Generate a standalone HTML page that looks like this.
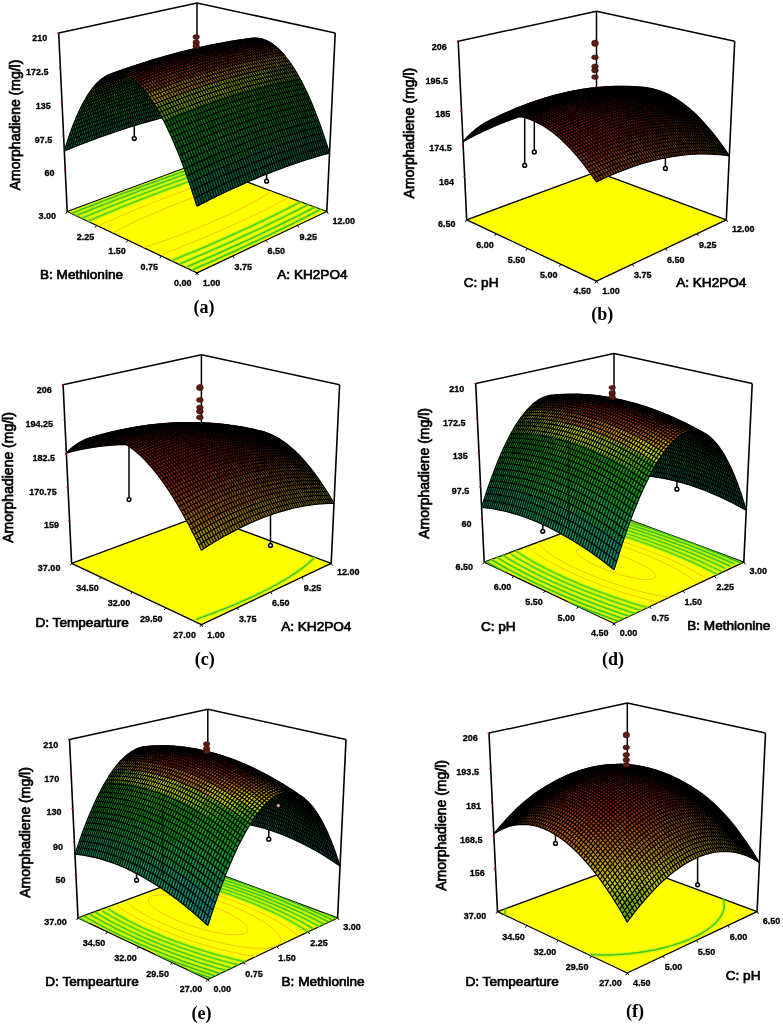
<!DOCTYPE html>
<html><head><meta charset="utf-8"><title>Response surface plots</title>
<style>
html,body{margin:0;padding:0;background:#fff}
svg{display:block;filter:blur(.4px)}
text{font-family:"Liberation Sans",sans-serif;fill:#000}
.tk{font-size:9px;font-weight:bold;stroke:#000;stroke-width:.3px}
.ti{font-size:13.6px;stroke:#000;stroke-width:.7px}
.tz{font-size:14px;stroke:#000;stroke-width:.7px}
.cap{font-family:"Liberation Serif",serif;font-weight:bold;font-size:18px}
</style></head><body>
<svg width="783" height="1025" viewBox="0 0 783 1025">
<rect width="783" height="1025" fill="#fff"/>
<g id="pa"><path d="M197.0 163.5L197.0 2.9M58.7 33.0L197.0 2.9M197.0 2.9L335.2 33.0" fill="none" stroke="#000" stroke-width="1.5"/>
<path d="M67.2 211.5L197.0 272.9L326.8 211.5L197.0 163.5z" fill="#ffff00" stroke="#000" stroke-width="1.3" stroke-linejoin="round"/>
<g fill="none" stroke-linecap="round" clip-path="url(#fla)">
<clipPath id="fla"><path d="M67.2 211.5L197.0 272.9L326.8 211.5L197.0 163.5z"/></clipPath>
<path d="M320.6 209.3l-4 2.1l-4.1 2.1l-3.6 1.8l-3.3 1.8l-4.3 2.1l-4.3 2.2l-4.4 2.2l-4.4 2.2l-4.5 2.2l-4.6 2.2l-4.6 2.2l-4.7 2.3l-4.8 2.2l-4.8 2.3l-4.9 2.3l-4.9 2.3l-5 2.4l-5.1 2.3l-5.2 2.4l-5.2 2.3l-5.3 2.4l-5.4 2.4l-5.4 2.4l-5.5 2.5l-5.6 2.4l-5.6 2.5l-3.9 1.6" stroke="#a0f000" stroke-width="4.2" opacity=".5"/>
<path d="M320.6 209.3l-4 2.1l-4.1 2.1l-3.6 1.8l-3.3 1.8l-4.3 2.1l-4.3 2.2l-4.4 2.2l-4.4 2.2l-4.5 2.2l-4.6 2.2l-4.6 2.2l-4.7 2.3l-4.8 2.2l-4.8 2.3l-4.9 2.3l-4.9 2.3l-5 2.4l-5.1 2.3l-5.2 2.4l-5.2 2.3l-5.3 2.4l-5.4 2.4l-5.4 2.4l-5.5 2.5l-5.6 2.4l-5.6 2.5l-3.9 1.6" stroke="#3cc324" stroke-width="1.60"/>
<path d="M71.4 213.5l5.3-2.1l5.2-2.1l5.2-2l5.2-2.1l5.1-2l5.1-1.9l5.1-2l5-1.9l5-1.9l5-1.9l5-1.9l4.9-1.8l4.9-1.8l4.8-1.8l4.9-1.8l4.8-1.8l4.8-1.7l4.7-1.7l4.8-1.7l4.7-1.7l4.7-1.6l4.6-1.7l4.7-1.6l4.6-1.6l4.3-1.4l3.3-1.2l4.6-1.5" stroke="#a0f000" stroke-width="4.2" opacity=".5"/>
<path d="M71.4 213.5l5.3-2.1l5.2-2.1l5.2-2l5.2-2.1l5.1-2l5.1-1.9l5.1-2l5-1.9l5-1.9l5-1.9l5-1.9l4.9-1.8l4.9-1.8l4.8-1.8l4.9-1.8l4.8-1.8l4.8-1.7l4.7-1.7l4.8-1.7l4.7-1.7l4.7-1.6l4.6-1.7l4.7-1.6l4.6-1.6l4.3-1.4l3.3-1.2l4.6-1.5" stroke="#3cc324" stroke-width="1.60"/>
<path d="M314.8 207.1l-4 2.1l-4.1 2.1l-4.1 2.1l-4.2 2.2l-3.1 1.5l-4.1 2l-4.4 2.2l-4.4 2.2l-4.5 2.2l-4.5 2.2l-4.7 2.2l-4.6 2.2l-4.8 2.3l-4.8 2.2l-4.9 2.3l-5 2.3l-5 2.3l-5.1 2.3l-5.1 2.3l-5.3 2.4l-5.3 2.3l-5.3 2.4l-5.5 2.4l-5.5 2.4l-3.7 1.6l-5.7 2.4l-5.7 2.5" stroke="#a0f000" stroke-width="4.2" opacity=".5"/>
<path d="M314.8 207.1l-4 2.1l-4.1 2.1l-4.1 2.1l-4.2 2.2l-3.1 1.5l-4.1 2l-4.4 2.2l-4.4 2.2l-4.5 2.2l-4.5 2.2l-4.7 2.2l-4.6 2.2l-4.8 2.3l-4.8 2.2l-4.9 2.3l-5 2.3l-5 2.3l-5.1 2.3l-5.1 2.3l-5.3 2.4l-5.3 2.3l-5.3 2.4l-5.5 2.4l-5.5 2.4l-3.7 1.6l-5.7 2.4l-5.7 2.5" stroke="#44c722" stroke-width="1.60"/>
<path d="M76.1 215.7l5.2-2.1l3.5-1.4l5.2-2.1l5.2-2.1l5.1-2l5.1-2l5.1-2l5.1-2l5-1.9l5-1.9l4.9-1.9l4.9-1.9l4.9-1.8l4.9-1.8l4.9-1.8l4.8-1.8l4.8-1.8l4.8-1.7l4.7-1.7l4.8-1.7l4.7-1.7l4.6-1.6l4.7-1.6l3.1-1.1l4.6-1.6l4.6-1.6l4.6-1.5" stroke="#a0f000" stroke-width="4.2" opacity=".5"/>
<path d="M76.1 215.7l5.2-2.1l3.5-1.4l5.2-2.1l5.2-2.1l5.1-2l5.1-2l5.1-2l5.1-2l5-1.9l5-1.9l4.9-1.9l4.9-1.9l4.9-1.8l4.9-1.8l4.9-1.8l4.8-1.8l4.8-1.8l4.8-1.7l4.7-1.7l4.8-1.7l4.7-1.7l4.6-1.6l4.7-1.6l3.1-1.1l4.6-1.6l4.6-1.6l4.6-1.5" stroke="#44c722" stroke-width="1.60"/>
<path d="M308 204.6l-4 2.1l-4 2.1l-2.8 1.4l-4.1 2.1l-4.2 2.1l-4.3 2.2l-4.4 2.1l-4.4 2.2l-4.5 2.1l-4.5 2.2l-4.7 2.2l-4.6 2.2l-4.8 2.3l-4.8 2.2l-4.9 2.2l-5 2.3l-5 2.3l-5.1 2.3l-5.2 2.3l-5.2 2.3l-5.3 2.3l-5.4 2.3l-5.5 2.4l-5.5 2.3l-5.6 2.4l-5.7 2.4l-3.9 1.6" stroke="#a0f000" stroke-width="4.2" opacity=".5"/>
<path d="M308 204.6l-4 2.1l-4 2.1l-2.8 1.4l-4.1 2.1l-4.2 2.1l-4.3 2.2l-4.4 2.1l-4.4 2.2l-4.5 2.1l-4.5 2.2l-4.7 2.2l-4.6 2.2l-4.8 2.3l-4.8 2.2l-4.9 2.2l-5 2.3l-5 2.3l-5.1 2.3l-5.2 2.3l-5.2 2.3l-5.3 2.3l-5.4 2.3l-5.5 2.4l-5.5 2.3l-5.6 2.4l-5.7 2.4l-3.9 1.6" stroke="#4dcc21" stroke-width="1.60"/>
<path d="M81.6 218.3l5.2-2.1l5.2-2.2l5.2-2.1l5.1-2.1l5.1-2l5.1-2.1l5.1-2l5-2l5-1.9l5-1.9l4.9-1.9l5-1.9l4.9-1.9l4.8-1.8l4.9-1.8l4.8-1.8l4.8-1.8l4.8-1.7l4.8-1.7l4.7-1.7l4.7-1.7l4.7-1.6l4.7-1.7l4.6-1.6l4.2-1.4l3.6-1.2l4.6-1.6" stroke="#a0f000" stroke-width="4.2" opacity=".5"/>
<path d="M81.6 218.3l5.2-2.1l5.2-2.2l5.2-2.1l5.1-2.1l5.1-2l5.1-2.1l5.1-2l5-2l5-1.9l5-1.9l4.9-1.9l5-1.9l4.9-1.9l4.8-1.8l4.9-1.8l4.8-1.8l4.8-1.8l4.8-1.7l4.8-1.7l4.7-1.7l4.7-1.7l4.7-1.6l4.7-1.7l4.6-1.6l4.2-1.4l3.6-1.2l4.6-1.6" stroke="#4dcc21" stroke-width="1.60"/>
<path d="M300.6 201.9l-3.9 2l-4 2.1l-4.1 2.1l-2.8 1.4l-4.2 2.1l-4.3 2.2l-4.3 2.1l-4.4 2.1l-4.5 2.2l-4.5 2.1l-4.6 2.2l-4.7 2.2l-4.7 2.2l-4.9 2.2l-4.8 2.2l-5 2.3l-5 2.2l-5.2 2.3l-5.1 2.2l-5.3 2.3l-5.3 2.3l-5.4 2.3l-5.5 2.3l-5.6 2.3l-5.7 2.3l-3.8 1.6l-5.8 2.3" stroke="#a0f000" stroke-width="4.2" opacity=".5"/>
<path d="M300.6 201.9l-3.9 2l-4 2.1l-4.1 2.1l-2.8 1.4l-4.2 2.1l-4.3 2.2l-4.3 2.1l-4.4 2.1l-4.5 2.2l-4.5 2.1l-4.6 2.2l-4.7 2.2l-4.7 2.2l-4.9 2.2l-4.8 2.2l-5 2.3l-5 2.2l-5.2 2.3l-5.1 2.2l-5.3 2.3l-5.3 2.3l-5.4 2.3l-5.5 2.3l-5.6 2.3l-5.7 2.3l-3.8 1.6l-5.8 2.3" stroke="#56d01f" stroke-width="1.60"/>
<path d="M87.7 221.2l3.5-1.4l5.2-2.2l5.1-2.2l5.2-2.1l5.1-2.1l5.1-2.1l5-2.1l5-2l5-2l5-1.9l5-2l4.9-1.9l4.9-1.9l4.9-1.8l4.9-1.9l4.8-1.8l4.8-1.7l4.8-1.8l4.8-1.7l4.8-1.8l4.7-1.6l4.8-1.7l4.7-1.7l4.7-1.6l3.1-1.1l4.7-1.6l4.7-1.5" stroke="#a0f000" stroke-width="4.2" opacity=".5"/>
<path d="M87.7 221.2l3.5-1.4l5.2-2.2l5.1-2.2l5.2-2.1l5.1-2.1l5.1-2.1l5-2.1l5-2l5-2l5-1.9l5-2l4.9-1.9l4.9-1.9l4.9-1.8l4.9-1.9l4.8-1.8l4.8-1.7l4.8-1.8l4.8-1.7l4.8-1.8l4.7-1.6l4.8-1.7l4.7-1.7l4.7-1.6l3.1-1.1l4.7-1.6l4.7-1.5" stroke="#56d01f" stroke-width="1.60"/>
<path d="M288.8 197.5l-3.8 2.1l-3.9 2l-2.7 1.5l-4.1 2.1l-4.1 2.1l-4.2 2.1l-4.3 2.1l-2.9 1.4l-4.4 2.1l-4.5 2.2l-4.5 2.1l-4.6 2.1l-4.8 2.2l-4.7 2.2l-4.9 2.1l-5 2.2l-5 2.2l-5.1 2.2l-5.2 2.2l-5.2 2.2l-5.4 2.2l-5.4 2.2l-3.7 1.5l-5.6 2.3l-5.6 2.2l-5.8 2.2l-5.8 2.3" stroke="#f2c000" stroke-width="0.90"/>
<path d="M97.8 226l5.1-2.3l5.1-2.3l5.1-2.2l5.1-2.2l3.3-1.4l5.1-2.2l5-2.1l5-2.1l5-2l4.9-2l5-2l4.9-1.9l4.9-2l4.9-1.8l4.9-1.9l4.9-1.8l4.8-1.8l4.9-1.8l4.8-1.8l4.8-1.7l3.4-1.2l4.6-1.6l4.8-1.7l4.8-1.6l4.8-1.6l4.3-1.5l3.7-1.2" stroke="#f2c000" stroke-width="0.90"/>
<path d="M271.6 191.1l-3.3 2.3l-2.3 1.4l-3.6 2.2l-2.6 1.5l-3.7 2.1l-3.9 2.2l-3.8 2l-3 1.5l-4.3 2.2l-4.3 2.1l-4.4 2.1l-4.5 2.2l-4.6 2.1l-3.2 1.4l-4.8 2.1l-4.9 2.1l-5 2.2l-5 2.1l-3.5 1.4l-5.3 2.1l-5.3 2.1l-5.5 2.1l-5.6 2.1l-5.6 2.1l-3.9 1.4l-5.9 2l-6 2.1l-4.1 1.3l-6.3 2" stroke="#f2c000" stroke-width="0.90"/>
<path d="M112.6 233l3.8-2.1l4.1-2.1l4.9-2.4l4.3-2.2l3.8-1.8l4.8-2.2l4.9-2.3l4.9-2.2l4.9-2.1l3.3-1.4l4.9-2.1l4.9-2l4.9-2l4.9-2l4.9-1.9l5-1.9l4.9-1.8l3.3-1.2l4.9-1.8l5-1.8l5-1.7l5-1.7l3.3-1.1l5.1-1.6l5.1-1.5l3.4-1l5.2-1.5l3.4-1l5.4-1.4" stroke="#f2c000" stroke-width="0.90"/>
</g>
<path d="M197.0 272.9l-1.5 2.2M197.0 272.9l1.5 2.2M161.3 256.0l-1.5 2.2M232.7 256.0l1.5 2.2M127.9 240.2l-1.5 2.2M266.1 240.2l1.5 2.2M96.6 225.4l-1.5 2.2M297.4 225.4l1.5 2.2M67.2 211.5l-1.5 2.2M326.8 211.5l1.5 2.2" stroke="#000" stroke-width="1" fill="none"/>
<path d="M67.2 211.5L58.7 33.0M326.8 211.5L335.2 33.0" fill="none" stroke="#000" stroke-width="1.6"/>
<path d="M59.0 33.0h-1.6M60.7 68.1h-1.6M62.3 102.4h-1.6M63.9 135.9h-1.6M65.5 168.6h-1.6" stroke="#c00000" stroke-width="1.4" fill="none"/>
<path d="M134.3 124.0V137.1" stroke="#000" stroke-width="1.5"/>
<circle cx="134.3" cy="138.6" r="1.9" fill="#fff" stroke="#000" stroke-width="1.5"/>
<path d="M266.6 172.0V179.7" stroke="#000" stroke-width="1.5"/>
<circle cx="266.6" cy="181.2" r="1.9" fill="#fff" stroke="#000" stroke-width="1.5"/>
<g stroke-width=".5" stroke-linejoin="round">
<path d="M169.6 101.3l7-1.6l-6.5 16.1l-6.9 1.7z" fill="#007040" stroke="#007040"/>
<path d="M162.5 103.1l7.1-1.8l-6.4 16.2l-7.1 1.9z" fill="#00713f" stroke="#00713f"/>
<path d="M176.2 86.9l7-1.6l-6.6 14.4l-7 1.6z" fill="#007721" stroke="#007721"/>
<path d="M155.3 104.9l7.2-1.8l-6.4 16.3l-7.1 1.9z" fill="#00713f" stroke="#00713f"/>
<path d="M169.1 88.6l7.1-1.7l-6.6 14.4l-7.1 1.8z" fill="#007820" stroke="#007820"/>
<path d="M239.6 40.5l6.7-0.9l-7.4 3.9l-6.7 1z" fill="#a45200" stroke="#a45200"/>
<path d="M148.1 106.9l7.2-2l-6.3 16.4l-7.2 2.1z" fill="#00713f" stroke="#00713f"/>
<path d="M161.8 90.4l7.3-1.8l-6.6 14.5l-7.2 1.8z" fill="#007820" stroke="#007820"/>
<path d="M232.7 41.6l6.9-1.1l-7.4 4l-6.9 1z" fill="#a04a00" stroke="#a04a00"/>
<path d="M247.1 38.9l6.7-0.9l-7.5 1.6l-6.7 0.9z" fill="#8f2500" stroke="#8f2500"/>
<path d="M140.7 109l7.4-2.1l-6.3 16.5l-7.3 2.2z" fill="#00713e" stroke="#00713e"/>
<path d="M154.5 92.3l7.3-1.9l-6.5 14.5l-7.2 2z" fill="#007820" stroke="#007820"/>
<path d="M168.5 77.7l7.3-1.7l-6.7 12.6l-7.3 1.8z" fill="#037b0f" stroke="#037b0f"/>
<path d="M225.8 42.7l6.9-1.1l-7.4 3.9l-6.9 1.1z" fill="#9d4300" stroke="#9d4300"/>
<path d="M240.2 39.9l6.9-1l-7.5 1.6l-6.9 1.1z" fill="#8b1c00" stroke="#8b1c00"/>
<path d="M254.6 39.6l6.8-0.9l-7.6-0.7l-6.7 0.9z" fill="#871400" stroke="#871400"/>
<path d="M133.2 111.3l7.5-2.3l-6.2 16.6l-7.4 2.3z" fill="#00723e" stroke="#00723e"/>
<path d="M147.1 94.3l7.4-2l-6.4 14.6l-7.4 2.1z" fill="#00781f" stroke="#00781f"/>
<path d="M247.8 40.6l6.8-1l-7.5-0.7l-6.9 1z" fill="#861300" stroke="#861300"/>
<path d="M262.3 42.6l6.7-0.9l-7.6-3l-6.8 0.9z" fill="#841400" stroke="#841400"/>
<path d="M161.2 79.6l7.3-1.9l-6.7 12.7l-7.3 1.9z" fill="#037b0f" stroke="#037b0f"/>
<path d="M218.7 43.9l7.1-1.2l-7.4 3.9l-7 1.3z" fill="#9a3c00" stroke="#9a3c00"/>
<path d="M233.3 41l6.9-1.1l-7.5 1.7l-6.9 1.1z" fill="#881500" stroke="#881500"/>
<path d="M125.7 113.6l7.5-2.3l-6.1 16.6l-7.5 2.4z" fill="#00723f" stroke="#00723f"/>
<path d="M139.6 96.5l7.5-2.2l-6.4 14.7l-7.5 2.3z" fill="#00791f" stroke="#00791f"/>
<path d="M153.7 81.6l7.5-2l-6.7 12.7l-7.4 2z" fill="#037b0e" stroke="#037b0e"/>
<path d="M168 68.9l7.4-1.8l-6.9 10.6l-7.3 1.9z" fill="#0c8000" stroke="#0c8000"/>
<path d="M211.6 45.3l7.1-1.4l-7.3 4l-7.2 1.3z" fill="#983700" stroke="#983700"/>
<path d="M226.2 42.3l7.1-1.3l-7.5 1.7l-7.1 1.2z" fill="#881500" stroke="#881500"/>
<path d="M240.8 41.7l7-1.1l-7.6-0.7l-6.9 1.1z" fill="#861300" stroke="#861300"/>
<path d="M255.4 43.7l6.9-1.1l-7.7-3l-6.8 1z" fill="#841300" stroke="#841300"/>
<path d="M269.9 48.1l6.8-1l-7.7-5.4l-6.7 0.9z" fill="#882400" stroke="#882400"/>
<path d="M118 116.1l7.7-2.5l-6.1 16.7l-7.6 2.6z" fill="#00723f" stroke="#00723f"/>
<path d="M132 98.8l7.6-2.3l-6.4 14.8l-7.5 2.3z" fill="#007920" stroke="#007920"/>
<path d="M146.2 83.7l7.5-2.1l-6.6 12.7l-7.5 2.2z" fill="#037b0e" stroke="#037b0e"/>
<path d="M160.5 70.9l7.5-2l-6.8 10.7l-7.5 2z" fill="#0e8100" stroke="#0e8100"/>
<path d="M204.3 46.7l7.3-1.4l-7.4 3.9l-7.2 1.5z" fill="#963200" stroke="#963200"/>
<path d="M219.1 43.6l7.1-1.3l-7.5 1.6l-7.1 1.4z" fill="#881400" stroke="#881400"/>
<path d="M233.8 43l7-1.3l-7.5-0.7l-7.1 1.3z" fill="#861200" stroke="#861200"/>
<path d="M248.5 44.8l6.9-1.1l-7.6-3.1l-7 1.1z" fill="#841200" stroke="#841200"/>
<path d="M263.1 49.2l6.8-1.1l-7.6-5.5l-6.9 1.1z" fill="#851c00" stroke="#851c00"/>
<path d="M277.6 56l6.7-1l-7.6-7.9l-6.8 1z" fill="#984d00" stroke="#984d00"/>
<path d="M110.3 118.7l7.7-2.6l-6 16.8l-7.7 2.7z" fill="#00723f" stroke="#00723f"/>
<path d="M124.3 101.2l7.7-2.4l-6.3 14.8l-7.7 2.5z" fill="#007920" stroke="#007920"/>
<path d="M138.5 85.9l7.7-2.2l-6.6 12.8l-7.6 2.3z" fill="#037c0e" stroke="#037c0e"/>
<path d="M152.9 72.9l7.6-2l-6.8 10.7l-7.5 2.1z" fill="#0e8200" stroke="#0e8200"/>
<path d="M197 48.3l7.3-1.6l-7.3 4l-7.4 1.6z" fill="#952f00" stroke="#952f00"/>
<path d="M211.8 45.1l7.3-1.5l-7.5 1.7l-7.3 1.4z" fill="#881300" stroke="#881300"/>
<path d="M226.6 44.3l7.2-1.3l-7.6-0.7l-7.1 1.3z" fill="#861100" stroke="#861100"/>
<path d="M241.5 46.1l7-1.3l-7.7-3.1l-7 1.3z" fill="#841200" stroke="#841200"/>
<path d="M256.2 50.4l6.9-1.2l-7.7-5.5l-6.9 1.1z" fill="#821500" stroke="#821500"/>
<path d="M270.8 57.2l6.8-1.2l-7.7-7.9l-6.8 1.1z" fill="#944600" stroke="#944600"/>
<path d="M285.3 66.4l6.7-1.1l-7.7-10.3l-6.7 1z" fill="#a49000" stroke="#a49000"/>
<path d="M102.4 121.5l7.9-2.8l-6 16.9l-7.8 2.8z" fill="#007240" stroke="#007240"/>
<path d="M116.5 103.7l7.8-2.5l-6.3 14.9l-7.7 2.6z" fill="#007920" stroke="#007920"/>
<path d="M159.9 64.3l7.6-2l-7 8.6l-7.6 2z" fill="#9bb200" stroke="#9bb200"/>
<path d="M219.4 45.8l7.2-1.5l-7.5-0.7l-7.3 1.5z" fill="#861100" stroke="#861100"/>
<path d="M234.3 47.5l7.2-1.4l-7.7-3.1l-7.2 1.3z" fill="#841100" stroke="#841100"/>
<path d="M278.5 67.6l6.8-1.2l-7.7-10.4l-6.8 1.2z" fill="#a38800" stroke="#a38800"/>
<path d="M293 79.2l6.6-1.2l-7.6-12.7l-6.7 1.1z" fill="#4e8700" stroke="#4e8700"/>
<path d="M130.7 88.3l7.8-2.4l-6.5 12.9l-7.7 2.4z" fill="#037c0f" stroke="#037c0f"/>
<path d="M145.2 75.1l7.7-2.2l-6.7 10.8l-7.7 2.2z" fill="#0e8200" stroke="#0e8200"/>
<path d="M189.5 50l7.5-1.7l-7.4 4l-7.4 1.8z" fill="#942c00" stroke="#942c00"/>
<path d="M204.5 46.7l7.3-1.6l-7.5 1.6l-7.3 1.6z" fill="#881300" stroke="#881300"/>
<path d="M249.2 51.7l7-1.3l-7.7-5.6l-7 1.3z" fill="#811400" stroke="#811400"/>
<path d="M263.9 58.4l6.9-1.2l-7.7-8l-6.9 1.2z" fill="#913f00" stroke="#913f00"/>
<path d="M94.5 124.4l7.9-2.9l-5.9 16.9l-7.9 3z" fill="#007241" stroke="#007241"/>
<path d="M108.5 106.4l8-2.7l-6.2 15l-7.9 2.8z" fill="#007a20" stroke="#007a20"/>
<path d="M122.9 90.7l7.8-2.4l-6.4 12.9l-7.8 2.5z" fill="#037c0f" stroke="#037c0f"/>
<path d="M137.4 77.4l7.8-2.3l-6.7 10.8l-7.8 2.4z" fill="#0d8200" stroke="#0d8200"/>
<path d="M152.1 66.4l7.8-2.1l-7 8.6l-7.7 2.2z" fill="#9bb200" stroke="#9bb200"/>
<path d="M182 51.9l7.5-1.9l-7.3 4.1l-7.5 1.8z" fill="#932a00" stroke="#932a00"/>
<path d="M197 48.4l7.5-1.7l-7.5 1.6l-7.5 1.7z" fill="#881300" stroke="#881300"/>
<path d="M212 47.4l7.4-1.6l-7.6-0.7l-7.3 1.6z" fill="#861000" stroke="#861000"/>
<path d="M227.1 49l7.2-1.5l-7.7-3.2l-7.2 1.5z" fill="#841000" stroke="#841000"/>
<path d="M242 53.2l7.2-1.5l-7.7-5.6l-7.2 1.4z" fill="#811300" stroke="#811300"/>
<path d="M256.9 59.8l7-1.4l-7.7-8l-7 1.3z" fill="#8f3900" stroke="#8f3900"/>
<path d="M271.7 69l6.8-1.4l-7.7-10.4l-6.9 1.2z" fill="#a18000" stroke="#a18000"/>
<path d="M286.2 80.5l6.8-1.3l-7.7-12.8l-6.8 1.2z" fill="#598b00" stroke="#598b00"/>
<path d="M300.6 94.5l6.6-1.4l-7.6-15.1l-6.6 1.2z" fill="#046b03" stroke="#046b03"/>
<path d="M86.4 127.4l8.1-3l-5.9 17l-8 3z" fill="#007242" stroke="#007242"/>
<path d="M100.5 109.2l8-2.8l-6.1 15.1l-7.9 2.9z" fill="#007a21" stroke="#007a21"/>
<path d="M114.9 93.4l8-2.7l-6.4 13l-8 2.7z" fill="#037c0f" stroke="#037c0f"/>
<path d="M129.5 79.8l7.9-2.4l-6.7 10.9l-7.8 2.4z" fill="#0b8100" stroke="#0b8100"/>
<path d="M144.3 68.7l7.8-2.3l-6.9 8.7l-7.8 2.3z" fill="#9ab200" stroke="#9ab200"/>
<path d="M174.3 53.9l7.7-2l-7.3 4l-7.7 2z" fill="#932a00" stroke="#932a00"/>
<path d="M189.4 50.2l7.6-1.8l-7.5 1.6l-7.5 1.9z" fill="#881300" stroke="#881300"/>
<path d="M204.6 49.2l7.4-1.8l-7.5-0.7l-7.5 1.7z" fill="#861000" stroke="#861000"/>
<path d="M219.7 50.7l7.4-1.7l-7.7-3.2l-7.4 1.6z" fill="#841000" stroke="#841000"/>
<path d="M234.8 54.7l7.2-1.5l-7.7-5.7l-7.2 1.5z" fill="#811300" stroke="#811300"/>
<path d="M249.8 61.3l7.1-1.5l-7.7-8.1l-7.2 1.5z" fill="#8d3400" stroke="#8d3400"/>
<path d="M264.7 70.4l7-1.4l-7.8-10.6l-7 1.4z" fill="#a07a00" stroke="#a07a00"/>
<path d="M279.4 82l6.8-1.5l-7.7-12.9l-6.8 1.4z" fill="#628e00" stroke="#628e00"/>
<path d="M293.9 95.9l6.7-1.4l-7.6-15.3l-6.8 1.3z" fill="#046b03" stroke="#046b03"/>
<path d="M308.2 112.2l6.5-1.5l-7.5-17.6l-6.6 1.4z" fill="#026710" stroke="#026710"/>
<path d="M78.2 130.5l8.2-3.1l-5.8 17l-8.1 3.3z" fill="#007243" stroke="#007243"/>
<path d="M92.4 112.2l8.1-3l-6 15.2l-8.1 3z" fill="#007a22" stroke="#007a22"/>
<path d="M136.3 71.1l8-2.4l-6.9 8.7l-7.9 2.4z" fill="#97b200" stroke="#97b200"/>
<path d="M197 51.1l7.6-1.9l-7.6-0.8l-7.6 1.8z" fill="#861000" stroke="#861000"/>
<path d="M257.6 72l7.1-1.6l-7.8-10.6l-7.1 1.5z" fill="#a07400" stroke="#a07400"/>
<path d="M301.5 113.8l6.7-1.6l-7.6-17.7l-6.7 1.4z" fill="#02670f" stroke="#02670f"/>
<path d="M315.7 132.3l6.5-1.6l-7.5-20l-6.5 1.5z" fill="#006320" stroke="#006320"/>
<path d="M106.8 96.1l8.1-2.7l-6.4 13l-8 2.8z" fill="#037d10" stroke="#037d10"/>
<path d="M121.5 82.4l8-2.6l-6.6 10.9l-8 2.7z" fill="#088100" stroke="#088100"/>
<path d="M151.4 62.3l7.8-2.3l-7.1 6.4l-7.8 2.3z" fill="#b17200" stroke="#b17200"/>
<path d="M166.5 56l7.8-2.1l-7.3 4l-7.8 2.1z" fill="#942a00" stroke="#942a00"/>
<path d="M181.7 52.2l7.7-2l-7.4 1.7l-7.7 2z" fill="#891300" stroke="#891300"/>
<path d="M212.2 52.5l7.5-1.8l-7.7-3.3l-7.4 1.8z" fill="#841000" stroke="#841000"/>
<path d="M227.5 56.4l7.3-1.7l-7.7-5.7l-7.4 1.7z" fill="#811200" stroke="#811200"/>
<path d="M242.6 63l7.2-1.7l-7.8-8.1l-7.2 1.5z" fill="#8b3000" stroke="#8b3000"/>
<path d="M272.5 83.6l6.9-1.6l-7.7-13l-7 1.4z" fill="#6b9100" stroke="#6b9100"/>
<path d="M287.1 97.5l6.8-1.6l-7.7-15.4l-6.8 1.5z" fill="#046b02" stroke="#046b02"/>
<path d="M69.9 133.8l8.3-3.3l-5.7 17.2l-8.2 3.3z" fill="#007244" stroke="#007244"/>
<path d="M84.1 115.3l8.3-3.1l-6 15.2l-8.2 3.1z" fill="#007a23" stroke="#007a23"/>
<path d="M98.6 99l8.2-2.9l-6.3 13.1l-8.1 3z" fill="#037d10" stroke="#037d10"/>
<path d="M128.3 73.7l8-2.6l-6.8 8.7l-8 2.6z" fill="#93b100" stroke="#93b100"/>
<path d="M143.4 64.7l8-2.4l-7.1 6.4l-8 2.4z" fill="#b27500" stroke="#b27500"/>
<path d="M189.3 53.1l7.7-2l-7.6-0.9l-7.7 2z" fill="#871000" stroke="#871000"/>
<path d="M204.7 54.4l7.5-1.9l-7.6-3.3l-7.6 1.9z" fill="#841000" stroke="#841000"/>
<path d="M250.4 73.8l7.2-1.8l-7.8-10.7l-7.2 1.7z" fill="#9f7000" stroke="#9f7000"/>
<path d="M265.4 85.3l7.1-1.7l-7.8-13.2l-7.1 1.6z" fill="#729400" stroke="#729400"/>
<path d="M294.8 115.5l6.7-1.7l-7.6-17.9l-6.8 1.6z" fill="#02670f" stroke="#02670f"/>
<path d="M309.1 134l6.6-1.7l-7.5-20.1l-6.7 1.6z" fill="#00631f" stroke="#00631f"/>
<path d="M323.1 154.8l6.4-1.8l-7.3-22.3l-6.5 1.6z" fill="#005c3a" stroke="#005c3a"/>
<path d="M113.4 85.1l8.1-2.7l-6.6 11l-8.1 2.7z" fill="#058000" stroke="#058000"/>
<path d="M158.6 58.2l7.9-2.2l-7.3 4l-7.8 2.3z" fill="#952c00" stroke="#952c00"/>
<path d="M173.9 54.3l7.8-2.1l-7.4 1.7l-7.8 2.1z" fill="#891300" stroke="#891300"/>
<path d="M220 58.3l7.5-1.9l-7.8-5.7l-7.5 1.8z" fill="#821200" stroke="#821200"/>
<path d="M235.3 64.7l7.3-1.7l-7.8-8.3l-7.3 1.7z" fill="#8a2d00" stroke="#8a2d00"/>
<path d="M280.2 99.2l6.9-1.7l-7.7-15.5l-6.9 1.6z" fill="#046c01" stroke="#046c01"/>
<path d="M75.8 118.5l8.3-3.2l-5.9 15.2l-8.3 3.3z" fill="#007a24" stroke="#007a24"/>
<path d="M90.3 102.1l8.3-3.1l-6.2 13.2l-8.3 3.1z" fill="#027d11" stroke="#027d11"/>
<path d="M105.1 88l8.3-2.9l-6.6 11l-8.2 2.9z" fill="#058001" stroke="#058001"/>
<path d="M120.1 76.3l8.2-2.6l-6.8 8.7l-8.1 2.7z" fill="#8daf00" stroke="#8daf00"/>
<path d="M135.3 67.2l8.1-2.5l-7.1 6.4l-8 2.6z" fill="#b47900" stroke="#b47900"/>
<path d="M150.6 60.6l8-2.4l-7.2 4.1l-8 2.4z" fill="#962e00" stroke="#962e00"/>
<path d="M181.5 55.2l7.8-2.1l-7.6-0.9l-7.8 2.1z" fill="#871000" stroke="#871000"/>
<path d="M197 56.4l7.7-2l-7.7-3.3l-7.7 2z" fill="#851000" stroke="#851000"/>
<path d="M212.4 60.2l7.6-1.9l-7.8-5.8l-7.5 1.9z" fill="#821200" stroke="#821200"/>
<path d="M243.1 75.6l7.3-1.8l-7.8-10.8l-7.3 1.7z" fill="#9f6c00" stroke="#9f6c00"/>
<path d="M258.3 87.1l7.1-1.8l-7.8-13.3l-7.2 1.8z" fill="#789600" stroke="#789600"/>
<path d="M273.2 101l7-1.8l-7.7-15.6l-7.1 1.7z" fill="#046c01" stroke="#046c01"/>
<path d="M287.9 117.3l6.9-1.8l-7.7-18l-6.9 1.7z" fill="#02680e" stroke="#02680e"/>
<path d="M302.4 135.9l6.7-1.9l-7.6-20.2l-6.7 1.7z" fill="#00631e" stroke="#00631e"/>
<path d="M316.5 156.7l6.6-1.9l-7.4-22.5l-6.6 1.7z" fill="#005c39" stroke="#005c39"/>
<path d="M166 56.6l7.9-2.3l-7.4 1.7l-7.9 2.2z" fill="#8a1300" stroke="#8a1300"/>
<path d="M227.8 66.6l7.5-1.9l-7.8-8.3l-7.5 1.9z" fill="#892a00" stroke="#892a00"/>
<path d="M81.9 105.3l8.4-3.2l-6.2 13.2l-8.3 3.2z" fill="#027e12" stroke="#027e12"/>
<path d="M96.8 91l8.3-3l-6.5 11l-8.3 3.1z" fill="#058101" stroke="#058101"/>
<path d="M111.8 79.2l8.3-2.9l-6.7 8.8l-8.3 2.9z" fill="#86ad00" stroke="#86ad00"/>
<path d="M127.1 69.9l8.2-2.7l-7 6.5l-8.2 2.6z" fill="#b57f00" stroke="#b57f00"/>
<path d="M142.5 63.1l8.1-2.5l-7.2 4.1l-8.1 2.5z" fill="#983100" stroke="#983100"/>
<path d="M158 59l8-2.4l-7.4 1.6l-8 2.4z" fill="#8a1300" stroke="#8a1300"/>
<path d="M173.6 57.5l7.9-2.3l-7.6-0.9l-7.9 2.3z" fill="#881000" stroke="#881000"/>
<path d="M189.2 58.6l7.8-2.2l-7.7-3.3l-7.8 2.1z" fill="#851000" stroke="#851000"/>
<path d="M204.8 62.3l7.6-2.1l-7.7-5.8l-7.7 2z" fill="#821200" stroke="#821200"/>
<path d="M220.3 68.7l7.5-2.1l-7.8-8.3l-7.6 1.9z" fill="#892900" stroke="#892900"/>
<path d="M235.7 77.6l7.4-2l-7.8-10.9l-7.5 1.9z" fill="#9e6900" stroke="#9e6900"/>
<path d="M251 89l7.3-1.9l-7.9-13.3l-7.3 1.8z" fill="#7d9800" stroke="#7d9800"/>
<path d="M266.1 103l7.1-2l-7.8-15.7l-7.1 1.8z" fill="#046c00" stroke="#046c00"/>
<path d="M281 119.3l6.9-2l-7.7-18.1l-7 1.8z" fill="#02680e" stroke="#02680e"/>
<path d="M295.6 137.9l6.8-2l-7.6-20.4l-6.9 1.8z" fill="#00641d" stroke="#00641d"/>
<path d="M309.9 158.7l6.6-2l-7.4-22.7l-6.7 1.9z" fill="#005c38" stroke="#005c38"/>
<path d="M103.4 82.1l8.4-2.9l-6.7 8.8l-8.3 3z" fill="#7dab00" stroke="#7dab00"/>
<path d="M165.6 59.9l8-2.4l-7.6-0.9l-8 2.4z" fill="#881000" stroke="#881000"/>
<path d="M228.2 79.7l7.5-2.1l-7.9-11l-7.5 2.1z" fill="#9f6800" stroke="#9f6800"/>
<path d="M288.7 140l6.9-2.1l-7.7-20.6l-6.9 2z" fill="#00641c" stroke="#00641c"/>
<path d="M88.3 94.1l8.5-3.1l-6.5 11.1l-8.4 3.2z" fill="#058102" stroke="#058102"/>
<path d="M118.8 72.7l8.3-2.8l-7 6.4l-8.3 2.9z" fill="#b78500" stroke="#b78500"/>
<path d="M134.3 65.8l8.2-2.7l-7.2 4.1l-8.2 2.7z" fill="#9b3600" stroke="#9b3600"/>
<path d="M149.9 61.5l8.1-2.5l-7.4 1.6l-8.1 2.5z" fill="#8b1400" stroke="#8b1400"/>
<path d="M181.3 60.9l7.9-2.3l-7.7-3.4l-7.9 2.3z" fill="#861000" stroke="#861000"/>
<path d="M197 64.6l7.8-2.3l-7.8-5.9l-7.8 2.2z" fill="#831200" stroke="#831200"/>
<path d="M212.6 70.8l7.7-2.1l-7.9-8.5l-7.6 2.1z" fill="#892800" stroke="#892800"/>
<path d="M243.6 91.1l7.4-2.1l-7.9-13.4l-7.4 2z" fill="#809a00" stroke="#809a00"/>
<path d="M258.9 105l7.2-2l-7.8-15.9l-7.3 1.9z" fill="#056d00" stroke="#056d00"/>
<path d="M273.9 121.3l7.1-2l-7.8-18.3l-7.1 2z" fill="#02680d" stroke="#02680d"/>
<path d="M303.2 160.8l6.7-2.1l-7.5-22.8l-6.8 2z" fill="#005d37" stroke="#005d37"/>
<path d="M94.9 85.3l8.5-3.2l-6.6 8.9l-8.5 3.1z" fill="#74a800" stroke="#74a800"/>
<path d="M110.3 75.6l8.5-2.9l-7 6.5l-8.4 2.9z" fill="#b98d00" stroke="#b98d00"/>
<path d="M157.4 62.4l8.2-2.5l-7.6-0.9l-8.1 2.5z" fill="#891100" stroke="#891100"/>
<path d="M173.2 63.3l8.1-2.4l-7.7-3.4l-8 2.4z" fill="#861000" stroke="#861000"/>
<path d="M220.6 82l7.6-2.3l-7.9-11l-7.7 2.1z" fill="#9f6700" stroke="#9f6700"/>
<path d="M236.1 93.4l7.5-2.3l-7.9-13.5l-7.5 2.1z" fill="#839b00" stroke="#839b00"/>
<path d="M281.6 142.2l7.1-2.2l-7.7-20.7l-7.1 2z" fill="#00651c" stroke="#00651c"/>
<path d="M296.3 163.1l6.9-2.3l-7.6-22.9l-6.9 2.1z" fill="#005d36" stroke="#005d36"/>
<path d="M125.9 68.6l8.4-2.8l-7.2 4.1l-8.3 2.8z" fill="#9e3b00" stroke="#9e3b00"/>
<path d="M141.6 64.2l8.3-2.7l-7.4 1.6l-8.2 2.7z" fill="#8c1400" stroke="#8c1400"/>
<path d="M189.1 66.9l7.9-2.3l-7.8-6l-7.9 2.3z" fill="#831200" stroke="#831200"/>
<path d="M204.9 73.1l7.7-2.3l-7.8-8.5l-7.8 2.3z" fill="#892900" stroke="#892900"/>
<path d="M251.5 107.3l7.4-2.3l-7.9-16l-7.4 2.1z" fill="#076e00" stroke="#076e00"/>
<path d="M266.7 123.6l7.2-2.3l-7.8-18.3l-7.2 2z" fill="#02680d" stroke="#02680d"/>
<path d="M101.8 78.7l8.5-3.1l-6.9 6.5l-8.5 3.2z" fill="#bb9600" stroke="#bb9600"/>
<path d="M117.4 71.5l8.5-2.9l-7.1 4.1l-8.5 2.9z" fill="#a24200" stroke="#a24200"/>
<path d="M149.1 65.1l8.3-2.7l-7.5-0.9l-8.3 2.7z" fill="#8a1100" stroke="#8a1100"/>
<path d="M165.1 65.9l8.1-2.6l-7.6-3.4l-8.2 2.5z" fill="#871100" stroke="#871100"/>
<path d="M181.1 69.4l8-2.5l-7.8-6l-8.1 2.4z" fill="#841200" stroke="#841200"/>
<path d="M212.8 84.4l7.8-2.4l-8-11.2l-7.7 2.3z" fill="#9f6800" stroke="#9f6800"/>
<path d="M228.5 95.7l7.6-2.3l-7.9-13.7l-7.6 2.3z" fill="#849b00" stroke="#849b00"/>
<path d="M244.1 109.6l7.4-2.3l-7.9-16.2l-7.5 2.3z" fill="#086f00" stroke="#086f00"/>
<path d="M274.5 144.6l7.1-2.4l-7.7-20.9l-7.2 2.3z" fill="#00651b" stroke="#00651b"/>
<path d="M289.3 165.5l7-2.4l-7.6-23.1l-7.1 2.2z" fill="#005d36" stroke="#005d36"/>
<path d="M133.2 67l8.4-2.8l-7.3 1.6l-8.4 2.8z" fill="#8d1500" stroke="#8d1500"/>
<path d="M197 75.6l7.9-2.5l-7.9-8.5l-7.9 2.3z" fill="#8a2a00" stroke="#8a2a00"/>
<path d="M259.4 125.9l7.3-2.3l-7.8-18.6l-7.4 2.3z" fill="#02690d" stroke="#02690d"/>
<path d="M140.8 68l8.3-2.9l-7.5-0.9l-8.4 2.8z" fill="#8b1200" stroke="#8b1200"/>
<path d="M252 128.4l7.4-2.5l-7.9-18.6l-7.4 2.3z" fill="#02690d" stroke="#02690d"/>
<path d="M108.8 74.7l8.6-3.2l-7.1 4.1l-8.5 3.1z" fill="#a64900" stroke="#a64900"/>
<path d="M124.7 70l8.5-3l-7.3 1.6l-8.5 2.9z" fill="#8e1600" stroke="#8e1600"/>
<path d="M156.8 68.7l8.3-2.8l-7.7-3.5l-8.3 2.7z" fill="#881100" stroke="#881100"/>
<path d="M172.9 72.1l8.2-2.7l-7.9-6.1l-8.1 2.6z" fill="#841300" stroke="#841300"/>
<path d="M189 78.2l8-2.6l-7.9-8.7l-8 2.5z" fill="#8c2c00" stroke="#8c2c00"/>
<path d="M205 86.9l7.8-2.5l-7.9-11.3l-7.9 2.5z" fill="#a06a00" stroke="#a06a00"/>
<path d="M220.8 98.2l7.7-2.5l-7.9-13.7l-7.8 2.4z" fill="#849c00" stroke="#849c00"/>
<path d="M236.5 112.1l7.6-2.5l-8-16.2l-7.6 2.3z" fill="#096f00" stroke="#096f00"/>
<path d="M267.3 147.1l7.2-2.5l-7.8-21l-7.3 2.3z" fill="#00651b" stroke="#00651b"/>
<path d="M282.3 168.1l7-2.6l-7.7-23.3l-7.1 2.4z" fill="#005e35" stroke="#005e35"/>
<path d="M132.3 71l8.5-3l-7.6-1l-8.5 3z" fill="#8c1300" stroke="#8c1300"/>
<path d="M148.4 71.6l8.4-2.9l-7.7-3.6l-8.3 2.9z" fill="#891200" stroke="#891200"/>
<path d="M197 89.6l8-2.7l-8-11.3l-8 2.6z" fill="#a16c00" stroke="#a16c00"/>
<path d="M244.5 131.1l7.5-2.7l-7.9-18.8l-7.6 2.5z" fill="#02690d" stroke="#02690d"/>
<path d="M259.9 149.8l7.4-2.7l-7.9-21.2l-7.4 2.5z" fill="#00651b" stroke="#00651b"/>
<path d="M116.1 73.1l8.6-3.1l-7.3 1.5l-8.6 3.2z" fill="#901a00" stroke="#901a00"/>
<path d="M164.7 74.9l8.2-2.8l-7.8-6.2l-8.3 2.8z" fill="#851300" stroke="#851300"/>
<path d="M180.9 80.9l8.1-2.7l-7.9-8.8l-8.2 2.7z" fill="#8e2f00" stroke="#8e2f00"/>
<path d="M213 100.9l7.8-2.7l-8-13.8l-7.8 2.5z" fill="#839c00" stroke="#839c00"/>
<path d="M228.9 114.7l7.6-2.6l-8-16.4l-7.7 2.5z" fill="#096f00" stroke="#096f00"/>
<path d="M275.1 170.8l7.2-2.7l-7.8-23.5l-7.2 2.5z" fill="#005e35" stroke="#005e35"/>
<path d="M123.6 74.1l8.7-3.1l-7.6-1l-8.6 3.1z" fill="#8d1400" stroke="#8d1400"/>
<path d="M139.9 74.6l8.5-3l-7.6-3.6l-8.5 3z" fill="#8a1300" stroke="#8a1300"/>
<path d="M156.3 77.9l8.4-3l-7.9-6.2l-8.4 2.9z" fill="#861400" stroke="#861400"/>
<path d="M188.9 92.4l8.1-2.8l-8-11.4l-8.1 2.7z" fill="#a27000" stroke="#a27000"/>
<path d="M205.1 103.7l7.9-2.8l-8-14l-8 2.7z" fill="#819b00" stroke="#819b00"/>
<path d="M236.9 133.9l7.6-2.8l-8-19l-7.6 2.6z" fill="#02690d" stroke="#02690d"/>
<path d="M252.5 152.6l7.4-2.8l-7.9-21.4l-7.5 2.7z" fill="#00661b" stroke="#00661b"/>
<path d="M267.8 173.6l7.3-2.8l-7.8-23.7l-7.4 2.7z" fill="#005e35" stroke="#005e35"/>
<path d="M172.6 83.8l8.3-2.9l-8-8.8l-8.2 2.8z" fill="#903300" stroke="#903300"/>
<path d="M221.1 117.5l7.8-2.8l-8.1-16.5l-7.8 2.7z" fill="#086f00" stroke="#086f00"/>
<path d="M131.3 77.9l8.6-3.3l-7.6-3.6l-8.7 3.1z" fill="#8b1400" stroke="#8b1400"/>
<path d="M180.7 95.4l8.2-3l-8-11.5l-8.3 2.9z" fill="#a47500" stroke="#a47500"/>
<path d="M197 106.7l8.1-3l-8.1-14.1l-8.1 2.8z" fill="#7d9a00" stroke="#7d9a00"/>
<path d="M213.2 120.5l7.9-3l-8.1-16.6l-7.9 2.8z" fill="#066f00" stroke="#066f00"/>
<path d="M260.4 176.6l7.4-3l-7.9-23.8l-7.4 2.8z" fill="#005e35" stroke="#005e35"/>
<path d="M147.8 81l8.5-3.1l-7.9-6.3l-8.5 3z" fill="#871500" stroke="#871500"/>
<path d="M164.2 86.9l8.4-3.1l-7.9-8.9l-8.4 3z" fill="#933800" stroke="#933800"/>
<path d="M229.2 136.8l7.7-2.9l-8-19.2l-7.8 2.8z" fill="#026a0d" stroke="#026a0d"/>
<path d="M244.9 155.5l7.6-2.9l-8-21.5l-7.6 2.8z" fill="#00661b" stroke="#00661b"/>
<path d="M172.3 98.6l8.4-3.2l-8.1-11.6l-8.4 3.1z" fill="#a67b00" stroke="#a67b00"/>
<path d="M221.3 139.9l7.9-3.1l-8.1-19.3l-7.9 3z" fill="#026a0d" stroke="#026a0d"/>
<path d="M139.1 84.3l8.7-3.3l-7.9-6.4l-8.6 3.3z" fill="#8a1900" stroke="#8a1900"/>
<path d="M188.8 109.8l8.2-3.1l-8.1-14.3l-8.2 3z" fill="#789900" stroke="#789900"/>
<path d="M205.1 123.6l8.1-3.1l-8.1-16.8l-8.1 3z" fill="#046f00" stroke="#046f00"/>
<path d="M252.9 179.7l7.5-3.1l-7.9-24l-7.6 2.9z" fill="#005f35" stroke="#005f35"/>
<path d="M155.8 90.1l8.4-3.2l-7.9-9l-8.5 3.1z" fill="#963f00" stroke="#963f00"/>
<path d="M237.2 158.6l7.7-3.1l-8-21.6l-7.7 2.9z" fill="#00661b" stroke="#00661b"/>
<path d="M163.9 101.9l8.4-3.3l-8.1-11.7l-8.4 3.2z" fill="#a78200" stroke="#a78200"/>
<path d="M180.5 113l8.3-3.2l-8.1-14.4l-8.4 3.2z" fill="#729800" stroke="#729800"/>
<path d="M213.3 143.1l8-3.2l-8.1-19.4l-8.1 3.1z" fill="#026a0d" stroke="#026a0d"/>
<path d="M229.4 161.9l7.8-3.3l-8-21.8l-7.9 3.1z" fill="#00661c" stroke="#00661c"/>
<path d="M147.1 93.4l8.7-3.3l-8-9.1l-8.7 3.3z" fill="#9a4600" stroke="#9a4600"/>
<path d="M197 126.8l8.1-3.2l-8.1-16.9l-8.2 3.1z" fill="#046f01" stroke="#046f01"/>
<path d="M245.3 183l7.6-3.3l-8-24.2l-7.7 3.1z" fill="#005f35" stroke="#005f35"/>
<path d="M155.3 105.4l8.6-3.5l-8.1-11.8l-8.7 3.3z" fill="#aa8a00" stroke="#aa8a00"/>
<path d="M237.5 186.4l7.8-3.4l-8.1-24.4l-7.8 3.3z" fill="#005f36" stroke="#005f36"/>
<path d="M172 116.5l8.5-3.5l-8.2-14.4l-8.4 3.3z" fill="#6b9500" stroke="#6b9500"/>
<path d="M188.7 130.2l8.3-3.4l-8.2-17l-8.3 3.2z" fill="#046f01" stroke="#046f01"/>
<path d="M205.2 146.5l8.1-3.4l-8.2-19.5l-8.1 3.2z" fill="#026b0e" stroke="#026b0e"/>
<path d="M221.5 165.3l7.9-3.4l-8.1-22l-8 3.2z" fill="#00661c" stroke="#00661c"/>
<path d="M163.5 120.1l8.5-3.6l-8.1-14.6l-8.6 3.5z" fill="#629300" stroke="#629300"/>
<path d="M197 150.1l8.2-3.6l-8.2-19.7l-8.3 3.4z" fill="#026b0e" stroke="#026b0e"/>
<path d="M229.7 190l7.8-3.6l-8.1-24.5l-7.9 3.4z" fill="#005f36" stroke="#005f36"/>
<path d="M180.3 133.8l8.4-3.6l-8.2-17.2l-8.5 3.5z" fill="#047002" stroke="#047002"/>
<path d="M213.5 168.9l8-3.6l-8.2-22.2l-8.1 3.4z" fill="#00671c" stroke="#00671c"/>
<path d="M171.8 137.5l8.5-3.7l-8.3-17.3l-8.5 3.6z" fill="#047002" stroke="#047002"/>
<path d="M188.6 153.8l8.4-3.7l-8.3-19.9l-8.4 3.6z" fill="#026b0f" stroke="#026b0f"/>
<path d="M205.3 172.6l8.2-3.7l-8.3-22.4l-8.2 3.6z" fill="#00671d" stroke="#00671d"/>
<path d="M221.7 193.8l8-3.8l-8.2-24.7l-8 3.6z" fill="#005f37" stroke="#005f37"/>
<path d="M180.2 157.7l8.4-3.9l-8.3-20l-8.5 3.7z" fill="#026b10" stroke="#026b10"/>
<path d="M213.6 197.7l8.1-3.9l-8.2-24.9l-8.2 3.7z" fill="#005f38" stroke="#005f38"/>
<path d="M197 176.5l8.3-3.9l-8.3-22.5l-8.4 3.7z" fill="#00671e" stroke="#00671e"/>
<path d="M188.6 180.6l8.4-4.1l-8.4-22.7l-8.4 3.9z" fill="#00671f" stroke="#00671f"/>
<path d="M205.3 201.8l8.3-4.1l-8.3-25.1l-8.3 3.9z" fill="#005f39" stroke="#005f39"/>
<path d="M197 206.1l8.3-4.3l-8.3-25.3l-8.4 4.1z" fill="#00603a" stroke="#00603a"/>
</g>
<path d="M197 206.1l6.3-3.2l6.2-3.2l6.1-3l6.1-2.9l6-2.8l5.9-2.8l5.9-2.6l5.8-2.6l5.7-2.5l5.7-2.4l5.6-2.3l5.5-2.2l5.5-2.1l5.4-2.1l5.3-2l5.3-1.9l5.3-1.8l5.1-1.7l5.1-1.7l5.1-1.6l5-1.5l4.9-1.5l4.9-1.4l4.8-1.3M194.5 198.1l6.3-3.1l6.2-3.1l6.1-3l6.1-2.9l6-2.7l6-2.7l5.9-2.7l5.8-2.5l5.7-2.4l5.7-2.4l5.6-2.2l5.6-2.2l5.4-2.1l5.5-2l5.3-2l5.3-1.8l5.3-1.8l5.2-1.7l5.1-1.6l5.1-1.6l5-1.5l4.9-1.4l4.9-1.4l4.8-1.2M191.9 190.5l6.3-3.2l6.3-3l6.1-2.9l6.1-2.9l6.1-2.7l5.9-2.7l5.9-2.5l5.9-2.5l5.7-2.4l5.7-2.3l5.6-2.2l5.6-2.2l5.5-2l5.4-2l5.4-1.9l5.3-1.9l5.3-1.7l5.2-1.7l5.1-1.6l5.1-1.5l5-1.4l5-1.4l4.9-1.3l4.8-1.3M189.4 183l6.3-3.1l6.3-3l6.2-2.9l6.1-2.8l6-2.7l6-2.6l5.9-2.5l5.8-2.4l5.8-2.4l5.7-2.3l5.7-2.2l5.5-2.1l5.6-2l5.4-1.9l5.4-1.9l5.3-1.8l5.3-1.7l5.2-1.6l5.1-1.6l5.1-1.4l5.1-1.5l4.9-1.3l5-1.3l4.8-1.2M186.9 175.8l6.3-3.1l6.3-2.9l6.2-2.9l6.1-2.7l6.1-2.7l5.9-2.6l6-2.4l5.8-2.4l5.8-2.4l5.7-2.2l5.7-2.1l5.6-2.1l5.5-2l5.5-1.9l5.4-1.8l5.3-1.8l5.3-1.6l5.2-1.6l5.2-1.5l5.1-1.5l5-1.4l5-1.3l4.9-1.2l4.9-1.2M184.4 168.8l6.3-3l6.3-2.9l6.2-2.8l6.1-2.7l6.1-2.7l6-2.5l5.9-2.5l5.9-2.3l5.8-2.3l5.7-2.2l5.7-2.1l5.6-2l5.5-2l5.5-1.8l5.4-1.8l5.4-1.7l5.3-1.7l5.2-1.5l5.2-1.5l5.1-1.4l5-1.4l5-1.2l5-1.2l4.9-1.2M181.8 162.1l6.4-3l6.3-2.9l6.2-2.7l6.2-2.7l6-2.6l6.1-2.5l5.9-2.4l5.9-2.4l5.8-2.2l5.7-2.1l5.7-2.1l5.6-2l5.6-1.9l5.5-1.9l5.4-1.7l5.3-1.7l5.4-1.6l5.2-1.5l5.2-1.5l5.1-1.3l5.1-1.4l5-1.2l4.9-1.2l4.9-1.1M179.3 155.6l6.4-3l6.3-2.8l6.2-2.7l6.2-2.7l6.1-2.5l6-2.5l6-2.4l5.8-2.3l5.9-2.2l5.7-2.1l5.7-2l5.6-2l5.6-1.9l5.5-1.7l5.4-1.8l5.4-1.6l5.3-1.6l5.3-1.5l5.2-1.4l5.1-1.3l5.1-1.3l5-1.2l5-1.2l4.9-1M176.8 149.3l6.4-2.9l6.3-2.8l6.2-2.7l6.2-2.6l6.1-2.5l6.1-2.4l5.9-2.4l5.9-2.2l5.9-2.2l5.7-2.1l5.7-2l5.7-1.9l5.5-1.9l5.5-1.7l5.5-1.7l5.4-1.6l5.3-1.6l5.3-1.4l5.2-1.4l5.1-1.3l5.1-1.3l5-1.1l5-1.1l4.9-1.1M174.3 143.3l6.4-2.9l6.3-2.7l6.3-2.7l6.2-2.6l6.1-2.4l6-2.4l6-2.3l5.9-2.3l5.8-2.1l5.8-2.1l5.7-1.9l5.7-1.9l5.6-1.8l5.5-1.8l5.4-1.6l5.4-1.6l5.4-1.5l5.2-1.4l5.3-1.4l5.1-1.3l5.1-1.2l5.1-1.1l4.9-1.1l5-1M171.8 137.5l6.4-2.8l6.3-2.7l6.3-2.7l6.2-2.5l6.1-2.4l6.1-2.4l6-2.3l5.9-2.2l5.8-2.1l5.8-2l5.7-1.9l5.7-1.9l5.6-1.8l5.5-1.7l5.5-1.6l5.4-1.5l5.3-1.5l5.3-1.4l5.2-1.4l5.2-1.2l5.1-1.2l5.1-1.1l5-1.1l4.9-1M169.3 132l6.4-2.8l6.3-2.7l6.3-2.6l6.2-2.5l6.2-2.4l6-2.3l6-2.3l5.9-2.1l5.9-2.1l5.8-2l5.7-1.9l5.7-1.8l5.6-1.8l5.5-1.7l5.5-1.6l5.4-1.5l5.4-1.4l5.3-1.4l5.2-1.3l5.2-1.2l5.1-1.2l5.1-1.1l5-1l4.9-1M166.8 126.7l6.4-2.7l6.4-2.7l6.3-2.6l6.2-2.4l6.1-2.4l6.1-2.3l6-2.2l5.9-2.2l5.9-2l5.8-2l5.7-1.8l5.7-1.8l5.6-1.8l5.6-1.6l5.5-1.6l5.4-1.5l5.4-1.4l5.3-1.3l5.2-1.3l5.2-1.2l5.1-1.1l5.1-1.1l5-1l4.9-0.9M164.3 121.7l6.4-2.7l6.4-2.7l6.3-2.5l6.2-2.4l6.2-2.4l6-2.3l6.1-2.2l5.9-2.1l5.9-2l5.8-1.9l5.7-1.9l5.7-1.7l5.7-1.7l5.5-1.6l5.5-1.6l5.4-1.4l5.4-1.4l5.3-1.4l5.3-1.2l5.2-1.2l5.1-1.1l5.1-1l5-1l5-0.9M161.8 116.9l6.5-2.7l6.3-2.6l6.3-2.5l6.3-2.4l6.1-2.3l6.1-2.3l6-2.1l6-2.1l5.9-2l5.8-1.9l5.8-1.8l5.6-1.8l5.7-1.6l5.5-1.6l5.5-1.5l5.5-1.5l5.4-1.4l5.3-1.2l5.2-1.3l5.3-1.1l5.1-1.1l5.1-1l5-1l5-0.9M159.4 112.4l6.4-2.7l6.4-2.6l6.3-2.4l6.2-2.4l6.2-2.3l6.1-2.2l6-2.2l6-2l5.9-2l5.8-1.9l5.8-1.8l5.7-1.7l5.6-1.6l5.6-1.6l5.5-1.5l5.4-1.4l5.4-1.3l5.4-1.3l5.2-1.2l5.2-1.1l5.2-1.1l5.1-1l5-0.9l5-0.9M156.9 108.1l6.4-2.7l6.4-2.5l6.3-2.4l6.3-2.4l6.2-2.3l6.1-2.2l6-2.1l6-2l5.9-1.9l5.8-1.9l5.8-1.8l5.7-1.7l5.6-1.6l5.6-1.5l5.5-1.5l5.5-1.4l5.4-1.3l5.3-1.3l5.3-1.1l5.2-1.1l5.2-1.1l5.1-0.9l5-1l5-0.8M154.4 104l6.5-2.6l6.4-2.5l6.3-2.4l6.3-2.3l6.1-2.3l6.1-2.2l6.1-2l6-2l5.9-1.9l5.8-1.9l5.8-1.7l5.7-1.7l5.7-1.6l5.5-1.5l5.6-1.5l5.4-1.3l5.4-1.3l5.4-1.3l5.3-1.1l5.2-1.1l5.2-1l5.1-1l5-0.9l5-0.8M152 100.3l6.5-2.6l6.4-2.5l6.3-2.4l6.2-2.3l6.2-2.3l6.1-2.1l6.1-2.1l6-1.9l5.9-1.9l5.8-1.8l5.8-1.8l5.7-1.6l5.7-1.6l5.6-1.5l5.5-1.4l5.5-1.4l5.4-1.2l5.3-1.2l5.3-1.2l5.3-1.1l5.1-1l5.1-0.9l5.1-0.9l5-0.8M149.6 96.7l6.4-2.5l6.4-2.5l6.4-2.4l6.2-2.3l6.2-2.2l6.1-2.1l6.1-2l6-2l5.9-1.9l5.8-1.7l5.8-1.8l5.8-1.6l5.6-1.5l5.6-1.5l5.6-1.4l5.4-1.4l5.5-1.2l5.3-1.2l5.3-1.1l5.2-1.1l5.2-1l5.1-0.9l5.1-0.8l5-0.8M147.1 93.4l6.5-2.5l6.4-2.5l6.4-2.3l6.2-2.3l6.2-2.2l6.1-2.1l6.1-2l6-1.9l5.9-1.9l5.9-1.7l5.8-1.7l5.7-1.6l5.7-1.6l5.6-1.4l5.5-1.4l5.5-1.3l5.4-1.3l5.4-1.1l5.3-1.1l5.2-1.1l5.2-0.9l5.1-0.9l5.1-0.9l5-0.7M144.7 90.4l6.5-2.5l6.4-2.4l6.4-2.4l6.2-2.2l6.2-2.2l6.1-2.1l6.1-2l6-1.9l5.9-1.8l5.9-1.8l5.8-1.6l5.7-1.6l5.7-1.6l5.6-1.4l5.6-1.4l5.5-1.3l5.4-1.2l5.3-1.1l5.3-1.1l5.3-1l5.2-1l5.1-0.9l5.1-0.8l5-0.7M142.3 87.6l6.5-2.5l6.4-2.4l6.4-2.3l6.2-2.2l6.2-2.2l6.2-2.1l6-1.9l6-1.9l6-1.8l5.8-1.8l5.8-1.6l5.8-1.6l5.7-1.5l5.6-1.4l5.5-1.4l5.5-1.3l5.4-1.2l5.4-1.1l5.3-1.1l5.3-1l5.2-0.9l5.1-0.9l5.1-0.8l5-0.7M139.9 85.1l6.5-2.5l6.4-2.4l6.4-2.3l6.3-2.2l6.2-2.1l6.1-2.1l6.1-1.9l6-1.9l5.9-1.8l5.9-1.7l5.8-1.7l5.7-1.5l5.7-1.5l5.6-1.4l5.6-1.4l5.5-1.2l5.4-1.2l5.4-1.2l5.3-1l5.3-1l5.2-0.9l5.1-0.9l5.1-0.8l5-0.7M137.6 82.8l6.5-2.5l6.4-2.4l6.3-2.2l6.3-2.2l6.2-2.2l6.1-2l6.1-1.9l6-1.9l6-1.8l5.8-1.7l5.8-1.6l5.8-1.6l5.7-1.4l5.6-1.4l5.5-1.3l5.5-1.3l5.5-1.2l5.4-1.1l5.3-1l5.2-1l5.2-0.9l5.2-0.9l5.1-0.7l5-0.8M135.2 80.7l6.5-2.4l6.4-2.4l6.4-2.2l6.2-2.2l6.2-2.1l6.2-2l6.1-2l6-1.8l5.9-1.8l5.9-1.7l5.8-1.6l5.7-1.5l5.7-1.5l5.7-1.4l5.5-1.3l5.5-1.2l5.5-1.2l5.3-1.1l5.4-1l5.2-1l5.2-0.9l5.2-0.8l5.1-0.8l5-0.7M132.9 78.9l6.4-2.4l6.5-2.4l6.3-2.2l6.3-2.2l6.2-2.1l6.1-2l6.1-1.9l6-1.8l6-1.8l5.9-1.6l5.8-1.6l5.7-1.6l5.7-1.4l5.6-1.4l5.6-1.3l5.5-1.2l5.4-1.2l5.4-1.1l5.4-1l5.2-0.9l5.2-0.9l5.2-0.9l5.1-0.7l5-0.7M130.5 77.4l6.5-2.5l6.4-2.3l6.4-2.2l6.3-2.2l6.2-2.1l6.1-1.9l6.1-1.9l6-1.9l5.9-1.7l5.9-1.7l5.8-1.6l5.8-1.5l5.7-1.4l5.6-1.4l5.6-1.3l5.5-1.2l5.4-1.1l5.4-1.1l5.4-1l5.2-1l5.2-0.9l5.2-0.8l5.1-0.7l5-0.7M128.2 76l6.5-2.4l6.4-2.3l6.4-2.2l6.2-2.1l6.3-2.1l6.1-2l6.1-1.9l6-1.8l5.9-1.7l5.9-1.7l5.8-1.6l5.8-1.5l5.7-1.4l5.6-1.4l5.6-1.2l5.5-1.2l5.4-1.2l5.4-1.1l5.4-1l5.2-0.9l5.2-0.9l5.2-0.8l5.1-0.7l5.1-0.7M125.9 75l6.5-2.4l6.4-2.3l6.4-2.2l6.2-2.2l6.2-2l6.2-2l6.1-1.9l6-1.8l5.9-1.7l5.9-1.7l5.8-1.5l5.8-1.5l5.7-1.4l5.6-1.4l5.6-1.3l5.5-1.2l5.4-1.1l5.4-1.1l5.4-1l5.2-0.9l5.3-0.9l5.1-0.8l5.1-0.7l5.1-0.7M123.6 74.1l6.5-2.3l6.4-2.3l6.4-2.2l6.2-2.2l6.3-2l6.1-2l6.1-1.8l6-1.8l5.9-1.8l5.9-1.6l5.8-1.6l5.8-1.4l5.7-1.5l5.6-1.3l5.6-1.3l5.5-1.2l5.4-1.1l5.4-1.1l5.4-1l5.2-0.9l5.3-0.8l5.1-0.8l5.1-0.8l5.1-0.6M121.4 73.6l6.4-2.4l6.5-2.3l6.3-2.2l6.3-2.1l6.2-2.1l6.1-1.9l6.1-1.9l6-1.8l5.9-1.7l5.9-1.6l5.8-1.6l5.8-1.5l5.7-1.4l5.6-1.3l5.6-1.3l5.5-1.2l5.5-1.1l5.4-1l5.3-1l5.3-0.9l5.2-0.9l5.2-0.8l5.1-0.7l5-0.7M119.1 73.2l6.5-2.4l6.4-2.2l6.3-2.2l6.3-2.1l6.2-2.1l6.2-1.9l6-1.9l6-1.8l6-1.7l5.9-1.6l5.8-1.6l5.7-1.4l5.7-1.4l5.7-1.4l5.5-1.2l5.5-1.2l5.5-1.1l5.4-1.1l5.3-1l5.3-0.9l5.2-0.8l5.2-0.8l5.1-0.7l5-0.7M116.9 73.1l6.4-2.4l6.5-2.2l6.3-2.2l6.3-2.1l6.2-2.1l6.1-1.9l6.1-1.9l6-1.7l5.9-1.7l5.9-1.7l5.8-1.5l5.8-1.5l5.7-1.4l5.6-1.3l5.6-1.3l5.5-1.2l5.4-1.1l5.4-1l5.3-1l5.3-0.9l5.2-0.9l5.2-0.8l5.1-0.7l5.1-0.6M114.7 73.2l6.4-2.4l6.4-2.2l6.4-2.2l6.2-2.1l6.2-2l6.2-2l6-1.8l6-1.8l6-1.7l5.8-1.6l5.9-1.5l5.7-1.5l5.7-1.4l5.6-1.3l5.6-1.3l5.5-1.2l5.5-1.1l5.4-1l5.3-1l5.3-0.9l5.2-0.9l5.2-0.8l5.1-0.7l3.9-0.5M112.5 73.6l6.4-2.4l6.4-2.3l6.3-2.1l6.3-2.1l6.2-2l6.1-2l6.1-1.8l6-1.8l5.9-1.7l5.9-1.6l5.8-1.6l5.8-1.4l5.7-1.4l5.6-1.4l4.6-1M110.3 74.1l6.4-2.3l6.4-2.3l6.4-2.1l6.2-2.1l4.8-1.6M108.1 74.9l2.5-0.9M106 76l6.4-2.4l0.5-0.1M103.9 77.2l6.4-2.3l4.9-1.8M101.8 78.7l6.4-2.3l6.4-2.3l2.9-1M99.7 80.4l6.4-2.3l6.4-2.3l6.2-2.2l1.1-0.3M97.6 82.4l6.4-2.4l6.4-2.3l6.3-2.1l5.4-1.9M95.6 84.5l6.4-2.4l6.3-2.2l6.3-2.2l6.2-2.1l3.6-1.2M93.6 86.8l6.4-2.3l6.3-2.3l6.2-2.2l6.2-2.1l6.2-2l1.8-0.6M91.6 89.4l6.3-2.4l6.4-2.2l6.2-2.2l6.2-2.2l6.1-2l6.1-1.9l0-0.1M89.6 92.2l6.4-2.4l6.3-2.3l6.2-2.2l6.2-2.1l6.1-2.1l6.1-1.9l4.3-1.4M87.6 95.1l6.4-2.3l6.3-2.3l6.2-2.2l6.2-2.2l6.1-2l6-2l6-1.9l2.7-0.8M85.7 98.3l6.4-2.4l6.2-2.3l6.3-2.2l6.1-2.1l6.1-2.1l6-2l6-1.9l5.9-1.8l1-0.3M83.8 101.7l6.3-2.4l6.3-2.3l6.2-2.2l6.2-2.2l6-2.1l6.1-2l5.9-1.9l5.9-1.8l5.3-1.6M81.9 105.3l6.3-2.4l6.3-2.4l6.2-2.2l6.1-2.2l6.1-2.1l6-2l6-1.9l5.8-1.8l5.9-1.8l3.6-1.1M80 109l6.4-2.4l6.2-2.3l6.2-2.3l6.1-2.2l6.1-2l6-2.1l5.9-1.9l5.9-1.9l5.8-1.8l5.8-1.7l2.1-0.6M78.2 113l6.3-2.5l6.2-2.3l6.2-2.3l6.1-2.1l6.1-2.2l5.9-2l6-1.9l5.8-1.9l5.8-1.8l5.8-1.8l5.7-1.6l0.6-0.2M76.4 117.1l6.3-2.4l6.2-2.4l6.1-2.3l6.1-2.2l6.1-2.1l5.9-2l6-2l5.8-1.9l5.8-1.8l5.8-1.7l5.6-1.7l4.9-1.4M74.6 121.4l6.3-2.4l6.2-2.4l6.1-2.3l6.1-2.2l6-2.1l6-2.1l5.9-2l5.8-1.9l5.8-1.8l5.7-1.8l5.7-1.7l5.6-1.6l3.4-0.9M72.8 125.9l6.3-2.4l6.2-2.4l6.1-2.3l6.1-2.2l6-2.2l5.9-2.1l5.9-2l5.8-1.9l5.8-1.8l5.7-1.8l5.7-1.7l5.6-1.6l5.5-1.6l2-0.5M71.1 130.6l6.2-2.5l6.2-2.4l6.1-2.3l6-2.2l6-2.2l6-2.1l5.8-2l5.9-1.9l5.7-1.9l5.7-1.8l5.7-1.7l5.6-1.6l5.5-1.6l5.5-1.5l0.6-0.2M69.4 135.5l6.2-2.5l6.1-2.4l6.1-2.4l6.1-2.2l5.9-2.2l6-2.1l5.8-2l5.8-2l5.8-1.9l5.7-1.8l5.6-1.7l5.6-1.7l5.5-1.6l5.5-1.5l4.7-1.3M67.7 140.5l6.2-2.5l6.1-2.4l6.1-2.4l6-2.3l6-2.2l5.9-2.1l5.8-2l5.8-2l5.7-1.9l5.7-1.8l5.6-1.8l5.6-1.7l5.5-1.6l5.5-1.5l5.4-1.5l3.3-0.9M66 145.7l6.2-2.5l6.1-2.5l6-2.3l6-2.3l6-2.2l5.9-2.2l5.8-2l5.8-2l5.7-1.9l5.7-1.9l5.6-1.8l5.5-1.7l5.5-1.6l5.5-1.6l5.4-1.5l5.3-1.4l2.1-0.6M64.3 151l6.2-2.5l6.1-2.5l6-2.3l6-2.3l6-2.3l5.8-2.1l5.8-2.1l5.8-2l5.7-1.9l5.7-1.9l5.6-1.8l5.5-1.7l5.5-1.7l5.4-1.6l5.4-1.5l5.3-1.4l5.3-1.4l0.9-0.2M197 206.1l-6.3-19.4l-6.3-17.9l-6.3-16.4l-6.3-14.9l-6.3-13.3l-6.1-11.8l-6.2-10.3l-6.1-8.7l-6-7.1l-5.9-5.6l-5.8-4l-5.8-2.6l-5.6-1l-5.5 0.5l-5.5 1.8l-5.2 3.3l-5.2 4.7l-5 6l-4.9 7.3l-4.8 8.6l-4.6 9.7l-4.5 10.9l-4.3 12.1l-4.2 13M199.5 204.8l-6.3-19.4l-6.3-17.8l-6.3-16.4l-6.2-14.8l-6.3-13.3l-6.2-11.8l-6.1-10.2l-6.1-8.7l-6-7.1l-5.9-5.6l-5.8-4l-5.8-2.5l-5.6-1l-5.5 0.4l-5.5 1.9l-5.3 3.3l-5.1 4.7l-5.1 6l-4.9 7.2l-4.8 8.6l-4.6 9.7l-4.5 10.9l-4.3 12l-4.2 13.1M202 203.5l-6.3-19.3l-6.3-17.8l-6.2-16.3l-6.3-14.9l-6.2-13.2l-6.2-11.8l-6.1-10.2l-6.1-8.6l-6-7.1l-5.9-5.5l-5.8-4.1l-5.8-2.5l-5.6-1l-5.6 0.5l-2.9 0.8M112 73.7l-5.1 3.1l-5.2 4.7l-5 6l-4.9 7.3l-4.8 8.5l-4.7 9.8l-4.5 10.9l-4.3 12l-4.2 13M204.5 202.2l-6.3-19.2l-6.2-17.8l-6.3-16.3l-6.2-14.8l-6.2-13.2l-6.2-11.7l-6.1-10.2l-6.1-8.6l-6-7.1l-5.9-5.5l-5.9-4l-5.7-2.5l-5.6-1l-5.6 0.4l-2.9 0.9M113.3 73.4l-3.8 2.5l-5.2 4.7l-5.1 6l-4.9 7.3l-4.8 8.5l-4.7 9.7l-4.5 10.9l-4.4 12l-4.2 13M207 201l-6.3-19.2l-6.2-17.8l-6.3-16.2l-6.2-14.8l-6.2-13.2l-6.2-11.7l-6.1-10.1l-6-8.6l-6-7l-5.9-5.5l-5.9-4l-5.7-2.5l-5.7-1l-5.5 0.4l-2.8 0.8M114.7 73.2l-2.7 1.8l-5.2 4.7l-5.1 6l-4.9 7.2l-4.8 8.6l-4.7 9.7l-4.5 10.8l-4.4 12l-4.2 13M209.5 199.7l-6.3-19.1l-6.2-17.7l-6.3-16.2l-6.2-14.7l-6.2-13.2l-6.1-11.7l-6.1-10.1l-6.1-8.6l-6-7l-5.9-5.5l-5.8-4l-5.8-2.4l-5.6-1l-5.6 0.4l-2.7 0.8M116 73.1l-1.4 1l-5.3 4.7l-5 6l-5 7.2l-4.8 8.5l-4.7 9.7l-4.5 10.9l-4.4 11.9l-4.3 13M211.9 198.5l-6.2-19.1l-6.2-17.6l-6.2-16.2l-6.3-14.7l-6.1-13.1l-6.2-11.7l-6.1-10.1l-6-8.5l-6-7l-5.9-5.5l-5.9-4l-5.7-2.4l-5.7-1l-5.5 0.5l-2.7 0.7M117.3 73.1l-0.2 0.1l-5.2 4.7l-5.1 6l-5 7.2l-4.8 8.5l-4.7 9.7l-4.6 10.9l-4.4 11.9l-4.3 13M214.4 197.3l-6.2-19l-6.2-17.7l-6.3-16.1l-6.2-14.6l-6.1-13.2l-6.2-11.6l-6.1-10l-6-8.5l-6-7l-5.9-5.5l-5.8-4l-5.8-2.4l-5.7-1l-5.5 0.5l-2.6 0.7M118.6 73.2l-4.2 3.8l-5.1 6l-5 7.2l-4.8 8.5l-4.8 9.7l-4.5 10.8l-4.5 12l-4.3 12.9M216.8 196.1l-6.2-19l-6.2-17.6l-6.2-16.1l-6.2-14.6l-6.1-13.1l-6.2-11.5l-6.1-10.1l-6-8.5l-6-6.9l-5.9-5.5l-5.8-3.9l-5.8-2.5l-5.6-0.9l-5.6 0.4l-2.5 0.7M119.9 73.3l-3 2.9l-5.1 5.9l-5 7.3l-4.9 8.5l-4.7 9.6l-4.6 10.8l-4.4 11.9l-4.4 13M219.3 195l-6.2-19l-6.2-17.6l-6.2-16l-6.2-14.6l-6.1-13.1l-6.2-11.5l-6-10l-6.1-8.5l-6-6.9l-5.9-5.5l-5.8-3.9l-5.8-2.4l-5.6-1l-5.6 0.5l-2.4 0.7M121.2 73.5l-1.8 1.8l-5.2 6l-5 7.2l-4.8 8.5l-4.8 9.6l-4.6 10.8l-4.4 11.9l-4.4 13M221.7 193.8l-6.2-18.9l-6.2-17.5l-6.1-16.1l-6.2-14.5l-6.2-13l-6.1-11.5l-6.1-10l-6-8.5l-6-6.9l-5.9-5.4l-5.8-3.9l-5.8-2.5l-5.6-0.9l-5.6 0.5l-2.3 0.6M122.5 73.8l-0.7 0.7l-5.1 5.9l-5 7.3l-4.9 8.4l-4.7 9.7l-4.6 10.8l-4.5 11.8l-4.4 13M224.1 192.7l-6.2-18.9l-6.1-17.5l-6.2-16l-6.2-14.5l-6.1-13l-6.1-11.5l-6.1-9.9l-6-8.5l-6-6.9l-5.9-5.4l-5.8-3.9l-5.8-2.4l-5.6-0.9l-5.6 0.4l-2.3 0.7M123.8 74.2l-4.6 5.4l-5.1 7.2l-4.8 8.5l-4.8 9.6l-4.6 10.8l-4.5 11.8l-4.4 13M226.5 191.5l-6.2-18.8l-6.1-17.4l-6.2-16l-6.1-14.5l-6.1-12.9l-6.1-11.5l-6.1-9.9l-6-8.4l-6-6.9l-5.9-5.4l-5.8-3.9l-5.8-2.4l-5.7-0.9l-5.5 0.4l-2.2 0.6M125.1 74.7l-3.5 4.1l-5 7.2l-4.9 8.5l-4.8 9.6l-4.6 10.7l-4.5 11.9l-4.4 12.9M228.9 190.4l-6.2-18.8l-6.1-17.4l-6.1-15.9l-6.2-14.4l-6.1-13l-6.1-11.4l-6-9.9l-6.1-8.4l-5.9-6.9l-5.9-5.3l-5.9-3.9l-5.7-2.4l-5.7-0.9l-5.6 0.5l-2.1 0.5M126.4 75.2l-2.4 2.8l-5 7.2l-4.9 8.4l-4.8 9.6l-4.6 10.8l-4.6 11.8l-4.4 12.9M231.2 189.3l-6.1-18.8l-6.1-17.3l-6.1-15.9l-6.1-14.4l-6.2-12.9l-6-11.4l-6.1-9.9l-6-8.3l-6-6.9l-5.9-5.3l-5.8-3.9l-5.8-2.4l-5.6-0.9l-5.6 0.5l-2 0.5M127.6 75.8l-1.1 1.4l-5.1 7.2l-4.9 8.4l-4.8 9.6l-4.7 10.8l-4.5 11.8l-4.4 12.8M233.6 188.2l-6.1-18.7l-6.1-17.3l-6.1-15.8l-6.1-14.4l-6.1-12.9l-6.1-11.3l-6.1-9.9l-6-8.4l-5.9-6.8l-5.9-5.3l-5.8-3.9l-5.8-2.4l-5.7-0.9l-5.6 0.5l-1.9 0.5M128.9 76.4l0 0.1l-5.1 7.1l-4.9 8.4l-4.8 9.6l-4.7 10.7l-4.5 11.8l-4.5 12.9M236 187.1l-6.1-18.6l-6.1-17.3l-6.1-15.8l-6.1-14.3l-6.1-12.9l-6.1-11.3l-6-9.8l-6-8.4l-6-6.8l-5.9-5.3l-5.8-3.9l-5.8-2.3l-5.6-0.9l-5.6 0.5l-1.9 0.5M130.2 77.2l-4 5.7l-4.9 8.4l-4.8 9.5l-4.7 10.7l-4.6 11.8l-4.4 12.8M238.3 186.1l-6.1-18.7l-6.1-17.2l-6-15.7l-6.1-14.3l-6.1-12.8l-6.1-11.4l-6-9.8l-6-8.3l-6-6.8l-5.9-5.3l-5.8-3.8l-5.7-2.4l-5.7-0.9l-5.6 0.5l-1.8 0.5M131.4 78l-2.8 4.1l-4.9 8.4l-4.9 9.5l-4.7 10.7l-4.6 11.8l-4.4 12.8M240.6 185l-6-18.6l-6.1-17.1l-6.1-15.8l-6.1-14.2l-6-12.8l-6.1-11.3l-6-9.8l-6-8.3l-5.9-6.8l-5.9-5.2l-5.9-3.9l-5.7-2.3l-5.7-0.9l-5.6 0.5l-1.7 0.4M132.7 78.8l-1.7 2.6l-5 8.3l-4.8 9.6l-4.7 10.6l-4.6 11.8l-4.5 12.8M243 184l-6.1-18.5l-6-17.2l-6.1-15.7l-6.1-14.2l-6.1-12.8l-6-11.2l-6-9.8l-6-8.2l-5.9-6.8l-5.9-5.3l-5.9-3.8l-5.7-2.3l-5.7-0.9l-5.6 0.5l-1.6 0.4M134 79.7l-0.6 0.9l-5 8.4l-4.9 9.5l-4.7 10.7l-4.6 11.7l-4.5 12.8M245.3 183l-6.1-18.5l-6-17.1l-6.1-15.7l-6-14.2l-6.1-12.7l-6-11.2l-6-9.8l-6-8.2l-5.9-6.8l-5.9-5.2l-5.9-3.8l-5.7-2.3l-5.7-0.9l-5.6 0.5l-1.5 0.4M135.2 80.7l-4.5 7.6l-4.8 9.5l-4.8 10.6l-4.6 11.7l-4.5 12.8M247.6 182l-6-18.5l-6.1-17l-6-15.7l-6.1-14.1l-6-12.7l-6.1-11.2l-6-9.7l-5.9-8.3l-6-6.7l-5.8-5.2l-5.9-3.8l-5.7-2.3l-5.7-0.9l-5.6 0.5l-1.5 0.4M136.4 81.8l-3.3 5.7l-4.9 9.5l-4.8 10.7l-4.6 11.7l-4.5 12.7M249.9 181l-6-18.4l-6.1-17l-6-15.6l-6-14.2l-6.1-12.6l-6-11.2l-6-9.7l-6-8.2l-5.9-6.7l-5.9-5.2l-5.8-3.8l-5.8-2.3l-5.6-0.9l-5.6 0.5l-1.4 0.4M137.7 82.9l-2.3 3.9l-4.9 9.5l-4.8 10.6l-4.6 11.7l-4.5 12.7M252.1 180l-5.9-18.4l-6.1-16.9l-6-15.6l-6-14.1l-6-12.6l-6.1-11.2l-5.9-9.6l-6-8.2l-5.9-6.7l-5.9-5.2l-5.8-3.8l-5.8-2.3l-5.7-0.9l-5.6 0.6l-1.3 0.3M138.9 84l-1.2 2.1l-4.9 9.5l-4.8 10.6l-4.6 11.7l-4.6 12.7M254.4 179.1l-6-18.4l-6-16.9l-6-15.5l-6-14.1l-6-12.6l-6-11.1l-6-9.7l-6-8.1l-5.9-6.7l-5.9-5.2l-5.8-3.8l-5.7-2.3l-5.7-0.8l-5.6 0.5l-1.2 0.3M140.1 85.3l-0.1 0.1l-4.9 9.5l-4.8 10.6l-4.6 11.6l-4.6 12.7M256.7 178.1l-6-18.3l-6-16.9l-6-15.5l-6-14l-6-12.6l-6-11.1l-6-9.6l-5.9-8.1l-5.9-6.7l-5.9-5.2l-5.8-3.7l-5.8-2.3l-5.7-0.9l-5.6 0.6l-1.1 0.2M141.4 86.6l-4 7.6l-4.8 10.6l-4.7 11.6l-4.5 12.7M258.9 177.2l-5.9-18.3l-6-16.8l-6-15.5l-6-14l-6-12.5l-6-11.1l-6-9.6l-5.9-8.1l-5.9-6.7l-5.9-5.1l-5.8-3.8l-5.8-2.2l-5.6-0.9l-5.7 0.6l-1 0.2M142.6 87.9l-2.9 5.6l-4.8 10.6l-4.7 11.6l-4.6 12.7M261.2 176.3l-6-18.2l-5.9-16.9l-6-15.4l-6-14l-6-12.5l-6-11l-5.9-9.6l-6-8.1l-5.9-6.6l-5.9-5.2l-5.8-3.7l-5.7-2.3l-5.7-0.8l-5.6 0.5l-1 0.3M143.8 89.3l-1.8 3.6l-4.9 10.5l-4.7 11.6l-4.6 12.7M263.4 175.4l-5.9-18.2l-6-16.8l-6-15.4l-5.9-13.9l-6-12.5l-6-11l-5.9-9.6l-6-8l-5.9-6.7l-5.8-5.1l-5.9-3.7l-5.7-2.3l-5.7-0.8l-5.6 0.5l-0.9 0.2M145 90.7l-0.8 1.5l-4.8 10.6l-4.7 11.5l-4.6 12.7M265.6 174.5l-5.9-18.2l-5.9-16.7l-6-15.4l-6-13.9l-5.9-12.4l-6-11l-6-9.5l-5.9-8.1l-5.9-6.6l-5.8-5.1l-5.9-3.7l-5.7-2.3l-5.7-0.8l-5.6 0.5l-0.8 0.2M146.2 92.2l-4.6 9.9l-4.7 11.6l-4.6 12.6M267.8 173.6l-5.9-18.1l-5.9-16.7l-6-15.3l-5.9-13.9l-6-12.4l-5.9-11l-6-9.5l-5.9-8l-5.9-6.6l-5.9-5.1l-5.8-3.7l-5.7-2.2l-5.7-0.9l-5.6 0.6l-0.7 0.1M147.4 93.8l-3.5 7.7l-4.8 11.5l-4.6 12.6M270 172.7l-5.9-18l-5.9-16.7l-5.9-15.3l-6-13.8l-5.9-12.4l-6-11l-5.9-9.4l-5.9-8.1l-5.9-6.5l-5.9-5.1l-5.8-3.7l-5.7-2.2l-5.7-0.9l-5.6 0.6l-0.6 0.1M148.6 95.4l-2.5 5.4l-4.8 11.6l-4.6 12.5M272.2 171.9l-5.9-18l-5.9-16.7l-5.9-15.2l-5.9-13.8l-6-12.4l-5.9-10.9l-6-9.5l-5.9-8l-5.8-6.5l-5.9-5.1l-5.8-3.7l-5.8-2.2l-5.6-0.8l-5.7 0.5l-0.4 0.2M149.8 97l-1.5 3.2l-4.7 11.5l-4.7 12.6M274.4 171l-5.9-17.9l-5.9-16.6l-5.9-15.2l-5.9-13.8l-5.9-12.4l-6-10.8l-5.9-9.5l-5.9-8l-5.9-6.5l-5.8-5.1l-5.8-3.6l-5.8-2.2l-5.7-0.9l-5.6 0.6l-0.4 0.1M150.9 98.7l-0.4 0.9l-4.7 11.5l-4.7 12.5M276.5 170.2l-5.8-17.9l-5.9-16.6l-5.9-15.2l-5.9-13.7l-5.9-12.3l-5.9-10.9l-6-9.4l-5.9-7.9l-5.8-6.6l-5.9-5l-5.8-3.7l-5.7-2.2l-5.7-0.8l-5.7 0.6l-0.2 0M152.1 100.4l-4.2 10.1l-4.6 12.5M278.7 169.4l-5.8-17.9l-5.9-16.5l-5.9-15.2l-5.9-13.7l-5.9-12.3l-5.9-10.8l-5.9-9.4l-5.9-7.9l-5.9-6.5l-5.8-5.1l-5.8-3.6l-5.8-2.2l-5.7-0.8l-5.6 0.5l-0.2 0.1M153.3 102.2l-3.2 7.7l-4.7 12.4M280.8 168.6l-5.8-17.9l-5.8-16.5l-5.9-15.1l-5.9-13.6l-5.9-12.3l-5.9-10.8l-5.9-9.4l-5.9-7.9l-5.9-6.5l-5.8-5l-5.8-3.6l-5.8-2.2l-5.6-0.8l-5.7 0.5l-0.1 0.1M154.4 104l-2.1 5.3l-4.7 12.4M283 167.8l-5.8-17.8l-5.9-16.5l-5.8-15l-5.9-13.7l-5.9-12.2l-5.9-10.8l-5.9-9.3l-5.9-7.9l-5.9-6.5l-5.8-5l-5.8-3.6l-5.7-2.2l-5.7-0.8l-5.7 0.5l0 0M155.6 105.9l-1.1 2.8l-4.8 12.4M285.1 167l-5.8-17.7l-5.8-16.5l-5.9-15l-5.8-13.6l-5.9-12.2l-5.9-10.8l-5.9-9.3l-5.9-7.9l-5.8-6.4l-5.9-5l-5.8-3.6l-5.7-2.2l-5.7-0.8l-5.5 0.5M156.7 107.8l-0.1 0.3l-4.7 12.4M287.2 166.3l-5.7-17.8l-5.9-16.4l-5.8-14.9l-5.9-13.6l-5.9-12.2l-5.8-10.7l-5.9-9.3l-5.9-7.9l-5.8-6.4l-5.9-5l-5.8-3.6l-5.7-2.2l-5.7-0.8l-5.4 0.5M157.9 109.8l-3.9 10.1M289.3 165.5l-5.7-17.7l-5.8-16.3l-5.9-15l-5.8-13.5l-5.9-12.2l-5.9-10.7l-5.8-9.3l-5.9-7.8l-5.9-6.4l-5.8-5l-5.8-3.6l-5.7-2.2l-5.7-0.8l-5.4 0.5M159 111.8l-2.9 7.6M291.4 164.8l-5.7-17.7l-5.8-16.3l-5.8-14.9l-5.9-13.5l-5.8-12.2l-5.9-10.6l-5.9-9.3l-5.8-7.8l-5.9-6.4l-5.8-5l-5.8-3.6l-5.7-2.1l-5.7-0.8l-5.3 0.5M160.1 113.8l-1.8 5M293.5 164.1l-5.7-17.7l-5.8-16.2l-5.8-14.9l-5.8-13.5l-5.9-12.1l-5.8-10.7l-5.9-9.2l-5.9-7.8l-5.8-6.4l-5.8-5l-5.8-3.5l-5.7-2.2l-5.7-0.8l-5.2 0.5M161.3 115.9l-0.9 2.4M295.6 163.3l-5.7-17.5l-5.8-16.3l-5.8-14.8l-5.8-13.5l-5.9-12.1l-5.8-10.6l-5.9-9.2l-5.8-7.8l-5.8-6.4l-5.9-4.9l-5.7-3.6l-5.8-2.1l-5.7-0.8l-5 0.5M297.7 162.6l-5.7-17.5l-5.8-16.2l-5.8-14.8l-5.8-13.5l-5.8-12l-5.9-10.6l-5.8-9.2l-5.9-7.8l-5.8-6.3l-5.8-5l-5.8-3.5l-5.7-2.1l-5.7-0.8l-5 0.4M299.7 162l-5.7-17.6l-5.7-16.1l-5.8-14.8l-5.8-13.4l-5.8-12l-5.8-10.6l-5.9-9.2l-5.8-7.7l-5.9-6.4l-5.8-4.9l-5.7-3.5l-5.8-2.2l-5.7-0.7l-4.8 0.4M301.8 161.3l-5.7-17.5l-5.7-16.1l-5.8-14.8l-5.8-13.4l-5.8-11.9l-5.8-10.6l-5.9-9.2l-5.8-7.7l-5.8-6.3l-5.8-4.9l-5.8-3.5l-5.7-2.2l-5.7-0.7l-4.8 0.4M303.8 160.6l-5.6-17.4l-5.8-16.1l-5.7-14.7l-5.8-13.4l-5.8-11.9l-5.8-10.6l-5.9-9.1l-5.8-7.7l-5.8-6.3l-5.8-4.9l-5.8-3.5l-5.7-2.2l-5.7-0.7l-4.7 0.4M305.9 160l-5.7-17.4l-5.7-16.1l-5.7-14.7l-5.8-13.3l-5.8-11.9l-5.8-10.5l-5.9-9.2l-5.8-7.6l-5.8-6.3l-5.8-4.9l-5.7-3.5l-5.8-2.1l-5.7-0.8l-4.5 0.4M307.9 159.3l-5.7-17.3l-5.7-16.1l-5.7-14.6l-5.8-13.3l-5.7-11.9l-5.8-10.5l-5.9-9.1l-5.8-7.7l-5.8-6.2l-5.8-4.9l-5.7-3.5l-5.8-2.1l-5.6-0.8l-4.5 0.4M309.9 158.7l-5.6-17.3l-5.7-16l-5.7-14.7l-5.8-13.2l-5.8-11.9l-5.8-10.4l-5.8-9.1l-5.8-7.7l-5.8-6.2l-5.8-4.9l-5.7-3.5l-5.8-2.1l-5.6-0.7l-4.4 0.3M311.9 158.1l-5.6-17.3l-5.7-16l-5.7-14.6l-5.7-13.2l-5.8-11.8l-5.8-10.5l-5.8-9l-5.8-7.7l-5.8-6.2l-5.8-4.9l-5.7-3.4l-5.8-2.1l-5.6-0.8l-4.3 0.3M313.9 157.5l-5.6-17.3l-5.7-15.9l-5.7-14.6l-5.7-13.2l-5.8-11.8l-5.7-10.4l-5.8-9l-5.8-7.6l-5.8-6.3l-5.8-4.8l-5.7-3.5l-5.8-2.1l-5.7-0.7l-4.1 0.3M315.9 156.9l-5.6-17.3l-5.7-15.8l-5.6-14.6l-5.8-13.1l-5.7-11.8l-5.8-10.4l-5.8-9l-5.8-7.6l-5.8-6.2l-5.7-4.9l-5.8-3.4l-5.7-2.1l-5.7-0.7l-4 0.2M317.9 156.3l-5.6-17.2l-5.6-15.8l-5.7-14.5l-5.7-13.2l-5.8-11.7l-5.8-10.4l-5.7-9l-5.8-7.6l-5.8-6.2l-5.8-4.8l-5.7-3.4l-5.7-2.1l-5.7-0.8l-4 0.3M319.8 155.7l-5.5-17.1l-5.7-15.8l-5.6-14.5l-5.7-13.1l-5.8-11.7l-5.7-10.4l-5.8-9l-5.8-7.5l-5.7-6.2l-5.8-4.8l-5.8-3.5l-5.7-2l-5.7-0.8l-3.8 0.3M321.8 155.1l-5.6-17.1l-5.6-15.7l-5.6-14.5l-5.7-13l-5.8-11.8l-5.7-10.3l-5.8-8.9l-5.7-7.6l-5.8-6.1l-5.8-4.8l-5.7-3.5l-5.7-2l-5.7-0.8l-3.8 0.3M323.7 154.6l-5.5-17.1l-5.6-15.7l-5.6-14.4l-5.7-13.1l-5.8-11.6l-5.7-10.3l-5.7-9l-5.8-7.5l-5.8-6.2l-5.7-4.7l-5.8-3.5l-5.7-2l-5.7-0.7l-3.6 0.2M325.7 154l-5.5-17l-5.6-15.7l-5.7-14.3l-5.6-13.1l-5.8-11.6l-5.7-10.3l-5.7-8.9l-5.8-7.5l-5.8-6.2l-5.7-4.7l-5.7-3.4l-5.7-2.1l-5.7-0.7l-3.6 0.2M327.6 153.5l-5.5-17l-5.6-15.6l-5.6-14.4l-5.7-13l-5.7-11.6l-5.7-10.2l-5.7-8.9l-5.8-7.5l-5.7-6.2l-5.8-4.7l-5.7-3.4l-5.7-2.1l-5.7-0.7l-3.4 0.2M329.5 153l-5.5-16.9l-5.5-15.7l-5.6-14.3l-5.7-13l-5.7-11.6l-5.7-10.2l-5.7-8.8l-5.8-7.5l-5.7-6.1l-5.8-4.8l-5.7-3.4l-5.7-2l-5.7-0.7l-3.3 0.1" fill="none" stroke="#000" stroke-width="1.20" stroke-linejoin="round"/>
<ellipse cx="196.2" cy="37.0" rx="3.3" ry="2.4" fill="#5c1c16" stroke="#2a0806" stroke-width=".5"/>
<ellipse cx="196.2" cy="42.5" rx="3.3" ry="2.8" fill="#5c1c16" stroke="#2a0806" stroke-width=".5"/>
<ellipse cx="196.2" cy="46.0" rx="3.3" ry="2.6" fill="#5c1c16" stroke="#2a0806" stroke-width=".5"/>
<text x="47.4" y="41.2" text-anchor="end" class="tk">210</text><text x="48.6" y="75.3" text-anchor="end" class="tk">172.5</text><text x="50.7" y="108.8" text-anchor="end" class="tk">135</text><text x="52.3" y="143.1" text-anchor="end" class="tk">97.5</text><text x="54.6" y="176.2" text-anchor="end" class="tk">60</text><text x="56.0" y="218.9" text-anchor="end" class="tk">3.00</text><text x="94.4" y="239.6" text-anchor="end" class="tk">2.25</text><text x="125.9" y="254.4" text-anchor="end" class="tk">1.50</text><text x="158.1" y="270.1" text-anchor="end" class="tk">0.75</text><text x="191.5" y="285.7" text-anchor="end" class="tk">0.00</text><text x="202.8" y="285.8" class="tk">1.00</text><text x="234.5" y="270.1" class="tk">3.75</text><text x="267.5" y="254.4" class="tk">6.50</text><text x="299.4" y="239.6" class="tk">9.25</text><text x="332.5" y="223.6" class="tk">12.00</text><text x="81.5" y="279.4" text-anchor="middle" class="ti">B: Methionine</text><text x="312.4" y="279.4" text-anchor="middle" class="ti">A: KH2PO4</text><text transform="translate(19.7 125.0) rotate(-90)" text-anchor="middle" class="tz">Amorphadiene (mg/l)</text><text x="204.0" y="313.4" text-anchor="middle" class="cap">(a)</text></g>
<g id="pb"><path d="M596.5 171.8L596.5 11.2M458.2 41.3L596.5 11.2M596.5 11.2L734.7 41.3" fill="none" stroke="#000" stroke-width="1.5"/>
<path d="M466.7 219.8L596.5 281.2L726.3 219.8L596.5 171.8z" fill="#ffff00" stroke="#000" stroke-width="1.3" stroke-linejoin="round"/>
<g fill="none" stroke-linecap="round" clip-path="url(#flb)">
<clipPath id="flb"><path d="M466.7 219.8L596.5 281.2L726.3 219.8L596.5 171.8z"/></clipPath>
</g>
<path d="M596.5 281.2l-1.5 2.2M596.5 281.2l1.5 2.2M560.8 264.3l-1.5 2.2M632.2 264.3l1.5 2.2M527.4 248.5l-1.5 2.2M665.6 248.5l1.5 2.2M496.1 233.7l-1.5 2.2M696.9 233.7l1.5 2.2M466.7 219.8l-1.5 2.2M726.3 219.8l1.5 2.2" stroke="#000" stroke-width="1" fill="none"/>
<path d="M466.7 219.8L458.2 41.3M726.3 219.8L734.7 41.3" fill="none" stroke="#000" stroke-width="1.6"/>
<path d="M458.5 41.3h-1.6M460.2 76.4h-1.6M461.8 110.7h-1.6M463.4 144.2h-1.6M465.0 176.9h-1.6" stroke="#c00000" stroke-width="1.4" fill="none"/>
<path d="M524.7 108.3V163.9" stroke="#000" stroke-width="1.5"/>
<circle cx="524.7" cy="165.4" r="1.9" fill="#fff" stroke="#000" stroke-width="1.5"/>
<path d="M534.3 112.3V150.5" stroke="#000" stroke-width="1.5"/>
<circle cx="534.3" cy="152.0" r="1.9" fill="#fff" stroke="#000" stroke-width="1.5"/>
<path d="M665.4 154.3V167.0" stroke="#000" stroke-width="1.5"/>
<circle cx="665.4" cy="168.5" r="1.9" fill="#fff" stroke="#000" stroke-width="1.5"/>
<g stroke-width=".5" stroke-linejoin="round">
<path d="M631.3 86.8l6.6 0.6l-7.1 0.7l-6.7-0.5z" fill="#821b00" stroke="#821b00"/>
<path d="M624.5 86.5l6.8 0.3l-7.2 0.8l-6.8-0.3z" fill="#801400" stroke="#801400"/>
<path d="M638.5 86.9l6.7 0.7l-7.3-0.2l-6.6-0.6z" fill="#7e1400" stroke="#7e1400"/>
<path d="M617.7 86.4l6.8 0.1l-7.2 0.8l-6.8 0z" fill="#811400" stroke="#811400"/>
<path d="M631.8 86.5l6.7 0.4l-7.2-0.1l-6.8-0.3z" fill="#7f1300" stroke="#7f1300"/>
<path d="M645.9 88.1l6.6 0.6l-7.3-1.1l-6.7-0.7z" fill="#7d1300" stroke="#7d1300"/>
<path d="M596.5 87.9l7-0.4l-7 1.9l-7.1 0.5z" fill="#831400" stroke="#831400"/>
<path d="M610.7 86.5l7-0.1l-7.2 0.9l-7 0.2z" fill="#811300" stroke="#811300"/>
<path d="M624.9 86.4l6.9 0.1l-7.3 0l-6.8-0.1z" fill="#801300" stroke="#801300"/>
<path d="M639.1 87.6l6.8 0.5l-7.4-1.2l-6.7-0.4z" fill="#7e1300" stroke="#7e1300"/>
<path d="M653.3 90.1l6.6 0.8l-7.4-2.2l-6.6-0.6z" fill="#7c1300" stroke="#7c1300"/>
<path d="M532.5 108.8l7.5-2l-6.5 5.8l-7.4 2.1z" fill="#9e4700" stroke="#9e4700"/>
<path d="M589.3 88.6l7.2-0.7l-7.1 2l-7.1 0.8z" fill="#841400" stroke="#841400"/>
<path d="M603.6 86.9l7.1-0.4l-7.2 1l-7 0.4z" fill="#821300" stroke="#821300"/>
<path d="M646.6 89.6l6.7 0.5l-7.4-2l-6.8-0.5z" fill="#7d1200" stroke="#7d1200"/>
<path d="M660.8 93.2l6.6 0.8l-7.5-3.1l-6.6-0.8z" fill="#7b1300" stroke="#7b1300"/>
<path d="M618 86.5l6.9-0.1l-7.2 0l-7 0.1z" fill="#801200" stroke="#801200"/>
<path d="M632.3 87.4l6.8 0.2l-7.3-1.1l-6.9-0.1z" fill="#7f1200" stroke="#7f1200"/>
<path d="M524.9 111.1l7.6-2.3l-6.4 5.9l-7.6 2.4z" fill="#9f4700" stroke="#9f4700"/>
<path d="M539.1 103.8l7.5-2l-6.6 5l-7.5 2z" fill="#953200" stroke="#953200"/>
<path d="M582.1 89.6l7.2-1l-7 2.1l-7.3 1z" fill="#841300" stroke="#841300"/>
<path d="M596.5 87.5l7.1-0.6l-7.1 1l-7.2 0.7z" fill="#831200" stroke="#831200"/>
<path d="M610.9 86.8l7.1-0.3l-7.3 0l-7.1 0.4z" fill="#811200" stroke="#811200"/>
<path d="M625.4 87.4l6.9 0l-7.4-1l-6.9 0.1z" fill="#7f1200" stroke="#7f1200"/>
<path d="M639.8 89.4l6.8 0.2l-7.5-2l-6.8-0.2z" fill="#7d1200" stroke="#7d1200"/>
<path d="M654.1 92.7l6.7 0.5l-7.5-3.1l-6.7-0.5z" fill="#7b1200" stroke="#7b1200"/>
<path d="M668.4 97.3l6.6 0.8l-7.6-4.1l-6.6-0.8z" fill="#7a1400" stroke="#7a1400"/>
<path d="M517.2 113.7l7.7-2.6l-6.4 6l-7.6 2.7z" fill="#a04800" stroke="#a04800"/>
<path d="M531.5 106l7.6-2.2l-6.6 5l-7.6 2.3z" fill="#953200" stroke="#953200"/>
<path d="M574.7 90.8l7.4-1.2l-7.1 2.1l-7.3 1.3z" fill="#851300" stroke="#851300"/>
<path d="M589.2 88.4l7.3-0.9l-7.2 1.1l-7.2 1z" fill="#841200" stroke="#841200"/>
<path d="M603.8 87.4l7.1-0.6l-7.3 0.1l-7.1 0.6z" fill="#821100" stroke="#821100"/>
<path d="M618.3 87.7l7.1-0.3l-7.4-0.9l-7.1 0.3z" fill="#801100" stroke="#801100"/>
<path d="M632.8 89.3l7 0.1l-7.5-2l-6.9 0z" fill="#7e1100" stroke="#7e1100"/>
<path d="M647.3 92.3l6.8 0.4l-7.5-3.1l-6.8-0.2z" fill="#7c1200" stroke="#7c1200"/>
<path d="M661.7 96.7l6.7 0.6l-7.6-4.1l-6.7-0.5z" fill="#7a1200" stroke="#7a1200"/>
<path d="M676.1 102.4l6.5 0.8l-7.6-5.1l-6.6-0.8z" fill="#7b1a00" stroke="#7b1a00"/>
<path d="M509.5 116.5l7.7-2.8l-6.3 6.1l-7.8 2.9z" fill="#a24a00" stroke="#a24a00"/>
<path d="M523.8 108.5l7.7-2.5l-6.6 5.1l-7.7 2.6z" fill="#973300" stroke="#973300"/>
<path d="M552.7 96.3l7.5-1.8l-6.9 3.2l-7.5 1.9z" fill="#881500" stroke="#881500"/>
<path d="M567.2 92.3l7.5-1.5l-7 2.2l-7.5 1.5z" fill="#861300" stroke="#861300"/>
<path d="M581.8 89.5l7.4-1.1l-7.1 1.2l-7.4 1.2z" fill="#851200" stroke="#851200"/>
<path d="M596.5 88.2l7.3-0.8l-7.3 0.1l-7.3 0.9z" fill="#831100" stroke="#831100"/>
<path d="M611.1 88.2l7.2-0.5l-7.4-0.9l-7.1 0.6z" fill="#811100" stroke="#811100"/>
<path d="M625.8 89.5l7-0.2l-7.4-1.9l-7.1 0.3z" fill="#7f1100" stroke="#7f1100"/>
<path d="M640.4 92.3l6.9 0l-7.5-2.9l-7-0.1z" fill="#7d1100" stroke="#7d1100"/>
<path d="M654.9 96.3l6.8 0.4l-7.6-4l-6.8-0.4z" fill="#7b1200" stroke="#7b1200"/>
<path d="M669.4 101.8l6.7 0.6l-7.7-5.1l-6.7-0.6z" fill="#781300" stroke="#781300"/>
<path d="M683.8 108.5l6.5 0.9l-7.7-6.2l-6.5-0.8z" fill="#7d2200" stroke="#7d2200"/>
<path d="M501.6 119.7l7.9-3.2l-6.4 6.2l-7.8 3.2z" fill="#a44d00" stroke="#a44d00"/>
<path d="M515.9 111.3l7.9-2.8l-6.6 5.2l-7.7 2.8z" fill="#983400" stroke="#983400"/>
<path d="M559.7 94l7.5-1.7l-7 2.2l-7.5 1.8z" fill="#871300" stroke="#871300"/>
<path d="M574.4 91l7.4-1.5l-7.1 1.3l-7.5 1.5z" fill="#851200" stroke="#851200"/>
<path d="M618.6 90l7.2-0.5l-7.5-1.8l-7.2 0.5z" fill="#801000" stroke="#801000"/>
<path d="M633.3 92.5l7.1-0.2l-7.6-3l-7 0.2z" fill="#7e1100" stroke="#7e1100"/>
<path d="M677.1 107.9l6.7 0.6l-7.7-6.1l-6.7-0.6z" fill="#7a1b00" stroke="#7a1b00"/>
<path d="M691.5 115.7l6.5 0.8l-7.7-7.1l-6.5-0.9z" fill="#802c00" stroke="#802c00"/>
<path d="M530.4 104.2l7.8-2.4l-6.7 4.2l-7.7 2.5z" fill="#8e1f00" stroke="#8e1f00"/>
<path d="M545 98.4l7.7-2.1l-6.9 3.3l-7.6 2.2z" fill="#891500" stroke="#891500"/>
<path d="M589.1 89.3l7.4-1.1l-7.3 0.2l-7.4 1.1z" fill="#841100" stroke="#841100"/>
<path d="M603.9 89l7.2-0.8l-7.3-0.8l-7.3 0.8z" fill="#821000" stroke="#821000"/>
<path d="M648 96.2l6.9 0.1l-7.6-4l-6.9 0z" fill="#7b1100" stroke="#7b1100"/>
<path d="M662.6 101.4l6.8 0.4l-7.7-5.1l-6.8-0.4z" fill="#791200" stroke="#791200"/>
<path d="M493.6 123.1l8-3.4l-6.3 6.2l-8 3.5z" fill="#a65000" stroke="#a65000"/>
<path d="M508 114.3l7.9-3l-6.4 5.2l-7.9 3.2z" fill="#9a3600" stroke="#9a3600"/>
<path d="M522.6 106.9l7.8-2.7l-6.6 4.3l-7.9 2.8z" fill="#8f2000" stroke="#8f2000"/>
<path d="M537.2 100.8l7.8-2.4l-6.8 3.4l-7.8 2.4z" fill="#891500" stroke="#891500"/>
<path d="M552 96l7.7-2l-7 2.3l-7.7 2.1z" fill="#881300" stroke="#881300"/>
<path d="M566.8 92.6l7.6-1.6l-7.2 1.3l-7.5 1.7z" fill="#861200" stroke="#861200"/>
<path d="M581.6 90.6l7.5-1.3l-7.3 0.2l-7.4 1.5z" fill="#851100" stroke="#851100"/>
<path d="M596.5 90l7.4-1l-7.4-0.8l-7.4 1.1z" fill="#831000" stroke="#831000"/>
<path d="M611.4 90.8l7.2-0.8l-7.5-1.8l-7.2 0.8z" fill="#811000" stroke="#811000"/>
<path d="M626.2 92.9l7.1-0.4l-7.5-3l-7.2 0.5z" fill="#7f1000" stroke="#7f1000"/>
<path d="M641 96.4l7-0.2l-7.6-3.9l-7.1 0.2z" fill="#7c1100" stroke="#7c1100"/>
<path d="M655.7 101.3l6.9 0.1l-7.7-5.1l-6.9-0.1z" fill="#7a1200" stroke="#7a1200"/>
<path d="M670.4 107.5l6.7 0.4l-7.7-6.1l-6.8-0.4z" fill="#781400" stroke="#781400"/>
<path d="M684.9 115l6.6 0.7l-7.7-7.2l-6.7-0.6z" fill="#7d2500" stroke="#7d2500"/>
<path d="M699.3 123.9l6.5 0.9l-7.8-8.3l-6.5-0.8z" fill="#833700" stroke="#833700"/>
<path d="M485.5 126.8l8.1-3.7l-6.3 6.3l-8 3.7z" fill="#a85400" stroke="#a85400"/>
<path d="M500 117.7l8-3.4l-6.4 5.4l-8 3.4z" fill="#9c3900" stroke="#9c3900"/>
<path d="M514.6 109.9l8-3l-6.7 4.4l-7.9 3z" fill="#912200" stroke="#912200"/>
<path d="M529.4 103.4l7.8-2.6l-6.8 3.4l-7.8 2.7z" fill="#8a1500" stroke="#8a1500"/>
<path d="M544.2 98.3l7.8-2.3l-7 2.4l-7.8 2.4z" fill="#891300" stroke="#891300"/>
<path d="M559.1 94.6l7.7-2l-7.1 1.4l-7.7 2z" fill="#871200" stroke="#871200"/>
<path d="M574 92.3l7.6-1.7l-7.2 0.4l-7.6 1.6z" fill="#861100" stroke="#861100"/>
<path d="M589 91.3l7.5-1.3l-7.4-0.7l-7.5 1.3z" fill="#841000" stroke="#841000"/>
<path d="M604 91.7l7.4-0.9l-7.5-1.8l-7.4 1z" fill="#821000" stroke="#821000"/>
<path d="M618.9 93.6l7.3-0.7l-7.6-2.9l-7.2 0.8z" fill="#801000" stroke="#801000"/>
<path d="M633.9 96.8l7.1-0.4l-7.7-3.9l-7.1 0.4z" fill="#7d1000" stroke="#7d1000"/>
<path d="M648.7 101.4l7-0.1l-7.7-5.1l-7 0.2z" fill="#7b1100" stroke="#7b1100"/>
<path d="M663.5 107.3l6.9 0.2l-7.8-6.1l-6.9-0.1z" fill="#791200" stroke="#791200"/>
<path d="M678.2 114.6l6.7 0.4l-7.8-7.1l-6.7-0.4z" fill="#7b1e00" stroke="#7b1e00"/>
<path d="M692.8 123.3l6.5 0.6l-7.8-8.2l-6.6-0.7z" fill="#813100" stroke="#813100"/>
<path d="M707.2 133.2l6.4 0.9l-7.8-9.3l-6.5-0.9z" fill="#884500" stroke="#884500"/>
<path d="M477.4 130.8l8.1-4l-6.2 6.3l-8.1 4.1z" fill="#ab5800" stroke="#ab5800"/>
<path d="M491.9 121.3l8.1-3.6l-6.4 5.4l-8.1 3.7z" fill="#9e3d00" stroke="#9e3d00"/>
<path d="M536.3 100.9l7.9-2.6l-7 2.5l-7.8 2.6z" fill="#8a1300" stroke="#8a1300"/>
<path d="M596.5 93l7.5-1.3l-7.5-1.7l-7.5 1.3z" fill="#831000" stroke="#831000"/>
<path d="M656.5 107.4l7-0.1l-7.8-6l-7 0.1z" fill="#791200" stroke="#791200"/>
<path d="M700.6 132.6l6.6 0.6l-7.9-9.3l-6.5-0.6z" fill="#863e00" stroke="#863e00"/>
<path d="M715.1 143.6l6.3 0.8l-7.8-10.3l-6.4-0.9z" fill="#8d5500" stroke="#8d5500"/>
<path d="M506.6 113.2l8-3.3l-6.6 4.4l-8 3.4z" fill="#932500" stroke="#932500"/>
<path d="M521.4 106.4l8-3l-6.8 3.5l-8 3z" fill="#8b1500" stroke="#8b1500"/>
<path d="M551.3 96.8l7.8-2.2l-7.1 1.4l-7.8 2.3z" fill="#881200" stroke="#881200"/>
<path d="M566.3 94.2l7.7-1.9l-7.2 0.3l-7.7 2z" fill="#871100" stroke="#871100"/>
<path d="M581.4 92.9l7.6-1.6l-7.4-0.7l-7.6 1.7z" fill="#851000" stroke="#851000"/>
<path d="M611.6 94.5l7.3-0.9l-7.5-2.8l-7.4 0.9z" fill="#801000" stroke="#801000"/>
<path d="M626.6 97.4l7.3-0.6l-7.7-3.9l-7.3 0.7z" fill="#7e1000" stroke="#7e1000"/>
<path d="M641.6 101.8l7.1-0.4l-7.7-5l-7.1 0.4z" fill="#7c1100" stroke="#7c1100"/>
<path d="M671.4 114.5l6.8 0.1l-7.8-7.1l-6.9-0.2z" fill="#7a1800" stroke="#7a1800"/>
<path d="M686.1 122.9l6.7 0.4l-7.9-8.3l-6.7-0.4z" fill="#7f2a00" stroke="#7f2a00"/>
<path d="M469.1 135.1l8.3-4.3l-6.2 6.4l-8.2 4.4z" fill="#af5d00" stroke="#af5d00"/>
<path d="M483.7 125.3l8.2-4l-6.4 5.5l-8.1 4z" fill="#a14100" stroke="#a14100"/>
<path d="M498.5 116.7l8.1-3.5l-6.6 4.5l-8.1 3.6z" fill="#952800" stroke="#952800"/>
<path d="M528.3 103.8l8-2.9l-6.9 2.5l-8 3z" fill="#8b1400" stroke="#8b1400"/>
<path d="M543.4 99.4l7.9-2.6l-7.1 1.5l-7.9 2.6z" fill="#891200" stroke="#891200"/>
<path d="M588.9 94.5l7.6-1.5l-7.5-1.7l-7.6 1.6z" fill="#840f00" stroke="#840f00"/>
<path d="M604.1 95.8l7.5-1.3l-7.6-2.8l-7.5 1.3z" fill="#810f00" stroke="#810f00"/>
<path d="M649.4 107.8l7.1-0.4l-7.8-6l-7.1 0.4z" fill="#7a1100" stroke="#7a1100"/>
<path d="M664.4 114.6l7-0.1l-7.9-7.2l-7 0.1z" fill="#781300" stroke="#781300"/>
<path d="M694 132.2l6.6 0.4l-7.8-9.3l-6.7-0.4z" fill="#843800" stroke="#843800"/>
<path d="M708.6 142.9l6.5 0.7l-7.9-10.4l-6.6-0.6z" fill="#8b4e00" stroke="#8b4e00"/>
<path d="M723 155l6.3 0.8l-7.9-11.4l-6.3-0.8z" fill="#8f6900" stroke="#8f6900"/>
<path d="M513.3 109.6l8.1-3.2l-6.8 3.5l-8 3.3z" fill="#8c1600" stroke="#8c1600"/>
<path d="M558.5 96.4l7.8-2.2l-7.2 0.4l-7.8 2.2z" fill="#881100" stroke="#881100"/>
<path d="M573.7 94.7l7.7-1.8l-7.4-0.6l-7.7 1.9z" fill="#861000" stroke="#861000"/>
<path d="M619.3 98.4l7.3-1l-7.7-3.8l-7.3 0.9z" fill="#7f1000" stroke="#7f1000"/>
<path d="M634.4 102.4l7.2-0.6l-7.7-5l-7.3 0.6z" fill="#7d1000" stroke="#7d1000"/>
<path d="M679.3 122.7l6.8 0.2l-7.9-8.3l-6.8-0.1z" fill="#7d2500" stroke="#7d2500"/>
<path d="M475.4 129.5l8.3-4.2l-6.3 5.5l-8.3 4.3z" fill="#a44600" stroke="#a44600"/>
<path d="M490.2 120.6l8.3-3.9l-6.6 4.6l-8.2 4z" fill="#982c00" stroke="#982c00"/>
<path d="M505.2 113.1l8.1-3.5l-6.7 3.6l-8.1 3.5z" fill="#8d1600" stroke="#8d1600"/>
<path d="M520.2 107l8.1-3.2l-6.9 2.6l-8.1 3.2z" fill="#8c1400" stroke="#8c1400"/>
<path d="M535.4 102.2l8-2.8l-7.1 1.5l-8 2.9z" fill="#8a1200" stroke="#8a1200"/>
<path d="M550.6 98.8l7.9-2.4l-7.2 0.4l-7.9 2.6z" fill="#891100" stroke="#891100"/>
<path d="M581.2 96.4l7.7-1.9l-7.5-1.6l-7.7 1.8z" fill="#850f00" stroke="#850f00"/>
<path d="M596.5 97.3l7.6-1.5l-7.6-2.8l-7.6 1.5z" fill="#820f00" stroke="#820f00"/>
<path d="M611.8 99.6l7.5-1.2l-7.7-3.9l-7.5 1.3z" fill="#801000" stroke="#801000"/>
<path d="M642.2 108.4l7.2-0.6l-7.8-6l-7.2 0.6z" fill="#7b1100" stroke="#7b1100"/>
<path d="M657.3 114.9l7.1-0.3l-7.9-7.2l-7.1 0.4z" fill="#791200" stroke="#791200"/>
<path d="M672.3 122.8l7-0.1l-7.9-8.2l-7 0.1z" fill="#7c1f00" stroke="#7c1f00"/>
<path d="M687.2 132l6.8 0.2l-7.9-9.3l-6.8-0.2z" fill="#823300" stroke="#823300"/>
<path d="M701.9 142.6l6.7 0.3l-8-10.3l-6.6-0.4z" fill="#894800" stroke="#894800"/>
<path d="M716.5 154.4l6.5 0.6l-7.9-11.4l-6.5-0.7z" fill="#8e6200" stroke="#8e6200"/>
<path d="M565.9 96.9l7.8-2.2l-7.4-0.5l-7.8 2.2z" fill="#871000" stroke="#871000"/>
<path d="M627 103.3l7.4-0.9l-7.8-5l-7.3 1z" fill="#7e1000" stroke="#7e1000"/>
<path d="M481.9 124.8l8.3-4.2l-6.5 4.7l-8.3 4.2z" fill="#9b3100" stroke="#9b3100"/>
<path d="M496.9 116.9l8.3-3.8l-6.7 3.6l-8.3 3.9z" fill="#901a00" stroke="#901a00"/>
<path d="M512 110.4l8.2-3.4l-6.9 2.6l-8.1 3.5z" fill="#8d1400" stroke="#8d1400"/>
<path d="M527.2 105.3l8.2-3.1l-7.1 1.6l-8.1 3.2z" fill="#8c1300" stroke="#8c1300"/>
<path d="M542.6 101.6l8-2.8l-7.2 0.6l-8 2.8z" fill="#8a1100" stroke="#8a1100"/>
<path d="M557.9 99.3l8-2.4l-7.4-0.5l-7.9 2.4z" fill="#881000" stroke="#881000"/>
<path d="M573.3 98.5l7.9-2.1l-7.5-1.7l-7.8 2.2z" fill="#860f00" stroke="#860f00"/>
<path d="M588.8 99l7.7-1.7l-7.6-2.8l-7.7 1.9z" fill="#840f00" stroke="#840f00"/>
<path d="M604.2 101l7.6-1.4l-7.7-3.8l-7.6 1.5z" fill="#810f00" stroke="#810f00"/>
<path d="M619.6 104.5l7.4-1.2l-7.7-4.9l-7.5 1.2z" fill="#7f1000" stroke="#7f1000"/>
<path d="M634.9 109.3l7.3-0.9l-7.8-6l-7.4 0.9z" fill="#7c1100" stroke="#7c1100"/>
<path d="M650.1 115.5l7.2-0.6l-7.9-7.1l-7.2 0.6z" fill="#7a1200" stroke="#7a1200"/>
<path d="M665.3 123.2l7-0.4l-7.9-8.2l-7.1 0.3z" fill="#7a1a00" stroke="#7a1a00"/>
<path d="M680.3 132.1l6.9-0.1l-7.9-9.3l-7 0.1z" fill="#812d00" stroke="#812d00"/>
<path d="M695.2 142.4l6.7 0.2l-7.9-10.4l-6.8-0.2z" fill="#884200" stroke="#884200"/>
<path d="M709.9 154.1l6.6 0.3l-7.9-11.5l-6.7-0.3z" fill="#8e5a00" stroke="#8e5a00"/>
<path d="M503.7 114.2l8.3-3.8l-6.8 2.7l-8.3 3.8z" fill="#8e1500" stroke="#8e1500"/>
<path d="M565.4 100.9l7.9-2.4l-7.4-1.6l-8 2.4z" fill="#871000" stroke="#871000"/>
<path d="M627.5 110.5l7.4-1.2l-7.9-6l-7.4 1.2z" fill="#7d1100" stroke="#7d1100"/>
<path d="M688.4 142.6l6.8-0.2l-8-10.4l-6.9 0.1z" fill="#863d00" stroke="#863d00"/>
<path d="M488.5 121.1l8.4-4.2l-6.7 3.7l-8.3 4.2z" fill="#931e00" stroke="#931e00"/>
<path d="M519 108.7l8.2-3.4l-7 1.7l-8.2 3.4z" fill="#8d1300" stroke="#8d1300"/>
<path d="M534.4 104.7l8.2-3.1l-7.2 0.6l-8.2 3.1z" fill="#8b1100" stroke="#8b1100"/>
<path d="M549.9 102l8-2.7l-7.3-0.5l-8 2.8z" fill="#891000" stroke="#891000"/>
<path d="M580.9 101.1l7.9-2.1l-7.6-2.6l-7.9 2.1z" fill="#850f00" stroke="#850f00"/>
<path d="M596.5 102.8l7.7-1.8l-7.7-3.7l-7.7 1.7z" fill="#820f00" stroke="#820f00"/>
<path d="M612 105.9l7.6-1.4l-7.8-4.9l-7.6 1.4z" fill="#801000" stroke="#801000"/>
<path d="M642.8 116.4l7.3-0.9l-7.9-7.1l-7.3 0.9z" fill="#7a1200" stroke="#7a1200"/>
<path d="M658.1 123.8l7.2-0.6l-8-8.3l-7.2 0.6z" fill="#791600" stroke="#791600"/>
<path d="M673.3 132.5l7-0.4l-8-9.3l-7 0.4z" fill="#7f2800" stroke="#7f2800"/>
<path d="M703.2 154l6.7 0.1l-8-11.5l-6.7-0.2z" fill="#8e5400" stroke="#8e5400"/>
<path d="M495.3 118.3l8.4-4.1l-6.8 2.7l-8.4 4.2z" fill="#8f1600" stroke="#8f1600"/>
<path d="M510.7 112.5l8.3-3.8l-7 1.7l-8.3 3.8z" fill="#8e1400" stroke="#8e1400"/>
<path d="M557.4 103.6l8-2.7l-7.5-1.6l-8 2.7z" fill="#881000" stroke="#881000"/>
<path d="M573 103.5l7.9-2.4l-7.6-2.6l-7.9 2.4z" fill="#860f00" stroke="#860f00"/>
<path d="M619.9 111.9l7.6-1.4l-7.9-6l-7.6 1.4z" fill="#7e1000" stroke="#7e1000"/>
<path d="M635.4 117.6l7.4-1.2l-7.9-7.1l-7.4 1.2z" fill="#7b1200" stroke="#7b1200"/>
<path d="M681.4 142.9l7-0.3l-8.1-10.5l-7 0.4z" fill="#853800" stroke="#853800"/>
<path d="M696.4 154.1l6.8-0.1l-8-11.6l-6.8 0.2z" fill="#8d4e00" stroke="#8d4e00"/>
<path d="M526.2 108.1l8.2-3.4l-7.2 0.6l-8.2 3.4z" fill="#8c1200" stroke="#8c1200"/>
<path d="M541.7 105.1l8.2-3.1l-7.3-0.4l-8.2 3.1z" fill="#8a1100" stroke="#8a1100"/>
<path d="M588.7 104.8l7.8-2l-7.7-3.8l-7.9 2.1z" fill="#830f00" stroke="#830f00"/>
<path d="M604.3 107.7l7.7-1.8l-7.8-4.9l-7.7 1.8z" fill="#811000" stroke="#811000"/>
<path d="M650.9 124.7l7.2-0.9l-8-8.3l-7.3 0.9z" fill="#791300" stroke="#791300"/>
<path d="M666.2 133.1l7.1-0.6l-8-9.3l-7.2 0.6z" fill="#7e2400" stroke="#7e2400"/>
<path d="M502.2 116.5l8.5-4l-7 1.7l-8.4 4.1z" fill="#8f1400" stroke="#8f1400"/>
<path d="M517.8 111.7l8.4-3.6l-7.2 0.6l-8.3 3.8z" fill="#8d1200" stroke="#8d1200"/>
<path d="M549.2 106.5l8.2-2.9l-7.5-1.6l-8.2 3.1z" fill="#891000" stroke="#891000"/>
<path d="M565 106.1l8-2.6l-7.6-2.6l-8 2.7z" fill="#871000" stroke="#871000"/>
<path d="M580.7 107.2l8-2.4l-7.8-3.7l-7.9 2.4z" fill="#840f00" stroke="#840f00"/>
<path d="M612.2 113.6l7.7-1.7l-7.9-6l-7.7 1.8z" fill="#7f1000" stroke="#7f1000"/>
<path d="M627.9 119l7.5-1.4l-7.9-7.1l-7.6 1.4z" fill="#7c1100" stroke="#7c1100"/>
<path d="M643.5 125.8l7.4-1.1l-8.1-8.3l-7.4 1.2z" fill="#7a1300" stroke="#7a1300"/>
<path d="M674.3 143.6l7.1-0.7l-8.1-10.4l-7.1 0.6z" fill="#843400" stroke="#843400"/>
<path d="M689.5 154.5l6.9-0.4l-8-11.5l-7 0.3z" fill="#8b4a00" stroke="#8b4a00"/>
<path d="M533.5 108.4l8.2-3.3l-7.3-0.4l-8.2 3.4z" fill="#8b1100" stroke="#8b1100"/>
<path d="M596.5 109.7l7.8-2l-7.8-4.9l-7.8 2z" fill="#821000" stroke="#821000"/>
<path d="M658.9 134l7.3-0.9l-8.1-9.3l-7.2 0.9z" fill="#7d2000" stroke="#7d2000"/>
<path d="M540.9 109.9l8.3-3.4l-7.5-1.4l-8.2 3.3z" fill="#8a1000" stroke="#8a1000"/>
<path d="M651.6 135.2l7.3-1.2l-8-9.3l-7.4 1.1z" fill="#7d1d00" stroke="#7d1d00"/>
<path d="M509.3 115.7l8.5-4l-7.1 0.8l-8.5 4z" fill="#8e1300" stroke="#8e1300"/>
<path d="M525.1 112.1l8.4-3.7l-7.3-0.3l-8.4 3.6z" fill="#8d1100" stroke="#8d1100"/>
<path d="M556.8 109.1l8.2-3l-7.6-2.5l-8.2 2.9z" fill="#881000" stroke="#881000"/>
<path d="M572.7 109.8l8-2.6l-7.7-3.7l-8 2.6z" fill="#861000" stroke="#861000"/>
<path d="M588.6 112l7.9-2.3l-7.8-4.9l-8 2.4z" fill="#831000" stroke="#831000"/>
<path d="M604.4 115.6l7.8-2l-7.9-5.9l-7.8 2z" fill="#801000" stroke="#801000"/>
<path d="M620.2 120.7l7.7-1.7l-8-7.1l-7.7 1.7z" fill="#7d1100" stroke="#7d1100"/>
<path d="M635.9 127.3l7.6-1.5l-8.1-8.2l-7.5 1.4z" fill="#7b1200" stroke="#7b1200"/>
<path d="M667.1 144.5l7.2-0.9l-8.1-10.5l-7.3 0.9z" fill="#833000" stroke="#833000"/>
<path d="M682.4 155.2l7.1-0.7l-8.1-11.6l-7.1 0.7z" fill="#8a4600" stroke="#8a4600"/>
<path d="M532.5 113.5l8.4-3.6l-7.4-1.5l-8.4 3.7z" fill="#8c1100" stroke="#8c1100"/>
<path d="M548.5 112.4l8.3-3.3l-7.6-2.6l-8.3 3.4z" fill="#891000" stroke="#891000"/>
<path d="M596.5 118l7.9-2.4l-7.9-5.9l-7.9 2.3z" fill="#811000" stroke="#811000"/>
<path d="M644.1 136.6l7.5-1.4l-8.1-9.4l-7.6 1.5z" fill="#7d1a00" stroke="#7d1a00"/>
<path d="M659.7 145.7l7.4-1.2l-8.2-10.5l-7.3 1.2z" fill="#822d00" stroke="#822d00"/>
<path d="M516.6 116l8.5-3.9l-7.3-0.4l-8.5 4z" fill="#8e1200" stroke="#8e1200"/>
<path d="M564.5 112.8l8.2-3l-7.7-3.7l-8.2 3z" fill="#871000" stroke="#871000"/>
<path d="M580.5 114.6l8.1-2.6l-7.9-4.8l-8 2.6z" fill="#841000" stroke="#841000"/>
<path d="M612.4 122.7l7.8-2l-8-7.1l-7.8 2z" fill="#7f1100" stroke="#7f1100"/>
<path d="M628.3 129l7.6-1.7l-8-8.3l-7.7 1.7z" fill="#7c1200" stroke="#7c1200"/>
<path d="M675.2 156.1l7.2-0.9l-8.1-11.6l-7.2 0.9z" fill="#8a4200" stroke="#8a4200"/>
<path d="M524 117.4l8.5-3.9l-7.4-1.4l-8.5 3.9z" fill="#8d1100" stroke="#8d1100"/>
<path d="M540.1 116l8.4-3.6l-7.6-2.5l-8.4 3.6z" fill="#8b1100" stroke="#8b1100"/>
<path d="M556.2 116l8.3-3.2l-7.7-3.7l-8.3 3.3z" fill="#881000" stroke="#881000"/>
<path d="M588.4 120.6l8.1-2.6l-7.9-6l-8.1 2.6z" fill="#821100" stroke="#821100"/>
<path d="M604.5 125.1l7.9-2.4l-8-7.1l-7.9 2.4z" fill="#801100" stroke="#801100"/>
<path d="M636.4 138.4l7.7-1.8l-8.2-9.3l-7.6 1.7z" fill="#7d1800" stroke="#7d1800"/>
<path d="M652.3 147.2l7.4-1.5l-8.1-10.5l-7.5 1.4z" fill="#822a00" stroke="#822a00"/>
<path d="M667.9 157.4l7.3-1.3l-8.1-11.6l-7.4 1.2z" fill="#893f00" stroke="#893f00"/>
<path d="M572.3 117.6l8.2-3l-7.8-4.8l-8.2 3z" fill="#851000" stroke="#851000"/>
<path d="M620.5 131l7.8-2l-8.1-8.3l-7.8 2z" fill="#7d1200" stroke="#7d1200"/>
<path d="M531.6 119.9l8.5-3.9l-7.6-2.5l-8.5 3.9z" fill="#8c1100" stroke="#8c1100"/>
<path d="M580.3 123.5l8.1-2.9l-7.9-6l-8.2 3z" fill="#841100" stroke="#841100"/>
<path d="M596.5 127.7l8-2.6l-8-7.1l-8.1 2.6z" fill="#811100" stroke="#811100"/>
<path d="M612.6 133.3l7.9-2.3l-8.1-8.3l-7.9 2.4z" fill="#7e1200" stroke="#7e1200"/>
<path d="M660.5 158.9l7.4-1.5l-8.2-11.7l-7.4 1.5z" fill="#893c00" stroke="#893c00"/>
<path d="M547.8 119.6l8.4-3.6l-7.7-3.6l-8.4 3.6z" fill="#891100" stroke="#891100"/>
<path d="M564 120.8l8.3-3.2l-7.8-4.8l-8.3 3.2z" fill="#871000" stroke="#871000"/>
<path d="M628.7 140.4l7.7-2l-8.1-9.4l-7.8 2z" fill="#7d1600" stroke="#7d1600"/>
<path d="M644.7 148.9l7.6-1.7l-8.2-10.6l-7.7 1.8z" fill="#822800" stroke="#822800"/>
<path d="M572 126.7l8.3-3.2l-8-5.9l-8.3 3.2z" fill="#851100" stroke="#851100"/>
<path d="M620.8 142.7l7.9-2.3l-8.2-9.4l-7.9 2.3z" fill="#7d1500" stroke="#7d1500"/>
<path d="M539.3 123.5l8.5-3.9l-7.7-3.6l-8.5 3.9z" fill="#8b1100" stroke="#8b1100"/>
<path d="M588.3 130.6l8.2-2.9l-8.1-7.1l-8.1 2.9z" fill="#821200" stroke="#821200"/>
<path d="M604.6 135.9l8-2.6l-8.1-8.2l-8 2.6z" fill="#7f1300" stroke="#7f1300"/>
<path d="M653 160.7l7.5-1.8l-8.2-11.7l-7.6 1.7z" fill="#893a00" stroke="#893a00"/>
<path d="M555.6 124.4l8.4-3.6l-7.8-4.8l-8.4 3.6z" fill="#881100" stroke="#881100"/>
<path d="M637 151l7.7-2.1l-8.3-10.5l-7.7 2z" fill="#822700" stroke="#822700"/>
<path d="M563.6 130.3l8.4-3.6l-8-5.9l-8.4 3.6z" fill="#861100" stroke="#861100"/>
<path d="M580.1 133.9l8.2-3.3l-8-7.1l-8.3 3.2z" fill="#831200" stroke="#831200"/>
<path d="M612.8 145.4l8-2.7l-8.2-9.4l-8 2.6z" fill="#7e1500" stroke="#7e1500"/>
<path d="M629.1 153.4l7.9-2.4l-8.3-10.6l-7.9 2.3z" fill="#832600" stroke="#832600"/>
<path d="M547.1 128.3l8.5-3.9l-7.8-4.8l-8.5 3.9z" fill="#891100" stroke="#891100"/>
<path d="M596.5 138.9l8.1-3l-8.1-8.2l-8.2 2.9z" fill="#801300" stroke="#801300"/>
<path d="M645.3 162.7l7.7-2l-8.3-11.8l-7.7 2.1z" fill="#893900" stroke="#893900"/>
<path d="M555.1 134.2l8.5-3.9l-8-5.9l-8.5 3.9z" fill="#881200" stroke="#881200"/>
<path d="M637.5 165.1l7.8-2.4l-8.3-11.7l-7.9 2.4z" fill="#893800" stroke="#893800"/>
<path d="M571.7 137.4l8.4-3.5l-8.1-7.2l-8.4 3.6z" fill="#851200" stroke="#851200"/>
<path d="M588.2 142.1l8.3-3.2l-8.2-8.3l-8.2 3.3z" fill="#821300" stroke="#821300"/>
<path d="M604.7 148.3l8.1-2.9l-8.2-9.5l-8.1 3z" fill="#7f1500" stroke="#7f1500"/>
<path d="M621.2 156l7.9-2.6l-8.3-10.7l-8 2.7z" fill="#842500" stroke="#842500"/>
<path d="M563.1 141.3l8.6-3.9l-8.1-7.1l-8.5 3.9z" fill="#861300" stroke="#861300"/>
<path d="M596.5 151.6l8.2-3.3l-8.2-9.4l-8.3 3.2z" fill="#811600" stroke="#811600"/>
<path d="M629.5 167.8l8-2.7l-8.4-11.7l-7.9 2.6z" fill="#8a3700" stroke="#8a3700"/>
<path d="M579.8 145.7l8.4-3.6l-8.1-8.2l-8.4 3.5z" fill="#831300" stroke="#831300"/>
<path d="M613.1 159l8.1-3l-8.4-10.6l-8.1 2.9z" fill="#852500" stroke="#852500"/>
<path d="M571.3 149.6l8.5-3.9l-8.1-8.3l-8.6 3.9z" fill="#841400" stroke="#841400"/>
<path d="M588.1 155.2l8.4-3.6l-8.3-9.5l-8.4 3.6z" fill="#831800" stroke="#831800"/>
<path d="M604.8 162.3l8.3-3.3l-8.4-10.7l-8.2 3.3z" fill="#862600" stroke="#862600"/>
<path d="M621.5 170.9l8-3.1l-8.3-11.8l-8.1 3z" fill="#8b3700" stroke="#8b3700"/>
<path d="M579.6 159.2l8.5-4l-8.3-9.5l-8.5 3.9z" fill="#851a00" stroke="#851a00"/>
<path d="M613.3 174.2l8.2-3.3l-8.4-11.9l-8.3 3.3z" fill="#8d3800" stroke="#8d3800"/>
<path d="M596.5 165.9l8.3-3.6l-8.3-10.7l-8.4 3.6z" fill="#882800" stroke="#882800"/>
<path d="M588 169.9l8.5-4l-8.4-10.7l-8.5 4z" fill="#8a2a00" stroke="#8a2a00"/>
<path d="M604.9 177.9l8.4-3.7l-8.5-11.9l-8.3 3.6z" fill="#8e3a00" stroke="#8e3a00"/>
<path d="M596.5 181.9l8.4-4l-8.4-12l-8.5 4z" fill="#903c00" stroke="#903c00"/>
</g>
<path d="M596.5 181.9l6.3-3.1l6.3-2.8l6.2-2.7l6.2-2.4l6-2.3l6-2.2l5.9-1.9l5.9-1.8l5.7-1.6l5.7-1.4l5.7-1.2l5.5-1.1l5.5-1l5.4-0.8l5.4-0.6l5.3-0.5l5.2-0.3l5.1-0.2l5.1 0l5 0.1l5 0.2l4.8 0.4l4.9 0.5l4.7 0.6M593.9 178.2l6.4-3.1l6.3-2.8l6.2-2.7l6.1-2.4l6.1-2.3l6-2.1l5.9-1.9l5.9-1.8l5.8-1.6l5.7-1.4l5.6-1.3l5.6-1.1l5.5-0.9l5.4-0.8l5.4-0.6l5.2-0.5l5.3-0.3l5.1-0.2l5.1 0l5 0.1l5 0.2l4.9 0.4l4.8 0.5l4.7 0.7M591.4 174.5l6.4-3l6.2-2.8l6.3-2.6l6.1-2.5l6.1-2.3l6-2.1l5.9-1.9l5.9-1.7l5.8-1.6l5.7-1.4l5.6-1.3l5.6-1.1l5.5-0.9l5.4-0.8l5.4-0.6l5.3-0.5l5.2-0.3l5.2-0.1l5.1-0.1l5 0.1l5 0.3l4.9 0.4l4.8 0.5l4.8 0.6M588.8 171l6.4-3l6.3-2.8l6.2-2.6l6.2-2.5l6.1-2.2l6-2.1l5.9-1.9l5.9-1.8l5.8-1.6l5.7-1.4l5.7-1.2l5.5-1.1l5.6-0.9l5.4-0.8l5.4-0.6l5.3-0.4l5.2-0.4l5.2-0.1l5.1 0l5 0.1l5 0.2l4.9 0.4l4.9 0.5l4.7 0.7M586.3 167.7l6.4-3l6.3-2.9l6.2-2.6l6.2-2.4l6.1-2.3l6-2.1l5.9-1.9l5.9-1.7l5.8-1.6l5.7-1.4l5.7-1.2l5.6-1.1l5.5-0.9l5.5-0.8l5.3-0.6l5.4-0.4l5.2-0.3l5.2-0.2l5.1 0l5 0.1l5 0.3l4.9 0.4l4.9 0.5l4.8 0.6M583.8 164.4l6.4-3l6.3-2.8l6.2-2.6l6.2-2.5l6.1-2.2l6-2.1l5.9-1.9l5.9-1.7l5.8-1.6l5.8-1.4l5.6-1.2l5.6-1.1l5.6-0.9l5.4-0.8l5.4-0.6l5.3-0.4l5.3-0.3l5.2-0.2l5.1 0l5.1 0.1l4.9 0.3l5 0.4l4.8 0.5l4.8 0.7M581.3 161.2l6.4-3l6.3-2.8l6.2-2.6l6.2-2.4l6.1-2.3l6-2l6-1.9l5.9-1.8l5.8-1.5l5.7-1.4l5.7-1.2l5.6-1.1l5.5-0.9l5.5-0.8l5.4-0.6l5.3-0.4l5.3-0.3l5.2-0.2l5.1 0l5.1 0.2l5 0.2l4.9 0.4l4.9 0.6l4.8 0.6M578.8 158.2l6.4-3l6.3-2.8l6.2-2.6l6.2-2.5l6.1-2.2l6-2.1l6-1.9l5.9-1.7l5.8-1.5l5.8-1.4l5.6-1.2l5.6-1.1l5.6-0.9l5.5-0.7l5.4-0.6l5.3-0.5l5.3-0.3l5.2-0.1l5.1 0l5.1 0.1l5 0.3l4.9 0.4l4.9 0.5l4.8 0.7M576.3 155.2l6.4-3l6.3-2.8l6.2-2.6l6.2-2.4l6.1-2.2l6.1-2.1l5.9-1.9l5.9-1.7l5.9-1.5l5.7-1.4l5.7-1.2l5.6-1.1l5.6-0.9l5.4-0.7l5.5-0.6l5.3-0.5l5.3-0.3l5.2-0.1l5.1 0l5.1 0.1l5 0.3l5 0.4l4.9 0.5l4.8 0.7M573.8 152.4l6.4-3l6.3-2.8l6.3-2.6l6.1-2.4l6.2-2.2l6-2.1l6-1.9l5.9-1.7l5.8-1.5l5.8-1.4l5.7-1.2l5.6-1.1l5.5-0.9l5.5-0.7l5.4-0.6l5.4-0.5l5.3-0.2l5.2-0.2l5.2 0l5 0.1l5.1 0.3l4.9 0.4l4.9 0.6l4.8 0.7M571.3 149.6l6.4-2.9l6.3-2.8l6.3-2.6l6.2-2.4l6.1-2.3l6-2l6-1.9l5.9-1.7l5.9-1.5l5.7-1.4l5.7-1.2l5.7-1.1l5.5-0.9l5.5-0.7l5.4-0.6l5.4-0.4l5.3-0.3l5.2-0.2l5.2 0l5.1 0.2l5 0.2l5 0.5l4.9 0.5l4.8 0.7M568.9 147l6.4-2.9l6.3-2.8l6.2-2.6l6.2-2.4l6.1-2.3l6.1-2l6-1.9l5.9-1.7l5.8-1.5l5.8-1.4l5.7-1.2l5.6-1.1l5.6-0.9l5.5-0.7l5.4-0.6l5.4-0.4l5.3-0.3l5.2-0.2l5.2 0l5.1 0.2l5 0.3l5 0.4l4.9 0.5l4.9 0.7M566.4 144.5l6.4-3l6.3-2.7l6.3-2.6l6.2-2.4l6.1-2.3l6.1-2l5.9-1.9l6-1.7l5.8-1.5l5.8-1.4l5.7-1.2l5.6-1.1l5.6-0.9l5.5-0.7l5.4-0.6l5.4-0.4l5.3-0.3l5.3-0.1l5.1 0l5.1 0.1l5.1 0.3l5 0.4l4.9 0.5l4.8 0.7M563.9 142.1l6.4-3l6.4-2.7l6.2-2.6l6.2-2.4l6.2-2.2l6-2.1l6-1.9l5.9-1.7l5.9-1.5l5.8-1.4l5.7-1.2l5.6-1l5.6-0.9l5.5-0.8l5.5-0.6l5.3-0.4l5.3-0.3l5.3-0.1l5.2 0l5.1 0.1l5 0.3l5 0.4l4.9 0.5l4.9 0.7M561.5 139.8l6.4-3l6.3-2.7l6.3-2.6l6.2-2.4l6.1-2.2l6.1-2.1l6-1.9l5.9-1.7l5.9-1.5l5.8-1.4l5.7-1.2l5.6-1l5.6-0.9l5.5-0.8l5.5-0.5l5.4-0.5l5.3-0.3l5.2-0.1l5.2 0l5.1 0.1l5.1 0.3l5 0.4l4.9 0.6l4.9 0.6M559.1 137.6l6.4-2.9l6.3-2.8l6.3-2.6l6.2-2.4l6.1-2.2l6.1-2.1l6-1.8l5.9-1.7l5.9-1.6l5.8-1.4l5.7-1.2l5.6-1l5.6-0.9l5.5-0.7l5.5-0.6l5.4-0.5l5.3-0.3l5.3-0.1l5.2 0l5.1 0.1l5 0.3l5 0.4l5 0.6l4.9 0.6M556.7 135.5l6.4-2.9l6.3-2.8l6.3-2.6l6.2-2.4l6.1-2.2l6.1-2l6-1.9l5.9-1.7l5.9-1.6l5.8-1.3l5.7-1.2l5.6-1.1l5.6-0.9l5.6-0.7l5.4-0.6l5.4-0.5l5.3-0.3l5.3-0.1l5.2 0l5.1 0.1l5.1 0.3l5 0.4l5 0.5l4.8 0.7M554.3 133.6l6.4-3l6.3-2.8l6.3-2.5l6.2-2.4l6.1-2.3l6.1-2l6-1.9l5.9-1.7l5.9-1.5l5.8-1.4l5.7-1.2l5.7-1.1l5.6-0.9l5.5-0.7l5.5-0.6l5.4-0.5l5.3-0.2l5.3-0.2l5.2 0l5.1 0.1l5.1 0.3l5 0.4l4.9 0.5l4.9 0.7M551.9 131.7l6.4-3l6.3-2.7l6.3-2.6l6.2-2.4l6.1-2.2l6.1-2.1l6-1.9l5.9-1.7l5.9-1.5l5.8-1.4l5.7-1.2l5.7-1.1l5.6-0.9l5.5-0.7l5.5-0.6l5.4-0.4l5.3-0.3l5.3-0.2l5.2 0l5.2 0.1l5 0.3l5.1 0.4l4.9 0.5l4.9 0.7M549.5 129.9l6.4-2.9l6.3-2.8l6.3-2.6l6.2-2.4l6.1-2.2l6.1-2.1l6-1.8l6-1.7l5.8-1.6l5.8-1.4l5.8-1.2l5.6-1l5.6-0.9l5.6-0.8l5.4-0.6l5.5-0.4l5.3-0.3l5.3-0.2l5.2 0l5.1 0.1l5.1 0.3l5 0.4l5 0.5l4.9 0.6M547.1 128.3l6.4-3l6.3-2.7l6.3-2.6l6.2-2.4l6.2-2.3l6-2l6-1.9l6-1.7l5.9-1.6l5.8-1.3l5.7-1.3l5.7-1l5.6-0.9l5.5-0.8l5.5-0.6l5.4-0.4l5.4-0.3l5.2-0.2l5.3 0l5.1 0.1l5.1 0.2l5 0.4l5 0.6l4.9 0.6M544.7 126.7l6.4-2.9l6.4-2.8l6.3-2.6l6.2-2.4l6.1-2.2l6.1-2.1l6-1.9l5.9-1.7l5.9-1.5l5.8-1.4l5.8-1.2l5.6-1.1l5.6-0.9l5.6-0.8l5.5-0.6l5.4-0.4l5.3-0.4l5.3-0.1l5.2 0l5.2 0.1l5.1 0.2l5 0.4l5 0.5l4.9 0.7M542.4 125.3l6.4-3l6.3-2.7l6.3-2.6l6.2-2.4l6.2-2.3l6-2l6-1.9l6-1.8l5.9-1.5l5.8-1.4l5.7-1.2l5.7-1.1l5.6-0.9l5.5-0.8l5.5-0.6l5.5-0.5l5.3-0.3l5.3-0.1l5.2-0.1l5.2 0.1l5.1 0.3l5 0.4l5 0.5l4.9 0.6M540 123.9l6.5-2.9l6.3-2.8l6.3-2.6l6.2-2.4l6.1-2.2l6.1-2.1l6-1.9l5.9-1.7l5.9-1.6l5.8-1.4l5.8-1.2l5.7-1.1l5.6-0.9l5.5-0.8l5.5-0.6l5.4-0.5l5.4-0.3l5.3-0.2l5.2 0l5.2 0.1l5.1 0.2l5 0.4l5 0.5l4.9 0.6M537.7 122.7l6.4-3l6.4-2.7l6.2-2.6l6.2-2.5l6.2-2.2l6.1-2.1l6-1.9l5.9-1.7l5.9-1.6l5.8-1.4l5.8-1.2l5.6-1.1l5.7-0.9l5.5-0.8l5.5-0.6l5.4-0.5l5.4-0.3l5.3-0.2l5.2 0l5.2 0.1l5.1 0.2l5 0.4l5 0.5l5 0.6M535.4 121.6l6.4-3l6.3-2.8l6.3-2.6l6.2-2.4l6.2-2.2l6-2.1l6-1.9l6-1.8l5.9-1.5l5.8-1.4l5.7-1.3l5.7-1.1l5.6-0.9l5.6-0.8l5.5-0.6l5.4-0.5l5.4-0.3l5.3-0.2l5.2-0.1l5.2 0.1l5.1 0.2l5.1 0.4l5 0.5l4.9 0.6M533.1 120.5l6.4-2.9l6.3-2.8l6.3-2.6l6.2-2.5l6.2-2.2l6-2.1l6-1.9l6-1.7l5.9-1.6l5.8-1.4l5.7-1.3l5.7-1.1l5.6-0.9l5.6-0.8l5.5-0.6l5.4-0.5l5.4-0.4l5.3-0.2l5.2 0l5.2 0.1l5.1 0.2l5.1 0.3l5 0.5l4.9 0.6M530.8 119.6l6.4-3l6.3-2.8l6.3-2.6l6.2-2.4l6.2-2.3l6-2l6-2l6-1.7l5.9-1.6l5.8-1.4l5.7-1.3l5.7-1.1l5.6-0.9l5.6-0.8l5.5-0.7l5.4-0.4l5.4-0.4l5.3-0.2l5.3-0.1l5.1 0.1l5.2 0.2l5 0.3l5 0.5l5 0.6M528.5 118.8l6.4-3l6.4-2.8l6.2-2.6l6.2-2.4l6.2-2.3l6-2.1l6.1-1.9l5.9-1.8l5.9-1.6l5.8-1.4l5.7-1.3l5.7-1.1l5.7-0.9l5.5-0.8l5.5-0.7l5.5-0.5l5.3-0.3l5.3-0.3l5.3 0l5.2 0l5.1 0.2l5.1 0.4l5 0.4l4.9 0.6M526.3 118l6.4-2.9l6.3-2.8l6.3-2.7l6.2-2.4l6.1-2.3l6.1-2.1l6-1.9l5.9-1.8l5.9-1.6l5.8-1.4l5.8-1.3l5.7-1.1l5.6-0.9l5.5-0.9l5.5-0.6l5.5-0.5l5.4-0.4l5.3-0.2l5.2-0.1l5.2 0l5.1 0.2l5.1 0.4l5 0.4l5 0.6M524 117.4l6.4-3l6.3-2.8l6.3-2.6l6.2-2.5l6.1-2.2l6.1-2.1l6-2l5.9-1.7l5.9-1.6l5.8-1.5l5.8-1.3l5.7-1.1l5.6-1l5.6-0.8l5.5-0.7l5.4-0.5l5.4-0.4l5.3-0.2l5.3-0.1l5.2 0.1l5.1 0.1l5.1 0.3l5 0.5l4.9 0.6M521.8 116.9l6.4-3l6.3-2.8l6.2-2.6l6.2-2.5l6.2-2.3l6-2.1l6-1.9l6-1.8l5.9-1.6l5.8-1.5l5.7-1.3l5.7-1.1l5.7-1l5.5-0.8l5.5-0.7l5.5-0.5l5.3-0.4l5.4-0.3l5.2-0.1l5.2 0.1l5.1 0.1l5.1 0.3l5 0.5l5 0.5M519.6 116.5l6.3-3l6.4-2.9l6.2-2.6l6.2-2.5l6.1-2.3l6.1-2.1l6-1.9l5.9-1.8l5.9-1.6l5.8-1.5l5.8-1.3l5.7-1.1l5.6-1l5.6-0.9l5.5-0.7l5.4-0.5l5.4-0.4l5.3-0.3l5.3-0.1l5.2 0.1l5.1 0.1l5.1 0.3l5 0.4l5 0.6M517.3 116.1l6.4-3l6.3-2.8l6.3-2.6l6.2-2.5l6.1-2.3l6.1-2.1l6-2l5.9-1.8l5.9-1.6l5.8-1.5l5.8-1.3l5.6-1.2l5.7-1l5.5-0.8l5.5-0.7l5.5-0.6l5.4-0.4l5.3-0.3l5.2-0.1l5.2 0l5.2 0.2l5.1 0.3l5 0.4l4.9 0.5M515.1 115.9l6.4-3l6.3-2.9l6.3-2.6l6.2-2.5l6.1-2.3l6-2.1l6-2l6-1.8l5.9-1.6l5.8-1.5l5.7-1.3l5.7-1.2l5.6-1l5.6-0.9l5.5-0.7l5.5-0.6l5.3-0.4l5.4-0.3l5.2-0.1l5.2 0l5.2 0.1l5 0.3l5.1 0.4l4.9 0.5M513 115.8l6.3-3.1l6.3-2.8l6.3-2.7l6.2-2.5l6.1-2.3l6-2.1l6-2l6-1.8l5.8-1.7l5.9-1.5l5.7-1.3l5.7-1.2l5.6-1l5.6-0.9l5.5-0.7l5.4-0.6l5.4-0.4l5.3-0.3l5.3-0.1l5.2 0l5.1 0.1l5.1 0.2l5.1 0.4l4.9 0.5M510.8 115.7l6.3-3l6.4-2.9l6.2-2.6l6.2-2.5l6.1-2.4l6-2.1l6-2l6-1.8l5.8-1.7l5.9-1.5l5.7-1.3l5.7-1.2l5.6-1l5.6-0.9l5.5-0.8l5.4-0.6l5.4-0.4l5.3-0.3l5.3-0.2l5.2 0l5.1 0.1l5.1 0.3l5.1 0.3l4.9 0.5M508.6 115.8l6.4-3.1l6.3-2.8l6.2-2.7l6.2-2.5l6.1-2.3l6.1-2.2l6-2l5.9-1.8l5.9-1.7l5.8-1.5l5.7-1.4l5.7-1.2l5.6-1l5.6-0.9l5.5-0.8l5.4-0.6l5.4-0.4l5.3-0.3l5.3-0.2l5.2-0.1l5.1 0.1l5.1 0.3l2.6 0.1M506.5 115.9l6.3-3l6.3-2.9l6.3-2.7l6.1-2.5l6.1-2.3l6.1-2.2l6-2l5.9-1.9l5.9-1.7l5.8-1.5l5.7-1.3l5.7-1.3l5.6-1l5.6-0.9l5.5-0.8l5.4-0.6l5.4-0.5l5.3-0.3l5.3-0.2l5.2 0l3.5 0M504.3 116.2l6.4-3.1l6.3-2.9l6.2-2.7l6.2-2.5l6.1-2.3l6-2.2l6-2.1l5.9-1.8l5.9-1.7l5.8-1.5l5.7-1.4l5.7-1.2l5.6-1.1l5.6-0.9l5.5-0.8l5.5-0.6l5.3-0.5l5.4-0.4l4.2-0.1M502.2 116.5l6.4-3.1l6.3-2.8l6.2-2.8l6.1-2.5l6.1-2.4l6.1-2.2l6-2l5.9-1.9l5.8-1.7l5.8-1.5l5.8-1.4l5.7-1.2l5.6-1.1l5.5-1l5.5-0.7l5.5-0.7l4.5-0.4M500.1 116.9l6.4-3l6.2-2.9l6.3-2.8l6.1-2.5l6.1-2.4l6-2.2l6-2l5.9-1.9l5.9-1.7l5.8-1.6l5.7-1.4l5.7-1.2l5.6-1.1l5.6-1l4.4-0.6M498 117.4l6.4-3l6.2-2.9l6.3-2.8l6.1-2.5l6.1-2.4l6-2.2l6-2.1l5.9-1.9l5.9-1.7l5.8-1.6l5.7-1.4l5.7-1.3l3.8-0.7M496 118.1l6.3-3.1l6.3-2.9l6.2-2.8l6.1-2.6l6.1-2.4l6-2.2l6-2.1l5.9-1.9l5.8-1.7l5.8-1.6l2.8-0.7M493.9 118.8l6.3-3.1l6.3-3l6.2-2.7l6.1-2.6l6.1-2.4l6-2.3l6-2l5.9-2l0.9-0.2M491.9 119.6l6.3-3.2l6.2-2.9l6.2-2.8l6.1-2.6l6.1-2.4l4.4-1.6M489.8 120.4l6.3-3.1l6.3-2.9l6.2-2.8l0.9-0.4M487.8 121.4l2.7-1.4M485.8 122.4l3.9-1.9M483.8 123.6l6.3-3.2l2.1-1M481.9 124.8l6.2-3.2l6.2-3l0.4-0.1M479.9 126.1l6.3-3.2l6.2-3l4.8-2.2M478 127.5l6.2-3.2l6.2-3l6.1-2.9l3.3-1.4M476 129l6.3-3.2l6.2-3.1l6.1-2.8l6.1-2.7l1.6-0.7M474.1 130.5l6.3-3.2l6.1-3l6.2-2.9l6-2.7l6-2.6l0.1 0M472.2 132.2l6.3-3.2l6.1-3.1l6.1-2.9l6.1-2.7l6-2.6l4.6-1.9M470.4 133.9l6.2-3.2l6.1-3.1l6.1-2.9l6.1-2.8l6-2.5l5.9-2.5l3.1-1.2M468.5 135.7l6.2-3.3l6.1-3l6.1-3l6.1-2.7l6-2.6l5.9-2.4l5.9-2.3l1.7-0.7M466.6 137.6l6.2-3.3l6.2-3.1l6.1-2.9l6-2.8l6-2.6l5.9-2.5l5.8-2.2l5.9-2.2l0.3-0.1M464.8 139.5l6.2-3.3l6.1-3.1l6.1-2.9l6-2.8l6-2.6l5.9-2.5l5.8-2.3l5.9-2.1l4.8-1.7M463 141.6l6.2-3.3l6.1-3.2l6-2.9l6-2.8l6-2.7l5.9-2.5l5.9-2.3l5.8-2.1l5.7-2.1l3.6-1.1M596.5 181.9l-6.4-9.1l-6.3-8.4l-6.3-7.7l-6.2-7.1l-6.1-6.3l-6.1-5.7l-6-5l-6-4.3l-5.9-3.7l-5.8-3l-5.7-2.4l-5.7-1.8l-5.6-1.1l-5.4-0.5l-5.4 0l-5.4 0.7l-5.2 1.2l-5.1 1.9l-5.1 2.3l-4.9 2.9l-4.9 3.4l-4.8 4l-4.6 4.4l-4.6 5M599 180.6l-6.3-9l-6.3-8.4l-6.3-7.8l-6.2-7l-6.2-6.3l-6.1-5.7l-6-5l-5.9-4.3l-5.9-3.7l-5.8-3l-5.8-2.4l-5.6-1.8l-5.6-1.1l-5.5-0.6l-5.4 0.1l-5.3 0.7l-5.3 1.2l-5.1 1.8l-4.1 1.8M488.9 120.9l-4.5 2.6l-4.9 3.4l-4.8 4l-4.6 4.4l-4.6 4.9M601.6 179.4l-6.4-9l-6.3-8.4l-6.3-7.7l-6.2-7.1l-6.1-6.3l-6.1-5.7l-6-5l-6-4.3l-5.9-3.7l-5.8-3l-5.7-2.4l-5.7-1.8l-5.5-1.1l-5.5-0.6l-5.5 0.1l-5.3 0.6l-5.2 1.3l-5.2 1.7l-3.8 1.7M490.3 120.2l-3.4 2.1l-4.9 3.4l-4.8 3.9l-4.7 4.4l-4.6 4.9M604.1 178.3l-6.3-9.1l-6.4-8.4l-6.2-7.7l-6.2-7l-6.2-6.3l-6-5.7l-6.1-5l-5.9-4.3l-5.9-3.7l-5.8-3.1l-5.8-2.4l-5.6-1.7l-5.6-1.2l-5.5-0.5l-5.4 0l-5.4 0.6l-5.2 1.3l-5.2 1.7l-3.5 1.6M491.7 119.6l-2.3 1.4l-4.9 3.4l-4.8 3.9l-4.7 4.4l-4.6 4.9M606.6 177.1l-6.3-9.1l-6.3-8.3l-6.3-7.7l-6.2-7l-6.1-6.4l-6.1-5.6l-6-5l-6-4.4l-5.9-3.6l-5.8-3.1l-5.7-2.4l-5.7-1.8l-5.6-1.1l-5.5-0.6l-5.4 0.1l-5.3 0.6l-5.3 1.2l-5.2 1.8l-3.2 1.4M493.1 119.1l-1.2 0.7l-4.9 3.4l-4.8 3.9l-4.7 4.4l-4.7 4.9M609.1 176l-6.3-9.1l-6.3-8.3l-6.3-7.7l-6.2-7l-6.1-6.3l-6.1-5.7l-6-5l-6-4.3l-5.8-3.7l-5.9-3.1l-5.7-2.4l-5.7-1.8l-5.6-1.1l-5.5-0.6l-5.4 0l-5.3 0.7l-5.3 1.1l-5.2 1.8l-2.9 1.3M494.5 118.6l-0.2 0l-4.9 3.4l-4.8 3.9l-4.7 4.4l-4.6 4.8M611.6 174.9l-6.3-9l-6.3-8.4l-6.3-7.7l-6.1-7l-6.2-6.3l-6.1-5.7l-6-5l-5.9-4.3l-5.9-3.7l-5.8-3l-5.8-2.5l-5.7-1.7l-5.5-1.2l-5.6-0.6l-5.4 0l-5.3 0.6l-5.3 1.2l-5.2 1.8l-2.6 1.1M495.9 118.1l-4 2.7l-4.8 3.9l-4.8 4.4l-4.6 4.8M614.1 173.8l-6.3-9l-6.3-8.3l-6.3-7.7l-6.1-7l-6.2-6.3l-6.1-5.7l-6-5l-5.9-4.3l-5.9-3.7l-5.8-3.1l-5.8-2.4l-5.7-1.8l-5.5-1.2l-5.6-0.5l-5.4 0l-5.4 0.6l-5.2 1.1l-5.2 1.8l-2.3 0.9M497.3 117.7l-3 2l-4.8 3.9l-4.7 4.3l-4.7 4.8M616.6 172.8l-6.4-9l-6.2-8.3l-6.3-7.7l-6.2-7l-6.1-6.3l-6.1-5.7l-6-5l-5.9-4.3l-5.9-3.7l-5.8-3.1l-5.8-2.4l-5.7-1.8l-5.6-1.2l-5.5-0.6l-5.4 0l-5.4 0.6l-5.3 1.2l-5.2 1.7l-2 0.8M498.6 117.3l-1.8 1.3l-4.8 3.8l-4.8 4.4l-4.7 4.8M619 171.8l-6.3-9l-6.3-8.3l-6.2-7.7l-6.2-7l-6.1-6.3l-6.1-5.7l-6-4.9l-5.9-4.4l-5.9-3.7l-5.9-3.1l-5.7-2.4l-5.7-1.8l-5.6-1.2l-5.5-0.6l-5.5 0l-5.3 0.6l-5.3 1.2l-5.2 1.7l-1.7 0.6M500 117l-0.8 0.5l-4.8 3.8l-4.8 4.4l-4.7 4.8M621.5 170.9l-6.3-9l-6.3-8.4l-6.2-7.6l-6.2-7l-6.1-6.3l-6.1-5.7l-6-5l-6-4.3l-5.9-3.7l-5.8-3.1l-5.7-2.4l-5.7-1.9l-5.6-1.2l-5.5-0.6l-5.5 0l-5.4 0.6l-5.2 1.1l-5.3 1.7l-1.3 0.6M501.4 116.7l-4.6 3.6l-4.8 4.3l-4.7 4.8M623.9 169.9l-6.3-9l-6.3-8.3l-6.2-7.7l-6.2-6.9l-6.1-6.3l-6-5.7l-6.1-5l-5.9-4.3l-5.9-3.8l-5.8-3l-5.8-2.5l-5.6-1.8l-5.7-1.2l-5.5-0.6l-5.4 0l-5.4 0.5l-5.3 1.2l-5.2 1.7l-1.1 0.4M502.7 116.4l-3.5 2.8l-4.8 4.3l-4.7 4.8M626.3 169l-6.3-9l-6.2-8.3l-6.2-7.6l-6.2-7l-6.1-6.3l-6.1-5.7l-6-5l-6-4.3l-5.8-3.7l-5.9-3.1l-5.7-2.5l-5.7-1.8l-5.6-1.2l-5.5-0.6l-5.5-0.1l-5.4 0.6l-5.3 1.1l-5.2 1.7l-0.7 0.3M504.1 116.2l-2.5 2l-4.8 4.3l-4.7 4.7M628.7 168.1l-6.3-9l-6.2-8.3l-6.2-7.6l-6.2-7l-6.1-6.3l-6.1-5.6l-6-5l-5.9-4.4l-5.9-3.7l-5.8-3.1l-5.8-2.4l-5.7-1.9l-5.6-1.2l-5.5-0.6l-5.5-0.1l-5.3 0.6l-5.3 1.1l-5.3 1.7l-0.4 0.1M505.5 116l-1.5 1.2l-4.8 4.3l-4.7 4.7M631.1 167.3l-6.3-9l-6.2-8.3l-6.2-7.6l-6.2-7l-6.1-6.3l-6-5.7l-6-5l-6-4.3l-5.9-3.7l-5.8-3.1l-5.7-2.5l-5.7-1.8l-5.6-1.2l-5.6-0.7l-5.4 0l-5.4 0.5l-5.3 1.1l-5.3 1.6l-0.1 0.1M506.8 115.9l-0.4 0.4l-4.8 4.2l-4.7 4.7M633.5 166.4l-6.3-8.9l-6.2-8.3l-6.2-7.6l-6.2-7l-6.1-6.3l-6-5.7l-6-5l-6-4.3l-5.8-3.7l-5.9-3.1l-5.7-2.5l-5.7-1.8l-5.6-1.3l-5.6-0.6l-5.4-0.1l-5.4 0.5l-5.3 1.1l-5 1.6M508.2 115.8l-4.3 3.7l-4.7 4.7M635.9 165.7l-6.3-9l-6.2-8.3l-6.2-7.6l-6.2-7l-6.1-6.3l-6-5.6l-6-5l-5.9-4.4l-5.9-3.7l-5.8-3.1l-5.8-2.5l-5.7-1.8l-5.6-1.3l-5.6-0.6l-5.4-0.1l-5.4 0.5l-5.3 1.1l-4.7 1.4M509.5 115.7l-3.2 2.9l-4.7 4.7M638.3 164.9l-6.3-9l-6.2-8.2l-6.2-7.7l-6.2-6.9l-6.1-6.3l-6-5.7l-6-5l-5.9-4.3l-5.9-3.8l-5.8-3.1l-5.8-2.4l-5.7-1.9l-5.6-1.3l-5.6-0.6l-5.4-0.1l-5.4 0.5l-5.3 1.1l-4.4 1.3M510.8 115.7l-2.2 2l-4.7 4.7M640.6 164.1l-6.3-8.9l-6.2-8.3l-6.2-7.6l-6.1-6.9l-6.1-6.3l-6-5.7l-6-5l-6-4.4l-5.8-3.7l-5.9-3.1l-5.7-2.5l-5.7-1.8l-5.6-1.3l-5.6-0.7l-5.4-0.1l-5.4 0.5l-5.4 1.1l-4 1.1M512.2 115.7l-1.2 1.1l-4.8 4.7M642.9 163.4l-6.2-8.9l-6.2-8.3l-6.2-7.6l-6.1-6.9l-6.1-6.3l-6.1-5.7l-5.9-5l-6-4.4l-5.9-3.7l-5.8-3.1l-5.7-2.5l-5.7-1.8l-5.6-1.3l-5.6-0.7l-5.5-0.1l-5.4 0.5l-5.3 1l-3.7 1M513.5 115.8l-0.2 0.2l-4.8 4.6M645.3 162.7l-6.3-8.9l-6.2-8.2l-6.1-7.6l-6.2-7l-6.1-6.3l-6-5.6l-6-5l-5.9-4.4l-5.9-3.8l-5.8-3.1l-5.8-2.5l-5.7-1.8l-5.6-1.3l-5.5-0.7l-5.5-0.1l-5.4 0.4l-5.3 1.1l-3.3 0.9M514.8 115.9l-3.9 3.9M647.6 162.1l-6.2-8.9l-6.2-8.3l-6.2-7.6l-6.1-6.9l-6.1-6.3l-6-5.7l-6-5l-6-4.4l-5.8-3.7l-5.8-3.1l-5.8-2.5l-5.7-1.9l-5.6-1.3l-5.6-0.7l-5.5-0.1l-5.4 0.4l-5.3 1.1l-3 0.8M516.1 116l-2.9 2.9M649.9 161.5l-6.2-9l-6.2-8.2l-6.2-7.6l-6.1-6.9l-6.1-6.3l-6-5.7l-6-5l-5.9-4.4l-5.9-3.7l-5.8-3.1l-5.8-2.5l-5.6-1.9l-5.7-1.3l-5.5-0.7l-5.5-0.2l-5.4 0.5l-5.4 1l-2.6 0.7M517.5 116.1l-2 2M652.2 160.8l-6.2-8.9l-6.2-8.2l-6.2-7.6l-6.1-6.9l-6-6.3l-6.1-5.7l-6-5l-5.9-4.4l-5.8-3.7l-5.9-3.1l-5.7-2.5l-5.7-1.9l-5.6-1.4l-5.6-0.7l-5.5-0.1l-5.4 0.4l-5.3 1l-2.3 0.6M518.8 116.3l-1 1.1M654.5 160.3l-6.2-8.9l-6.2-8.3l-6.2-7.5l-6.1-7l-6-6.3l-6.1-5.6l-5.9-5l-6-4.4l-5.8-3.8l-5.8-3.1l-5.8-2.5l-5.7-1.9l-5.6-1.3l-5.6-0.8l-5.5-0.1l-5.4 0.4l-5.3 1l-1.9 0.4M520.1 116.6l-0.1 0M656.7 159.7l-6.2-8.9l-6.1-8.2l-6.2-7.6l-6.1-6.9l-6-6.3l-6-5.7l-6-5l-5.9-4.3l-5.9-3.8l-5.8-3.1l-5.8-2.6l-5.7-1.9l-5.6-1.3l-5.5-0.8l-5.5-0.1l-5.5 0.4l-5.3 0.9l-1.5 0.4M659 159.2l-6.2-8.9l-6.2-8.2l-6.1-7.6l-6.1-6.9l-6-6.3l-6.1-5.7l-5.9-5l-5.9-4.4l-5.9-3.7l-5.8-3.2l-5.8-2.5l-5.6-1.9l-5.7-1.4l-5.5-0.7l-5.5-0.2l-5.5 0.4l-5.3 1l-1.1 0.2M661.3 158.7l-6.2-8.9l-6.2-8.2l-6.1-7.6l-6.1-6.9l-6.1-6.3l-6-5.6l-5.9-5.1l-5.9-4.3l-5.9-3.8l-5.8-3.1l-5.8-2.6l-5.6-1.9l-5.7-1.4l-5.5-0.7l-5.5-0.2l-5.5 0.4l-5.3 0.9l-0.8 0.2M663.5 158.2l-6.2-8.8l-6.1-8.3l-6.2-7.5l-6-7l-6.1-6.2l-6-5.7l-5.9-5l-6-4.4l-5.8-3.8l-5.8-3.1l-5.8-2.6l-5.7-1.9l-5.6-1.4l-5.6-0.7l-5.4-0.2l-5.5 0.3l-5.3 1l-0.4 0M665.7 157.8l-6.2-8.9l-6.1-8.2l-6.1-7.6l-6.1-6.9l-6-6.3l-6-5.6l-6-5l-5.9-4.4l-5.8-3.8l-5.8-3.2l-5.8-2.5l-5.7-2l-5.6-1.3l-5.6-0.8l-5.5-0.2l-5.4 0.3l-5.4 0.9M667.9 157.4l-6.1-8.9l-6.2-8.2l-6.1-7.6l-6-6.9l-6.1-6.3l-6-5.6l-5.9-5l-5.9-4.4l-5.9-3.8l-5.8-3.2l-5.7-2.5l-5.7-2l-5.6-1.4l-5.6-0.8l-5.5-0.2l-5.4 0.4l-5 0.8M670.1 157l-6.1-8.9l-6.1-8.2l-6.1-7.5l-6.1-7l-6-6.2l-6-5.7l-6-5l-5.9-4.4l-5.8-3.8l-5.8-3.2l-5.8-2.5l-5.7-2l-5.6-1.4l-5.5-0.8l-5.5-0.2l-5.5 0.3l-4.6 0.7M672.3 156.6l-6.1-8.8l-6.1-8.2l-6.1-7.6l-6.1-6.9l-6-6.3l-6-5.6l-5.9-5.1l-5.9-4.4l-5.9-3.8l-5.8-3.1l-5.7-2.6l-5.7-2l-5.6-1.4l-5.6-0.8l-5.5-0.2l-5.4 0.3l-4.2 0.6M674.5 156.2l-6.1-8.8l-6.1-8.2l-6.1-7.5l-6.1-6.9l-6-6.3l-6-5.7l-5.9-5l-5.9-4.4l-5.9-3.8l-5.7-3.2l-5.8-2.6l-5.7-1.9l-5.6-1.4l-5.6-0.9l-5.5-0.2l-5.4 0.3l-3.8 0.5M676.7 155.9l-6.1-8.8l-6.2-8.2l-6-7.5l-6.1-6.9l-6-6.3l-6-5.7l-5.9-5l-5.9-4.4l-5.8-3.8l-5.8-3.2l-5.8-2.6l-5.6-2l-5.7-1.4l-5.5-0.8l-5.5-0.3l-5.5 0.3l-3.4 0.5M678.8 155.6l-6.1-8.8l-6.1-8.2l-6-7.5l-6.1-6.9l-6-6.3l-6-5.6l-5.9-5.1l-5.9-4.4l-5.8-3.8l-5.8-3.2l-5.7-2.6l-5.7-2l-5.6-1.4l-5.6-0.9l-5.5-0.2l-5.5 0.2l-2.9 0.4M681 155.4l-6.1-8.9l-6.1-8.1l-6.1-7.6l-6-6.9l-6-6.2l-6-5.7l-5.9-5l-5.9-4.4l-5.8-3.9l-5.8-3.2l-5.7-2.6l-5.7-2l-5.6-1.4l-5.6-0.9l-5.5-0.3l-5.4 0.3l-2.6 0.3M683.1 155.1l-6.1-8.8l-6.1-8.2l-6-7.5l-6-6.9l-6-6.3l-6-5.6l-5.9-5.1l-5.9-4.4l-5.8-3.8l-5.8-3.2l-5.7-2.6l-5.7-2l-5.6-1.5l-5.6-0.8l-5.5-0.3l-5.5 0.2l-2.1 0.3M685.3 154.9l-6.1-8.8l-6.1-8.2l-6.1-7.5l-6-6.9l-6-6.3l-5.9-5.6l-5.9-5.1l-5.9-4.4l-5.8-3.8l-5.8-3.2l-5.8-2.6l-5.6-2.1l-5.7-1.4l-5.5-0.9l-5.5-0.3l-5.5 0.2l-1.7 0.2M687.4 154.7l-6.1-8.8l-6.1-8.2l-6-7.5l-6-6.9l-6-6.3l-6-5.6l-5.9-5.1l-5.8-4.4l-5.9-3.8l-5.7-3.2l-5.8-2.6l-5.7-2.1l-5.6-1.4l-5.5-0.9l-5.5-0.4l-5.5 0.3l-1.3 0.1M689.5 154.5l-6.1-8.8l-6.1-8.1l-6-7.5l-6-6.9l-6-6.3l-5.9-5.7l-5.9-5l-5.9-4.4l-5.8-3.9l-5.8-3.2l-5.7-2.6l-5.7-2.1l-5.6-1.4l-5.6-1l-5.5-0.3l-5.4 0.2l-0.9 0.1M691.6 154.4l-6.1-8.8l-6.1-8.2l-6-7.5l-6-6.9l-5.9-6.2l-6-5.7l-5.9-5l-5.8-4.5l-5.9-3.8l-5.7-3.2l-5.8-2.7l-5.6-2l-5.6-1.5l-5.6-0.9l-5.5-0.4l-5.5 0.2l-0.4 0M693.7 154.2l-6.1-8.7l-6.1-8.2l-6-7.5l-6-6.9l-5.9-6.3l-6-5.6l-5.9-5.1l-5.8-4.4l-5.8-3.8l-5.8-3.3l-5.7-2.6l-5.7-2.1l-5.6-1.5l-5.6-0.9l-5.5-0.4l-5.4 0.2l0 0M695.7 154.1l-6-8.7l-6.1-8.2l-6-7.5l-6-6.9l-5.9-6.2l-5.9-5.7l-5.9-5l-5.9-4.5l-5.8-3.8l-5.8-3.3l-5.7-2.6l-5.6-2.1l-5.7-1.5l-5.5-1l-5.5-0.3l-5.1 0.1M697.8 154.1l-6.1-8.8l-6-8.1l-6-7.5l-6-6.9l-5.9-6.3l-5.9-5.7l-5.9-5l-5.9-4.5l-5.8-3.8l-5.7-3.3l-5.7-2.6l-5.7-2.1l-5.6-1.5l-5.6-1l-5.5-0.4l-4.6 0.1M699.8 154l-6-8.7l-6-8.2l-6-7.5l-6-6.9l-5.9-6.2l-5.9-5.7l-5.9-5.1l-5.9-4.4l-5.8-3.9l-5.7-3.2l-5.7-2.7l-5.7-2.1l-5.6-1.5l-5.6-1l-5.5-0.4l-4.1 0.1M701.9 154l-6.1-8.8l-6-8.1l-5.9-7.5l-6-6.9l-5.9-6.3l-6-5.6l-5.8-5.1l-5.9-4.4l-5.8-3.9l-5.7-3.3l-5.7-2.6l-5.7-2.1l-5.6-1.6l-5.5-1l-5.6-0.4l-3.7 0.1M703.9 154l-6-8.8l-6-8.1l-6-7.5l-6-6.9l-5.9-6.3l-5.9-5.6l-5.8-5.1l-5.9-4.4l-5.8-3.9l-5.7-3.3l-5.7-2.7l-5.7-2.1l-5.6-1.5l-5.5-1l-5.5-0.4l-3.3 0M705.9 154l-6-8.8l-6-8.1l-6-7.5l-5.9-6.9l-5.9-6.2l-5.9-5.7l-5.9-5.1l-5.8-4.4l-5.8-3.9l-5.7-3.3l-5.7-2.7l-5.7-2.1l-5.6-1.5l-5.6-1l-5.5-0.5l-2.8 0M707.9 154l-6-8.7l-6-8.1l-5.9-7.5l-6-6.9l-5.9-6.3l-5.9-5.6l-5.8-5.1l-5.8-4.5l-5.8-3.8l-5.8-3.3l-5.7-2.7l-5.6-2.2l-5.6-1.5l-5.6-1l-5.5-0.5l-2.3 0M709.9 154.1l-6-8.8l-5.9-8.1l-6-7.4l-5.9-6.9l-5.9-6.3l-5.9-5.7l-5.9-5l-5.8-4.5l-5.8-3.9l-5.7-3.3l-5.7-2.7l-5.6-2.1l-5.6-1.6l-5.6-1l-5.5-0.5l-1.9 0M711.9 154.1l-6-8.7l-5.9-8.1l-6-7.5l-5.9-6.8l-5.9-6.3l-5.9-5.7l-5.8-5l-5.8-4.5l-5.8-3.9l-5.7-3.3l-5.7-2.7l-5.7-2.2l-5.6-1.6l-5.5-1l-5.5-0.5l-1.5 0M713.9 154.2l-6-8.7l-5.9-8.1l-6-7.4l-5.9-6.9l-5.9-6.3l-5.9-5.7l-5.8-5l-5.8-4.5l-5.8-3.9l-5.7-3.3l-5.7-2.7l-5.6-2.2l-5.6-1.6l-5.6-1.1l-5.5-0.4l-0.9-0.1M715.8 154.4l-5.9-8.7l-6-8.1l-5.9-7.5l-5.9-6.9l-5.9-6.3l-5.9-5.6l-5.8-5.1l-5.8-4.5l-5.7-3.9l-5.8-3.3l-5.7-2.7l-5.6-2.2l-5.6-1.6l-5.5-1.1l-5.5-0.5l-0.5 0M717.8 154.5l-5.9-8.7l-6-8.1l-5.9-7.4l-5.9-6.9l-5.9-6.3l-5.8-5.7l-5.9-5l-5.8-4.5l-5.7-3.9l-5.7-3.4l-5.7-2.7l-5.7-2.2l-5.6-1.6l-5.5-1.1l-5.5-0.5l0 0M719.7 154.7l-5.9-8.7l-5.9-8.1l-5.9-7.5l-5.9-6.8l-5.9-6.3l-5.9-5.7l-5.8-5.1l-5.8-4.5l-5.7-3.9l-5.7-3.3l-5.7-2.8l-5.6-2.2l-5.6-1.6l-5.6-1.1l-5-0.5M721.7 154.8l-6-8.6l-5.9-8.1l-5.9-7.5l-5.9-6.8l-5.8-6.3l-5.9-5.7l-5.8-5.1l-5.8-4.5l-5.7-3.9l-5.7-3.3l-5.7-2.8l-5.6-2.2l-5.6-1.6l-5.6-1.1l-4.5-0.5M723.6 155.1l-5.9-8.7l-5.9-8.1l-5.9-7.4l-5.9-6.9l-5.9-6.3l-5.8-5.7l-5.8-5.1l-5.8-4.5l-5.7-3.9l-5.7-3.3l-5.7-2.8l-5.6-2.2l-5.6-1.7l-5.5-1.1l-4.1-0.4M725.5 155.3l-5.9-8.7l-5.9-8l-5.9-7.5l-5.9-6.9l-5.8-6.2l-5.8-5.7l-5.8-5.1l-5.8-4.5l-5.7-4l-5.7-3.3l-5.7-2.8l-5.6-2.2l-5.6-1.7l-5.5-1.1l-3.6-0.4M727.4 155.5l-5.9-8.6l-5.9-8.1l-5.9-7.4l-5.8-6.9l-5.9-6.3l-5.8-5.7l-5.8-5.1l-5.7-4.5l-5.8-3.9l-5.7-3.4l-5.6-2.8l-5.7-2.2l-5.5-1.7l-5.6-1.1l-3-0.4M729.3 155.8l-5.9-8.6l-5.9-8.1l-5.8-7.5l-5.9-6.8l-5.8-6.3l-5.8-5.7l-5.8-5.1l-5.8-4.5l-5.7-3.9l-5.7-3.4l-5.7-2.8l-5.6-2.2l-5.6-1.7l-5.5-1.2l-2.5-0.3" fill="none" stroke="#000" stroke-width="1.20" stroke-linejoin="round"/>
<ellipse cx="595.0" cy="43.3" rx="3.4" ry="3.2" fill="#5c1c16" stroke="#2a0806" stroke-width=".5"/>
<ellipse cx="595.0" cy="57.3" rx="3.4" ry="2.4" fill="#5c1c16" stroke="#2a0806" stroke-width=".5"/>
<ellipse cx="595.0" cy="66.5" rx="3.4" ry="2.6" fill="#5c1c16" stroke="#2a0806" stroke-width=".5"/>
<ellipse cx="595.0" cy="70.3" rx="3.4" ry="2.6" fill="#5c1c16" stroke="#2a0806" stroke-width=".5"/>
<ellipse cx="595.0" cy="77.1" rx="3.4" ry="2.4" fill="#5c1c16" stroke="#2a0806" stroke-width=".5"/>
<text x="446.9" y="49.5" text-anchor="end" class="tk">206</text><text x="448.1" y="83.6" text-anchor="end" class="tk">195.5</text><text x="450.2" y="117.1" text-anchor="end" class="tk">185</text><text x="451.8" y="151.4" text-anchor="end" class="tk">174.5</text><text x="454.1" y="184.5" text-anchor="end" class="tk">164</text><text x="455.5" y="227.2" text-anchor="end" class="tk">6.50</text><text x="493.9" y="247.9" text-anchor="end" class="tk">6.00</text><text x="525.4" y="262.7" text-anchor="end" class="tk">5.50</text><text x="557.6" y="278.4" text-anchor="end" class="tk">5.00</text><text x="591.0" y="294.0" text-anchor="end" class="tk">4.50</text><text x="602.3" y="294.1" class="tk">1.00</text><text x="634.0" y="278.4" class="tk">3.75</text><text x="667.0" y="262.7" class="tk">6.50</text><text x="698.9" y="247.9" class="tk">9.25</text><text x="732.0" y="231.9" class="tk">12.00</text><text x="481.1" y="287.4" text-anchor="middle" class="ti">C: pH</text><text x="711.3" y="287.4" text-anchor="middle" class="ti">A: KH2PO4</text><text transform="translate(414.3 133.1) rotate(-90)" text-anchor="middle" class="tz">Amorphadiene (mg/l)</text><text x="602.2" y="320.0" text-anchor="middle" class="cap">(b)</text></g>
<g id="pc"><path d="M201.4 515.3L201.4 354.7M63.1 384.8L201.4 354.7M201.4 354.7L339.6 384.8" fill="none" stroke="#000" stroke-width="1.5"/>
<path d="M71.6 563.3L201.4 624.7L331.2 563.3L201.4 515.3z" fill="#ffff00" stroke="#000" stroke-width="1.3" stroke-linejoin="round"/>
<g fill="none" stroke-linecap="round" clip-path="url(#flc)">
<clipPath id="flc"><path d="M71.6 563.3L201.4 624.7L331.2 563.3L201.4 515.3z"/></clipPath>
<path d="M314.6 557.2l-1.7 1.8l-1.8 1.7l-2.8 2.6l-2 1.7l-2.7 2.1l-2.7 2.1l-2.8 2l-3.1 2.1l-3.7 2.4l-2.5 1.7l-4 2.4l-4.1 2.4l-2.8 1.6l-4.4 2.4l-4.5 2.4l-4.6 2.3l-4.7 2.4l-4.9 2.3l-5 2.4l-5.2 2.3l-5.2 2.3l-5.4 2.3l-5.6 2.3l-4 1.6l-5.5 2.1l-5.9 2.3l-6 2.2l-4 1.5l-6.3 2.2" stroke="#b4f000" stroke-width="4.1" opacity=".5"/>
<path d="M314.6 557.2l-1.7 1.8l-1.8 1.7l-2.8 2.6l-2 1.7l-2.7 2.1l-2.7 2.1l-2.8 2l-3.1 2.1l-3.7 2.4l-2.5 1.7l-4 2.4l-4.1 2.4l-2.8 1.6l-4.4 2.4l-4.5 2.4l-4.6 2.3l-4.7 2.4l-4.9 2.3l-5 2.4l-5.2 2.3l-5.2 2.3l-5.4 2.3l-5.6 2.3l-4 1.6l-5.5 2.1l-5.9 2.3l-6 2.2l-4 1.5l-6.3 2.2" stroke="#3cc828" stroke-width="1.50"/>
</g>
<path d="M201.4 624.7l-1.5 2.2M201.4 624.7l1.5 2.2M165.7 607.8l-1.5 2.2M237.1 607.8l1.5 2.2M132.3 592.0l-1.5 2.2M270.5 592.0l1.5 2.2M101.0 577.2l-1.5 2.2M301.8 577.2l1.5 2.2M71.6 563.3l-1.5 2.2M331.2 563.3l1.5 2.2" stroke="#000" stroke-width="1" fill="none"/>
<path d="M71.6 563.3L63.1 384.8M331.2 563.3L339.6 384.8" fill="none" stroke="#000" stroke-width="1.6"/>
<path d="M63.4 384.8h-1.6M65.1 419.9h-1.6M66.7 454.2h-1.6M68.3 487.7h-1.6M69.9 520.4h-1.6" stroke="#c00000" stroke-width="1.4" fill="none"/>
<path d="M129.0 435.8V498.1" stroke="#000" stroke-width="1.5"/>
<circle cx="129.0" cy="499.6" r="1.9" fill="#fff" stroke="#000" stroke-width="1.5"/>
<path d="M270.5 501.8V544.0" stroke="#000" stroke-width="1.5"/>
<circle cx="270.5" cy="545.5" r="1.9" fill="#fff" stroke="#000" stroke-width="1.5"/>
<g stroke-width=".5" stroke-linejoin="round">
<path d="M243.5 428.1l6.6 1.7l-7.3 0.5l-6.6-1.8z" fill="#802300" stroke="#802300"/>
<path d="M236.7 426.6l6.8 1.5l-7.3 0.4l-6.8-1.5z" fill="#7c1800" stroke="#7c1800"/>
<path d="M250.8 428.8l6.6 1.6l-7.3-0.6l-6.6-1.7z" fill="#7d1d00" stroke="#7d1d00"/>
<path d="M229.9 425.4l6.8 1.2l-7.3 0.4l-6.8-1.4z" fill="#7a1300" stroke="#7a1300"/>
<path d="M244.1 427.4l6.7 1.4l-7.3-0.7l-6.8-1.5z" fill="#7a1300" stroke="#7a1300"/>
<path d="M258.3 430.6l6.6 1.5l-7.5-1.7l-6.6-1.6z" fill="#7c1b00" stroke="#7c1b00"/>
<path d="M137.1 438.1l7.6 0.1l-6.5 6.4l-7.6-0.1z" fill="#8d3600" stroke="#8d3600"/>
<path d="M208.6 423.6l7 0.9l-7.1 1.3l-7.1-0.9z" fill="#7c1200" stroke="#7c1200"/>
<path d="M251.6 429.4l6.7 1.2l-7.5-1.8l-6.7-1.4z" fill="#791300" stroke="#791300"/>
<path d="M265.8 433.7l6.6 1.4l-7.5-3l-6.6-1.5z" fill="#7c1b00" stroke="#7c1b00"/>
<path d="M222.9 424.3l7 1.1l-7.3 0.2l-7-1.1z" fill="#7b1200" stroke="#7b1200"/>
<path d="M237.3 426.3l6.8 1.1l-7.4-0.8l-6.8-1.2z" fill="#7a1200" stroke="#7a1200"/>
<path d="M129.4 438.3l7.7-0.2l-6.5 6.4l-7.6 0.1z" fill="#8b3000" stroke="#8b3000"/>
<path d="M143.7 432.8l7.6 0l-6.6 5.4l-7.6-0.1z" fill="#831f00" stroke="#831f00"/>
<path d="M201.4 423l7.2 0.6l-7.2 1.3l-7.2-0.8z" fill="#7c1100" stroke="#7c1100"/>
<path d="M215.9 423.6l7 0.7l-7.3 0.2l-7-0.9z" fill="#7b1100" stroke="#7b1100"/>
<path d="M230.3 425.4l7 0.9l-7.4-0.9l-7-1.1z" fill="#7b1100" stroke="#7b1100"/>
<path d="M244.7 428.4l6.9 1l-7.5-2l-6.8-1.1z" fill="#7a1200" stroke="#7a1200"/>
<path d="M259.1 432.6l6.7 1.1l-7.5-3.1l-6.7-1.2z" fill="#791300" stroke="#791300"/>
<path d="M273.4 438l6.5 1.2l-7.5-4.1l-6.6-1.4z" fill="#7d2000" stroke="#7d2000"/>
<path d="M121.6 438.7l7.8-0.4l-6.4 6.3l-7.8 0.3z" fill="#8a2b00" stroke="#8a2b00"/>
<path d="M136 433.1l7.7-0.3l-6.6 5.3l-7.7 0.2z" fill="#821900" stroke="#821900"/>
<path d="M179.5 423.4l7.4 0.2l-7 2.2l-7.4-0.3z" fill="#7d1100" stroke="#7d1100"/>
<path d="M194.1 422.6l7.3 0.4l-7.2 1.1l-7.3-0.5z" fill="#7d1000" stroke="#7d1000"/>
<path d="M208.7 423.1l7.2 0.5l-7.3 0l-7.2-0.6z" fill="#7c1000" stroke="#7c1000"/>
<path d="M223.2 424.7l7.1 0.7l-7.4-1.1l-7-0.7z" fill="#7b1000" stroke="#7b1000"/>
<path d="M237.8 427.6l6.9 0.8l-7.4-2.1l-7-0.9z" fill="#7a1100" stroke="#7a1100"/>
<path d="M252.3 431.8l6.8 0.8l-7.5-3.2l-6.9-1z" fill="#791200" stroke="#791200"/>
<path d="M266.7 437.1l6.7 0.9l-7.6-4.3l-6.7-1.1z" fill="#791700" stroke="#791700"/>
<path d="M281 443.6l6.6 1l-7.7-5.4l-6.5-1.2z" fill="#7f2700" stroke="#7f2700"/>
<path d="M113.7 439.5l7.9-0.8l-6.4 6.2l-7.9 0.7z" fill="#892600" stroke="#892600"/>
<path d="M128.2 433.6l7.8-0.5l-6.6 5.2l-7.8 0.4z" fill="#801400" stroke="#801400"/>
<path d="M172 423.4l7.5 0l-7 2.1l-7.5-0.1z" fill="#7e1000" stroke="#7e1000"/>
<path d="M186.7 422.5l7.4 0.1l-7.2 1l-7.4-0.2z" fill="#7d1000" stroke="#7d1000"/>
<path d="M201.4 422.8l7.3 0.3l-7.3-0.1l-7.3-0.4z" fill="#7d0f00" stroke="#7d0f00"/>
<path d="M216.1 424.4l7.1 0.3l-7.3-1.1l-7.2-0.5z" fill="#7c1000" stroke="#7c1000"/>
<path d="M230.7 427.1l7.1 0.5l-7.5-2.2l-7.1-0.7z" fill="#7b1000" stroke="#7b1000"/>
<path d="M245.3 431.1l7 0.7l-7.6-3.4l-6.9-0.8z" fill="#791100" stroke="#791100"/>
<path d="M259.9 436.3l6.8 0.8l-7.6-4.5l-6.8-0.8z" fill="#781200" stroke="#781200"/>
<path d="M274.4 442.8l6.6 0.8l-7.6-5.6l-6.7-0.9z" fill="#7c1e00" stroke="#7c1e00"/>
<path d="M288.7 450.4l6.5 0.9l-7.6-6.7l-6.6-1z" fill="#833100" stroke="#833100"/>
<path d="M105.7 440.4l8-0.9l-6.4 6.1l-7.9 0.9z" fill="#882200" stroke="#882200"/>
<path d="M120.3 434.4l7.9-0.8l-6.6 5.1l-7.9 0.8z" fill="#811400" stroke="#811400"/>
<path d="M164.4 423.7l7.6-0.3l-7 2l-7.7 0.2z" fill="#7f1000" stroke="#7f1000"/>
<path d="M179.2 422.6l7.5-0.1l-7.2 0.9l-7.5 0z" fill="#7e0f00" stroke="#7e0f00"/>
<path d="M223.6 426.9l7.1 0.2l-7.5-2.4l-7.1-0.3z" fill="#7b0f00" stroke="#7b0f00"/>
<path d="M238.3 430.8l7 0.3l-7.5-3.5l-7.1-0.5z" fill="#7a1000" stroke="#7a1000"/>
<path d="M282.1 449.7l6.6 0.7l-7.7-6.8l-6.6-0.8z" fill="#802900" stroke="#802900"/>
<path d="M296.5 458.4l6.5 0.7l-7.8-7.8l-6.5-0.9z" fill="#873d00" stroke="#873d00"/>
<path d="M134.9 429.6l7.8-0.6l-6.7 4.1l-7.8 0.5z" fill="#801200" stroke="#801200"/>
<path d="M194 422.8l7.4 0l-7.3-0.2l-7.4-0.1z" fill="#7d0f00" stroke="#7d0f00"/>
<path d="M208.8 424.2l7.3 0.2l-7.4-1.3l-7.3-0.3z" fill="#7c0f00" stroke="#7c0f00"/>
<path d="M253 435.9l6.9 0.4l-7.6-4.5l-7-0.7z" fill="#791200" stroke="#791200"/>
<path d="M267.6 442.2l6.8 0.6l-7.7-5.7l-6.8-0.8z" fill="#791600" stroke="#791600"/>
<path d="M97.6 441.7l8.1-1.3l-6.3 6.1l-8.1 1.2z" fill="#881f00" stroke="#881f00"/>
<path d="M112.2 435.5l8.1-1.1l-6.6 5.1l-8 0.9z" fill="#821300" stroke="#821300"/>
<path d="M127 430.5l7.9-0.9l-6.7 4l-7.9 0.8z" fill="#811200" stroke="#811200"/>
<path d="M141.8 426.8l7.8-0.7l-6.9 2.9l-7.8 0.6z" fill="#801000" stroke="#801000"/>
<path d="M156.6 424.3l7.8-0.6l-7.1 1.9l-7.7 0.5z" fill="#800f00" stroke="#800f00"/>
<path d="M171.5 423.1l7.7-0.5l-7.2 0.8l-7.6 0.3z" fill="#7f0e00" stroke="#7f0e00"/>
<path d="M186.5 423.1l7.5-0.3l-7.3-0.3l-7.5 0.1z" fill="#7e0e00" stroke="#7e0e00"/>
<path d="M201.4 424.4l7.4-0.2l-7.4-1.4l-7.4 0z" fill="#7d0e00" stroke="#7d0e00"/>
<path d="M216.3 426.9l7.3 0l-7.5-2.5l-7.3-0.2z" fill="#7c0f00" stroke="#7c0f00"/>
<path d="M231.2 430.7l7.1 0.1l-7.6-3.7l-7.1-0.2z" fill="#7a1000" stroke="#7a1000"/>
<path d="M246 435.7l7 0.2l-7.7-4.8l-7-0.3z" fill="#791100" stroke="#791100"/>
<path d="M260.7 441.9l6.9 0.3l-7.7-5.9l-6.9-0.4z" fill="#781200" stroke="#781200"/>
<path d="M275.3 449.3l6.8 0.4l-7.7-6.9l-6.8-0.6z" fill="#7d2100" stroke="#7d2100"/>
<path d="M289.8 458l6.7 0.4l-7.8-8l-6.6-0.7z" fill="#843600" stroke="#843600"/>
<path d="M304.2 467.8l6.5 0.5l-7.7-9.2l-6.5-0.7z" fill="#8d4d00" stroke="#8d4d00"/>
<path d="M89.4 443.2l8.2-1.5l-6.3 6l-8.2 1.4z" fill="#871d00" stroke="#871d00"/>
<path d="M104.1 436.9l8.1-1.4l-6.5 4.9l-8.1 1.3z" fill="#831300" stroke="#831300"/>
<path d="M118.9 431.7l8.1-1.2l-6.7 3.9l-8.1 1.1z" fill="#821100" stroke="#821100"/>
<path d="M133.8 427.8l8-1l-6.9 2.8l-7.9 0.9z" fill="#811000" stroke="#811000"/>
<path d="M148.8 425.1l7.8-0.8l-7 1.8l-7.8 0.7z" fill="#810f00" stroke="#810f00"/>
<path d="M163.8 423.7l7.7-0.6l-7.1 0.6l-7.8 0.6z" fill="#800e00" stroke="#800e00"/>
<path d="M178.8 423.6l7.7-0.5l-7.3-0.5l-7.7 0.5z" fill="#7f0e00" stroke="#7f0e00"/>
<path d="M193.9 424.8l7.5-0.4l-7.4-1.6l-7.5 0.3z" fill="#7e0e00" stroke="#7e0e00"/>
<path d="M208.9 427.2l7.4-0.3l-7.5-2.7l-7.4 0.2z" fill="#7c0e00" stroke="#7c0e00"/>
<path d="M223.9 430.8l7.3-0.1l-7.6-3.8l-7.3 0z" fill="#7b0f00" stroke="#7b0f00"/>
<path d="M238.8 435.7l7.2 0l-7.7-4.9l-7.1-0.1z" fill="#7a1000" stroke="#7a1000"/>
<path d="M253.7 441.9l7 0l-7.7-6l-7-0.2z" fill="#781200" stroke="#781200"/>
<path d="M268.5 449.2l6.8 0.1l-7.7-7.1l-6.9-0.3z" fill="#7a1b00" stroke="#7a1b00"/>
<path d="M283.1 457.8l6.7 0.2l-7.7-8.3l-6.8-0.4z" fill="#822f00" stroke="#822f00"/>
<path d="M297.6 467.5l6.6 0.3l-7.7-9.4l-6.7-0.4z" fill="#8b4600" stroke="#8b4600"/>
<path d="M312 478.4l6.5 0.3l-7.8-10.4l-6.5-0.5z" fill="#916100" stroke="#916100"/>
<path d="M81 445.1l8.4-1.9l-6.3 5.9l-8.3 1.7z" fill="#881b00" stroke="#881b00"/>
<path d="M95.8 438.5l8.3-1.6l-6.5 4.8l-8.2 1.5z" fill="#841300" stroke="#841300"/>
<path d="M140.8 426.3l8-1.2l-7 1.7l-8 1z" fill="#820e00" stroke="#820e00"/>
<path d="M201.4 427.7l7.5-0.5l-7.5-2.8l-7.5 0.4z" fill="#7d0e00" stroke="#7d0e00"/>
<path d="M261.5 449.3l7-0.1l-7.8-7.3l-7 0z" fill="#781400" stroke="#781400"/>
<path d="M305.5 478.3l6.5 0.1l-7.8-10.6l-6.6-0.3z" fill="#905a00" stroke="#905a00"/>
<path d="M319.8 490.3l6.4 0.1l-7.7-11.7l-6.5-0.3z" fill="#947a00" stroke="#947a00"/>
<path d="M110.8 433.2l8.1-1.5l-6.7 3.8l-8.1 1.4z" fill="#831100" stroke="#831100"/>
<path d="M125.8 429.1l8-1.3l-6.8 2.7l-8.1 1.2z" fill="#821000" stroke="#821000"/>
<path d="M155.9 424.7l7.9-1l-7.2 0.6l-7.8 0.8z" fill="#810e00" stroke="#810e00"/>
<path d="M171.1 424.4l7.7-0.8l-7.3-0.5l-7.7 0.6z" fill="#800d00" stroke="#800d00"/>
<path d="M186.2 425.4l7.7-0.6l-7.4-1.7l-7.7 0.5z" fill="#7e0d00" stroke="#7e0d00"/>
<path d="M216.5 431.2l7.4-0.4l-7.6-3.9l-7.4 0.3z" fill="#7c0f00" stroke="#7c0f00"/>
<path d="M231.6 436l7.2-0.3l-7.6-5l-7.3 0.1z" fill="#7a1000" stroke="#7a1000"/>
<path d="M246.6 442.1l7.1-0.2l-7.7-6.2l-7.2 0z" fill="#791100" stroke="#791100"/>
<path d="M276.3 457.8l6.8 0l-7.8-8.5l-6.8-0.1z" fill="#802900" stroke="#802900"/>
<path d="M290.9 467.5l6.7 0l-7.8-9.5l-6.7-0.2z" fill="#884000" stroke="#884000"/>
<path d="M72.6 447.2l8.4-2.1l-6.2 5.7l-8.4 2.1z" fill="#881a00" stroke="#881a00"/>
<path d="M87.5 440.4l8.3-1.9l-6.4 4.7l-8.4 1.9z" fill="#851300" stroke="#851300"/>
<path d="M102.5 434.9l8.3-1.7l-6.7 3.7l-8.3 1.6z" fill="#841100" stroke="#841100"/>
<path d="M132.7 427.7l8.1-1.4l-7 1.5l-8 1.3z" fill="#820e00" stroke="#820e00"/>
<path d="M148 426l7.9-1.3l-7.1 0.4l-8 1.2z" fill="#820d00" stroke="#820d00"/>
<path d="M193.8 428.5l7.6-0.8l-7.5-2.9l-7.7 0.6z" fill="#7e0d00" stroke="#7e0d00"/>
<path d="M209 431.9l7.5-0.7l-7.6-4l-7.5 0.5z" fill="#7c0e00" stroke="#7c0e00"/>
<path d="M254.4 449.7l7.1-0.4l-7.8-7.4l-7.1 0.2z" fill="#781200" stroke="#781200"/>
<path d="M269.3 458.1l7-0.3l-7.8-8.6l-7 0.1z" fill="#7e2300" stroke="#7e2300"/>
<path d="M298.8 478.5l6.7-0.2l-7.9-10.8l-6.7 0z" fill="#905300" stroke="#905300"/>
<path d="M313.3 490.4l6.5-0.1l-7.8-11.9l-6.5-0.1z" fill="#947300" stroke="#947300"/>
<path d="M327.6 503.5l6.4-0.1l-7.8-13l-6.4-0.1z" fill="#989500" stroke="#989500"/>
<path d="M117.6 430.7l8.2-1.6l-6.9 2.6l-8.1 1.5z" fill="#830f00" stroke="#830f00"/>
<path d="M163.2 425.5l7.9-1.1l-7.3-0.7l-7.9 1z" fill="#800d00" stroke="#800d00"/>
<path d="M178.5 426.4l7.7-1l-7.4-1.8l-7.7 0.8z" fill="#7f0d00" stroke="#7f0d00"/>
<path d="M224.2 436.6l7.4-0.6l-7.7-5.2l-7.4 0.4z" fill="#7b0f00" stroke="#7b0f00"/>
<path d="M239.3 442.6l7.3-0.5l-7.8-6.4l-7.2 0.3z" fill="#791100" stroke="#791100"/>
<path d="M284.1 467.7l6.8-0.2l-7.8-9.7l-6.8 0z" fill="#863a00" stroke="#863a00"/>
<path d="M79 442.7l8.5-2.3l-6.5 4.7l-8.4 2.1z" fill="#861300" stroke="#861300"/>
<path d="M94.1 437l8.4-2.1l-6.7 3.6l-8.3 1.9z" fill="#851100" stroke="#851100"/>
<path d="M109.3 432.5l8.3-1.8l-6.8 2.5l-8.3 1.7z" fill="#840f00" stroke="#840f00"/>
<path d="M124.5 429.4l8.2-1.7l-6.9 1.4l-8.2 1.6z" fill="#830e00" stroke="#830e00"/>
<path d="M139.9 427.5l8.1-1.5l-7.2 0.3l-8.1 1.4z" fill="#820d00" stroke="#820d00"/>
<path d="M155.2 426.9l8-1.4l-7.3-0.8l-7.9 1.3z" fill="#810d00" stroke="#810d00"/>
<path d="M186 429.6l7.8-1.1l-7.6-3.1l-7.7 1z" fill="#7f0d00" stroke="#7f0d00"/>
<path d="M201.4 432.9l7.6-1l-7.6-4.2l-7.6 0.8z" fill="#7d0e00" stroke="#7d0e00"/>
<path d="M216.7 437.5l7.5-0.9l-7.7-5.4l-7.5 0.7z" fill="#7b0f00" stroke="#7b0f00"/>
<path d="M247.2 450.4l7.2-0.7l-7.8-7.6l-7.3 0.5z" fill="#781200" stroke="#781200"/>
<path d="M262.2 458.7l7.1-0.6l-7.8-8.8l-7.1 0.4z" fill="#7c1e00" stroke="#7c1e00"/>
<path d="M277.2 468.3l6.9-0.6l-7.8-9.9l-7 0.3z" fill="#843500" stroke="#843500"/>
<path d="M292 479l6.8-0.5l-7.9-11l-6.8 0.2z" fill="#8e4d00" stroke="#8e4d00"/>
<path d="M306.7 490.8l6.6-0.4l-7.8-12.1l-6.7 0.2z" fill="#936c00" stroke="#936c00"/>
<path d="M321.1 503.8l6.5-0.3l-7.8-13.2l-6.5 0.1z" fill="#988e00" stroke="#988e00"/>
<path d="M170.6 427.6l7.9-1.2l-7.4-2l-7.9 1.1z" fill="#800d00" stroke="#800d00"/>
<path d="M232 443.3l7.3-0.7l-7.7-6.6l-7.4 0.6z" fill="#7a1000" stroke="#7a1000"/>
<path d="M85.6 439.3l8.5-2.3l-6.6 3.4l-8.5 2.3z" fill="#861100" stroke="#861100"/>
<path d="M100.9 434.7l8.4-2.2l-6.8 2.4l-8.4 2.1z" fill="#850f00" stroke="#850f00"/>
<path d="M116.2 431.4l8.3-2l-6.9 1.3l-8.3 1.8z" fill="#850e00" stroke="#850e00"/>
<path d="M131.7 429.3l8.2-1.8l-7.2 0.2l-8.2 1.7z" fill="#830d00" stroke="#830d00"/>
<path d="M147.1 428.6l8.1-1.7l-7.2-0.9l-8.1 1.5z" fill="#820d00" stroke="#820d00"/>
<path d="M162.7 429.2l7.9-1.6l-7.4-2.1l-8 1.4z" fill="#810c00" stroke="#810c00"/>
<path d="M178.2 431l7.8-1.4l-7.5-3.2l-7.9 1.2z" fill="#7f0d00" stroke="#7f0d00"/>
<path d="M193.7 434.2l7.7-1.3l-7.6-4.4l-7.8 1.1z" fill="#7e0d00" stroke="#7e0d00"/>
<path d="M209.1 438.7l7.6-1.2l-7.7-5.6l-7.6 1z" fill="#7c0e00" stroke="#7c0e00"/>
<path d="M224.5 444.4l7.5-1.1l-7.8-6.7l-7.5 0.9z" fill="#7a1000" stroke="#7a1000"/>
<path d="M239.8 451.4l7.4-1l-7.9-7.8l-7.3 0.7z" fill="#791200" stroke="#791200"/>
<path d="M255 459.6l7.2-0.9l-7.8-9l-7.2 0.7z" fill="#7a1a00" stroke="#7a1a00"/>
<path d="M270.1 469.1l7.1-0.8l-7.9-10.2l-7.1 0.6z" fill="#833000" stroke="#833000"/>
<path d="M285.1 479.7l6.9-0.7l-7.9-11.3l-6.9 0.6z" fill="#8c4900" stroke="#8c4900"/>
<path d="M299.9 491.5l6.8-0.7l-7.9-12.3l-6.8 0.5z" fill="#936700" stroke="#936700"/>
<path d="M314.5 504.5l6.6-0.7l-7.8-13.4l-6.6 0.4z" fill="#978900" stroke="#978900"/>
<path d="M107.8 433.7l8.4-2.3l-6.9 1.1l-8.4 2.2z" fill="#860e00" stroke="#860e00"/>
<path d="M170.2 432.7l8-1.7l-7.6-3.4l-7.9 1.6z" fill="#800d00" stroke="#800d00"/>
<path d="M232.4 452.6l7.4-1.2l-7.8-8.1l-7.5 1.1z" fill="#791100" stroke="#791100"/>
<path d="M293 492.5l6.9-1l-7.9-12.5l-6.9 0.7z" fill="#926100" stroke="#926100"/>
<path d="M92.4 437.2l8.5-2.5l-6.8 2.3l-8.5 2.3z" fill="#871000" stroke="#871000"/>
<path d="M123.3 431.5l8.4-2.2l-7.2 0.1l-8.3 2z" fill="#850d00" stroke="#850d00"/>
<path d="M138.9 430.6l8.2-2l-7.2-1.1l-8.2 1.8z" fill="#830c00" stroke="#830c00"/>
<path d="M154.6 431l8.1-1.8l-7.5-2.3l-8.1 1.7z" fill="#820c00" stroke="#820c00"/>
<path d="M185.8 435.8l7.9-1.6l-7.7-4.6l-7.8 1.4z" fill="#7e0d00" stroke="#7e0d00"/>
<path d="M201.4 440.1l7.7-1.4l-7.7-5.8l-7.7 1.3z" fill="#7d0e00" stroke="#7d0e00"/>
<path d="M216.9 445.7l7.6-1.3l-7.8-6.9l-7.6 1.2z" fill="#7b1000" stroke="#7b1000"/>
<path d="M247.7 460.8l7.3-1.2l-7.8-9.2l-7.4 1z" fill="#791600" stroke="#791600"/>
<path d="M263 470.1l7.1-1l-7.9-10.4l-7.2 0.9z" fill="#812c00" stroke="#812c00"/>
<path d="M278.1 480.7l7-1l-7.9-11.4l-7.1 0.8z" fill="#8b4500" stroke="#8b4500"/>
<path d="M307.8 505.4l6.7-0.9l-7.8-13.7l-6.8 0.7z" fill="#978300" stroke="#978300"/>
<path d="M99.3 436.3l8.5-2.6l-6.9 1l-8.5 2.5z" fill="#870e00" stroke="#870e00"/>
<path d="M114.9 433.9l8.4-2.4l-7.1-0.1l-8.4 2.3z" fill="#860d00" stroke="#860d00"/>
<path d="M162.1 434.8l8.1-2.1l-7.5-3.5l-8.1 1.8z" fill="#810c00" stroke="#810c00"/>
<path d="M177.8 437.7l8-1.9l-7.6-4.8l-8 1.7z" fill="#7f0d00" stroke="#7f0d00"/>
<path d="M224.8 454.2l7.6-1.6l-7.9-8.2l-7.6 1.3z" fill="#7a1100" stroke="#7a1100"/>
<path d="M240.3 462.2l7.4-1.4l-7.9-9.4l-7.4 1.2z" fill="#781300" stroke="#781300"/>
<path d="M286.1 493.7l6.9-1.2l-7.9-12.8l-7 1z" fill="#925d00" stroke="#925d00"/>
<path d="M301 506.5l6.8-1.1l-7.9-13.9l-6.9 1z" fill="#977f00" stroke="#977f00"/>
<path d="M130.6 432.9l8.3-2.3l-7.2-1.3l-8.4 2.2z" fill="#840d00" stroke="#840d00"/>
<path d="M146.3 433.2l8.3-2.2l-7.5-2.4l-8.2 2z" fill="#830c00" stroke="#830c00"/>
<path d="M193.5 441.9l7.9-1.8l-7.7-5.9l-7.9 1.6z" fill="#7d0e00" stroke="#7d0e00"/>
<path d="M209.2 447.4l7.7-1.7l-7.8-7l-7.7 1.4z" fill="#7b0f00" stroke="#7b0f00"/>
<path d="M255.7 471.5l7.3-1.4l-8-10.5l-7.3 1.2z" fill="#812900" stroke="#812900"/>
<path d="M271 482l7.1-1.3l-8-11.6l-7.1 1z" fill="#8a4100" stroke="#8a4100"/>
<path d="M106.4 436.7l8.5-2.8l-7.1-0.2l-8.5 2.6z" fill="#870d00" stroke="#870d00"/>
<path d="M122.2 435.5l8.4-2.6l-7.3-1.4l-8.4 2.4z" fill="#850d00" stroke="#850d00"/>
<path d="M153.9 437.1l8.2-2.3l-7.5-3.8l-8.3 2.2z" fill="#820d00" stroke="#820d00"/>
<path d="M169.7 439.8l8.1-2.1l-7.6-5l-8.1 2.1z" fill="#800d00" stroke="#800d00"/>
<path d="M185.6 443.9l7.9-2l-7.7-6.1l-8 1.9z" fill="#7e0e00" stroke="#7e0e00"/>
<path d="M217.1 456l7.7-1.8l-7.9-8.5l-7.7 1.7z" fill="#7a1100" stroke="#7a1100"/>
<path d="M232.8 464l7.5-1.8l-7.9-9.6l-7.6 1.6z" fill="#791300" stroke="#791300"/>
<path d="M248.3 473.2l7.4-1.7l-8-10.7l-7.4 1.4z" fill="#802700" stroke="#802700"/>
<path d="M279 495.2l7.1-1.5l-8-13l-7.1 1.3z" fill="#925a00" stroke="#925a00"/>
<path d="M294 508l7-1.5l-8-14l-6.9 1.2z" fill="#967b00" stroke="#967b00"/>
<path d="M138 435.6l8.3-2.4l-7.4-2.6l-8.3 2.3z" fill="#840c00" stroke="#840c00"/>
<path d="M201.4 449.3l7.8-1.9l-7.8-7.3l-7.9 1.8z" fill="#7c0f00" stroke="#7c0f00"/>
<path d="M263.7 483.6l7.3-1.6l-8-11.9l-7.3 1.4z" fill="#893f00" stroke="#893f00"/>
<path d="M145.6 439.7l8.3-2.6l-7.6-3.9l-8.3 2.4z" fill="#830d00" stroke="#830d00"/>
<path d="M256.3 485.5l7.4-1.9l-8-12.1l-7.4 1.7z" fill="#893d00" stroke="#893d00"/>
<path d="M113.6 438.4l8.6-2.9l-7.3-1.6l-8.5 2.8z" fill="#860d00" stroke="#860d00"/>
<path d="M129.6 438.4l8.4-2.8l-7.4-2.7l-8.4 2.6z" fill="#850d00" stroke="#850d00"/>
<path d="M161.5 442.3l8.2-2.5l-7.6-5l-8.2 2.3z" fill="#810d00" stroke="#810d00"/>
<path d="M177.5 446.3l8.1-2.4l-7.8-6.2l-8.1 2.1z" fill="#7f0e00" stroke="#7f0e00"/>
<path d="M193.4 451.6l8-2.3l-7.9-7.4l-7.9 2z" fill="#7d0f00" stroke="#7d0f00"/>
<path d="M209.3 458.1l7.8-2.1l-7.9-8.6l-7.8 1.9z" fill="#7b1100" stroke="#7b1100"/>
<path d="M225.1 466l7.7-2l-8-9.8l-7.7 1.8z" fill="#791300" stroke="#791300"/>
<path d="M240.8 475.1l7.5-1.9l-8-11l-7.5 1.8z" fill="#802500" stroke="#802500"/>
<path d="M271.7 497l7.3-1.8l-8-13.2l-7.3 1.6z" fill="#925700" stroke="#925700"/>
<path d="M287 509.8l7-1.8l-7.9-14.3l-7.1 1.5z" fill="#967800" stroke="#967800"/>
<path d="M137.1 442.7l8.5-3l-7.6-4.1l-8.4 2.8z" fill="#840d00" stroke="#840d00"/>
<path d="M153.2 445.2l8.3-2.9l-7.6-5.2l-8.3 2.6z" fill="#820d00" stroke="#820d00"/>
<path d="M201.4 460.6l7.9-2.5l-7.9-8.8l-8 2.3z" fill="#7c1100" stroke="#7c1100"/>
<path d="M248.8 487.7l7.5-2.2l-8-12.3l-7.5 1.9z" fill="#883b00" stroke="#883b00"/>
<path d="M264.4 499.2l7.3-2.2l-8-13.4l-7.4 1.9z" fill="#925500" stroke="#925500"/>
<path d="M121 441.5l8.6-3.1l-7.4-2.9l-8.6 2.9z" fill="#860d00" stroke="#860d00"/>
<path d="M169.3 449l8.2-2.7l-7.8-6.5l-8.2 2.5z" fill="#800e00" stroke="#800e00"/>
<path d="M185.4 454.1l8-2.5l-7.8-7.7l-8.1 2.4z" fill="#7e0f00" stroke="#7e0f00"/>
<path d="M217.3 468.4l7.8-2.4l-8-10l-7.8 2.1z" fill="#7a1300" stroke="#7a1300"/>
<path d="M233.1 477.4l7.7-2.3l-8-11.1l-7.7 2z" fill="#802300" stroke="#802300"/>
<path d="M279.8 511.8l7.2-2l-8-14.6l-7.3 1.8z" fill="#977600" stroke="#977600"/>
<path d="M128.5 446l8.6-3.3l-7.5-4.3l-8.6 3.1z" fill="#850d00" stroke="#850d00"/>
<path d="M144.8 448.3l8.4-3.1l-7.6-5.5l-8.5 3z" fill="#830e00" stroke="#830e00"/>
<path d="M161 452l8.3-3l-7.8-6.7l-8.3 2.9z" fill="#800e00" stroke="#800e00"/>
<path d="M193.3 463.4l8.1-2.8l-8-9l-8 2.5z" fill="#7c1100" stroke="#7c1100"/>
<path d="M209.4 471l7.9-2.6l-8-10.3l-7.9 2.5z" fill="#7b1300" stroke="#7b1300"/>
<path d="M241.2 490.2l7.6-2.5l-8-12.6l-7.7 2.3z" fill="#893a00" stroke="#893a00"/>
<path d="M256.9 501.6l7.5-2.4l-8.1-13.7l-7.5 2.2z" fill="#935400" stroke="#935400"/>
<path d="M272.5 514.2l7.3-2.4l-8.1-14.8l-7.3 2.2z" fill="#977500" stroke="#977500"/>
<path d="M177.2 457l8.2-2.9l-7.9-7.8l-8.2 2.7z" fill="#7e0f00" stroke="#7e0f00"/>
<path d="M225.4 480l7.7-2.6l-8-11.4l-7.8 2.4z" fill="#802300" stroke="#802300"/>
<path d="M136.2 451.8l8.6-3.5l-7.7-5.6l-8.6 3.3z" fill="#840e00" stroke="#840e00"/>
<path d="M185.2 466.5l8.1-3.1l-7.9-9.3l-8.2 2.9z" fill="#7d1100" stroke="#7d1100"/>
<path d="M201.4 474l8-3l-8-10.4l-8.1 2.8z" fill="#7b1300" stroke="#7b1300"/>
<path d="M217.5 482.9l7.9-2.9l-8.1-11.6l-7.9 2.6z" fill="#812300" stroke="#812300"/>
<path d="M265.1 516.9l7.4-2.7l-8.1-15l-7.5 2.4z" fill="#977400" stroke="#977400"/>
<path d="M152.6 455.4l8.4-3.4l-7.8-6.8l-8.4 3.1z" fill="#810f00" stroke="#810f00"/>
<path d="M168.9 460.3l8.3-3.3l-7.9-8l-8.3 3z" fill="#7f1000" stroke="#7f1000"/>
<path d="M233.5 493l7.7-2.8l-8.1-12.8l-7.7 2.6z" fill="#893a00" stroke="#893a00"/>
<path d="M249.4 504.3l7.5-2.7l-8.1-13.9l-7.6 2.5z" fill="#935300" stroke="#935300"/>
<path d="M176.9 469.9l8.3-3.4l-8-9.5l-8.3 3.3z" fill="#7e1100" stroke="#7e1100"/>
<path d="M225.7 496.1l7.8-3.1l-8.1-13l-7.9 2.9z" fill="#8a3b00" stroke="#8a3b00"/>
<path d="M144 459.1l8.6-3.7l-7.8-7.1l-8.6 3.5z" fill="#820f00" stroke="#820f00"/>
<path d="M193.2 477.4l8.2-3.4l-8.1-10.6l-8.1 3.1z" fill="#7c1300" stroke="#7c1300"/>
<path d="M209.5 486.1l8-3.2l-8.1-11.9l-8 3z" fill="#822400" stroke="#822400"/>
<path d="M257.5 519.9l7.6-3l-8.2-15.3l-7.5 2.7z" fill="#987400" stroke="#987400"/>
<path d="M160.5 463.8l8.4-3.5l-7.9-8.3l-8.4 3.4z" fill="#801000" stroke="#801000"/>
<path d="M241.7 507.4l7.7-3.1l-8.2-14.1l-7.7 2.8z" fill="#945400" stroke="#945400"/>
<path d="M168.5 473.7l8.4-3.8l-8-9.6l-8.4 3.5z" fill="#7f1200" stroke="#7f1200"/>
<path d="M185 481.1l8.2-3.7l-8-10.9l-8.3 3.4z" fill="#7d1300" stroke="#7d1300"/>
<path d="M217.7 499.6l8-3.5l-8.2-13.2l-8 3.2z" fill="#8b3c00" stroke="#8b3c00"/>
<path d="M233.9 510.8l7.8-3.4l-8.2-14.4l-7.8 3.1z" fill="#955500" stroke="#955500"/>
<path d="M151.9 467.7l8.6-3.9l-7.9-8.4l-8.6 3.7z" fill="#811000" stroke="#811000"/>
<path d="M201.4 489.7l8.1-3.6l-8.1-12.1l-8.2 3.4z" fill="#832600" stroke="#832600"/>
<path d="M249.9 523.2l7.6-3.3l-8.1-15.6l-7.7 3.1z" fill="#997500" stroke="#997500"/>
<path d="M160 477.9l8.5-4.2l-8-9.9l-8.6 3.9z" fill="#801200" stroke="#801200"/>
<path d="M242.1 526.8l7.8-3.6l-8.2-15.8l-7.8 3.4z" fill="#9a7600" stroke="#9a7600"/>
<path d="M176.6 485.1l8.4-4l-8.1-11.2l-8.4 3.8z" fill="#7e1400" stroke="#7e1400"/>
<path d="M193.1 493.6l8.3-3.9l-8.2-12.3l-8.2 3.7z" fill="#852800" stroke="#852800"/>
<path d="M209.6 503.4l8.1-3.8l-8.2-13.5l-8.1 3.6z" fill="#8d3e00" stroke="#8d3e00"/>
<path d="M225.9 514.5l8-3.7l-8.2-14.7l-8 3.5z" fill="#965600" stroke="#965600"/>
<path d="M168.1 489.4l8.5-4.3l-8.1-11.4l-8.5 4.2z" fill="#801800" stroke="#801800"/>
<path d="M201.4 507.6l8.2-4.2l-8.2-13.7l-8.3 3.9z" fill="#8f4100" stroke="#8f4100"/>
<path d="M234.2 530.8l7.9-4l-8.2-16l-8 3.7z" fill="#9b7900" stroke="#9b7900"/>
<path d="M184.8 497.8l8.3-4.2l-8.1-12.5l-8.4 4z" fill="#872b00" stroke="#872b00"/>
<path d="M217.9 518.6l8-4.1l-8.2-14.9l-8.1 3.8z" fill="#975900" stroke="#975900"/>
<path d="M176.3 502.4l8.5-4.6l-8.2-12.7l-8.5 4.3z" fill="#892f00" stroke="#892f00"/>
<path d="M193.1 512.1l8.3-4.5l-8.3-14l-8.3 4.2z" fill="#914400" stroke="#914400"/>
<path d="M209.7 523l8.2-4.4l-8.3-15.2l-8.2 4.2z" fill="#995d00" stroke="#995d00"/>
<path d="M226.2 535.1l8-4.3l-8.3-16.3l-8 4.1z" fill="#9c7c00" stroke="#9c7c00"/>
<path d="M184.6 516.9l8.5-4.8l-8.3-14.3l-8.5 4.6z" fill="#934800" stroke="#934800"/>
<path d="M218 539.8l8.2-4.7l-8.3-16.5l-8.2 4.4z" fill="#9e8000" stroke="#9e8000"/>
<path d="M201.4 527.7l8.3-4.7l-8.3-15.4l-8.3 4.5z" fill="#9a6100" stroke="#9a6100"/>
<path d="M193 532.9l8.4-5.2l-8.3-15.6l-8.5 4.8z" fill="#9c6700" stroke="#9c6700"/>
<path d="M209.8 544.8l8.2-5l-8.3-16.8l-8.3 4.7z" fill="#9f8500" stroke="#9f8500"/>
<path d="M201.4 550.2l8.4-5.4l-8.4-17.1l-8.4 5.2z" fill="#a18b00" stroke="#a18b00"/>
</g>
<path d="M201.4 550.2l6.3-4.1l6.2-3.8l6.2-3.7l6.1-3.5l6-3.2l6-3.1l5.9-2.9l5.8-2.7l5.7-2.5l5.7-2.4l5.6-2.1l5.6-2l5.5-1.8l5.4-1.6l5.4-1.5l5.2-1.3l5.3-1.1l5.1-1l5.1-0.8l5-0.6l5-0.5l4.9-0.4l4.8-0.2l4.8 0M198.9 544.9l6.3-4.1l6.2-3.8l6.2-3.6l6.1-3.4l6-3.2l6-3l5.9-2.9l5.8-2.6l5.8-2.5l5.7-2.2l5.6-2.1l5.6-2l5.5-1.7l5.4-1.6l5.4-1.4l5.2-1.2l5.3-1.1l5.1-0.9l5.1-0.8l5.1-0.6l5-0.4l4.9-0.3l4.8-0.2l4.8 0M196.3 539.6l6.3-3.9l6.3-3.8l6.2-3.5l6.1-3.4l6-3.1l6-3l5.9-2.8l5.9-2.6l5.7-2.4l5.7-2.2l5.7-2l5.5-1.9l5.5-1.7l5.5-1.5l5.3-1.4l5.4-1.1l5.2-1.1l5.2-0.8l5.1-0.7l5-0.6l5-0.4l4.9-0.2l4.9-0.1l4.7 0M193.8 534.5l6.3-3.9l6.3-3.7l6.2-3.4l6.1-3.3l6-3.1l6-2.9l5.9-2.8l5.9-2.5l5.8-2.3l5.7-2.2l5.6-2l5.6-1.8l5.5-1.6l5.5-1.5l5.3-1.3l5.4-1.1l5.2-1l5.2-0.8l5.1-0.7l5.1-0.5l4.9-0.3l5-0.2l4.8-0.1l4.8 0.1M191.3 529.6l6.3-3.9l6.3-3.6l6.2-3.4l6.1-3.3l6.1-3l6-2.9l5.9-2.6l5.8-2.5l5.8-2.3l5.7-2.1l5.7-1.9l5.6-1.8l5.5-1.6l5.5-1.4l5.3-1.2l5.4-1.1l5.2-0.9l5.2-0.8l5.1-0.6l5.1-0.4l5-0.3l4.9-0.2l4.9 0l4.8 0.2M188.8 524.7l6.3-3.8l6.3-3.5l6.2-3.4l6.1-3.2l6.1-3l6-2.8l5.9-2.6l5.9-2.4l5.8-2.2l5.7-2.1l5.7-1.9l5.6-1.7l5.5-1.5l5.4-1.3l5.4-1.2l5.4-1.1l5.2-0.8l5.2-0.7l5.2-0.6l5-0.4l5-0.2l5-0.1l4.8 0l4.8 0.2M186.3 520l6.3-3.7l6.3-3.5l6.2-3.4l6.1-3.1l6.1-2.9l6-2.7l6-2.6l5.8-2.3l5.8-2.2l5.8-2l5.6-1.8l5.6-1.7l5.6-1.5l5.4-1.3l5.4-1.1l5.4-1l5.2-0.8l5.3-0.7l5.1-0.5l5.1-0.3l5-0.2l4.9-0.1l4.9 0.1l4.8 0.3M183.8 515.4l6.3-3.6l6.3-3.5l6.2-3.3l6.2-3l6.1-2.9l6-2.7l5.9-2.5l5.9-2.3l5.8-2.1l5.7-2l5.7-1.7l5.6-1.6l5.6-1.4l5.4-1.3l5.4-1.1l5.4-0.9l5.3-0.8l5.2-0.6l5.1-0.4l5.1-0.3l5-0.2l5 0l4.9 0.1l4.8 0.3M181.3 511l6.3-3.6l6.3-3.4l6.2-3.2l6.2-3l6.1-2.9l6-2.6l6-2.4l5.8-2.3l5.9-2.1l5.7-1.9l5.7-1.7l5.6-1.5l5.6-1.4l5.4-1.2l5.5-1l5.3-0.9l5.3-0.7l5.2-0.6l5.2-0.4l5-0.3l5.1-0.1l4.9 0.1l4.9 0.2l4.9 0.3M178.8 506.6l6.4-3.5l6.2-3.3l6.3-3.2l6.1-2.9l6.1-2.8l6.1-2.6l5.9-2.4l5.9-2.2l5.8-2l5.8-1.8l5.7-1.7l5.6-1.5l5.6-1.3l5.4-1.2l5.5-1l5.3-0.8l5.3-0.7l5.2-0.5l5.2-0.3l5.1-0.2l5-0.1l5 0.1l4.9 0.2l4.8 0.4M176.3 502.4l6.4-3.4l6.3-3.3l6.2-3.1l6.2-2.9l6.1-2.7l6-2.5l6-2.4l5.9-2.1l5.8-2l5.8-1.8l5.7-1.6l5.6-1.4l5.6-1.3l5.4-1.1l5.5-1l5.3-0.7l5.3-0.7l5.3-0.4l5.1-0.3l5.1-0.2l5.1 0l4.9 0.1l5 0.3l4.8 0.4M173.8 498.4l6.4-3.4l6.3-3.3l6.3-3l6.1-2.9l6.1-2.6l6.1-2.5l6-2.3l5.9-2.1l5.8-1.9l5.8-1.7l5.7-1.6l5.6-1.4l5.6-1.2l5.5-1.1l5.4-0.8l5.4-0.8l5.3-0.6l5.2-0.4l5.2-0.2l5.1-0.2l5 0.1l5 0.1l4.9 0.4l4.9 0.4M171.4 494.5l6.3-3.4l6.4-3.2l6.2-3l6.2-2.8l6.1-2.6l6-2.4l6-2.2l5.9-2.1l5.9-1.8l5.7-1.7l5.8-1.5l5.6-1.4l5.6-1.2l5.5-1l5.4-0.8l5.4-0.7l5.3-0.5l5.2-0.4l5.2-0.2l5.1-0.1l5.1 0.1l5 0.2l4.9 0.4l4.9 0.5M168.9 490.7l6.4-3.4l6.3-3.1l6.3-2.9l6.2-2.8l6.1-2.5l6-2.4l6-2.1l5.9-2l5.9-1.9l5.7-1.6l5.8-1.5l5.6-1.3l5.6-1.1l5.5-1l5.4-0.8l5.4-0.6l5.3-0.5l5.3-0.3l5.2-0.2l5.1 0l5 0.1l5 0.3l5 0.4l4.8 0.5M166.5 487l6.3-3.3l6.4-3l6.2-2.9l6.2-2.7l6.1-2.5l6.1-2.3l6-2.1l5.9-2l5.9-1.8l5.7-1.5l5.8-1.5l5.6-1.2l5.6-1.1l5.5-0.9l5.5-0.8l5.4-0.6l5.3-0.4l5.2-0.3l5.2-0.1l5.1 0l5.1 0.1l5 0.3l4.9 0.5l4.9 0.6M164 483.5l6.4-3.3l6.3-3l6.3-2.8l6.2-2.6l6.1-2.5l6.1-2.2l6-2.1l5.9-1.9l5.9-1.7l5.8-1.6l5.7-1.4l5.6-1.2l5.6-1l5.5-0.9l5.5-0.7l5.4-0.5l5.3-0.4l5.3-0.3l5.2-0.1l5.1 0.1l5.1 0.2l5 0.3l4.9 0.5l4.9 0.6M161.6 480.1l6.4-3.2l6.3-3l6.3-2.8l6.2-2.5l6.1-2.4l6.1-2.2l6-2.1l5.9-1.8l5.9-1.7l5.8-1.5l5.7-1.3l5.7-1.2l5.5-1l5.6-0.8l5.4-0.7l5.4-0.5l5.4-0.3l5.2-0.2l5.2-0.1l5.2 0.1l5 0.3l5.1 0.4l4.9 0.5l4.9 0.6M159.1 476.8l6.5-3.1l6.3-3l6.3-2.7l6.2-2.5l6.1-2.4l6.1-2.1l6-2l5.9-1.8l5.9-1.6l5.8-1.5l5.7-1.3l5.7-1.1l5.6-0.9l5.5-0.8l5.5-0.6l5.4-0.5l5.3-0.3l5.3-0.2l5.2 0l5.1 0.2l5.1 0.3l5 0.4l5 0.5l4.9 0.7M156.7 473.6l6.4-3l6.4-2.9l6.3-2.7l6.2-2.5l6.1-2.2l6.1-2.2l6-1.9l5.9-1.7l5.9-1.6l5.8-1.4l5.7-1.3l5.7-1l5.6-0.9l5.6-0.8l5.4-0.6l5.4-0.4l5.4-0.3l5.3-0.1l5.2 0.1l5.1 0.1l5.1 0.4l5 0.4l5 0.6l4.9 0.8M154.3 470.6l6.4-3l6.4-2.8l6.3-2.6l6.2-2.5l6.1-2.2l6.1-2.1l6-1.9l6-1.7l5.8-1.5l5.8-1.4l5.8-1.2l5.7-1l5.6-0.8l5.5-0.7l5.5-0.6l5.4-0.4l5.3-0.2l5.3-0.1l5.2 0.1l5.2 0.2l5.1 0.4l5 0.5l5 0.6l4.9 0.8M151.9 467.7l6.4-2.9l6.4-2.8l6.3-2.6l6.2-2.4l6.1-2.2l6.1-2l6-1.8l6-1.7l5.9-1.5l5.8-1.3l5.7-1.1l5.7-1l5.6-0.8l5.6-0.7l5.4-0.5l5.5-0.3l5.3-0.2l5.3-0.1l5.2 0.2l5.2 0.2l5.1 0.4l5 0.5l5 0.7l4.9 0.8M149.5 465l6.5-2.9l6.3-2.8l6.3-2.5l6.2-2.3l6.2-2.2l6.1-1.9l6-1.8l5.9-1.7l5.9-1.4l5.8-1.3l5.8-1.1l5.7-0.9l5.6-0.8l5.5-0.6l5.5-0.5l5.4-0.3l5.4-0.1l5.3 0l5.2 0.1l5.2 0.3l5.1 0.5l5 0.5l5 0.7l4.9 0.9M147.2 462.4l6.4-2.9l6.3-2.7l6.3-2.5l6.3-2.3l6.1-2.1l6.1-1.9l6-1.7l6-1.6l5.9-1.4l5.8-1.2l5.7-1.1l5.7-0.9l5.6-0.7l5.6-0.6l5.5-0.4l5.4-0.3l5.4-0.1l5.3 0l5.2 0.2l5.2 0.3l5.1 0.5l5 0.6l5 0.8l4.9 0.8M144.8 459.9l6.4-2.9l6.4-2.6l6.3-2.4l6.2-2.3l6.2-2l6-1.9l6.1-1.7l5.9-1.5l5.9-1.4l5.8-1.2l5.8-1l5.7-0.9l5.6-0.7l5.6-0.5l5.5-0.4l5.4-0.2l5.4-0.1l5.3 0.1l5.2 0.2l5.2 0.4l5.1 0.5l5 0.6l5 0.8l4.9 0.9M142.4 457.5l6.5-2.8l6.3-2.6l6.3-2.3l6.3-2.2l6.1-2.1l6.1-1.8l6-1.7l6-1.5l5.9-1.3l5.8-1.1l5.8-1l5.7-0.8l5.6-0.7l5.6-0.5l5.4-0.3l5.5-0.2l5.3 0l5.3 0.1l5.3 0.2l5.2 0.4l5.1 0.6l5 0.6l5 0.9l4.9 0.9M140.1 455.2l6.4-2.7l6.4-2.5l6.3-2.3l6.2-2.2l6.2-2l6.1-1.8l6-1.6l6-1.4l5.9-1.3l5.8-1.1l5.7-1l5.7-0.7l5.7-0.7l5.5-0.4l5.5-0.3l5.5-0.2l5.3 0l5.4 0.2l5.2 0.3l5.2 0.4l5.1 0.6l5 0.7l5 0.8l5 1M137.8 453.1l6.4-2.6l6.4-2.5l6.3-2.3l6.2-2.1l6.2-2l6-1.7l6.1-1.6l5.9-1.4l5.9-1.2l5.9-1.1l5.7-0.9l5.7-0.8l5.7-0.5l5.5-0.5l5.5-0.2l5.5-0.1l5.4 0l5.3 0.2l5.2 0.3l5.2 0.5l5.1 0.6l5.1 0.7l5 0.9l4.9 1M135.4 451.2l6.5-2.7l6.3-2.4l6.3-2.3l6.3-2l6.1-1.9l6.1-1.8l6.1-1.5l5.9-1.4l5.9-1.1l5.9-1.1l5.7-0.8l5.7-0.7l5.7-0.6l5.5-0.4l5.5-0.2l5.5-0.1l5.4 0.1l5.3 0.2l5.2 0.4l5.2 0.5l5.1 0.6l5.1 0.8l5 0.9l4.9 1M133.1 449.3l6.5-2.6l6.3-2.4l6.3-2.2l6.3-2l6.1-1.9l6.1-1.7l6.1-1.4l5.9-1.4l5.9-1.1l5.9-1l5.7-0.8l5.7-0.7l5.7-0.5l5.6-0.4l5.5-0.2l5.4 0l5.4 0.1l5.3 0.2l5.3 0.4l5.1 0.6l5.2 0.6l5 0.8l5 1l5 1M130.8 447.6l6.5-2.6l6.3-2.3l6.3-2.2l6.3-2l6.1-1.8l6.1-1.6l6.1-1.5l5.9-1.3l5.9-1.1l5.9-0.9l5.8-0.8l5.7-0.7l5.6-0.4l5.6-0.4l5.5-0.1l5.4 0l5.4 0.1l5.3 0.3l5.3 0.4l5.2 0.6l5.1 0.7l5.1 0.8l5 1l4.9 1.1M128.5 446l6.5-2.5l6.3-2.4l6.3-2.1l6.3-1.9l6.1-1.8l6.2-1.6l6-1.4l6-1.3l5.9-1l5.8-1l5.8-0.7l5.7-0.6l5.6-0.4l5.6-0.3l5.5-0.1l5.5 0l5.4 0.1l5.3 0.4l5.2 0.4l5.2 0.6l5.2 0.7l5 0.9l5 1l5 1.1M126.3 444.5l6.4-2.5l6.4-2.2l6.3-2.1l6.2-1.9l6.2-1.8l6.1-1.5l6-1.4l6-1.2l5.9-1.1l5.8-0.8l5.8-0.8l5.7-0.5l5.7-0.4l5.5-0.3l5.6-0.1l5.4 0.1l5.4 0.2l5.3 0.3l5.3 0.5l5.2 0.6l5.1 0.8l5.1 0.9l5 1l4.9 1.2M124 443.1l6.4-2.4l6.4-2.2l6.3-2.1l6.2-1.8l6.2-1.7l6.1-1.5l6.1-1.4l5.9-1.2l5.9-1l5.9-0.8l5.8-0.7l5.7-0.5l5.6-0.4l5.6-0.2l5.5-0.1l5.5 0.1l5.3 0.2l5.4 0.4l5.2 0.5l5.2 0.7l5.2 0.8l5 0.9l5.1 1l1.1 0.3M121.7 441.9l6.5-2.4l6.4-2.2l6.3-2l6.2-1.8l6.2-1.7l6.1-1.4l6-1.3l6-1.2l5.9-1l5.8-0.8l5.8-0.6l5.7-0.5l5.7-0.3l5.5-0.2l5.6-0.1l5.4 0.2l5.4 0.2l5.3 0.4l5.3 0.6l5.2 0.6l5.1 0.8l4.6 0.9M119.5 440.8l6.4-2.3l6.4-2.2l6.3-2l6.3-1.8l6.1-1.6l6.1-1.4l6.1-1.3l5.9-1.1l5.9-0.9l5.9-0.8l5.8-0.6l5.7-0.5l5.6-0.3l5.6-0.1l5.5 0l5.5 0.1l5.4 0.3l5.3 0.4l5.3 0.6l5.2 0.7l3 0.5M117.3 439.8l6.4-2.3l6.4-2.1l6.3-1.9l6.2-1.8l6.2-1.6l6.1-1.4l6-1.2l6-1.1l5.9-0.9l5.9-0.7l5.7-0.6l5.8-0.4l5.6-0.3l5.6-0.1l5.5 0l5.5 0.2l5.4 0.3l5.3 0.4l5.3 0.6l1.2 0.2M115.1 439l6.4-2.3l6.4-2.1l6.3-1.9l6.2-1.7l6.2-1.5l6.1-1.4l6-1.2l6-1.1l5.9-0.8l5.8-0.7l5.8-0.6l5.7-0.4l5.7-0.2l5.6-0.1l5.5 0l5.4 0.2l5.4 0.4l4.7 0.4M112.9 438.2l6.4-2.2l6.4-2l6.3-1.9l6.2-1.7l6.2-1.5l6.1-1.3l6-1.2l6-1l5.9-0.9l5.8-0.6l5.8-0.6l5.7-0.3l5.7-0.2l5.6-0.1l5.5 0.1l5.4 0.2l2.8 0.2M110.7 437.6l6.4-2.2l6.4-2l6.3-1.8l6.2-1.7l6.2-1.4l6.1-1.3l6-1.2l6-1l5.9-0.8l5.8-0.6l5.8-0.5l5.7-0.3l5.7-0.2l5.6-0.1l5.5 0.1l0.6 0.1M108.5 437.1l6.4-2.1l6.4-2l6.3-1.8l6.2-1.6l6.2-1.5l6.1-1.2l6-1.1l6-1l5.9-0.8l5.9-0.6l5.7-0.4l5.7-0.4l5.7-0.1l3.9 0M106.4 436.7l6.4-2.1l6.3-1.9l6.3-1.8l6.3-1.6l6.1-1.4l6.1-1.2l6.1-1.1l5.9-0.9l5.9-0.7l5.9-0.6l5.8-0.5l5.7-0.3l1.5 0M104.2 436.5l6.4-2.1l6.4-1.9l6.3-1.7l6.2-1.6l6.2-1.4l6.1-1.2l6-1l6-0.9l5.9-0.7l5.8-0.6l4.8-0.3M102.1 436.3l6.4-2l6.4-1.9l6.3-1.7l6.2-1.5l6.1-1.3l6.1-1.2l6.1-1l5.9-0.9l5.9-0.7l2.1-0.2M100 436.3l6.4-2l6.3-1.8l6.3-1.7l6.3-1.5l6.1-1.3l6.1-1.2l6-0.9l5.3-0.8M97.9 436.4l6.4-2l6.3-1.8l6.3-1.6l6.2-1.5l6.2-1.3l6.1-1.1l2.2-0.4M95.8 436.6l6.4-2l6.3-1.7l6.3-1.6l6.2-1.4l5.2-1.1M93.7 436.9l6.4-1.9l6.4-1.7l6.2-1.6l1.9-0.4M91.7 437.3l6.4-1.8l4.6-1.3M89.6 437.9l0.9-0.3M87.6 438.6l4.6-1.4M85.6 439.3l6.4-1.8l3.3-0.8M83.6 440.2l6.4-1.8l6.3-1.6l2-0.4M81.6 441.2l6.4-1.7l6.3-1.6l6.3-1.4l0.8-0.2M79.7 442.3l6.3-1.7l6.3-1.6l6.3-1.4l5.9-1.1M77.7 443.5l6.4-1.7l6.3-1.5l6.2-1.4l6.2-1.2l4.8-0.8M75.8 444.8l6.3-1.7l6.3-1.5l6.3-1.3l6.1-1.2l6.1-1l3.8-0.5M73.9 446.2l6.3-1.6l6.3-1.5l6.2-1.3l6.2-1.2l6.1-0.9l6-0.9l2.8-0.3M72 447.7l6.3-1.6l6.3-1.4l6.2-1.3l6.2-1.2l6.1-0.9l6-0.8l6-0.7l1.8-0.2M70.1 449.3l6.3-1.6l6.3-1.4l6.2-1.2l6.2-1.1l6-1l6.1-0.8l5.9-0.6l5.9-0.5l1-0.1M68.2 451.1l6.3-1.6l6.3-1.4l6.2-1.3l6.2-1l6-1l6.1-0.7l5.9-0.7l5.9-0.4l5.9-0.3l0.1-0.1M66.4 452.9l6.3-1.6l6.2-1.4l6.2-1.2l6.2-1l6.1-1l6-0.7l5.9-0.6l5.9-0.5l5.8-0.3l5.3-0.1M201.4 550.2l-6.3-13.1l-6.3-12.4l-6.3-11.5l-6.2-10.8l-6.2-9.9l-6.1-9l-6.1-8.3l-6-7.5l-5.9-6.6l-5.9-5.9l-5.8-5l-5.8-4.2l-5.6-3.5l-5.6-2.7l-5.5-1.9l-5.4-1.2l-5.4-0.4l-5.2 0.3l-5.2 1l-5 1.7l-5 2.4l-4.8 3.1l-4.8 3.7l-4.6 4.4M203.9 548.6l-6.3-13.1l-6.3-12.3l-6.2-11.5l-6.2-10.7l-6.2-9.8l-6.1-9.1l-6.1-8.2l-6-7.4l-5.9-6.6l-5.9-5.8l-5.8-5l-5.8-4.2l-5.6-3.4l-5.6-2.6l-5.5-1.9l-5.5-1.1l-5.3-0.4l-5.2 0.3l-5.2 1l-5 1.8l-5 2.4l-4.9 3.1l-4.7 3.8l-4.7 4.3M206.4 546.9l-6.3-13l-6.2-12.2l-6.3-11.4l-6.2-10.7l-6.2-9.8l-6.1-8.9l-6-8.2l-6-7.4l-6-6.5l-5.9-5.7l-5.8-5l-5.7-4.2l-5.7-3.3l-5.6-2.6l-5.5-1.9l-5.4-1.1l-5.3-0.3l-5.3 0.3l-5.1 1.1l-5.1 1.8l-5 2.4l-4.8 3.1l-4.8 3.8l-4.7 4.4M208.9 545.4l-6.3-13l-6.2-12.2l-6.3-11.4l-6.2-10.5l-6.1-9.8l-6.1-8.9l-6.1-8.1l-6-7.3l-5.9-6.5l-5.9-5.7l-5.8-4.9l-5.7-4.1l-5.7-3.4l-5.6-2.5l-5.5-1.8l-5.4-1.1l-5.4-0.3l-5.2 0.4l-4.8 1M94.1 436.9l-0.9 0.3l-4.9 2.5l-4.9 3.1l-4.8 3.8l-4.7 4.4M211.4 543.8l-6.3-12.9l-6.2-12.1l-6.2-11.3l-6.2-10.5l-6.2-9.7l-6.1-8.9l-6-8.1l-6-7.2l-6-6.5l-5.8-5.6l-5.9-4.9l-5.7-4l-5.7-3.3l-5.6-2.6l-5.5-1.7l-5.4-1.1l-5.3-0.3l-5.3 0.5l-4.3 0.9M95.6 436.6l-4.8 2.4l-4.9 3.2l-4.8 3.8l-4.7 4.5M213.9 542.3l-6.3-12.9l-6.2-12l-6.2-11.3l-6.2-10.4l-6.2-9.7l-6.1-8.8l-6-8l-6-7.2l-5.9-6.4l-5.9-5.6l-5.8-4.8l-5.8-4.1l-5.6-3.2l-5.6-2.5l-5.5-1.7l-5.5-1l-5.3-0.3l-5.3 0.5l-3.7 0.8M97.1 436.5l-3.8 1.9l-4.9 3.2l-4.8 3.9l-4.7 4.4M216.4 540.8l-6.3-12.8l-6.2-12l-6.2-11.2l-6.2-10.4l-6.2-9.6l-6-8.7l-6.1-8l-6-7.1l-5.9-6.4l-5.9-5.6l-5.8-4.7l-5.7-4l-5.7-3.2l-5.6-2.5l-5.5-1.7l-5.4-0.9l-5.4-0.3l-5.2 0.5l-3.3 0.7M98.6 436.3l-2.8 1.6l-4.9 3.2l-4.8 3.8l-4.7 4.5M218.9 539.3l-6.3-12.7l-6.2-12l-6.3-11.1l-6.1-10.3l-6.2-9.5l-6-8.8l-6.1-7.9l-6-7.1l-5.9-6.3l-5.9-5.5l-5.8-4.7l-5.7-4l-5.7-3.1l-5.6-2.5l-5.5-1.6l-5.4-0.9l-5.4-0.2l-5.2 0.5l-2.8 0.6M100.1 436.3l-1.8 1l-4.9 3.3l-4.8 3.8l-4.7 4.6M221.3 537.9l-6.2-12.7l-6.3-11.9l-6.2-11l-6.1-10.3l-6.2-9.5l-6.1-8.6l-6-7.9l-6-7.1l-5.9-6.2l-5.9-5.5l-5.8-4.7l-5.7-3.9l-5.7-3.1l-5.6-2.4l-5.5-1.6l-5.4-0.9l-5.4-0.2l-5.2 0.6l-2.2 0.4M101.6 436.3l-0.8 0.5l-4.9 3.3l-4.8 3.9l-4.7 4.5M223.7 536.5l-6.2-12.6l-6.2-11.8l-6.2-11.1l-6.2-10.2l-6.1-9.4l-6.1-8.6l-6-7.8l-6-7l-5.9-6.2l-5.9-5.5l-5.8-4.6l-5.7-3.9l-5.7-3.1l-5.6-2.3l-5.5-1.6l-5.4-0.8l-5.4-0.2l-5.2 0.6l-1.7 0.3M103.1 436.4l-4.7 3.2l-4.8 3.9l-4.8 4.6M226.2 535.1l-6.3-12.5l-6.2-11.8l-6.2-11l-6.1-10.1l-6.1-9.4l-6.1-8.5l-6-7.8l-6-7l-5.9-6.1l-5.9-5.4l-5.8-4.6l-5.7-3.8l-5.7-3.1l-5.6-2.3l-5.5-1.5l-5.4-0.9l-5.4-0.1l-5.3 0.7l-1.1 0.2M104.6 436.5l-3.8 2.6l-4.8 4l-4.7 4.6M228.6 533.8l-6.2-12.5l-6.2-11.7l-6.2-10.9l-6.2-10.1l-6.1-9.3l-6-8.5l-6.1-7.7l-5.9-7l-6-6.1l-5.8-5.3l-5.8-4.6l-5.7-3.8l-5.7-3l-5.6-2.2l-5.5-1.6l-5.5-0.7l-5.3-0.1l-5.3 0.6l-0.6 0.2M106.1 436.7l-2.8 2l-4.9 4l-4.7 4.6M231 532.5l-6.2-12.4l-6.2-11.7l-6.2-10.8l-6.1-10.1l-6.1-9.3l-6.1-8.4l-6-7.7l-6-6.8l-5.9-6.1l-5.9-5.3l-5.7-4.5l-5.8-3.8l-5.6-2.9l-5.6-2.3l-5.6-1.4l-5.4-0.8l-5.4 0l-5.2 0.6l-0.1 0.1M107.6 436.9l-1.9 1.4l-4.8 4l-4.8 4.6M233.4 531.2l-6.2-12.4l-6.2-11.5l-6.2-10.8l-6.1-10l-6.1-9.2l-6.1-8.4l-6-7.7l-5.9-6.8l-5.9-6l-5.9-5.3l-5.8-4.4l-5.7-3.7l-5.7-3l-5.6-2.2l-5.5-1.4l-5.4-0.7l-5.4 0l-4.8 0.6M109.1 437.2l-1 0.7l-4.8 4.1l-4.7 4.6M235.8 530l-6.2-12.3l-6.2-11.6l-6.2-10.7l-6.1-10l-6.1-9.1l-6-8.4l-6-7.5l-6-6.8l-5.9-6l-5.9-5.2l-5.8-4.4l-5.7-3.7l-5.6-2.9l-5.6-2.1l-5.6-1.4l-5.4-0.7l-5.4 0l-4.2 0.5M110.6 437.6l0 0l-4.9 4l-4.7 4.7M238.2 528.8l-6.2-12.3l-6.2-11.5l-6.2-10.6l-6.1-9.9l-6.1-9.1l-6-8.3l-6-7.6l-6-6.7l-5.9-5.9l-5.8-5.2l-5.8-4.4l-5.7-3.6l-5.7-2.9l-5.6-2.1l-5.5-1.4l-5.5-0.6l-5.3 0l-3.7 0.5M112.1 438l-4 3.3l-4.7 4.7M240.5 527.6l-6.2-12.2l-6.1-11.4l-6.2-10.7l-6.1-9.8l-6.1-9l-6-8.3l-6-7.5l-6-6.6l-5.9-5.9l-5.8-5.1l-5.8-4.4l-5.7-3.6l-5.7-2.8l-5.6-2.1l-5.5-1.3l-5.4-0.7l-5.4 0.1l-3.2 0.4M113.6 438.4l-3.1 2.7l-4.7 4.6M242.9 526.4l-6.2-12.1l-6.2-11.4l-6.1-10.5l-6.1-9.8l-6.1-9l-6-8.2l-6-7.4l-6-6.7l-5.9-5.8l-5.8-5.1l-5.8-4.3l-5.7-3.5l-5.7-2.8l-5.6-2.1l-5.5-1.3l-5.4-0.6l-5.4 0.1l-2.6 0.3M115 438.9l-2.1 1.9l-4.8 4.7M245.2 525.3l-6.1-12.1l-6.2-11.3l-6.1-10.5l-6.1-9.7l-6.1-9l-6-8.1l-6-7.4l-6-6.6l-5.9-5.8l-5.8-5l-5.8-4.3l-5.7-3.5l-5.7-2.7l-5.6-2l-5.5-1.3l-5.4-0.6l-5.4 0.2l-2 0.2M116.5 439.5l-1.2 1.1l-4.8 4.7M247.6 524.2l-6.2-12l-6.2-11.2l-6.1-10.5l-6.1-9.7l-6-8.9l-6.1-8.1l-5.9-7.3l-6-6.5l-5.9-5.8l-5.8-5l-5.8-4.2l-5.7-3.5l-5.7-2.7l-5.6-2l-5.5-1.2l-5.4-0.5l-5.4 0.1l-1.5 0.2M117.9 440.1l-0.3 0.3l-4.7 4.7M249.9 523.2l-6.2-12l-6.1-11.2l-6.1-10.4l-6.1-9.6l-6.1-8.9l-6-8l-6-7.3l-5.9-6.5l-5.9-5.7l-5.8-4.9l-5.8-4.2l-5.7-3.5l-5.7-2.6l-5.6-2l-5.5-1.2l-5.5-0.5l-5.3 0.2l-0.9 0.1M119.4 440.8l-4.2 4.1M252.2 522.2l-6.2-12l-6.1-11.1l-6.1-10.4l-6.1-9.5l-6-8.8l-6-8l-6-7.2l-6-6.5l-5.8-5.7l-5.9-4.9l-5.8-4.1l-5.7-3.4l-5.6-2.7l-5.6-1.9l-5.5-1.1l-5.5-0.5l-5.4 0.2l-0.3 0.1M120.9 441.5l-3.4 3.3M254.5 521.2l-6.2-11.9l-6.1-11.1l-6.1-10.3l-6.1-9.5l-6-8.7l-6-8l-6-7.2l-5.9-6.4l-5.9-5.6l-5.8-4.9l-5.8-4.1l-5.7-3.3l-5.7-2.6l-5.6-1.9l-5.5-1.2l-5.4-0.4l-5.2 0.2M122.3 442.2l-2.4 2.5M256.8 520.2l-6.2-11.8l-6.1-11l-6.1-10.3l-6-9.5l-6.1-8.6l-6-8l-5.9-7.1l-6-6.3l-5.8-5.6l-5.9-4.9l-5.7-4l-5.8-3.3l-5.6-2.6l-5.6-1.8l-5.5-1.2l-5.5-0.4l-4.5 0.2M123.7 443l-1.5 1.6M259.1 519.2l-6.2-11.7l-6.1-11l-6.1-10.2l-6-9.4l-6.1-8.6l-6-7.9l-5.9-7.1l-5.9-6.3l-5.9-5.5l-5.8-4.8l-5.8-4l-5.7-3.3l-5.7-2.5l-5.6-1.9l-5.5-1l-5.4-0.4l-4 0.2M125.2 443.8l-0.7 0.7M261.3 518.3l-6.1-11.7l-6.1-10.9l-6.1-10.1l-6-9.4l-6.1-8.6l-5.9-7.8l-6-7l-5.9-6.3l-5.9-5.5l-5.8-4.7l-5.8-4l-5.7-3.3l-5.6-2.5l-5.6-1.7l-5.6-1.1l-5.4-0.3l-3.4 0.1M263.6 517.4l-6.1-11.6l-6.1-10.8l-6.1-10.1l-6-9.3l-6.1-8.6l-6-7.7l-5.9-7l-5.9-6.3l-5.9-5.4l-5.8-4.7l-5.8-4l-5.7-3.2l-5.6-2.4l-5.6-1.8l-5.5-1l-5.5-0.3l-2.8 0.1M265.8 516.6l-6.1-11.6l-6.1-10.8l-6-10l-6.1-9.3l-6-8.5l-6-7.7l-5.9-6.9l-5.9-6.2l-5.9-5.4l-5.8-4.7l-5.8-3.9l-5.7-3.2l-5.6-2.4l-5.6-1.7l-5.5-1l-5.5-0.3l-2.2 0.1M268.1 515.8l-6.1-11.6l-6.1-10.7l-6.1-10l-6-9.2l-6-8.4l-6-7.7l-5.9-6.9l-5.9-6.1l-5.9-5.4l-5.8-4.6l-5.8-3.9l-5.7-3.1l-5.6-2.4l-5.6-1.7l-5.5-1l-5.5-0.2l-1.6 0M270.3 515l-6.1-11.5l-6.1-10.7l-6-9.9l-6-9.2l-6.1-8.4l-5.9-7.6l-6-6.8l-5.9-6.1l-5.8-5.4l-5.8-4.6l-5.8-3.8l-5.7-3.1l-5.6-2.3l-5.6-1.7l-5.5-0.9l-5.5-0.3l-1 0.1M272.5 514.2l-6.1-11.4l-6-10.7l-6.1-9.8l-6-9.1l-6-8.4l-6-7.6l-5.9-6.8l-5.9-6l-5.8-5.3l-5.9-4.5l-5.7-3.8l-5.7-3.1l-5.7-2.3l-5.5-1.6l-5.6-0.9l-5.4-0.3l-0.4 0.1M274.7 513.5l-6.1-11.4l-6-10.6l-6.1-9.8l-6-9.1l-6-8.3l-5.9-7.5l-6-6.8l-5.8-6l-5.9-5.2l-5.8-4.5l-5.7-3.8l-5.7-3l-5.7-2.3l-5.6-1.6l-5.5-0.8l-5.3-0.2M276.9 512.7l-6.1-11.3l-6-10.5l-6-9.8l-6.1-9l-5.9-8.2l-6-7.5l-5.9-6.7l-5.9-6l-5.8-5.2l-5.8-4.5l-5.8-3.7l-5.7-3l-5.6-2.2l-5.6-1.6l-5.5-0.8l-4.7-0.2M279.1 512.1l-6.1-11.3l-6-10.5l-6-9.7l-6-8.9l-6-8.2l-6-7.5l-5.9-6.7l-5.9-5.9l-5.8-5.1l-5.8-4.5l-5.8-3.7l-5.7-2.9l-5.6-2.2l-5.6-1.6l-5.5-0.8l-4-0.1M281.2 511.4l-6-11.2l-6-10.4l-6-9.7l-6-8.9l-6-8.1l-6-7.4l-5.9-6.7l-5.8-5.8l-5.9-5.2l-5.8-4.4l-5.7-3.6l-5.7-2.9l-5.7-2.2l-5.5-1.5l-5.6-0.8l-3.4-0.1M283.4 510.8l-6-11.2l-6.1-10.3l-6-9.7l-6-8.8l-5.9-8.1l-6-7.4l-5.9-6.6l-5.8-5.8l-5.9-5.1l-5.8-4.3l-5.7-3.6l-5.7-2.9l-5.6-2.2l-5.6-1.4l-5.5-0.8l-2.9-0.1M285.6 510.2l-6.1-11.1l-6-10.3l-6-9.6l-6-8.8l-5.9-8.1l-6-7.3l-5.9-6.5l-5.8-5.8l-5.9-5.1l-5.8-4.3l-5.7-3.5l-5.7-2.9l-5.6-2.1l-5.6-1.4l-5.5-0.8l-2.2-0.1M287.7 509.6l-6-11l-6-10.3l-6-9.5l-6-8.8l-6-8l-5.9-7.2l-5.9-6.5l-5.8-5.8l-5.9-5l-5.8-4.3l-5.7-3.5l-5.7-2.8l-5.6-2.1l-5.6-1.4l-5.5-0.7l-1.6-0.1M289.8 509l-6-10.9l-6-10.3l-6-9.4l-5.9-8.7l-6-8l-5.9-7.2l-5.9-6.5l-5.9-5.7l-5.8-4.9l-5.8-4.3l-5.7-3.5l-5.7-2.8l-5.6-2l-5.6-1.4l-5.5-0.7l-1 0M291.9 508.5l-6-10.9l-6-10.2l-5.9-9.4l-6-8.7l-5.9-7.9l-6-7.1l-5.8-6.4l-5.9-5.7l-5.8-4.9l-5.8-4.2l-5.7-3.5l-5.7-2.8l-5.6-2l-5.6-1.3l-5.5-0.7l-0.4 0M294 508l-5.9-10.8l-6-10.2l-6-9.3l-6-8.6l-5.9-7.9l-5.9-7.1l-5.9-6.4l-5.8-5.6l-5.9-4.9l-5.7-4.2l-5.8-3.4l-5.6-2.7l-5.7-2l-5.5-1.3l-5.3-0.6M296.1 507.5l-5.9-10.8l-6-10l-6-9.3l-5.9-8.6l-6-7.8l-5.9-7.1l-5.8-6.3l-5.9-5.6l-5.8-4.9l-5.8-4.1l-5.7-3.4l-5.7-2.7l-5.6-2l-5.6-1.2l-4.6-0.6M298.2 507.1l-5.9-10.8l-6-10l-6-9.2l-5.9-8.6l-5.9-7.7l-5.9-7.1l-5.9-6.2l-5.9-5.6l-5.8-4.8l-5.7-4.1l-5.7-3.4l-5.7-2.6l-5.6-1.9l-5.6-1.3l-4-0.5M300.3 506.7l-6-10.7l-5.9-10l-6-9.2l-5.9-8.5l-5.9-7.7l-5.9-7l-5.9-6.2l-5.8-5.5l-5.8-4.8l-5.8-4.1l-5.7-3.3l-5.7-2.6l-5.6-1.9l-5.6-1.2l-3.3-0.4M302.4 506.3l-6-10.7l-5.9-9.9l-6-9.1l-5.9-8.5l-5.9-7.6l-5.9-7l-5.9-6.2l-5.8-5.5l-5.8-4.7l-5.8-4l-5.7-3.3l-5.6-2.6l-5.7-1.9l-5.5-1.2l-2.7-0.3M304.4 505.9l-5.9-10.6l-6-9.8l-5.9-9.2l-5.9-8.3l-5.9-7.7l-5.9-6.9l-5.9-6.1l-5.8-5.5l-5.8-4.7l-5.7-3.9l-5.8-3.3l-5.6-2.5l-5.6-1.9l-5.6-1.2l-2-0.2M306.5 505.6l-6-10.6l-5.9-9.8l-5.9-9l-6-8.4l-5.9-7.6l-5.8-6.8l-5.9-6.1l-5.8-5.4l-5.8-4.7l-5.7-3.9l-5.8-3.3l-5.6-2.5l-5.6-1.8l-5.6-1.1l-1.4-0.2M308.5 505.3l-5.9-10.5l-6-9.8l-5.9-9l-5.9-8.3l-5.9-7.5l-5.9-6.9l-5.8-6l-5.8-5.4l-5.8-4.6l-5.7-3.9l-5.8-3.2l-5.6-2.5l-5.6-1.8l-5.6-1.1l-0.7-0.1M310.5 505l-5.9-10.5l-5.9-9.7l-5.9-9l-5.9-8.2l-5.9-7.5l-5.9-6.8l-5.8-6l-5.8-5.3l-5.8-4.6l-5.8-3.9l-5.7-3.1l-5.6-2.5l-5.6-1.8l-5.6-1l-0.1 0M312.5 504.7l-5.9-10.4l-5.9-9.6l-5.9-9l-5.9-8.2l-5.9-7.4l-5.8-6.7l-5.9-6l-5.8-5.3l-5.8-4.6l-5.7-3.8l-5.7-3.1l-5.6-2.5l-5.7-1.7l-4.9-1M314.5 504.5l-5.9-10.4l-5.9-9.6l-5.9-8.9l-5.9-8.1l-5.8-7.4l-5.9-6.7l-5.8-6l-5.8-5.2l-5.8-4.5l-5.7-3.8l-5.7-3.1l-5.7-2.4l-5.6-1.7l-4.3-0.9M316.5 504.2l-5.9-10.2l-5.9-9.6l-5.9-8.8l-5.8-8.1l-5.9-7.4l-5.9-6.6l-5.8-6l-5.8-5.1l-5.7-4.5l-5.8-3.8l-5.7-3.1l-5.6-2.3l-5.6-1.7l-3.7-0.7M318.5 504l-5.9-10.2l-5.9-9.5l-5.9-8.8l-5.8-8l-5.9-7.4l-5.8-6.6l-5.9-5.8l-5.7-5.2l-5.8-4.4l-5.7-3.8l-5.7-3l-5.7-2.3l-5.6-1.7l-2.9-0.6M320.5 503.9l-5.9-10.2l-5.9-9.5l-5.9-8.7l-5.8-8l-5.9-7.3l-5.8-6.5l-5.8-5.9l-5.8-5.1l-5.8-4.4l-5.7-3.7l-5.7-3l-5.6-2.3l-5.6-1.6l-2.3-0.5M322.5 503.7l-5.9-10.1l-5.9-9.4l-5.9-8.7l-5.8-8l-5.9-7.2l-5.8-6.5l-5.8-5.8l-5.8-5.1l-5.8-4.4l-5.7-3.6l-5.7-3l-5.6-2.3l-5.6-1.6l-1.6-0.3M324.4 503.6l-5.9-10.1l-5.8-9.3l-5.9-8.7l-5.9-7.9l-5.8-7.2l-5.8-6.5l-5.8-5.7l-5.8-5.1l-5.7-4.3l-5.8-3.6l-5.6-3l-5.7-2.2l-5.6-1.6l-0.9-0.2M326.3 503.5l-5.8-10l-5.9-9.3l-5.8-8.6l-5.9-7.9l-5.8-7.1l-5.8-6.5l-5.8-5.7l-5.8-5l-5.7-4.3l-5.8-3.6l-5.6-2.9l-5.7-2.2l-5.6-1.6l-0.2 0M328.3 503.4l-5.9-9.9l-5.8-9.3l-5.9-8.6l-5.8-7.8l-5.9-7.1l-5.8-6.4l-5.8-5.7l-5.7-4.9l-5.8-4.3l-5.7-3.6l-5.6-2.8l-5.7-2.2l-5.2-1.4M330.2 503.4l-5.8-9.9l-5.9-9.3l-5.8-8.5l-5.9-7.7l-5.8-7.1l-5.8-6.4l-5.8-5.6l-5.7-4.9l-5.8-4.3l-5.7-3.5l-5.6-2.8l-5.7-2.2l-4.5-1.2M332.1 503.4l-5.8-9.9l-5.9-9.2l-5.8-8.4l-5.8-7.8l-5.8-7l-5.8-6.3l-5.8-5.6l-5.8-4.9l-5.7-4.2l-5.7-3.5l-5.7-2.8l-5.6-2.2l-3.8-1M334 503.4l-5.8-9.9l-5.9-9.1l-5.8-8.4l-5.8-7.7l-5.8-7l-5.8-6.3l-5.8-5.5l-5.7-4.9l-5.8-4.1l-5.6-3.5l-5.7-2.8l-5.6-2.1l-3.2-0.9" fill="none" stroke="#000" stroke-width="1.20" stroke-linejoin="round"/>
<ellipse cx="199.9" cy="387.6" rx="3.4" ry="3.2" fill="#5c1c16" stroke="#2a0806" stroke-width=".5"/>
<ellipse cx="199.9" cy="399.9" rx="3.4" ry="2.4" fill="#5c1c16" stroke="#2a0806" stroke-width=".5"/>
<ellipse cx="199.9" cy="407.6" rx="3.4" ry="2.6" fill="#5c1c16" stroke="#2a0806" stroke-width=".5"/>
<ellipse cx="199.9" cy="411.4" rx="3.4" ry="2.6" fill="#5c1c16" stroke="#2a0806" stroke-width=".5"/>
<ellipse cx="199.9" cy="417.4" rx="3.4" ry="2.4" fill="#5c1c16" stroke="#2a0806" stroke-width=".5"/>
<text x="51.8" y="393.0" text-anchor="end" class="tk">206</text><text x="53.0" y="427.1" text-anchor="end" class="tk">194.25</text><text x="55.1" y="460.6" text-anchor="end" class="tk">182.5</text><text x="56.7" y="494.9" text-anchor="end" class="tk">170.75</text><text x="59.0" y="528.0" text-anchor="end" class="tk">159</text><text x="60.4" y="570.7" text-anchor="end" class="tk">37.00</text><text x="98.8" y="591.4" text-anchor="end" class="tk">34.50</text><text x="130.3" y="606.2" text-anchor="end" class="tk">32.00</text><text x="162.5" y="621.9" text-anchor="end" class="tk">29.50</text><text x="195.9" y="637.5" text-anchor="end" class="tk">27.00</text><text x="207.2" y="637.6" class="tk">1.00</text><text x="238.9" y="621.9" class="tk">3.75</text><text x="271.9" y="606.2" class="tk">6.50</text><text x="303.8" y="591.4" class="tk">9.25</text><text x="336.9" y="575.4" class="tk">12.00</text><text x="82.2" y="626.9" text-anchor="middle" class="ti">D: Tempearture</text><text x="316.3" y="631.2" text-anchor="middle" class="ti">A: KH2PO4</text><text transform="translate(12.7 477.5) rotate(-90)" text-anchor="middle" class="tz">Amorphadiene (mg/l)</text><text x="204.8" y="664.6" text-anchor="middle" class="cap">(c)</text></g>
<g id="pd"><path d="M614.0 514.1L614.0 353.5M475.7 383.6L614.0 353.5M614.0 353.5L752.2 383.6" fill="none" stroke="#000" stroke-width="1.5"/>
<path d="M484.2 562.1L614.0 623.5L743.8 562.1L614.0 514.1z" fill="#ffff00" stroke="#000" stroke-width="1.3" stroke-linejoin="round"/>
<g fill="none" stroke-linecap="round" clip-path="url(#fld)">
<clipPath id="fld"><path d="M484.2 562.1L614.0 623.5L743.8 562.1L614.0 514.1z"/></clipPath>
<path d="M612.5 514.7l3.2 0.9l5 1.4l4.9 1.5" stroke="#a0f000" stroke-width="4.2" opacity=".5"/>
<path d="M612.5 514.7l3.2 0.9l5 1.4l4.9 1.5" stroke="#2bbb27" stroke-width="1.60"/>
<path d="M618.7 621.3l-6.3-2.2l-4.1-1.5l-6.1-2.3l-5.9-2.2l-4.4-1.7l-5.3-2.1l-5.7-2.3l-5.6-2.2l-5.4-2.3" stroke="#a0f000" stroke-width="4.2" opacity=".5"/>
<path d="M618.7 621.3l-6.3-2.2l-4.1-1.5l-6.1-2.3l-5.9-2.2l-4.4-1.7l-5.3-2.1l-5.7-2.3l-5.6-2.2l-5.4-2.3" stroke="#33bf26" stroke-width="1.60"/>
<path d="M505.4 572.2l-3.5-1.9l-4-2.3l-4-2.2l-3.8-2.2l-2.5-1.5" stroke="#a0f000" stroke-width="4.2" opacity=".5"/>
<path d="M505.4 572.2l-3.5-1.9l-4-2.3l-4-2.2l-3.8-2.2l-2.5-1.5" stroke="#33bf26" stroke-width="1.60"/>
<path d="M608.7 516.1l5 1.4l3.3 0.9l4.9 1.5l5 1.4l3.9 1.2l4.3 1.4l4.9 1.5l5 1.6l4.9 1.6l3.3 1l4.9 1.7l5 1.7l4.9 1.7l4.9 1.7l5 1.7l5 1.8l4.9 1.9l5 1.8l5 1.9l4.9 1.9l5 2l5 2l5 2l5.1 2l3.3 1.4l5 2.2l5.1 2.1l5 2.2" stroke="#a0f000" stroke-width="4.2" opacity=".5"/>
<path d="M608.7 516.1l5 1.4l3.3 0.9l4.9 1.5l5 1.4l3.9 1.2l4.3 1.4l4.9 1.5l5 1.6l4.9 1.6l3.3 1l4.9 1.7l5 1.7l4.9 1.7l4.9 1.7l5 1.7l5 1.8l4.9 1.9l5 1.8l5 1.9l4.9 1.9l5 2l5 2l5 2l5.1 2l3.3 1.4l5 2.2l5.1 2.1l5 2.2" stroke="#33bf26" stroke-width="1.60"/>
<path d="M623.7 619l-4.2-1.5l-6.2-2.2l-6.1-2.2l-4-1.5l-6-2.2l-5.8-2.3l-5.7-2.2l-3.7-1.5l-5.5-2.2l-5.4-2.3l-5.4-2.2l-5.2-2.2l-5.1-2.3l-5-2.2l-5-2.2l-4.8-2.3l-4.7-2.2l-4.7-2.3l-4.5-2.2l-4.5-2.2l-4.3-2.3l-4.3-2.2l-4.1-2.2l-4.1-2.2l-2.7-1.5l-3.9-2.2l-3.8-2.3l-3.7-2.2" stroke="#a0f000" stroke-width="4.2" opacity=".5"/>
<path d="M623.7 619l-4.2-1.5l-6.2-2.2l-6.1-2.2l-4-1.5l-6-2.2l-5.8-2.3l-5.7-2.2l-3.7-1.5l-5.5-2.2l-5.4-2.3l-5.4-2.2l-5.2-2.2l-5.1-2.3l-5-2.2l-5-2.2l-4.8-2.3l-4.7-2.2l-4.7-2.3l-4.5-2.2l-4.5-2.2l-4.3-2.3l-4.3-2.2l-4.1-2.2l-4.1-2.2l-2.7-1.5l-3.9-2.2l-3.8-2.3l-3.7-2.2" stroke="#3bc224" stroke-width="1.60"/>
<path d="M604.7 517.6l4.4 1.2l3.9 1.1l5 1.5l3.9 1.1l4.4 1.3l4.9 1.5l5 1.6l3.3 1l5 1.6l4.9 1.7l5 1.6l4.9 1.7l5 1.7l3.7 1.3l4.5 1.6l5 1.8l4.9 1.8l5 1.9l5 1.9l4.9 1.9l3.3 1.3l5 2l5 2l5 2.1l5 2.1l5 2.1l3.3 1.5l5 2.2" stroke="#a0f000" stroke-width="4.2" opacity=".5"/>
<path d="M604.7 517.6l4.4 1.2l3.9 1.1l5 1.5l3.9 1.1l4.4 1.3l4.9 1.5l5 1.6l3.3 1l5 1.6l4.9 1.7l5 1.6l4.9 1.7l5 1.7l3.7 1.3l4.5 1.6l5 1.8l4.9 1.8l5 1.9l5 1.9l4.9 1.9l3.3 1.3l5 2l5 2l5 2.1l5 2.1l5 2.1l3.3 1.5l5 2.2" stroke="#3bc224" stroke-width="1.60"/>
<path d="M629.3 616.3l-5.3-1.7l-5.2-1.9l-6.2-2.1l-4-1.5l-6-2.2l-5.8-2.2l-5.7-2.2l-3.8-1.4l-5.5-2.2l-5.5-2.2l-5.3-2.2l-5.2-2.3l-5.2-2.2l-4.6-2l-3.7-1.7l-4.9-2.2l-4.7-2.2l-4.7-2.2l-3-1.5l-4.5-2.2l-4.4-2.3l-4.3-2.2l-4.2-2.2l-4.1-2.2l-4-2.2l-2.6-1.5l-3.8-2.3l-3.8-2.2l-2.4-1.5" stroke="#a0f000" stroke-width="4.2" opacity=".5"/>
<path d="M629.3 616.3l-5.3-1.7l-5.2-1.9l-6.2-2.1l-4-1.5l-6-2.2l-5.8-2.2l-5.7-2.2l-3.8-1.4l-5.5-2.2l-5.5-2.2l-5.3-2.2l-5.2-2.3l-5.2-2.2l-4.6-2l-3.7-1.7l-4.9-2.2l-4.7-2.2l-4.7-2.2l-3-1.5l-4.5-2.2l-4.4-2.3l-4.3-2.2l-4.2-2.2l-4.1-2.2l-4-2.2l-2.6-1.5l-3.8-2.3l-3.8-2.2l-2.4-1.5" stroke="#43c623" stroke-width="1.60"/>
<path d="M600 519.3l5.1 1.4l3.4 0.9l5 1.5l4.1 1.1l4.3 1.3l5 1.5l5 1.6l3.3 1l5 1.6l4.9 1.7l5 1.6l5 1.7l3.3 1.1l4.9 1.8l5 1.8l5 1.8l4.9 1.8l5 1.9l4.9 1.9l5 2l5 2l3.3 1.3l4.9 2.1l5 2.1l4.9 2.1l5 2.2l3.3 1.4l5 2.3" stroke="#a0f000" stroke-width="4.2" opacity=".5"/>
<path d="M600 519.3l5.1 1.4l3.4 0.9l5 1.5l4.1 1.1l4.3 1.3l5 1.5l5 1.6l3.3 1l5 1.6l4.9 1.7l5 1.6l5 1.7l3.3 1.1l4.9 1.8l5 1.8l5 1.8l4.9 1.8l5 1.9l4.9 1.9l5 2l5 2l3.3 1.3l4.9 2.1l5 2.1l4.9 2.1l5 2.2l3.3 1.4l5 2.3" stroke="#43c623" stroke-width="1.60"/>
<path d="M635.2 613.5l-6.4-2.1l-4.2-1.4l-6.2-2.1l-6.1-2.1l-4-1.4l-5.8-2.2l-5.8-2.1l-3.8-1.5l-5.6-2.2l-5.4-2.1l-5.4-2.2l-5.2-2.2l-5.2-2.2l-5-2.2l-4.9-2.2l-3.3-1.4l-4.5-2.2l-3.3-1.5l-4.6-2.2l-4.5-2.2l-4.3-2.3l-4.3-2.2l-4.2-2.2l-4-2.2l-2.7-1.5l-3.8-2.2l-3.8-2.2l-2.5-1.5l-3.5-2.3" stroke="#a0f000" stroke-width="4.2" opacity=".5"/>
<path d="M635.2 613.5l-6.4-2.1l-4.2-1.4l-6.2-2.1l-6.1-2.1l-4-1.4l-5.8-2.2l-5.8-2.1l-3.8-1.5l-5.6-2.2l-5.4-2.1l-5.4-2.2l-5.2-2.2l-5.2-2.2l-5-2.2l-4.9-2.2l-3.3-1.4l-4.5-2.2l-3.3-1.5l-4.6-2.2l-4.5-2.2l-4.3-2.3l-4.3-2.2l-4.2-2.2l-4-2.2l-2.7-1.5l-3.8-2.2l-3.8-2.2l-2.5-1.5l-3.5-2.3" stroke="#4bca21" stroke-width="1.60"/>
<path d="M595 521.1l5.2 1.4l3.6 1l4.9 1.4l5.1 1.4l3.4 1l5 1.5l5 1.6l3.4 1l5 1.6l5 1.7l5 1.6l5 1.7l4.9 1.8l3.4 1.1l4.9 1.8l5 1.9l4.9 1.8l5 1.9l4.9 2l5 1.9l3.3 1.4l4.9 2l4.9 2.1l4.9 2.2l5 2.1l3.2 1.5l4.9 2.3l4.9 2.3" stroke="#a0f000" stroke-width="4.2" opacity=".5"/>
<path d="M595 521.1l5.2 1.4l3.6 1l4.9 1.4l5.1 1.4l3.4 1l5 1.5l5 1.6l3.4 1l5 1.6l5 1.7l5 1.6l5 1.7l4.9 1.8l3.4 1.1l4.9 1.8l5 1.9l4.9 1.8l5 1.9l4.9 2l5 1.9l3.3 1.4l4.9 2l4.9 2.1l4.9 2.2l5 2.1l3.2 1.5l4.9 2.3l4.9 2.3" stroke="#4bca21" stroke-width="1.60"/>
<path d="M641.4 610.6l-4.3-1.4l-6.4-2l-4.3-1.4l-6.1-2l-6.1-2.1l-3.9-1.4l-5.9-2.1l-5.7-2.1l-5.2-2l-4.1-1.6l-5.4-2.1l-5.3-2.2l-5.2-2.2l-5.1-2.1l-4.9-2.2l-4.9-2.2l-4.7-2.2l-4.6-2.2l-4.6-2.2l-4.4-2.2l-4.3-2.2l-4.2-2.2l-2.7-1.5l-4-2.2l-3.9-2.2l-3.7-2.2l-2.5-1.5l-3.5-2.3" stroke="#a0f000" stroke-width="4.2" opacity=".5"/>
<path d="M641.4 610.6l-4.3-1.4l-6.4-2l-4.3-1.4l-6.1-2l-6.1-2.1l-3.9-1.4l-5.9-2.1l-5.7-2.1l-5.2-2l-4.1-1.6l-5.4-2.1l-5.3-2.2l-5.2-2.2l-5.1-2.1l-4.9-2.2l-4.9-2.2l-4.7-2.2l-4.6-2.2l-4.6-2.2l-4.4-2.2l-4.3-2.2l-4.2-2.2l-2.7-1.5l-4-2.2l-3.9-2.2l-3.7-2.2l-2.5-1.5l-3.5-2.3" stroke="#52ce20" stroke-width="1.60"/>
<path d="M589.6 523.1l4.1 1.1l4.7 1.2l5 1.4l3.6 1l5.1 1.4l3.5 1l5 1.6l5.1 1.5l4.5 1.5l3.9 1.2l5 1.7l5.1 1.7l4.9 1.7l5 1.8l5 1.8l5 1.8l3.3 1.3l3.3 1.3l4.9 1.9l4.9 2l4.9 2l4.9 2.1l4.9 2.1l4.9 2.1l3.2 1.5l4.9 2.3l4.8 2.3l4.3 2l3.8 1.9" stroke="#a0f000" stroke-width="4.2" opacity=".5"/>
<path d="M589.6 523.1l4.1 1.1l4.7 1.2l5 1.4l3.6 1l5.1 1.4l3.5 1l5 1.6l5.1 1.5l4.5 1.5l3.9 1.2l5 1.7l5.1 1.7l4.9 1.7l5 1.8l5 1.8l5 1.8l3.3 1.3l3.3 1.3l4.9 1.9l4.9 2l4.9 2l4.9 2.1l4.9 2.1l4.9 2.1l3.2 1.5l4.9 2.3l4.8 2.3l4.3 2l3.8 1.9" stroke="#52ce20" stroke-width="1.60"/>
<path d="M647.6 607.6l-6.6-1.9l-4.4-1.3l-6.4-2l-4.1-1.3l-6.2-2l-5.6-1.9l-4.3-1.5l-5.7-2.1l-5.7-2.1l-3.7-1.4l-5.4-2.1l-5.4-2.1l-5.2-2.1l-5-2.2l-5-2.1l-4.8-2.2l-4.8-2.2l-4.6-2.2l-4.5-2.2l-4.3-2.1l-4.3-2.3l-3.4-1.8l-3.4-1.8l-3.9-2.3l-3.8-2.2l-2.5-1.5l-3.6-2.3l-2.3-1.5l-3.3-2.3" stroke="#a0f000" stroke-width="4.2" opacity=".5"/>
<path d="M647.6 607.6l-6.6-1.9l-4.4-1.3l-6.4-2l-4.1-1.3l-6.2-2l-5.6-1.9l-4.3-1.5l-5.7-2.1l-5.7-2.1l-3.7-1.4l-5.4-2.1l-5.4-2.1l-5.2-2.1l-5-2.2l-5-2.1l-4.8-2.2l-4.8-2.2l-4.6-2.2l-4.5-2.2l-4.3-2.1l-4.3-2.3l-3.4-1.8l-3.4-1.8l-3.9-2.3l-3.8-2.2l-2.5-1.5l-3.6-2.3l-2.3-1.5l-3.3-2.3" stroke="#59d11e" stroke-width="1.60"/>
<path d="M584.2 525.2l3.6 0.8l4.8 1.2l4.1 1.1l5.2 1.4l3.6 1l5.2 1.4l3.4 1l5.1 1.6l5.1 1.6l3.7 1.2l4.8 1.5l5 1.7l5.1 1.7l5 1.8l4.9 1.8l5 1.9l5 1.8l4.9 2l4.9 2l4.9 2l4.9 2.1l4.8 2.1l4.9 2.2l3.2 1.4l4.8 2.3l4.7 2.3l3.2 1.6l4.7 2.4l4.6 2.4" stroke="#a0f000" stroke-width="4.2" opacity=".5"/>
<path d="M584.2 525.2l3.6 0.8l4.8 1.2l4.1 1.1l5.2 1.4l3.6 1l5.2 1.4l3.4 1l5.1 1.6l5.1 1.6l3.7 1.2l4.8 1.5l5 1.7l5.1 1.7l5 1.8l4.9 1.8l5 1.9l5 1.8l4.9 2l4.9 2l4.9 2l4.9 2.1l4.8 2.1l4.9 2.2l3.2 1.4l4.8 2.3l4.7 2.3l3.2 1.6l4.7 2.4l4.6 2.4" stroke="#59d11e" stroke-width="1.60"/>
<path d="M658.7 602.4l-4.7-1.1l-5.3-1.4l-6-1.6l-4.4-1.2l-6.4-1.8l-4.2-1.3l-6.1-1.9l-5.5-1.8l-4.3-1.5l-5.7-2l-5.6-2.1l-3.6-1.3l-5.3-2.1l-5.2-2.1l-5.1-2.1l-4.9-2.1l-4.8-2.2l-4.6-2.1l-4.5-2.2l-4.4-2.2l-2.8-1.5l-4.2-2.2l-4-2.2l-3.6-2.1l-2.7-1.7l-3.5-2.3l-2.3-1.6l-3.3-2.3l-2-1.6l-2.2-1.8" stroke="#f2c000" stroke-width="0.90"/>
<path d="M573.9 528.9l4.2 0.9l5.5 1.2l3.7 0.8l4.9 1.2l4.3 1.1l4.4 1.1l4.6 1.3l5.3 1.5l3.5 1l5.2 1.6l5.2 1.7l3.4 1.1l5.1 1.7l5 1.8l5 1.8l5 1.9l4.9 1.9l4.9 1.9l4.9 2l4.9 2.1l4.8 2.1l4.3 2l3.6 1.7l4.6 2.3l4.7 2.4l3 1.6l4.5 2.5l3 1.7l4.4 2.6l2.8 1.9" stroke="#f2c000" stroke-width="0.90"/>
<path d="M669.3 597.4l-5.3-0.8l-5-0.9l-5-1l-7-1.6l-4.5-1.1l-4.4-1.1l-6.4-1.8l-4.2-1.2l-6.1-1.9l-4.4-1.4l-5.3-1.8l-5.6-1.9l-5.4-2l-3.6-1.4l-5.1-2.1l-5-2l-4.9-2.1l-4.7-2.2l-4.5-2.1l-3-1.5l-4.2-2.2l-4.1-2.2l-3.9-2.3l-2.5-1.5l-3.6-2.4l-2.3-1.6l-2.9-2.1l-2.2-1.9l-1.8-1.7l-1.7-1.7l-1.4-1.9l-1.1-1.8" stroke="#f2c000" stroke-width="0.90"/>
<path d="M563.2 532.9l4.7 0.5l4.4 0.6l4.3 0.7l4.1 0.7l5 1l4.9 1.1l3.8 0.9l5.6 1.4l3.7 1l5.4 1.5l3.6 1l5.2 1.7l5.2 1.6l3.5 1.2l5.1 1.8l5 1.8l5 1.9l4.9 1.9l4.9 2l4.8 2.1l4.8 2.1l3.1 1.5l4.6 2.2l4.6 2.4l3 1.6l4.3 2.5l2.9 1.7l4.2 2.7l2.6 1.8l2.6 2l2.6 2.2" stroke="#f2c000" stroke-width="0.90"/>
<path d="M620.5 555.5l5.1 1.8l4.9 2l4.8 2.1l3.3 1.5l4.2 2.2l4.2 2.4l2.6 1.7l2.5 1.9l2.3 2.3l1.2 2l-0.4 2.4l-5.5 1.7l-3.9 0.1l-5.2-0.5l-5-0.8l-5.6-1.2l-5.4-1.3l-4.1-1.1l-5.7-1.8l-5.5-1.9l-3.7-1.4l-4.9-2l-4.7-2l-3.1-1.5l-4.2-2.2l-4-2.3l-2.4-1.7l-2.7-2.1l-2.2-2.2l-0.9-1.8l0.1-1.6l3.5-2.1l5.5-0.4l3.7 0.3l4.6 0.6l5.7 1l4.3 1l3.9 1l5.5 1.6l5.4 1.7" stroke="#f2c000" stroke-width="0.90"/>
</g>
<path d="M614.0 623.5l-1.5 2.2M614.0 623.5l1.5 2.2M578.3 606.6l-1.5 2.2M649.7 606.6l1.5 2.2M544.9 590.8l-1.5 2.2M683.1 590.8l1.5 2.2M513.6 576.0l-1.5 2.2M714.4 576.0l1.5 2.2M484.2 562.1l-1.5 2.2M743.8 562.1l1.5 2.2" stroke="#000" stroke-width="1" fill="none"/>
<path d="M484.2 562.1L475.7 383.6M743.8 562.1L752.2 383.6" fill="none" stroke="#000" stroke-width="1.6"/>
<path d="M476.0 383.6h-1.6M477.7 418.7h-1.6M479.3 453.0h-1.6M480.9 486.5h-1.6M482.5 519.2h-1.6" stroke="#c00000" stroke-width="1.4" fill="none"/>
<path d="M542.8 515.6V529.8" stroke="#000" stroke-width="1.5"/>
<circle cx="542.8" cy="531.3" r="1.9" fill="#fff" stroke="#000" stroke-width="1.5"/>
<path d="M676.9 470.6V487.7" stroke="#000" stroke-width="1.5"/>
<circle cx="676.9" cy="489.2" r="1.9" fill="#fff" stroke="#000" stroke-width="1.5"/>
<g stroke-width=".5" stroke-linejoin="round">
<path d="M641.3 458.7l6.4 17.2l-6.9-0.6l-6.5-17.2z" fill="#005940" stroke="#005940"/>
<path d="M634.8 443.2l6.5 15.5l-7-0.6l-6.6-15.4z" fill="#005a22" stroke="#005a22"/>
<path d="M648.4 459.5l6.3 17.4l-7-1l-6.4-17.2z" fill="#005a3e" stroke="#005a3e"/>
<path d="M641.9 444l6.5 15.5l-7.1-0.8l-6.5-15.5z" fill="#005a20" stroke="#005a20"/>
<path d="M655.6 460.6l6.2 17.4l-7.1-1.1l-6.3-17.4z" fill="#005a3c" stroke="#005a3c"/>
<path d="M564 394.8l7.5 2.4l-6.7 0.7l-7.5-2.4z" fill="#995900" stroke="#995900"/>
<path d="M649.1 445.1l6.5 15.5l-7.2-1.1l-6.5-15.5z" fill="#005a1f" stroke="#005a1f"/>
<path d="M662.8 462l6.3 17.5l-7.3-1.5l-6.2-17.4z" fill="#005a3b" stroke="#005a3b"/>
<path d="M556.4 394.8l7.6 0l-6.7 0.7l-7.6-0.1z" fill="#9b4500" stroke="#9b4500"/>
<path d="M570.8 394.5l7.5 2.4l-6.8 0.3l-7.5-2.4z" fill="#8f4500" stroke="#8f4500"/>
<path d="M642.4 431.6l6.7 13.5l-7.2-1.1l-6.7-13.5z" fill="#01560e" stroke="#01560e"/>
<path d="M656.4 446.5l6.4 15.5l-7.2-1.4l-6.5-15.5z" fill="#005b1d" stroke="#005b1d"/>
<path d="M670.2 463.7l6.2 17.5l-7.3-1.7l-6.3-17.5z" fill="#005b3a" stroke="#005b3a"/>
<path d="M548.8 397.3l7.6-2.5l-6.7 0.6l-7.6 2.4z" fill="#a54400" stroke="#a54400"/>
<path d="M563.2 394.5l7.6 0l-6.8 0.3l-7.6 0z" fill="#902e00" stroke="#902e00"/>
<path d="M663.8 448.1l6.4 15.6l-7.4-1.7l-6.4-15.5z" fill="#005b1c" stroke="#005b1c"/>
<path d="M677.6 465.7l6.2 17.5l-7.4-2l-6.2-17.5z" fill="#005b39" stroke="#005b39"/>
<path d="M577.7 394.4l7.5 2.3l-6.9 0.2l-7.5-2.4z" fill="#863200" stroke="#863200"/>
<path d="M649.8 432.9l6.6 13.6l-7.3-1.4l-6.7-13.5z" fill="#02560d" stroke="#02560d"/>
<path d="M541.1 402.2l7.7-4.9l-6.7 0.5l-7.6 4.9z" fill="#b95c00" stroke="#b95c00"/>
<path d="M555.6 397.1l7.6-2.6l-6.8 0.3l-7.6 2.5z" fill="#992c00" stroke="#992c00"/>
<path d="M570.2 394.5l7.5-0.1l-6.9 0.1l-7.6 0z" fill="#861b00" stroke="#861b00"/>
<path d="M584.8 394.6l7.5 2.3l-7.1-0.2l-7.5-2.3z" fill="#7e2300" stroke="#7e2300"/>
<path d="M657.2 434.5l6.6 13.6l-7.4-1.6l-6.6-13.6z" fill="#02560c" stroke="#02560c"/>
<path d="M671.3 450l6.3 15.7l-7.4-2l-6.4-15.6z" fill="#005b1c" stroke="#005b1c"/>
<path d="M685.2 468l6 17.5l-7.4-2.3l-6.2-17.5z" fill="#005b39" stroke="#005b39"/>
<path d="M533.4 409.7l7.7-7.5l-6.6 0.5l-7.7 7.4z" fill="#d19500" stroke="#d19500"/>
<path d="M547.9 402.1l7.7-5l-6.8 0.2l-7.7 4.9z" fill="#ad4300" stroke="#ad4300"/>
<path d="M562.5 397.1l7.7-2.6l-7 0l-7.6 2.6z" fill="#8f1700" stroke="#8f1700"/>
<path d="M577.2 394.8l7.6-0.2l-7.1-0.2l-7.5 0.1z" fill="#821300" stroke="#821300"/>
<path d="M591.9 395.1l7.5 2.3l-7.1-0.5l-7.5-2.3z" fill="#781500" stroke="#781500"/>
<path d="M606.6 398.1l7.4 4.7l-7.2-0.7l-7.4-4.7z" fill="#7b3300" stroke="#7b3300"/>
<path d="M650.4 423l6.8 11.5l-7.4-1.6l-6.9-11.5z" fill="#035001" stroke="#035001"/>
<path d="M664.8 436.4l6.5 13.6l-7.5-1.9l-6.6-13.6z" fill="#02560c" stroke="#02560c"/>
<path d="M678.9 452.3l6.3 15.7l-7.6-2.3l-6.3-15.7z" fill="#005b1c" stroke="#005b1c"/>
<path d="M692.8 470.5l6 17.6l-7.6-2.6l-6-17.5z" fill="#005b39" stroke="#005b39"/>
<path d="M525.8 419.8l7.6-10.1l-6.6 0.4l-7.7 9.9z" fill="#d2df00" stroke="#d2df00"/>
<path d="M540.2 409.7l7.7-7.6l-6.8 0.1l-7.7 7.5z" fill="#ca7700" stroke="#ca7700"/>
<path d="M554.8 402.2l7.7-5.1l-6.9 0l-7.7 5z" fill="#a22e00" stroke="#a22e00"/>
<path d="M569.5 397.4l7.7-2.6l-7-0.3l-7.7 2.6z" fill="#8d1400" stroke="#8d1400"/>
<path d="M584.3 395.3l7.6-0.2l-7.1-0.5l-7.6 0.2z" fill="#811200" stroke="#811200"/>
<path d="M599.2 395.9l7.4 2.2l-7.2-0.7l-7.5-2.3z" fill="#761200" stroke="#761200"/>
<path d="M614 399.2l7.3 4.6l-7.3-1l-7.4-4.7z" fill="#772b00" stroke="#772b00"/>
<path d="M658 424.9l6.8 11.5l-7.6-1.9l-6.8-11.5z" fill="#035001" stroke="#035001"/>
<path d="M672.4 438.6l6.5 13.7l-7.6-2.3l-6.5-13.6z" fill="#02560c" stroke="#02560c"/>
<path d="M686.6 454.8l6.2 15.7l-7.6-2.5l-6.3-15.7z" fill="#005b1c" stroke="#005b1c"/>
<path d="M700.6 473.4l5.9 17.6l-7.7-2.9l-6-17.6z" fill="#005b39" stroke="#005b39"/>
<path d="M518.1 432.4l7.7-12.6l-6.7 0.2l-7.6 12.4z" fill="#41b100" stroke="#41b100"/>
<path d="M532.5 419.9l7.7-10.2l-6.8 0l-7.6 10.1z" fill="#e2d700" stroke="#e2d700"/>
<path d="M576.7 398l7.6-2.7l-7.1-0.5l-7.7 2.6z" fill="#8c1300" stroke="#8c1300"/>
<path d="M591.6 396.1l7.6-0.2l-7.3-0.8l-7.6 0.2z" fill="#801000" stroke="#801000"/>
<path d="M694.4 457.7l6.2 15.7l-7.8-2.9l-6.2-15.7z" fill="#005b1c" stroke="#005b1c"/>
<path d="M708.4 476.6l5.9 17.7l-7.8-3.3l-5.9-17.6z" fill="#005b3a" stroke="#005b3a"/>
<path d="M547.1 409.9l7.7-7.7l-6.9-0.1l-7.7 7.6z" fill="#c06100" stroke="#c06100"/>
<path d="M561.8 402.6l7.7-5.2l-7-0.3l-7.7 5.1z" fill="#991b00" stroke="#991b00"/>
<path d="M606.5 397l7.5 2.2l-7.4-1.1l-7.4-2.2z" fill="#751100" stroke="#751100"/>
<path d="M621.4 400.5l7.4 4.6l-7.5-1.3l-7.3-4.6z" fill="#742500" stroke="#742500"/>
<path d="M665.7 427.1l6.7 11.5l-7.6-2.2l-6.8-11.5z" fill="#035001" stroke="#035001"/>
<path d="M680.2 441.2l6.4 13.6l-7.7-2.5l-6.5-13.7z" fill="#02560c" stroke="#02560c"/>
<path d="M510.5 447.5l7.6-15.1l-6.6 0l-7.6 15z" fill="#059d09" stroke="#059d09"/>
<path d="M524.8 432.6l7.7-12.7l-6.7-0.1l-7.7 12.6z" fill="#5bb900" stroke="#5bb900"/>
<path d="M539.3 420.2l7.8-10.3l-6.9-0.2l-7.7 10.2z" fill="#dcbd00" stroke="#dcbd00"/>
<path d="M554.1 410.5l7.7-7.9l-7-0.4l-7.7 7.7z" fill="#b74e00" stroke="#b74e00"/>
<path d="M568.9 403.4l7.8-5.4l-7.2-0.6l-7.7 5.2z" fill="#961600" stroke="#961600"/>
<path d="M583.9 399l7.7-2.9l-7.3-0.8l-7.6 2.7z" fill="#8b1100" stroke="#8b1100"/>
<path d="M598.9 397.3l7.6-0.3l-7.3-1.1l-7.6 0.2z" fill="#800f00" stroke="#800f00"/>
<path d="M614 398.4l7.4 2.1l-7.4-1.3l-7.5-2.2z" fill="#751000" stroke="#751000"/>
<path d="M629 402.2l7.3 4.5l-7.5-1.6l-7.4-4.6z" fill="#722100" stroke="#722100"/>
<path d="M658.8 417.8l6.9 9.3l-7.7-2.2l-6.9-9.3z" fill="#5c7200" stroke="#5c7200"/>
<path d="M673.5 429.7l6.7 11.5l-7.8-2.6l-6.7-11.5z" fill="#035001" stroke="#035001"/>
<path d="M688 444l6.4 13.7l-7.8-2.9l-6.4-13.6z" fill="#02570c" stroke="#02570c"/>
<path d="M702.3 460.9l6.1 15.7l-7.8-3.2l-6.2-15.7z" fill="#005b1d" stroke="#005b1d"/>
<path d="M716.3 480.1l5.8 17.7l-7.8-3.5l-5.9-17.7z" fill="#005b3c" stroke="#005b3c"/>
<path d="M502.9 465.2l7.6-17.7l-6.6-0.1l-7.5 17.5z" fill="#029c1d" stroke="#029c1d"/>
<path d="M517.1 447.9l7.7-15.3l-6.7-0.2l-7.6 15.1z" fill="#059d07" stroke="#059d07"/>
<path d="M531.6 433.1l7.7-12.9l-6.8-0.3l-7.7 12.7z" fill="#79c300" stroke="#79c300"/>
<path d="M546.3 420.9l7.8-10.4l-7-0.6l-7.8 10.3z" fill="#d7a700" stroke="#d7a700"/>
<path d="M561.2 411.3l7.7-7.9l-7.1-0.8l-7.7 7.9z" fill="#af3f00" stroke="#af3f00"/>
<path d="M576.2 404.4l7.7-5.4l-7.2-1l-7.8 5.4z" fill="#951500" stroke="#951500"/>
<path d="M591.3 400.2l7.6-2.9l-7.3-1.2l-7.7 2.9z" fill="#8a1000" stroke="#8a1000"/>
<path d="M606.4 398.8l7.6-0.4l-7.5-1.4l-7.6 0.3z" fill="#7f0e00" stroke="#7f0e00"/>
<path d="M621.6 400.1l7.4 2.1l-7.6-1.7l-7.4-2.1z" fill="#740f00" stroke="#740f00"/>
<path d="M636.7 404.1l7.3 4.6l-7.7-2l-7.3-4.5z" fill="#722000" stroke="#722000"/>
<path d="M666.7 420.4l6.8 9.3l-7.8-2.6l-6.9-9.3z" fill="#597100" stroke="#597100"/>
<path d="M681.4 432.5l6.6 11.5l-7.8-2.8l-6.7-11.5z" fill="#035001" stroke="#035001"/>
<path d="M696 447.2l6.3 13.7l-7.9-3.2l-6.4-13.7z" fill="#02570d" stroke="#02570d"/>
<path d="M710.3 464.4l6 15.7l-7.9-3.5l-6.1-15.7z" fill="#005b1f" stroke="#005b1f"/>
<path d="M724.4 483.9l5.7 17.7l-8-3.8l-5.8-17.7z" fill="#005b3d" stroke="#005b3d"/>
<path d="M495.4 485.4l7.5-20.2l-6.5-0.3l-7.5 20z" fill="#009839" stroke="#009839"/>
<path d="M509.5 465.8l7.6-17.9l-6.6-0.4l-7.6 17.7z" fill="#029c1a" stroke="#029c1a"/>
<path d="M553.4 421.9l7.8-10.6l-7.1-0.8l-7.8 10.4z" fill="#d39500" stroke="#d39500"/>
<path d="M614 400.5l7.6-0.4l-7.6-1.7l-7.6 0.4z" fill="#7f0e00" stroke="#7f0e00"/>
<path d="M674.6 423.3l6.8 9.2l-7.9-2.8l-6.8-9.3z" fill="#546f00" stroke="#546f00"/>
<path d="M718.4 468.2l6 15.7l-8.1-3.8l-6-15.7z" fill="#005b20" stroke="#005b20"/>
<path d="M732.5 488.1l5.6 17.7l-8-4.2l-5.7-17.7z" fill="#005a3f" stroke="#005a3f"/>
<path d="M523.9 448.6l7.7-15.5l-6.8-0.5l-7.7 15.3z" fill="#069d04" stroke="#069d04"/>
<path d="M538.5 433.9l7.8-13l-7-0.7l-7.7 12.9z" fill="#92cb00" stroke="#92cb00"/>
<path d="M568.4 412.4l7.8-8l-7.3-1l-7.7 7.9z" fill="#a93300" stroke="#a93300"/>
<path d="M583.5 405.7l7.8-5.5l-7.4-1.2l-7.7 5.4z" fill="#941400" stroke="#941400"/>
<path d="M598.7 401.7l7.7-2.9l-7.5-1.5l-7.6 2.9z" fill="#8a0f00" stroke="#8a0f00"/>
<path d="M629.2 402.1l7.5 2l-7.7-1.9l-7.4-2.1z" fill="#740f00" stroke="#740f00"/>
<path d="M644.5 406.4l7.2 4.5l-7.7-2.2l-7.3-4.6z" fill="#722000" stroke="#722000"/>
<path d="M689.4 435.7l6.6 11.5l-8-3.2l-6.6-11.5z" fill="#035002" stroke="#035002"/>
<path d="M704 450.7l6.3 13.7l-8-3.5l-6.3-13.7z" fill="#01570e" stroke="#01570e"/>
<path d="M488 508l7.4-22.6l-6.5-0.5l-7.3 22.4z" fill="#009163" stroke="#009163"/>
<path d="M501.9 486.1l7.6-20.3l-6.6-0.6l-7.5 20.2z" fill="#009934" stroke="#009934"/>
<path d="M516.2 466.7l7.7-18.1l-6.8-0.7l-7.6 17.9z" fill="#039c18" stroke="#039c18"/>
<path d="M545.5 435.1l7.9-13.2l-7.1-1l-7.8 13z" fill="#a8d100" stroke="#a8d100"/>
<path d="M560.5 423.1l7.9-10.7l-7.2-1.1l-7.8 10.6z" fill="#d08700" stroke="#d08700"/>
<path d="M606.3 403.6l7.7-3.1l-7.6-1.7l-7.7 2.9z" fill="#890f00" stroke="#890f00"/>
<path d="M621.7 402.6l7.5-0.5l-7.6-2l-7.6 0.4z" fill="#7f0e00" stroke="#7f0e00"/>
<path d="M667.6 416.4l7 6.9l-7.9-2.9l-7.1-6.9z" fill="#7f5b00" stroke="#7f5b00"/>
<path d="M682.6 426.5l6.8 9.2l-8-3.2l-6.8-9.2z" fill="#4d6d00" stroke="#4d6d00"/>
<path d="M712.2 454.5l6.2 13.7l-8.1-3.8l-6.3-13.7z" fill="#01570f" stroke="#01570f"/>
<path d="M726.6 472.3l5.9 15.8l-8.1-4.2l-6-15.7z" fill="#005a22" stroke="#005a22"/>
<path d="M740.7 492.6l5.5 17.7l-8.1-4.5l-5.6-17.7z" fill="#005a42" stroke="#005a42"/>
<path d="M530.8 449.6l7.7-15.7l-6.9-0.8l-7.7 15.5z" fill="#069d02" stroke="#069d02"/>
<path d="M575.7 413.9l7.8-8.2l-7.3-1.3l-7.8 8z" fill="#a42a00" stroke="#a42a00"/>
<path d="M591 407.4l7.7-5.7l-7.4-1.5l-7.8 5.5z" fill="#931300" stroke="#931300"/>
<path d="M637 404.4l7.5 2l-7.8-2.3l-7.5-2z" fill="#740f00" stroke="#740f00"/>
<path d="M652.4 409l7.2 4.5l-7.9-2.6l-7.2-4.5z" fill="#732300" stroke="#732300"/>
<path d="M697.5 439.2l6.5 11.5l-8-3.5l-6.6-11.5z" fill="#035002" stroke="#035002"/>
<path d="M494.5 509l7.4-22.9l-6.5-0.7l-7.4 22.6z" fill="#00915e" stroke="#00915e"/>
<path d="M508.6 487.2l7.6-20.5l-6.7-0.9l-7.6 20.3z" fill="#009930" stroke="#009930"/>
<path d="M523 467.8l7.8-18.2l-6.9-1l-7.7 18.1z" fill="#039c16" stroke="#039c16"/>
<path d="M537.8 450.9l7.7-15.8l-7-1.2l-7.7 15.7z" fill="#069d00" stroke="#069d00"/>
<path d="M552.7 436.5l7.8-13.4l-7.1-1.2l-7.9 13.2z" fill="#b8d600" stroke="#b8d600"/>
<path d="M567.8 424.7l7.9-10.8l-7.3-1.5l-7.9 10.7z" fill="#cd7c00" stroke="#cd7c00"/>
<path d="M598.5 409.3l7.8-5.7l-7.6-1.9l-7.7 5.7z" fill="#931300" stroke="#931300"/>
<path d="M614 405.8l7.7-3.2l-7.7-2.1l-7.7 3.1z" fill="#890f00" stroke="#890f00"/>
<path d="M629.5 405.1l7.5-0.7l-7.8-2.3l-7.5 0.5z" fill="#7f0e00" stroke="#7f0e00"/>
<path d="M660.3 412l7.3 4.4l-8-2.9l-7.2-4.5z" fill="#762800" stroke="#762800"/>
<path d="M675.6 419.7l7 6.8l-8-3.2l-7-6.9z" fill="#816200" stroke="#816200"/>
<path d="M690.8 430l6.7 9.2l-8.1-3.5l-6.8-9.2z" fill="#426a00" stroke="#426a00"/>
<path d="M705.7 443.1l6.5 11.4l-8.2-3.8l-6.5-11.5z" fill="#035003" stroke="#035003"/>
<path d="M720.4 458.7l6.2 13.6l-8.2-4.1l-6.2-13.7z" fill="#015710" stroke="#015710"/>
<path d="M734.9 476.8l5.8 15.8l-8.2-4.5l-5.9-15.8z" fill="#005a25" stroke="#005a25"/>
<path d="M583.1 415.6l7.9-8.2l-7.5-1.7l-7.8 8.2z" fill="#a12400" stroke="#a12400"/>
<path d="M644.9 407.1l7.5 1.9l-7.9-2.6l-7.5-2z" fill="#751000" stroke="#751000"/>
<path d="M501.1 510.3l7.5-23.1l-6.7-1.1l-7.4 22.9z" fill="#00925b" stroke="#00925b"/>
<path d="M515.4 488.6l7.6-20.8l-6.8-1.1l-7.6 20.5z" fill="#009a2d" stroke="#009a2d"/>
<path d="M530 469.3l7.8-18.4l-7-1.3l-7.8 18.2z" fill="#039c14" stroke="#039c14"/>
<path d="M544.9 452.5l7.8-16l-7.2-1.4l-7.7 15.8z" fill="#0e9f00" stroke="#0e9f00"/>
<path d="M560 438.2l7.8-13.5l-7.3-1.6l-7.8 13.4z" fill="#c3da00" stroke="#c3da00"/>
<path d="M575.2 426.6l7.9-11l-7.4-1.7l-7.9 10.8z" fill="#cc7600" stroke="#cc7600"/>
<path d="M590.7 417.7l7.8-8.4l-7.5-1.9l-7.9 8.2z" fill="#a02100" stroke="#a02100"/>
<path d="M606.2 411.6l7.8-5.8l-7.7-2.2l-7.8 5.7z" fill="#931300" stroke="#931300"/>
<path d="M621.8 408.3l7.7-3.2l-7.8-2.5l-7.7 3.2z" fill="#890f00" stroke="#890f00"/>
<path d="M637.4 407.8l7.5-0.7l-7.9-2.7l-7.5 0.7z" fill="#7f0f00" stroke="#7f0f00"/>
<path d="M653 410.2l7.3 1.8l-7.9-3l-7.5-1.9z" fill="#751100" stroke="#751100"/>
<path d="M668.5 415.3l7.1 4.4l-8-3.3l-7.3-4.4z" fill="#792f00" stroke="#792f00"/>
<path d="M683.8 423.2l7 6.8l-8.2-3.5l-7-6.8z" fill="#836c00" stroke="#836c00"/>
<path d="M699 433.9l6.7 9.2l-8.2-3.9l-6.7-9.2z" fill="#356500" stroke="#356500"/>
<path d="M714 447.3l6.4 11.4l-8.2-4.2l-6.5-11.4z" fill="#035004" stroke="#035004"/>
<path d="M728.8 463.2l6.1 13.6l-8.3-4.5l-6.2-13.6z" fill="#015711" stroke="#015711"/>
<path d="M522.3 490.3l7.7-21l-7-1.5l-7.6 20.8z" fill="#009a2b" stroke="#009a2b"/>
<path d="M582.8 428.9l7.9-11.2l-7.6-2.1l-7.9 11z" fill="#cb7400" stroke="#cb7400"/>
<path d="M645.4 410.9l7.6-0.7l-8.1-3.1l-7.5 0.7z" fill="#800f00" stroke="#800f00"/>
<path d="M707.4 438.1l6.6 9.2l-8.3-4.2l-6.7-9.2z" fill="#2a6200" stroke="#2a6200"/>
<path d="M507.8 511.9l7.6-23.3l-6.8-1.4l-7.5 23.1z" fill="#009258" stroke="#009258"/>
<path d="M537.1 471.1l7.8-18.6l-7.1-1.6l-7.8 18.4z" fill="#039b13" stroke="#039b13"/>
<path d="M552.1 454.4l7.9-16.2l-7.3-1.7l-7.8 16z" fill="#15a100" stroke="#15a100"/>
<path d="M567.3 440.3l7.9-13.7l-7.4-1.9l-7.8 13.5z" fill="#cadc00" stroke="#cadc00"/>
<path d="M598.3 420.2l7.9-8.6l-7.7-2.3l-7.8 8.4z" fill="#a02200" stroke="#a02200"/>
<path d="M614 414.2l7.8-5.9l-7.8-2.5l-7.8 5.8z" fill="#931300" stroke="#931300"/>
<path d="M629.7 411.2l7.7-3.4l-7.9-2.7l-7.7 3.2z" fill="#8a1000" stroke="#8a1000"/>
<path d="M661.1 413.5l7.4 1.8l-8.2-3.3l-7.3-1.8z" fill="#761200" stroke="#761200"/>
<path d="M676.7 418.9l7.1 4.3l-8.2-3.5l-7.1-4.4z" fill="#7e3900" stroke="#7e3900"/>
<path d="M692.1 427.2l6.9 6.7l-8.2-3.9l-7-6.8z" fill="#867800" stroke="#867800"/>
<path d="M722.4 451.8l6.4 11.4l-8.4-4.5l-6.4-11.4z" fill="#025106" stroke="#025106"/>
<path d="M514.7 513.8l7.6-23.5l-6.9-1.7l-7.6 23.3z" fill="#009255" stroke="#009255"/>
<path d="M529.3 492.3l7.8-21.2l-7.1-1.8l-7.7 21z" fill="#009a29" stroke="#009a29"/>
<path d="M574.8 442.7l8-13.8l-7.6-2.3l-7.9 13.7z" fill="#ccdc00" stroke="#ccdc00"/>
<path d="M590.4 431.4l7.9-11.2l-7.6-2.5l-7.9 11.2z" fill="#cb7500" stroke="#cb7500"/>
<path d="M637.7 414.4l7.7-3.5l-8-3.1l-7.7 3.4z" fill="#8a1100" stroke="#8a1100"/>
<path d="M653.5 414.4l7.6-0.9l-8.1-3.3l-7.6 0.7z" fill="#801100" stroke="#801100"/>
<path d="M700.5 431.5l6.9 6.6l-8.4-4.2l-6.9-6.7z" fill="#898600" stroke="#898600"/>
<path d="M715.8 442.7l6.6 9.1l-8.4-4.5l-6.6-9.2z" fill="#1d5d00" stroke="#1d5d00"/>
<path d="M544.2 473.2l7.9-18.8l-7.2-1.9l-7.8 18.6z" fill="#049b12" stroke="#049b12"/>
<path d="M559.4 456.6l7.9-16.3l-7.3-2.1l-7.9 16.2z" fill="#19a300" stroke="#19a300"/>
<path d="M606.1 422.9l7.9-8.7l-7.8-2.6l-7.9 8.6z" fill="#a22600" stroke="#a22600"/>
<path d="M621.9 417.2l7.8-6l-7.9-2.9l-7.8 5.9z" fill="#931400" stroke="#931400"/>
<path d="M669.3 417.2l7.4 1.7l-8.2-3.6l-7.4-1.8z" fill="#781500" stroke="#781500"/>
<path d="M685 422.9l7.1 4.3l-8.3-4l-7.1-4.3z" fill="#844400" stroke="#844400"/>
<path d="M521.6 516l7.7-23.7l-7-2l-7.6 23.5z" fill="#009253" stroke="#009253"/>
<path d="M536.4 494.6l7.8-21.4l-7.1-2.1l-7.8 21.2z" fill="#009a29" stroke="#009a29"/>
<path d="M566.9 459.2l7.9-16.5l-7.5-2.4l-7.9 16.3z" fill="#1aa300" stroke="#1aa300"/>
<path d="M582.4 445.4l8-14l-7.6-2.5l-8 13.8z" fill="#c9db00" stroke="#c9db00"/>
<path d="M598.1 434.3l8-11.4l-7.8-2.7l-7.9 11.2z" fill="#cc7a00" stroke="#cc7a00"/>
<path d="M629.9 420.5l7.8-6.1l-8-3.2l-7.8 6z" fill="#941500" stroke="#941500"/>
<path d="M645.9 417.9l7.6-3.5l-8.1-3.5l-7.7 3.5z" fill="#8b1200" stroke="#8b1200"/>
<path d="M661.8 418.2l7.5-1l-8.2-3.7l-7.6 0.9z" fill="#811200" stroke="#811200"/>
<path d="M693.4 427.3l7.1 4.2l-8.4-4.3l-7.1-4.3z" fill="#8a5300" stroke="#8a5300"/>
<path d="M709 436.1l6.8 6.6l-8.4-4.6l-6.9-6.6z" fill="#798400" stroke="#798400"/>
<path d="M551.5 475.7l7.9-19.1l-7.3-2.2l-7.9 18.8z" fill="#049b12" stroke="#049b12"/>
<path d="M614 426l7.9-8.8l-7.9-3l-7.9 8.7z" fill="#a52d00" stroke="#a52d00"/>
<path d="M677.6 421.3l7.4 1.6l-8.3-4l-7.4-1.7z" fill="#7e2200" stroke="#7e2200"/>
<path d="M558.9 478.4l8-19.2l-7.5-2.6l-7.9 19.1z" fill="#049b11" stroke="#049b11"/>
<path d="M670.1 422.3l7.5-1l-8.3-4.1l-7.5 1z" fill="#821400" stroke="#821400"/>
<path d="M528.7 518.6l7.7-24l-7.1-2.3l-7.7 23.7z" fill="#009252" stroke="#009252"/>
<path d="M543.7 497.3l7.8-21.6l-7.3-2.5l-7.8 21.4z" fill="#009a28" stroke="#009a28"/>
<path d="M574.4 462.1l8-16.7l-7.6-2.7l-7.9 16.5z" fill="#18a200" stroke="#18a200"/>
<path d="M590.1 448.5l8-14.2l-7.7-2.9l-8 14z" fill="#c1d800" stroke="#c1d800"/>
<path d="M606 437.6l8-11.6l-7.9-3.1l-8 11.4z" fill="#ce8300" stroke="#ce8300"/>
<path d="M622 429.5l7.9-9l-8-3.3l-7.9 8.8z" fill="#aa3700" stroke="#aa3700"/>
<path d="M638 424.2l7.9-6.3l-8.2-3.5l-7.8 6.1z" fill="#951600" stroke="#951600"/>
<path d="M654.1 421.8l7.7-3.6l-8.3-3.8l-7.6 3.5z" fill="#8c1400" stroke="#8c1400"/>
<path d="M686.1 425.8l7.3 1.5l-8.4-4.4l-7.4-1.6z" fill="#863200" stroke="#863200"/>
<path d="M701.9 432l7.1 4.1l-8.5-4.6l-7.1-4.2z" fill="#8e6600" stroke="#8e6600"/>
<path d="M551 500.3l7.9-21.9l-7.4-2.7l-7.8 21.6z" fill="#009928" stroke="#009928"/>
<path d="M566.4 481.5l8-19.4l-7.5-2.9l-8 19.2z" fill="#049b12" stroke="#049b12"/>
<path d="M614 441.2l8-11.7l-8-3.5l-8 11.6z" fill="#d09000" stroke="#d09000"/>
<path d="M662.5 426.1l7.6-3.8l-8.3-4.1l-7.7 3.6z" fill="#8d1600" stroke="#8d1600"/>
<path d="M678.6 426.9l7.5-1.1l-8.5-4.5l-7.5 1z" fill="#892100" stroke="#892100"/>
<path d="M535.9 521.5l7.8-24.2l-7.3-2.7l-7.7 24z" fill="#009252" stroke="#009252"/>
<path d="M582.1 465.4l8-16.9l-7.7-3.1l-8 16.7z" fill="#12a000" stroke="#12a000"/>
<path d="M598 451.9l8-14.3l-7.9-3.3l-8 14.2z" fill="#b5d400" stroke="#b5d400"/>
<path d="M630.1 433.3l7.9-9.1l-8.1-3.7l-7.9 9z" fill="#b04400" stroke="#b04400"/>
<path d="M646.3 428.3l7.8-6.5l-8.2-3.9l-7.9 6.3z" fill="#981c00" stroke="#981c00"/>
<path d="M694.6 430.6l7.3 1.4l-8.5-4.7l-7.3-1.5z" fill="#8f4400" stroke="#8f4400"/>
<path d="M543.2 524.7l7.8-24.4l-7.3-3l-7.8 24.2z" fill="#009252" stroke="#009252"/>
<path d="M558.5 503.6l7.9-22.1l-7.5-3.1l-7.9 21.9z" fill="#009929" stroke="#009929"/>
<path d="M574.1 485l8-19.6l-7.7-3.3l-8 19.4z" fill="#039a12" stroke="#039a12"/>
<path d="M605.9 455.7l8.1-14.5l-8-3.6l-8 14.3z" fill="#a4ce00" stroke="#a4ce00"/>
<path d="M622.1 445.2l8-11.9l-8.1-3.8l-8 11.7z" fill="#d3a000" stroke="#d3a000"/>
<path d="M654.6 432.7l7.9-6.6l-8.4-4.3l-7.8 6.5z" fill="#a12e00" stroke="#a12e00"/>
<path d="M670.9 430.8l7.7-3.9l-8.5-4.6l-7.6 3.8z" fill="#952500" stroke="#952500"/>
<path d="M687.2 431.8l7.4-1.2l-8.5-4.8l-7.5 1.1z" fill="#933600" stroke="#933600"/>
<path d="M589.9 469l8.1-17.1l-7.9-3.4l-8 16.9z" fill="#099c00" stroke="#099c00"/>
<path d="M638.3 437.5l8-9.2l-8.3-4.1l-7.9 9.1z" fill="#b85400" stroke="#b85400"/>
<path d="M550.6 528.2l7.9-24.6l-7.5-3.3l-7.8 24.4z" fill="#009252" stroke="#009252"/>
<path d="M597.8 473l8.1-17.3l-7.9-3.8l-8.1 17.1z" fill="#069b01" stroke="#069b01"/>
<path d="M614 459.8l8.1-14.6l-8.1-4l-8.1 14.5z" fill="#8ec700" stroke="#8ec700"/>
<path d="M630.3 449.5l8-12l-8.2-4.2l-8 11.9z" fill="#d7b400" stroke="#d7b400"/>
<path d="M679.5 435.8l7.7-4l-8.6-4.9l-7.7 3.9z" fill="#a03c00" stroke="#a03c00"/>
<path d="M566.1 507.3l8-22.3l-7.7-3.5l-7.9 22.1z" fill="#009929" stroke="#009929"/>
<path d="M581.8 488.8l8.1-19.8l-7.8-3.6l-8 19.6z" fill="#039a14" stroke="#039a14"/>
<path d="M646.7 442l7.9-9.3l-8.3-4.4l-8 9.2z" fill="#c16800" stroke="#c16800"/>
<path d="M663.1 437.4l7.8-6.6l-8.4-4.7l-7.9 6.6z" fill="#ab4400" stroke="#ab4400"/>
<path d="M589.7 493l8.1-20l-7.9-4l-8.1 19.8z" fill="#039a15" stroke="#039a15"/>
<path d="M638.6 454.2l8.1-12.2l-8.4-4.5l-8 12z" fill="#dccc00" stroke="#dccc00"/>
<path d="M558.1 532.1l8-24.8l-7.6-3.7l-7.9 24.6z" fill="#009154" stroke="#009154"/>
<path d="M605.8 477.3l8.2-17.5l-8.1-4.1l-8.1 17.3z" fill="#069b03" stroke="#069b03"/>
<path d="M622.2 464.3l8.1-14.8l-8.2-4.3l-8.1 14.6z" fill="#73bf00" stroke="#73bf00"/>
<path d="M671.7 442.6l7.8-6.8l-8.6-5l-7.8 6.6z" fill="#b75c00" stroke="#b75c00"/>
<path d="M573.8 511.3l8-22.5l-7.7-3.8l-8 22.3z" fill="#00992b" stroke="#00992b"/>
<path d="M655.1 446.9l8-9.5l-8.5-4.7l-7.9 9.3z" fill="#c98000" stroke="#c98000"/>
<path d="M581.6 515.7l8.1-22.7l-7.9-4.2l-8 22.5z" fill="#00982d" stroke="#00982d"/>
<path d="M597.7 497.5l8.1-20.2l-8-4.3l-8.1 20z" fill="#039a17" stroke="#039a17"/>
<path d="M630.5 469.2l8.1-15l-8.3-4.7l-8.1 14.8z" fill="#56b500" stroke="#56b500"/>
<path d="M647 459.3l8.1-12.4l-8.4-4.9l-8.1 12.2z" fill="#d7dd00" stroke="#d7dd00"/>
<path d="M565.7 536.4l8.1-25.1l-7.7-4l-8 24.8z" fill="#009156" stroke="#009156"/>
<path d="M614 482l8.2-17.7l-8.2-4.5l-8.2 17.5z" fill="#059b05" stroke="#059b05"/>
<path d="M663.7 452.2l8-9.6l-8.6-5.2l-8 9.5z" fill="#cf9f00" stroke="#cf9f00"/>
<path d="M573.5 541l8.1-25.3l-7.8-4.4l-8.1 25.1z" fill="#009058" stroke="#009058"/>
<path d="M655.6 464.8l8.1-12.6l-8.6-5.3l-8.1 12.4z" fill="#afd000" stroke="#afd000"/>
<path d="M589.5 520.4l8.2-22.9l-8-4.5l-8.1 22.7z" fill="#009730" stroke="#009730"/>
<path d="M605.8 502.4l8.2-20.4l-8.2-4.7l-8.1 20.2z" fill="#029919" stroke="#029919"/>
<path d="M622.2 487l8.3-17.8l-8.3-4.9l-8.2 17.7z" fill="#059a08" stroke="#059a08"/>
<path d="M638.9 474.5l8.1-15.2l-8.4-5.1l-8.1 15z" fill="#3dac00" stroke="#3dac00"/>
<path d="M581.4 546l8.1-25.6l-7.9-4.7l-8.1 25.3z" fill="#00905b" stroke="#00905b"/>
<path d="M614 507.7l8.2-20.7l-8.2-5l-8.2 20.4z" fill="#02991c" stroke="#02991c"/>
<path d="M647.4 480.1l8.2-15.3l-8.6-5.5l-8.1 15.2z" fill="#20a300" stroke="#20a300"/>
<path d="M597.6 525.5l8.2-23.1l-8.1-4.9l-8.2 22.9z" fill="#009734" stroke="#009734"/>
<path d="M630.6 492.5l8.3-18l-8.4-5.3l-8.3 17.8z" fill="#059a0b" stroke="#059a0b"/>
<path d="M589.4 551.3l8.2-25.8l-8.1-5.1l-8.1 25.6z" fill="#008f5f" stroke="#008f5f"/>
<path d="M605.7 531l8.3-23.3l-8.2-5.3l-8.2 23.1z" fill="#009638" stroke="#009638"/>
<path d="M622.3 513.3l8.3-20.8l-8.4-5.5l-8.2 20.7z" fill="#02991f" stroke="#02991f"/>
<path d="M639.1 498.3l8.3-18.2l-8.5-5.6l-8.3 18z" fill="#049a0e" stroke="#049a0e"/>
<path d="M597.4 557.1l8.3-26.1l-8.1-5.5l-8.2 25.8z" fill="#008e64" stroke="#008e64"/>
<path d="M630.8 519.4l8.3-21.1l-8.5-5.8l-8.3 20.8z" fill="#019922" stroke="#019922"/>
<path d="M614 536.9l8.3-23.6l-8.3-5.6l-8.3 23.3z" fill="#00953d" stroke="#00953d"/>
<path d="M605.7 563.2l8.3-26.3l-8.3-5.9l-8.3 26.1z" fill="#008c68" stroke="#008c68"/>
<path d="M622.4 543.2l8.4-23.8l-8.5-6.1l-8.3 23.6z" fill="#009443" stroke="#009443"/>
<path d="M614 569.7l8.4-26.5l-8.4-6.3l-8.3 26.3z" fill="#008a6d" stroke="#008a6d"/>
</g>
<path d="M614 569.7l6.3-20.2l6.3-18.6l6.2-17l6.3-15.6l6.2-13.9l6.2-12.3l6.1-10.7l6.1-9.2l6-7.5l5.9-5.9l5.8-4.3l5.8-2.7l5.6-1.2l5.5 0.4l5.4 1.8l5.3 3.3l5.1 4.7l5.1 6.2l4.8 7.4l4.8 8.8l4.6 10l4.4 11.2l4.3 12.4l4.1 13.5M611.5 567.7l6.3-20.1l6.2-18.6l6.3-17l6.2-15.5l6.3-13.8l6.1-12.3l6.1-10.7l6.1-9.1l6-7.5l5.9-5.8l5.8-4.3l5.8-2.7l5.6-1.2l5.5 0.4l5.4 1.9l5.3 3.3l5.2 4.7l5 6.2l4.9 7.4l4.8 8.8l4.6 10l4.4 11.3l4.3 12.3l4.2 13.5M609 565.7l6.2-20l6.3-18.5l6.3-17l6.2-15.4l6.2-13.9l6.2-12.2l6.1-10.6l6-9.1l6-7.4l5.9-5.9l5.9-4.2l5.7-2.7l5.6-1.1l5.6 0.4l5.4 1.8l5.3 3.4l5.1 4.7l5.1 6.2l4.9 7.5l4.7 8.8l4.7 10l4.4 11.2l4.4 12.4l4.1 13.4M606.5 563.8l6.2-20l6.3-18.4l6.2-17l6.3-15.3l6.2-13.8l6.1-12.2l6.1-10.6l6.1-9.1l6-7.4l5.9-5.8l5.8-4.2l5.7-2.6l5.7-1.2l5.5 0.5l5.4 1.9l5.3 3.3l5.2 4.8l5.1 6.1l4.9 7.5l4.8 8.8l4.6 10.1l4.5 11.2l4.3 12.3l4.2 13.5M604 561.9l6.2-19.9l6.3-18.4l6.2-16.9l6.2-15.3l6.2-13.8l6.2-12.1l6.1-10.6l6-9l6-7.3l5.9-5.8l5.9-4.2l5.7-2.7l5.6-1l5.6 0.4l5.4 1.9l0.6 0.3M699.7 431.3l4.3 4.1l5.1 6.1l4.9 7.5l4.8 8.8l4.6 10.1l4.5 11.2l4.4 12.4l4.2 13.4M601.5 560.1l6.3-19.9l6.2-18.4l6.2-16.8l6.2-15.3l6.2-13.7l6.1-12.1l6.1-10.5l6.1-9l6-7.3l5.9-5.8l5.8-4.1l5.8-2.6l5.6-1.1l5.5 0.5l5.5 1.9l0.3 0.2M698.3 431l3.2 3.1l5 6.2l5 7.5l4.8 8.8l4.6 10l4.6 11.2l4.3 12.4l4.3 13.4M599.1 558.2l6.2-19.8l6.2-18.3l6.2-16.8l6.2-15.2l6.2-13.7l6.1-12l6.1-10.5l6.1-8.9l5.9-7.3l5.9-5.8l5.9-4.1l5.7-2.6l5.7-1l5.5 0.4l5.5 2l0.1 0.1M696.9 430.7l2.1 2.1l5.1 6.2l4.9 7.5l4.8 8.8l4.7 10.1l4.5 11.2l4.4 12.4l4.3 13.4M596.6 556.5l6.2-19.8l6.2-18.3l6.2-16.7l6.2-15.2l6.2-13.6l6.1-12l6.1-10.5l6-8.9l6-7.2l5.9-5.7l5.9-4.1l5.7-2.6l5.6-1l5.6 0.5l5.3 1.9M695.5 430.6l1 1l5.1 6.2l4.9 7.5l4.9 8.8l4.6 10.1l4.6 11.2l4.4 12.4l4.3 13.4M594.2 554.7l6.2-19.7l6.2-18.2l6.1-16.7l6.2-15.1l6.2-13.6l6.1-12l6.1-10.4l6-8.9l6-7.2l5.9-5.6l5.8-4.1l5.8-2.6l5.6-1l5.6 0.5l5.1 1.8M694.2 430.6l4.9 6l5 7.5l4.8 8.8l4.7 10.1l4.6 11.2l4.4 12.4l4.3 13.4M591.8 553l6.1-19.6l6.2-18.2l6.2-16.6l6.2-15.1l6.1-13.6l6.1-11.9l6.1-10.4l6-8.8l6-7.2l5.9-5.6l5.8-4.1l5.8-2.5l5.6-1l5.6 0.5l4.8 1.7M692.8 430.6l3.8 4.8l5 7.6l4.9 8.8l4.7 10l4.6 11.3l4.4 12.3l4.3 13.5M589.4 551.3l6.1-19.6l6.2-18.1l6.1-16.6l6.2-15l6.1-13.5l6.1-11.9l6.1-10.4l6-8.7l6-7.2l5.9-5.6l5.8-4l5.8-2.5l5.6-1l5.6 0.6l4.6 1.5M691.4 430.8l2.8 3.5l5 7.6l4.8 8.8l4.8 10l4.5 11.3l4.5 12.3l4.3 13.5M586.9 549.7l6.2-19.6l6.1-18l6.2-16.6l6.1-15l6.2-13.4l6.1-11.9l6-10.3l6.1-8.7l5.9-7.2l5.9-5.5l5.8-4l5.8-2.5l5.7-0.9l5.5 0.5l4.3 1.5M690 431l1.7 2.2l5 7.6l4.9 8.8l4.7 10.1l4.7 11.2l4.4 12.3l4.4 13.5M584.5 548.1l6.2-19.5l6.1-18l6.2-16.5l6.1-15l6.1-13.4l6.1-11.8l6.1-10.3l6-8.7l5.9-7.1l5.9-5.5l5.9-4l5.7-2.4l5.7-1l5.6 0.6l4 1.4M688.7 431.3l0.6 0.9l5 7.5l4.9 8.8l4.7 10.1l4.7 11.2l4.4 12.4l4.4 13.4M582.2 546.5l6.1-19.4l6.1-18l6.1-16.5l6.2-14.9l6.1-13.3l6.1-11.8l6-10.3l6-8.6l6-7.1l5.9-5.5l5.8-3.9l5.8-2.5l5.6-0.9l5.6 0.6l3.8 1.3M687.3 431.7l4.6 7l4.9 8.8l4.7 10.1l4.7 11.2l4.5 12.4l4.3 13.4M579.8 545l6.1-19.4l6.1-17.9l6.1-16.4l6.1-14.9l6.1-13.3l6.1-11.8l6.1-10.2l6-8.6l5.9-7l5.9-5.5l5.9-4l5.7-2.3l5.7-0.9l5.6 0.6l3.5 1.2M686 432.3l3.5 5.4l4.9 8.8l4.8 10.1l4.6 11.2l4.5 12.4l4.4 13.4M577.4 543.4l6.1-19.3l6.1-17.9l6.1-16.3l6.1-14.8l6.1-13.3l6.1-11.7l6-10.2l6-8.6l6-7l5.9-5.4l5.8-3.9l5.8-2.4l5.6-0.9l5.6 0.7l3.3 1M684.6 432.8l2.5 3.9l4.9 8.9l4.8 10l4.6 11.2l4.6 12.4l4.4 13.4M575.1 542l6-19.3l6.1-17.8l6.1-16.3l6.1-14.8l6.1-13.2l6.1-11.7l6-10.1l6-8.6l6-7l5.8-5.4l5.9-3.9l5.7-2.3l5.7-0.9l5.6 0.7l3 1M683.3 433.5l1.4 2.3l4.9 8.8l4.8 10.1l4.7 11.2l4.5 12.3l4.4 13.5M572.7 540.5l6.1-19.2l6.1-17.8l6-16.2l6.1-14.8l6.1-13.2l6.1-11.6l6-10.1l6-8.5l5.9-6.9l5.9-5.4l5.8-3.9l5.8-2.3l5.7-0.8l5.6 0.6l2.7 0.9M681.9 434.2l0.4 0.7l4.9 8.8l4.9 10.1l4.6 11.2l4.6 12.3l4.4 13.4M570.4 539.1l6-19.2l6.1-17.7l6.1-16.2l6-14.7l6.1-13.1l6.1-11.6l6-10.1l6-8.5l5.9-6.9l5.9-5.3l5.8-3.9l5.8-2.3l5.7-0.8l5.6 0.7l2.4 0.8M680.6 435.1l4.3 7.7l4.8 10.1l4.7 11.2l4.6 12.3l4.4 13.4M568.1 537.7l6-19.1l6-17.7l6.1-16.1l6.1-14.7l6-13.1l6.1-11.5l6-10l6-8.5l5.9-6.9l5.9-5.3l5.8-3.8l5.8-2.3l5.7-0.8l5.6 0.7l2.2 0.7M679.2 436l3.3 6l4.9 10l4.7 11.3l4.6 12.3l4.4 13.4M565.7 536.4l6.1-19.1l6-17.6l6.1-16.1l6-14.6l6.1-13.1l6-11.5l6-10l6-8.4l5.9-6.8l5.9-5.4l5.8-3.7l5.8-2.3l5.7-0.7l5.6 0.7l1.9 0.6M677.9 437l2.3 4.2l4.8 10l4.8 11.2l4.6 12.4l4.4 13.3M563.4 535.1l6-19l6.1-17.6l6-16.1l6.1-14.5l6-13.1l6-11.4l6-10l6-8.3l5.9-6.9l5.9-5.3l5.8-3.7l5.8-2.3l5.7-0.7l5.6 0.7l1.7 0.5M676.6 438l1.2 2.4l4.9 10l4.7 11.2l4.7 12.3l4.4 13.4M561.1 533.8l6-19l6.1-17.5l6-16l6-14.5l6.1-13l6-11.4l6-9.9l5.9-8.4l6-6.8l5.8-5.2l5.9-3.8l5.7-2.2l5.7-0.7l5.6 0.7l1.4 0.5M675.3 439.1l0.2 0.5l4.9 10.1l4.7 11.2l4.7 12.3l4.5 13.3M558.9 532.6l5.9-19l6-17.4l6.1-16l6-14.5l6-12.9l6-11.4l6-9.9l6-8.3l5.9-6.8l5.9-5.2l5.8-3.7l5.8-2.2l5.7-0.7l5.6 0.8l1.1 0.3M674 440.3l4.1 8.6l4.7 11.2l4.7 12.3l4.5 13.4M556.6 531.3l6-18.8l5.9-17.4l6.1-16l6-14.4l6-12.9l6-11.4l6-9.8l5.9-8.3l6-6.7l5.8-5.2l5.9-3.7l5.7-2.2l5.7-0.6l5.6 0.7l0.8 0.3M672.6 441.6l3.2 6.6l4.8 11.2l4.6 12.3l4.5 13.3M554.3 530.1l6-18.8l6-17.3l6-15.9l6-14.4l6-12.8l6-11.4l5.9-9.8l6-8.2l5.9-6.7l5.9-5.2l5.8-3.7l5.8-2.1l5.7-0.7l5.6 0.8l0.5 0.2M671.3 442.9l2.2 4.6l4.8 11.2l4.6 12.3l4.6 13.3M552.1 529l5.9-18.8l6-17.3l6-15.8l6-14.3l6-12.9l5.9-11.3l6-9.7l6-8.2l5.9-6.7l5.9-5.2l5.8-3.6l5.7-2.1l5.7-0.7l5.6 0.8l0.3 0.1M670 444.4l1.2 2.5l4.8 11.1l4.7 12.3l4.5 13.4M549.8 527.9l6-18.7l5.9-17.3l6-15.8l6-14.3l6-12.8l5.9-11.2l6-9.7l6-8.2l5.9-6.7l5.8-5.1l5.8-3.6l5.8-2.1l5.7-0.6l5.6 0.8l0 0M668.7 445.8l0.2 0.4l4.9 11.2l4.6 12.3l4.6 13.3M547.6 526.8l5.9-18.7l6-17.2l5.9-15.7l6-14.3l6-12.7l5.9-11.2l6-9.7l5.9-8.2l6-6.6l5.8-5.1l5.8-3.6l5.8-2.1l5.7-0.6l5.3 0.8M667.5 447.4l4 9.4l4.7 12.3l4.6 13.3M545.4 525.7l5.9-18.6l5.9-17.2l6-15.6l5.9-14.2l6-12.7l6-11.2l5.9-9.7l5.9-8.1l5.9-6.6l5.9-5l5.8-3.6l5.8-2.1l5.7-0.6l5 0.7M666.2 449l3.1 7.2l4.7 12.3l4.6 13.3M543.2 524.7l5.9-18.6l5.9-17.1l5.9-15.6l6-14.2l5.9-12.6l6-11.2l5.9-9.6l6-8.1l5.9-6.5l5.8-5.1l5.8-3.5l5.8-2.1l5.7-0.6l4.7 0.7M664.9 450.6l2.1 5.1l4.8 12.2l4.6 13.3M541 523.7l5.8-18.5l5.9-17.1l6-15.6l5.9-14.1l6-12.6l5.9-11.1l6-9.6l5.9-8l5.9-6.6l5.8-5l5.8-3.5l5.8-2l5.7-0.6l4.5 0.6M663.6 452.3l1.2 2.8l4.7 12.3l4.7 13.3M538.8 522.7l5.8-18.4l5.9-17l5.9-15.6l6-14.1l5.9-12.5l6-11.1l5.9-9.5l5.9-8.1l5.9-6.5l5.9-5l5.8-3.5l5.7-2l5.7-0.5l4.2 0.5M662.4 454.1l0.2 0.5l4.7 12.3l4.7 13.2M536.6 521.8l5.8-18.4l5.9-17l5.9-15.5l6-14l5.9-12.5l5.9-11.1l6-9.5l5.9-8l5.8-6.4l5.9-5l5.8-3.5l5.8-2l5.7-0.5l3.8 0.4M661.1 455.9l4 10.5l4.7 13.2M534.4 520.9l5.9-18.4l5.8-16.9l5.9-15.5l5.9-13.9l6-12.5l5.9-11l5.9-9.5l5.9-7.9l5.9-6.5l5.8-4.9l5.8-3.5l5.8-2l5.7-0.5l3.6 0.4M659.8 457.8l3.1 8.1l4.7 13.3M532.3 520l5.8-18.3l5.8-16.9l5.9-15.4l5.9-13.9l6-12.5l5.9-10.9l5.9-9.5l5.9-7.9l5.9-6.4l5.8-4.9l5.8-3.5l5.8-1.9l5.7-0.5l3.3 0.3M658.6 459.8l2.2 5.7l4.6 13.2M530.1 519.1l5.8-18.2l5.9-16.8l5.8-15.4l5.9-13.9l5.9-12.4l6-10.9l5.9-9.4l5.9-7.9l5.8-6.4l5.9-4.9l5.8-3.4l5.7-1.9l5.7-0.5l3 0.3M657.4 461.8l1.2 3.3l4.7 13.2M528 518.3l5.8-18.2l5.8-16.7l5.9-15.4l5.9-13.8l5.9-12.4l5.9-10.8l5.9-9.4l5.8-7.9l5.9-6.3l5.8-4.9l5.8-3.4l5.8-1.9l5.7-0.5l2.7 0.3M656.1 463.9l0.3 0.8l4.7 13.2M525.9 517.5l5.7-18.1l5.9-16.7l5.8-15.3l5.9-13.8l5.9-12.3l5.9-10.9l5.9-9.3l5.8-7.8l5.9-6.4l5.8-4.8l5.8-3.4l5.8-1.9l5.7-0.5l2.4 0.3M654.9 466l4.1 11.5M523.7 516.8l5.8-18.1l5.8-16.7l5.8-15.2l5.9-13.8l5.9-12.3l5.9-10.8l5.9-9.3l5.8-7.8l5.9-6.3l5.8-4.8l5.8-3.4l5.8-1.8l5.7-0.5l2.1 0.2M653.7 468.1l3.2 9.1M521.6 516l5.8-18l5.8-16.6l5.8-15.2l5.9-13.7l5.8-12.3l5.9-10.7l5.9-9.3l5.9-7.8l5.8-6.3l5.8-4.8l5.8-3.3l5.8-1.9l5.7-0.4l1.8 0.2M652.4 470.3l2.3 6.6M519.5 515.3l5.8-17.9l5.8-16.6l5.8-15.2l5.8-13.6l5.9-12.2l5.9-10.8l5.8-9.2l5.9-7.7l5.8-6.3l5.9-4.8l5.7-3.3l5.8-1.8l5.7-0.5l1.5 0.2M651.2 472.6l1.4 4M517.4 514.7l5.8-18l5.7-16.5l5.8-15.1l5.9-13.6l5.8-12.2l5.9-10.7l5.9-9.2l5.8-7.7l5.9-6.2l5.8-4.8l5.8-3.3l5.7-1.8l5.7-0.4l1.2 0.1M650 474.9l0.5 1.4M515.4 514l5.7-17.9l5.7-16.4l5.8-15.1l5.9-13.6l5.8-12.1l5.9-10.7l5.8-9.1l5.9-7.7l5.8-6.2l5.8-4.7l5.8-3.3l5.7-1.8l5.7-0.4l0.9 0M513.3 513.4l5.7-17.8l5.7-16.5l5.8-15l5.8-13.5l5.9-12.1l5.8-10.6l5.9-9.1l5.8-7.7l5.9-6.2l5.8-4.7l5.7-3.2l5.8-1.8l5.7-0.4l0.5 0M511.2 512.8l5.7-17.8l5.8-16.3l5.7-15l5.8-13.5l5.9-12.1l5.8-10.5l5.9-9.1l5.8-7.7l5.8-6.1l5.8-4.7l5.8-3.2l5.7-1.8l5.7-0.4l0.3 0M509.2 512.3l5.7-17.8l5.7-16.3l5.8-14.9l5.7-13.5l5.9-12l5.8-10.5l5.8-9.1l5.9-7.6l5.8-6.1l5.8-4.7l5.8-3.2l5.7-1.8l5.6-0.3M507.2 511.7l5.6-17.7l5.7-16.2l5.8-14.9l5.8-13.4l5.8-12l5.8-10.5l5.8-9l5.9-7.6l5.8-6.1l5.8-4.6l5.7-3.2l5.8-1.8l5.3-0.3M505.1 511.2l5.7-17.6l5.7-16.2l5.7-14.9l5.8-13.3l5.8-12l5.8-10.4l5.8-9l5.9-7.6l5.8-6.1l5.8-4.6l5.7-3.1l5.8-1.8l5-0.3M503.1 510.7l5.7-17.5l5.6-16.2l5.8-14.8l5.7-13.3l5.8-11.9l5.8-10.5l5.8-8.9l5.9-7.5l5.8-6.1l5.8-4.6l5.7-3.1l5.8-1.8l4.6-0.3M501.1 510.3l5.6-17.5l5.7-16.2l5.7-14.7l5.8-13.3l5.8-11.8l5.8-10.4l5.8-9l5.8-7.5l5.8-6l5.8-4.6l5.7-3.1l5.8-1.7l4.3-0.4M499.1 509.9l5.6-17.5l5.7-16.1l5.7-14.7l5.7-13.2l5.8-11.8l5.8-10.4l5.8-8.9l5.8-7.5l5.8-6l5.8-4.5l5.7-3.1l5.8-1.7l4-0.4M497.1 509.5l5.6-17.5l5.7-16l5.7-14.6l5.7-13.2l5.8-11.8l5.7-10.3l5.8-8.9l5.8-7.4l5.8-6l5.8-4.5l5.8-3.1l5.7-1.7l3.7-0.4M495.2 509.1l5.5-17.4l5.7-16l5.7-14.6l5.7-13.1l5.7-11.8l5.8-10.3l5.8-8.8l5.8-7.4l5.8-5.9l5.7-4.5l5.8-3.1l5.7-1.7l3.4-0.3M493.2 508.8l5.6-17.4l5.6-15.9l5.7-14.6l5.7-13.1l5.7-11.7l5.8-10.2l5.8-8.9l5.7-7.3l5.8-5.9l5.8-4.5l5.7-3.1l5.8-1.6l3-0.3M491.2 508.4l5.6-17.2l5.6-15.9l5.7-14.5l5.7-13.1l5.7-11.7l5.8-10.2l5.7-8.8l5.8-7.3l5.8-5.9l5.7-4.5l5.8-3l5.7-1.7l2.8-0.2M489.3 508.2l5.5-17.3l5.6-15.8l5.7-14.5l5.7-13l5.7-11.6l5.8-10.2l5.7-8.8l5.8-7.3l5.8-5.9l5.7-4.4l5.8-3l5.7-1.7l2.4-0.2M487.3 507.9l5.6-17.2l5.6-15.8l5.6-14.4l5.7-13l5.7-11.6l5.8-10.1l5.7-8.8l5.8-7.2l5.7-5.9l5.8-4.4l5.7-3l5.7-1.6l2.1-0.3M485.4 507.7l5.5-17.2l5.6-15.7l5.7-14.4l5.6-13l5.7-11.5l5.8-10.1l5.7-8.7l5.8-7.3l5.7-5.8l5.8-4.4l5.7-3l5.7-1.6l1.8-0.2M483.5 507.4l5.5-17l5.6-15.7l5.6-14.4l5.7-12.9l5.7-11.5l5.7-10.1l5.7-8.6l5.8-7.3l5.7-5.8l5.8-4.3l5.7-3l5.7-1.6l1.4-0.2M481.6 507.3l5.5-17.1l5.6-15.6l5.6-14.3l5.6-12.9l5.7-11.5l5.7-10l5.7-8.6l5.8-7.2l5.7-5.8l5.8-4.4l5.7-2.9l5.7-1.6l1.1-0.1M614 569.7l-6.3-4.9l-6.2-4.7l-6.1-4.5l-6-4.3l-6-4l-6-3.9l-5.9-3.6l-5.8-3.4l-5.7-3.2l-5.7-3.1l-5.6-2.8l-5.5-2.6l-5.5-2.5l-5.4-2.2l-5.4-2.1l-5.3-1.9l-5.2-1.7l-5.2-1.5l-5.1-1.3l-5-1.2l-5-1l-4.9-0.9l-4.8-0.6l-4.8-0.5M616.5 561.4l-6.3-4.8l-6.2-4.7l-6.1-4.4l-6.1-4.2l-6-4l-6-3.8l-5.8-3.5l-5.9-3.4l-5.7-3.2l-5.7-3l-5.6-2.7l-5.6-2.6l-5.5-2.4l-5.4-2.2l-5.4-2l-5.3-1.8l-5.2-1.7l-5.2-1.5l-5.1-1.3l-5-1.1l-5-0.9l-5-0.8l-4.8-0.7l-4.8-0.4M619 553.4l-6.3-4.8l-6.2-4.5l-6.1-4.4l-6.1-4.2l-6.1-3.9l-5.9-3.7l-5.9-3.6l-5.8-3.3l-5.8-3.1l-5.7-2.9l-5.7-2.7l-5.5-2.6l-5.5-2.3l-5.5-2.2l-5.4-1.9l-5.3-1.8l-5.2-1.6l-5.2-1.4l-5.1-1.3l-5.1-1l-5-0.9l-4.9-0.8l-4.9-0.6l-4.8-0.4M621.5 545.7l-6.3-4.8l-6.2-4.5l-6.2-4.3l-6.1-4.1l-6-3.9l-6-3.7l-5.9-3.5l-5.8-3.2l-5.8-3.1l-5.7-2.9l-5.7-2.6l-5.6-2.5l-5.5-2.3l-5.4-2.1l-5.4-1.9l-5.4-1.7l-5.2-1.6l-5.2-1.4l-5.2-1.1l-5-1.1l-5-0.8l-5-0.7l-4.9-0.5l-4.8-0.4M624 538.2l-6.3-4.7l-6.2-4.5l-6.2-4.3l-6.1-4l-6.1-3.9l-5.9-3.6l-6-3.4l-5.8-3.2l-5.8-3l-5.7-2.9l-5.7-2.6l-5.6-2.4l-5.5-2.2l-5.5-2.1l-5.4-1.9l-5.3-1.6l-5.3-1.5l-5.2-1.4l-5.2-1.1l-5.1-1l-5-0.8l-4.9-0.6l-4.9-0.5l-4.9-0.3M626.6 530.9l-6.4-4.6l-6.2-4.5l-6.2-4.2l-6.1-4l-6.1-3.8l-6-3.6l-5.9-3.3l-5.9-3.2l-5.8-3l-5.7-2.7l-5.7-2.6l-5.6-2.4l-5.6-2.2l-5.5-2l-5.4-1.8l-5.3-1.6l-5.3-1.5l-5.2-1.2l-5.2-1.1l-5.1-1l-5-0.7l-5-0.6l-4.9-0.5l-4.8-0.2M629.1 523.9l-6.4-4.6l-6.2-4.4l-6.2-4.1l-6.2-4l-6-3.7l-6.1-3.6l-5.9-3.3l-5.9-3.1l-5.8-2.9l-5.7-2.8l-5.7-2.5l-5.7-2.3l-5.5-2.2l-5.5-1.9l-5.4-1.8l-5.4-1.6l-5.3-1.4l-5.2-1.2l-5.2-1.1l-5.1-0.8l-5.1-0.7l-4.9-0.6l-5-0.4l-4.8-0.2M631.6 517.1l-6.4-4.5l-6.2-4.4l-6.3-4.1l-6.1-3.9l-6.1-3.7l-6-3.5l-6-3.2l-5.9-3.1l-5.8-2.9l-5.7-2.7l-5.7-2.4l-5.7-2.3l-5.5-2.1l-5.6-1.9l-5.4-1.7l-5.4-1.6l-5.3-1.3l-5.2-1.2l-5.2-1l-5.1-0.9l-5.1-0.6l-5-0.5l-4.9-0.4l-4.9-0.2M634.1 510.6l-6.4-4.5l-6.3-4.3l-6.2-4l-6.1-3.9l-6.1-3.7l-6.1-3.4l-5.9-3.2l-5.9-3.1l-5.9-2.8l-5.7-2.6l-5.8-2.4l-5.6-2.3l-5.6-2l-5.5-1.9l-5.4-1.7l-5.4-1.5l-5.3-1.3l-5.3-1.1l-5.2-1l-5.1-0.8l-5.1-0.6l-5-0.5l-4.9-0.3l-4.9-0.1M636.6 504.4l-6.4-4.5l-6.3-4.3l-6.2-4l-6.2-3.8l-6.1-3.6l-6-3.4l-6-3.2l-5.9-3l-5.9-2.7l-5.7-2.6l-5.8-2.4l-5.6-2.2l-5.6-2l-5.5-1.8l-5.5-1.7l-5.4-1.4l-5.3-1.3l-5.3-1.1l-5.2-0.9l-5.1-0.8l-5.1-0.5l-5-0.5l-5-0.2l-4.9-0.1M639.1 498.3l-6.4-4.4l-6.3-4.2l-6.2-4l-6.2-3.7l-6.1-3.6l-6.1-3.3l-6-3.2l-5.9-2.9l-5.8-2.7l-5.8-2.6l-5.8-2.3l-5.6-2.2l-5.6-1.9l-5.6-1.8l-5.4-1.6l-5.4-1.4l-5.4-1.2l-5.3-1.1l-5.2-0.9l-5.1-0.7l-5.1-0.5l-5-0.4l-5-0.2l-4.9-0.1M641.6 492.6l-6.4-4.4l-6.3-4.1l-6.3-4l-6.2-3.7l-6.1-3.5l-6-3.3l-6-3.1l-6-2.9l-5.8-2.7l-5.8-2.5l-5.8-2.3l-5.6-2.1l-5.7-1.9l-5.5-1.8l-5.5-1.5l-5.4-1.4l-5.3-1.2l-5.3-1l-5.3-0.8l-5.1-0.7l-5.1-0.5l-5-0.4l-5-0.1l-4.9-0.1M644.1 487.1l-6.4-4.4l-6.3-4.1l-6.3-3.9l-6.2-3.6l-6.1-3.5l-6.1-3.3l-6-3l-6-2.9l-5.8-2.6l-5.8-2.5l-5.8-2.3l-5.7-2l-5.6-1.9l-5.5-1.7l-5.5-1.5l-5.4-1.3l-5.4-1.2l-5.3-1l-5.2-0.8l-5.2-0.6l-5.1-0.5l-5-0.3l-5-0.1l-4.9 0M646.6 481.8l-6.4-4.3l-6.4-4l-6.2-3.9l-6.3-3.6l-6.1-3.5l-6.1-3.2l-6-3l-5.9-2.8l-5.9-2.6l-5.8-2.4l-5.8-2.3l-5.7-2l-5.6-1.8l-5.6-1.7l-5.5-1.4l-5.4-1.3l-5.4-1.1l-5.3-1l-5.2-0.8l-5.2-0.5l-5.1-0.5l-5-0.2l-5-0.1l-5 0M649 476.8l-6.4-4.2l-6.3-4.1l-6.3-3.8l-6.2-3.6l-6.2-3.4l-6-3.1l-6.1-3l-5.9-2.8l-5.9-2.6l-5.8-2.3l-5.8-2.2l-5.7-2l-5.6-1.8l-5.6-1.6l-5.5-1.4l-5.4-1.3l-5.4-1.1l-5.3-0.9l-5.3-0.7l-5.2-0.6l-5.1-0.4l-5-0.2l-5-0.1l-5 0.1M651.5 472.1l-6.4-4.2l-6.4-4l-6.2-3.8l-6.3-3.5l-6.1-3.4l-6.1-3.1l-6-3l-6-2.7l-5.9-2.5l-5.8-2.4l-5.8-2.1l-5.7-2l-5.7-1.7l-5.5-1.6l-5.5-1.4l-5.5-1.2l-5.4-1.1l-5.3-0.8l-5.2-0.7l-5.2-0.5l-5.2-0.4l-5-0.2l-5 0l-5 0.1M654 467.6l-6.5-4.2l-6.3-3.9l-6.3-3.7l-6.2-3.6l-6.2-3.3l-6.1-3.1l-6-2.9l-6-2.7l-5.9-2.5l-5.8-2.3l-5.8-2.1l-5.7-1.9l-5.7-1.7l-5.6-1.6l-5.5-1.3l-5.4-1.2l-5.4-1l-5.4-0.8l-5.2-0.7l-5.2-0.5l-5.2-0.3l-5-0.2l-5 0l-5 0.2M656.4 463.4l-6.4-4.2l-6.4-3.9l-6.3-3.7l-6.2-3.4l-6.2-3.3l-6.1-3.1l-6-2.8l-6-2.7l-5.9-2.5l-5.9-2.2l-5.7-2.1l-5.8-1.9l-5.6-1.7l-5.6-1.5l-5.5-1.3l-5.5-1.2l-5.4-0.9l-5.3-0.8l-5.3-0.7l-5.2-0.4l-5.1-0.3l-5.1-0.1l-5 0l-5 0.2M658.8 459.4l-6.4-4.1l-6.3-3.9l-6.3-3.6l-6.3-3.5l-6.2-3.2l-6.1-3l-6-2.9l-6-2.6l-5.9-2.4l-5.9-2.2l-5.8-2.1l-5.7-1.8l-5.6-1.7l-5.6-1.5l-5.6-1.3l-5.4-1.1l-5.4-0.9l-5.4-0.8l-5.3-0.6l-5.2-0.4l-5.1-0.3l-5.1-0.1l-5 0.1l-5 0.2M661.3 455.7l-6.5-4.1l-6.3-3.8l-6.3-3.6l-6.3-3.4l-6.2-3.2l-6.1-3l-6-2.8l-6-2.6l-5.9-2.4l-5.9-2.2l-5.8-2l-5.7-1.8l-5.7-1.6l-5.6-1.5l-5.5-1.3l-5.5-1l-5.4-0.9l-5.3-0.8l-5.3-0.6l-5.2-0.4l-5.2-0.2l-5.1-0.1l-5 0.1l-5 0.3M663.7 452.2l-6.4-4l-6.4-3.8l-6.3-3.6l-6.3-3.3l-6.2-3.2l-6.1-3l-6-2.7l-6-2.6l-5.9-2.3l-5.9-2.2l-5.8-2l-5.7-1.8l-5.7-1.6l-5.6-1.4l-5.6-1.2l-5.4-1.1l-5.5-0.9l-5.3-0.7l-5.3-0.5l-5.2-0.4l-5.2-0.2l-5.1 0l-5 0.1l-5 0.3M666.1 449l-6.4-3.9l-6.4-3.8l-6.3-3.6l-6.3-3.3l-6.2-3.1l-6.1-3l-6-2.7l-6-2.5l-6-2.3l-5.8-2.2l-5.8-1.9l-5.8-1.8l-5.7-1.5l-5.6-1.4l-5.5-1.2l-5.5-1.1l-5.4-0.8l-5.4-0.7l-5.3-0.5l-5.2-0.4l-5.2-0.1l-5.1-0.1l-5 0.2l-5 0.3M668.5 446.1l-6.4-3.9l-6.4-3.8l-6.3-3.5l-6.3-3.3l-6.2-3.1l-6.1-2.9l-6.1-2.7l-6-2.5l-5.9-2.3l-5.9-2.1l-5.8-1.9l-5.7-1.7l-5.7-1.6l-5.6-1.3l-5.6-1.2l-5.5-1l-5.4-0.8l-5.3-0.7l-5.3-0.5l-5.3-0.3l-5.2-0.2l-5.1 0l-5 0.2l-5 0.3M670.9 443.4l-6.5-3.9l-6.3-3.7l-6.4-3.5l-6.2-3.3l-6.2-3l-6.1-2.9l-6.1-2.7l-6-2.4l-5.9-2.3l-5.9-2.1l-5.8-1.9l-5.8-1.7l-5.6-1.5l-5.7-1.3l-5.5-1.2l-5.5-0.9l-5.4-0.8l-5.4-0.7l-5.3-0.4l-5.3-0.3l-5.1-0.2l-5.2 0.1l-5 0.2l-5 0.3M673.2 441l-6.4-3.9l-6.4-3.6l-6.3-3.5l-6.2-3.3l-6.2-3l-6.2-2.8l-6-2.7l-6-2.4l-6-2.3l-5.9-2l-5.8-1.9l-5.7-1.6l-5.7-1.5l-5.6-1.3l-5.6-1.2l-5.5-0.9l-5.4-0.8l-5.4-0.6l-5.3-0.4l-5.2-0.3l-5.2-0.1l-5.2 0l-5 0.2l-5 0.4M675.6 438.8l-6.4-3.8l-6.4-3.7l-6.3-3.4l-6.3-3.2l-6.2-3l-6.1-2.8l-6.1-2.6l-6-2.5l-5.9-2.2l-5.9-2l-5.8-1.8l-5.8-1.7l-5.7-1.4l-5.6-1.3l-5.6-1.1l-5.5-1l-5.4-0.7l-5.4-0.6l-5.3-0.4l-5.2-0.3l-5.2 0l-5.2 0l-5 0.2l-5 0.4M677.9 436.9l-6.4-3.8l-6.4-3.6l-6.3-3.4l-6.3-3.2l-6.1-3l-6.2-2.8l-6-2.6l-6.1-2.3l-5.9-2.2l-5.9-2l-5.8-1.8l-5.8-1.7l-5.6-1.4l-5.7-1.3l-5.5-1.1l-5.5-0.9l-5.5-0.7l-5.4-0.6l-5.3-0.4l-5.2-0.2l-5.2-0.1l-5.1 0.1l-5.1 0.3l-5 0.4M680.3 435.3l-6.5-3.8l-6.3-3.6l-6.4-3.4l-6.2-3.2l-6.2-2.9l-6.2-2.8l-6-2.5l-6-2.4l-6-2.2l-5.9-1.9l-5.8-1.8l-5.7-1.6l-5.7-1.4l-5.7-1.3l-5.5-1l-5.5-0.9l-5.5-0.7l-5.3-0.6l-5.4-0.4l-5.2-0.2l-5.2 0l-5.2 0.1l-5 0.2l-5 0.5M682.6 433.9l-6.5-3.8l-6.3-3.6l-6.4-3.3l-6.2-3.2l-6.2-2.9l-6.1-2.7l-6.1-2.6l-6-2.3l-6-2.1l-5.8-2l-5.9-1.8l-5.7-1.5l-5.7-1.4l-5.6-1.3l-5.6-1l-5.5-0.9l-5.5-0.7l-5.3-0.5l-5.4-0.4l-5.2-0.1l-5.2-0.1l-5.2 0.1l-5 0.3l-5 0.5M684.9 432.7l-6.5-3.7l-6.3-3.6l-6.3-3.3l-6.3-3.1l-6.2-2.9l-6.1-2.7l-6.1-2.5l-6-2.4l-6-2.1l-5.8-1.9l-5.9-1.8l-5.7-1.5l-5.7-1.4l-5.6-1.2l-5.6-1l-5.5-0.9l-5.5-0.7l-5.3-0.5l-5.4-0.3l-5.2-0.2l-5.2 0l-5.2 0.1l-5 0.3l-5.1 0.5M687.2 431.8l-6.5-3.7l-6.3-3.5l-6.4-3.3l-6.2-3.1l-6.2-2.9l-6.1-2.7l-6.1-2.5l-6-2.3l-6-2.1l-5.8-1.9l-5.9-1.7l-5.7-1.6l-5.7-1.3l-5.6-1.2l-5.6-1l-5.5-0.9l-5.5-0.6l-5.4-0.5l-5.3-0.3l-5.2-0.2l-5.2 0l-5.2 0.1l-5.1 0.4l-5 0.4M689.4 431.1l-6.4-3.7l-6.4-3.4l-6.3-3.3l-6.2-3.1l-6.2-2.9l-6.2-2.6l-6-2.5l-6-2.3l-6-2.1l-5.9-1.8l-5.8-1.8l-5.7-1.5l-5.7-1.3l-5.7-1.2l-5.5-1l-5.5-0.8l-5.5-0.6l-5.4-0.5l-5.3-0.3l-5.3-0.2l-5.2 0l-5.1 0.2l-2.9 0.1M691.7 430.7l-6.5-3.6l-6.3-3.5l-6.3-3.3l-6.3-3l-6.2-2.9l-6.1-2.6l-6.1-2.5l-6-2.2l-5.9-2.1l-5.9-1.9l-5.8-1.7l-5.8-1.5l-5.6-1.3l-5.7-1.1l-5.6-1l-5.5-0.8l-5.4-0.6l-5.4-0.5l-5.3-0.3l-4-0.1M693.9 430.6l-6.4-3.7l-6.4-3.4l-6.3-3.3l-6.2-3l-6.2-2.8l-6.1-2.6l-6.1-2.5l-6-2.2l-5.9-2.1l-5.9-1.8l-5.8-1.7l-5.8-1.5l-5.7-1.3l-5.6-1.2l-5.6-0.9l-5.5-0.8l-4.7-0.6M696.1 430.6l-6.4-3.6l-6.4-3.4l-6.3-3.2l-6.2-3l-6.2-2.8l-6.1-2.7l-6.1-2.4l-6-2.2l-5.9-2l-5.9-1.9l-5.8-1.6l-5.7-1.5l-5.7-1.3l-5-1M698.3 431l-6.4-3.6l-6.4-3.4l-6.3-3.2l-6.2-3l-6.2-2.8l-6.1-2.6l-6-2.4l-6-2.2l-6-2.1l-5.8-1.8l-4.7-1.3M700.5 431.5l-6.4-3.6l-6.4-3.4l-6.3-3.1l-6.2-3l-6.2-2.8l-6.1-2.6l-6-2.3l-3.7-1.4M702.6 432.3l-6.4-3.6l-6.3-3.3l-6.3-3.2l-6.2-2.9l-1.8-0.9M704.8 433.3l-5.4-3M706.9 434.6l-3.6-2M709 436.1l-6.4-3.5l-1.8-1M711.1 437.8l-6.4-3.5l-6.3-3.3l-0.2-0.1M713.1 439.8l-6.3-3.5l-6.3-3.3l-4.9-2.4M715.2 442l-6.4-3.5l-6.3-3.3l-6.2-3.1l-3.2-1.5M717.2 444.4l-6.4-3.5l-6.3-3.3l-6.2-3.1l-6.2-2.8l-1.6-0.8M719.2 447l-6.4-3.5l-6.3-3.2l-6.2-3.1l-6.1-2.9l-6.1-2.7l-0.2 0M721.1 449.8l-6.3-3.4l-6.3-3.3l-6.2-3.1l-6.1-2.8l-6.1-2.7l-4.8-2M723.1 452.8l-6.3-3.4l-6.3-3.2l-6.2-3.1l-6.1-2.8l-6.1-2.7l-6-2.5l-3.4-1.3M725 456.1l-6.3-3.4l-6.2-3.3l-6.2-3l-6.2-2.9l-6-2.6l-6-2.5l-6-2.3l-2-0.7M726.9 459.5l-6.3-3.4l-6.2-3.2l-6.2-3l-6.1-2.9l-6.1-2.7l-6-2.4l-5.9-2.3l-5.9-2.1l-0.7-0.2M728.8 463.2l-6.3-3.4l-6.2-3.2l-6.2-3.1l-6.1-2.8l-6-2.7l-6-2.4l-5.9-2.3l-5.9-2.1l-5.3-1.8M730.6 467.1l-6.2-3.4l-6.2-3.3l-6.2-3l-6.1-2.8l-6-2.7l-6-2.5l-5.9-2.2l-5.9-2.2l-5.8-1.9l-3.9-1.2M732.4 471.1l-6.2-3.4l-6.2-3.2l-6.1-3l-6.1-2.9l-6-2.6l-6-2.5l-5.9-2.3l-5.8-2.1l-5.8-1.9l-5.8-1.8l-2.7-0.8M734.3 475.4l-6.3-3.4l-6.1-3.2l-6.2-3.1l-6-2.8l-6-2.7l-6-2.4l-5.9-2.3l-5.8-2.1l-5.8-2l-5.7-1.7l-5.7-1.6l-1.6-0.4M736 479.8l-6.2-3.4l-6.1-3.2l-6.1-3l-6.1-2.9l-6-2.6l-5.9-2.5l-5.9-2.3l-5.8-2.1l-5.8-1.9l-5.7-1.8l-5.7-1.6l-5.6-1.4l-0.5-0.1M737.8 484.4l-6.2-3.4l-6.1-3.2l-6.1-3l-6.1-2.8l-5.9-2.7l-6-2.5l-5.8-2.3l-5.8-2.1l-5.8-1.9l-5.7-1.8l-5.7-1.6l-5.6-1.4l-4.9-1.2M739.5 489.2l-6.1-3.4l-6.2-3.2l-6-3l-6.1-2.8l-5.9-2.7l-5.9-2.5l-5.9-2.3l-5.8-2.1l-5.7-1.9l-5.7-1.8l-5.7-1.6l-5.6-1.5l-5.5-1.2l-3.9-0.9M741.2 494.2l-6.1-3.4l-6.1-3.2l-6.1-3l-6-2.8l-5.9-2.7l-5.9-2.5l-5.9-2.3l-5.8-2.1l-5.7-2l-5.7-1.7l-5.6-1.7l-5.6-1.4l-5.5-1.3l-5.5-1.1l-2.8-0.6M742.9 499.4l-6.1-3.4l-6.1-3.2l-6-3l-6-2.9l-6-2.6l-5.8-2.5l-5.9-2.3l-5.7-2.2l-5.8-1.9l-5.6-1.8l-5.7-1.6l-5.5-1.5l-5.5-1.3l-5.5-1.2l-5.4-0.9l-1.9-0.3M744.6 504.7l-6.1-3.4l-6.1-3.2l-6-3l-6-2.8l-5.9-2.7l-5.9-2.5l-5.8-2.3l-5.7-2.1l-5.8-2l-5.6-1.8l-5.6-1.7l-5.6-1.4l-5.5-1.3l-5.4-1.2l-5.4-1l-5.3-0.8l-1-0.2M746.2 510.3l-6.1-3.4l-6-3.3l-6-3l-6-2.8l-5.9-2.7l-5.8-2.5l-5.8-2.3l-5.8-2.2l-5.7-1.9l-5.6-1.9l-5.6-1.6l-5.5-1.5l-5.5-1.3l-5.5-1.2l-5.3-1l-5.4-0.8l-5.2-0.8l-0.1 0" fill="none" stroke="#000" stroke-width="1.20" stroke-linejoin="round"/>
<path d="M568.7 438.6V526.6" stroke="#000" stroke-width="1.3" opacity="0.55"/>
<ellipse cx="612.2" cy="387.6" rx="3.3" ry="2.2" fill="#5c1c16" stroke="#2a0806" stroke-width=".5"/>
<ellipse cx="612.2" cy="393.1" rx="3.3" ry="2.8" fill="#5c1c16" stroke="#2a0806" stroke-width=".5"/>
<ellipse cx="612.2" cy="397.1" rx="3.3" ry="2.6" fill="#5c1c16" stroke="#2a0806" stroke-width=".5"/>
<text x="464.4" y="391.8" text-anchor="end" class="tk">210</text><text x="465.6" y="425.9" text-anchor="end" class="tk">172.5</text><text x="467.7" y="459.4" text-anchor="end" class="tk">135</text><text x="469.3" y="493.7" text-anchor="end" class="tk">97.5</text><text x="471.6" y="526.8" text-anchor="end" class="tk">60</text><text x="473.0" y="569.5" text-anchor="end" class="tk">6.50</text><text x="511.4" y="590.2" text-anchor="end" class="tk">6.00</text><text x="542.9" y="605.0" text-anchor="end" class="tk">5.50</text><text x="575.1" y="620.7" text-anchor="end" class="tk">5.00</text><text x="608.5" y="636.3" text-anchor="end" class="tk">4.50</text><text x="619.8" y="636.4" class="tk">0.00</text><text x="651.5" y="620.7" class="tk">0.75</text><text x="684.5" y="605.0" class="tk">1.50</text><text x="716.4" y="590.2" class="tk">2.25</text><text x="749.5" y="574.2" class="tk">3.00</text><text x="498.3" y="630.5" text-anchor="middle" class="ti">C: pH</text><text x="728.8" y="630.0" text-anchor="middle" class="ti">B: Methionine</text><text transform="translate(429.3 473.4) rotate(-90)" text-anchor="middle" class="tz">Amorphadiene (mg/l)</text><text x="613.1" y="664.6" text-anchor="middle" class="cap">(d)</text></g>
<g id="pe"><path d="M207.8 869.9L207.8 709.3M69.5 739.4L207.8 709.3M207.8 709.3L346.0 739.4" fill="none" stroke="#000" stroke-width="1.5"/>
<path d="M78.0 917.9L207.8 979.3L337.6 917.9L207.8 869.9z" fill="#ffff00" stroke="#000" stroke-width="1.3" stroke-linejoin="round"/>
<g fill="none" stroke-linecap="round" clip-path="url(#fle)">
<clipPath id="fle"><path d="M78.0 917.9L207.8 979.3L337.6 917.9L207.8 869.9z"/></clipPath>
<path d="M210.9 977.9l-6.5-2.2l-4.3-1.4l-6.3-2.1l-4.3-1.5" stroke="#a0f000" stroke-width="4.2" opacity=".5"/>
<path d="M210.9 977.9l-6.5-2.2l-4.3-1.4l-6.3-2.1l-4.3-1.5" stroke="#2bbb27" stroke-width="1.60"/>
<path d="M325.7 913.6l0.9 0.4l1.7 0.7l1.6 0.8l1.6 0.7l1.6 0.8l1.6 0.8l1.6 0.7" stroke="#a0f000" stroke-width="4.2" opacity=".5"/>
<path d="M325.7 913.6l0.9 0.4l1.7 0.7l1.6 0.8l1.6 0.7l1.6 0.8l1.6 0.8l1.6 0.7" stroke="#2bbb27" stroke-width="1.60"/>
<path d="M207 870.2l1.6 0.5l1.7 0.5l1.6 0.4l1.6 0.5l0.6 0.2" stroke="#a0f000" stroke-width="4.2" opacity=".5"/>
<path d="M207 870.2l1.6 0.5l1.7 0.5l1.6 0.4l1.6 0.5l0.6 0.2" stroke="#2bbb27" stroke-width="1.60"/>
<path d="M215.4 975.7l-4.4-1.3l-6.5-2.1l-4.2-1.4l-6.3-2.1l-5.1-1.8l-5.1-1.8l-6-2.2l-4.2-1.5l-5.4-2.1l-5.7-2.1l-5.5-2.2" stroke="#a0f000" stroke-width="4.2" opacity=".5"/>
<path d="M215.4 975.7l-4.4-1.3l-6.5-2.1l-4.2-1.4l-6.3-2.1l-5.1-1.8l-5.1-1.8l-6-2.2l-4.2-1.5l-5.4-2.1l-5.7-2.1l-5.5-2.2" stroke="#33be26" stroke-width="1.60"/>
<path d="M87.9 922.6l-1.2-0.6l-1.2-0.8l-1.3-0.7l-1.3-0.8l-1.3-0.7l-1.2-0.7l-1.3-0.8" stroke="#a0f000" stroke-width="4.2" opacity=".5"/>
<path d="M87.9 922.6l-1.2-0.6l-1.2-0.8l-1.3-0.7l-1.3-0.8l-1.3-0.7l-1.2-0.7l-1.3-0.8" stroke="#33be26" stroke-width="1.60"/>
<path d="M203.6 871.5l4.9 1.4l5 1.4l3.2 1l5 1.5l4.9 1.5l4.8 1.5l3.3 1.1l4.9 1.6l4.8 1.6l4.9 1.6l4.8 1.7l4.9 1.7l4.8 1.8l4.9 1.8l4.8 1.8l4.8 1.8l4.8 1.9l4.9 2l4.8 1.9l4.8 2l3.4 1.5l4.6 2l4.8 2.1l4.8 2.2l3.2 1.4l4.8 2.3l4.8 2.3l3.2 1.5" stroke="#a0f000" stroke-width="4.2" opacity=".5"/>
<path d="M203.6 871.5l4.9 1.4l5 1.4l3.2 1l5 1.5l4.9 1.5l4.8 1.5l3.3 1.1l4.9 1.6l4.8 1.6l4.9 1.6l4.8 1.7l4.9 1.7l4.8 1.8l4.9 1.8l4.8 1.8l4.8 1.8l4.8 1.9l4.9 2l4.8 1.9l4.8 2l3.4 1.5l4.6 2l4.8 2.1l4.8 2.2l3.2 1.4l4.8 2.3l4.8 2.3l3.2 1.5" stroke="#33be26" stroke-width="1.60"/>
<path d="M220.4 973.4l-6.7-2l-4.3-1.4l-6.4-2.1l-4.2-1.3l-6.2-2.1l-6.1-2.1l-4-1.4l-5.9-2.2l-5.7-2.1l-3.8-1.4l-5.5-2.2l-5.5-2.1l-5.3-2.2l-5.2-2.2l-3.4-1.4l-5.1-2.2l-4.9-2.2l-4.8-2.2l-4.7-2.2l-4.6-2.2l-4.5-2.2l-4.4-2.2l-4.3-2.2l-2.8-1.5l-4.1-2.2l-4-2.2l-3.9-2.2l-3.8-2.2l-2.5-1.5" stroke="#a0f000" stroke-width="4.2" opacity=".5"/>
<path d="M220.4 973.4l-6.7-2l-4.3-1.4l-6.4-2.1l-4.2-1.3l-6.2-2.1l-6.1-2.1l-4-1.4l-5.9-2.2l-5.7-2.1l-3.8-1.4l-5.5-2.2l-5.5-2.1l-5.3-2.2l-5.2-2.2l-3.4-1.4l-5.1-2.2l-4.9-2.2l-4.8-2.2l-4.7-2.2l-4.6-2.2l-4.5-2.2l-4.4-2.2l-4.3-2.2l-2.8-1.5l-4.1-2.2l-4-2.2l-3.9-2.2l-3.8-2.2l-2.5-1.5" stroke="#3ac224" stroke-width="1.60"/>
<path d="M199.8 872.9l5 1.4l3.3 0.9l5 1.5l4.9 1.5l3.3 1l4.9 1.5l4.9 1.6l4.9 1.6l4.5 1.5l3.6 1.2l4.9 1.7l4.8 1.7l4.9 1.7l4.8 1.8l4.8 1.9l4.8 1.8l4.9 1.9l4.8 2l3.2 1.3l4.8 2l4.7 2l4.8 2.1l4.8 2.1l3.2 1.5l4.7 2.2l4.8 2.3l3.1 1.5l4.8 2.4l3.1 1.6" stroke="#a0f000" stroke-width="4.2" opacity=".5"/>
<path d="M199.8 872.9l5 1.4l3.3 0.9l5 1.5l4.9 1.5l3.3 1l4.9 1.5l4.9 1.6l4.9 1.6l4.5 1.5l3.6 1.2l4.9 1.7l4.8 1.7l4.9 1.7l4.8 1.8l4.8 1.9l4.8 1.8l4.9 1.9l4.8 2l3.2 1.3l4.8 2l4.7 2l4.8 2.1l4.8 2.1l3.2 1.5l4.7 2.2l4.8 2.3l3.1 1.5l4.8 2.4l3.1 1.6" stroke="#3ac224" stroke-width="1.60"/>
<path d="M226.2 970.6l-4.5-1.3l-6.7-1.9l-4.3-1.3l-6.4-2.1l-4.2-1.3l-6.2-2.1l-4-1.3l-6-2.1l-5.8-2.1l-3.8-1.4l-5.6-2.1l-5.6-2.1l-5.3-2.2l-3.6-1.4l-5.2-2.1l-5-2.2l-5-2.2l-4.9-2.1l-4.7-2.2l-4.6-2.2l-4.6-2.2l-4.4-2.2l-4.3-2.2l-4.2-2.2l-2.7-1.4l-4-2.3l-3.9-2.2l-3.8-2.2l-2.5-1.5" stroke="#a0f000" stroke-width="4.2" opacity=".5"/>
<path d="M226.2 970.6l-4.5-1.3l-6.7-1.9l-4.3-1.3l-6.4-2.1l-4.2-1.3l-6.2-2.1l-4-1.3l-6-2.1l-5.8-2.1l-3.8-1.4l-5.6-2.1l-5.6-2.1l-5.3-2.2l-3.6-1.4l-5.2-2.1l-5-2.2l-5-2.2l-4.9-2.1l-4.7-2.2l-4.6-2.2l-4.6-2.2l-4.4-2.2l-4.3-2.2l-4.2-2.2l-2.7-1.4l-4-2.3l-3.9-2.2l-3.8-2.2l-2.5-1.5" stroke="#42c623" stroke-width="1.60"/>
<path d="M195.4 874.5l5 1.4l3.4 1l5 1.4l4.7 1.4l3.5 1.1l5 1.5l4.9 1.6l4.9 1.6l3.3 1.1l4.9 1.6l4.8 1.7l4.9 1.8l4.8 1.7l4.9 1.8l4.8 1.9l4.8 1.9l4.8 1.9l4.8 2l4.8 2l3.1 1.3l4.8 2.1l4.7 2.1l4.8 2.2l3.1 1.5l4.7 2.3l3.8 1.8l4 2.1l4.6 2.4l3.1 1.6" stroke="#a0f000" stroke-width="4.2" opacity=".5"/>
<path d="M195.4 874.5l5 1.4l3.4 1l5 1.4l4.7 1.4l3.5 1.1l5 1.5l4.9 1.6l4.9 1.6l3.3 1.1l4.9 1.6l4.8 1.7l4.9 1.8l4.8 1.7l4.9 1.8l4.8 1.9l4.8 1.9l4.8 1.9l4.8 2l4.8 2l3.1 1.3l4.8 2.1l4.7 2.1l4.8 2.2l3.1 1.5l4.7 2.3l3.8 1.8l4 2.1l4.6 2.4l3.1 1.6" stroke="#42c623" stroke-width="1.60"/>
<path d="M232 967.9l-4.6-1.2l-6.7-1.9l-4.5-1.3l-6.4-2l-4.3-1.3l-6.2-2l-4.1-1.3l-6-2l-5.9-2.1l-3.8-1.4l-5.7-2l-5.5-2.1l-3.7-1.4l-5.3-2.1l-5.2-2.1l-5.1-2.2l-5-2.1l-4.8-2.2l-4.8-2.1l-4.6-2.2l-4.5-2.2l-4.4-2.2l-4.3-2.1l-4.2-2.2l-3.8-2.1l-2.8-1.6l-3.9-2.2l-3.7-2.3l-2.4-1.5" stroke="#a0f000" stroke-width="4.2" opacity=".5"/>
<path d="M232 967.9l-4.6-1.2l-6.7-1.9l-4.5-1.3l-6.4-2l-4.3-1.3l-6.2-2l-4.1-1.3l-6-2l-5.9-2.1l-3.8-1.4l-5.7-2l-5.5-2.1l-3.7-1.4l-5.3-2.1l-5.2-2.1l-5.1-2.2l-5-2.1l-4.8-2.2l-4.8-2.1l-4.6-2.2l-4.5-2.2l-4.4-2.2l-4.3-2.1l-4.2-2.2l-3.8-2.1l-2.8-1.6l-3.9-2.2l-3.7-2.3l-2.4-1.5" stroke="#49ca21" stroke-width="1.60"/>
<path d="M190.9 876.2l5 1.3l3.5 1l5 1.4l3.4 1l5 1.5l5 1.6l4.9 1.5l3.3 1.1l4.9 1.6l4.9 1.7l4.9 1.7l4.9 1.7l4.8 1.8l4.9 1.8l4.8 1.9l4.8 1.9l4.7 2l4.8 2l4.7 2l3.2 1.4l4.7 2.1l4.7 2.2l4.7 2.2l3.1 1.5l4.6 2.3l3.1 1.6l4.5 2.4l3.4 1.8l4.2 2.4" stroke="#a0f000" stroke-width="4.2" opacity=".5"/>
<path d="M190.9 876.2l5 1.3l3.5 1l5 1.4l3.4 1l5 1.5l5 1.6l4.9 1.5l3.3 1.1l4.9 1.6l4.9 1.7l4.9 1.7l4.9 1.7l4.8 1.8l4.9 1.8l4.8 1.9l4.8 1.9l4.7 2l4.8 2l4.7 2l3.2 1.4l4.7 2.1l4.7 2.2l4.7 2.2l3.1 1.5l4.6 2.3l3.1 1.6l4.5 2.4l3.4 1.8l4.2 2.4" stroke="#49ca21" stroke-width="1.60"/>
<path d="M238.4 964.9l-4.7-1.2l-4.6-1.2l-6.8-1.8l-4.4-1.3l-6.5-1.8l-4.2-1.3l-6.3-2l-4-1.3l-6-2l-4.2-1.4l-5.5-1.9l-5.6-2.1l-5.5-2l-3.6-1.4l-5.3-2.1l-5.1-2.1l-5.1-2.1l-4.9-2.1l-4.7-2.2l-4.7-2.1l-4.5-2.2l-4.4-2.2l-4.3-2.1l-4.2-2.2l-3.3-1.8l-3.4-1.9l-3.8-2.2l-3.7-2.2l-2.4-1.5" stroke="#a0f000" stroke-width="4.2" opacity=".5"/>
<path d="M238.4 964.9l-4.7-1.2l-4.6-1.2l-6.8-1.8l-4.4-1.3l-6.5-1.8l-4.2-1.3l-6.3-2l-4-1.3l-6-2l-4.2-1.4l-5.5-1.9l-5.6-2.1l-5.5-2l-3.6-1.4l-5.3-2.1l-5.1-2.1l-5.1-2.1l-4.9-2.1l-4.7-2.2l-4.7-2.1l-4.5-2.2l-4.4-2.2l-4.3-2.1l-4.2-2.2l-3.3-1.8l-3.4-1.9l-3.8-2.2l-3.7-2.2l-2.4-1.5" stroke="#51cd20" stroke-width="1.60"/>
<path d="M185.9 878l5.3 1.4l3.4 0.9l5.1 1.4l5 1.4l3.5 1.1l5 1.5l5 1.6l3.3 1.1l5 1.6l4.9 1.7l4.9 1.7l4.8 1.8l4.9 1.8l4.8 1.8l4.8 1.9l4.8 1.9l4.7 2l4.7 2l4.7 2.1l3.2 1.4l4.6 2.2l4.6 2.2l3.1 1.5l4.6 2.3l4 2.1l3.5 1.9l4.1 2.3l3.3 1.9l2.9 1.8" stroke="#a0f000" stroke-width="4.2" opacity=".5"/>
<path d="M185.9 878l5.3 1.4l3.4 0.9l5.1 1.4l5 1.4l3.5 1.1l5 1.5l5 1.6l3.3 1.1l5 1.6l4.9 1.7l4.9 1.7l4.8 1.8l4.9 1.8l4.8 1.8l4.8 1.9l4.8 1.9l4.7 2l4.7 2l4.7 2.1l3.2 1.4l4.6 2.2l4.6 2.2l3.1 1.5l4.6 2.3l4 2.1l3.5 1.9l4.1 2.3l3.3 1.9l2.9 1.8" stroke="#51cd20" stroke-width="1.60"/>
<path d="M245.1 961.7l-6.4-1.4l-5.6-1.3l-4.6-1.2l-5.9-1.5l-5.3-1.4l-4.3-1.2l-6.4-1.9l-4.1-1.3l-6.1-1.9l-5.8-1.9l-4-1.4l-5.6-2l-5.6-2l-3.6-1.4l-5.3-2l-5.2-2.1l-5-2.1l-4.9-2.1l-4.8-2.1l-4.6-2.1l-4.5-2.2l-4.4-2.1l-4.3-2.2l-4.1-2.2l-2.7-1.5l-3.9-2.2l-3.7-2.2l-2.4-1.5l-3.5-2.3" stroke="#a0f000" stroke-width="4.2" opacity=".5"/>
<path d="M245.1 961.7l-6.4-1.4l-5.6-1.3l-4.6-1.2l-5.9-1.5l-5.3-1.4l-4.3-1.2l-6.4-1.9l-4.1-1.3l-6.1-1.9l-5.8-1.9l-4-1.4l-5.6-2l-5.6-2l-3.6-1.4l-5.3-2l-5.2-2.1l-5-2.1l-4.9-2.1l-4.8-2.1l-4.6-2.1l-4.5-2.2l-4.4-2.1l-4.3-2.2l-4.1-2.2l-2.7-1.5l-3.9-2.2l-3.7-2.2l-2.4-1.5l-3.5-2.3" stroke="#57d11f" stroke-width="1.60"/>
<path d="M180.9 879.9l3.6 0.9l5.2 1.3l3.5 1l5.2 1.4l3.4 1l5.1 1.5l5.1 1.5l3.9 1.3l4.4 1.4l5 1.7l4.9 1.7l4.9 1.8l4.8 1.8l4.8 1.8l4.8 1.9l4.8 1.9l4.7 2l4.7 2.1l4.7 2.1l3.1 1.4l4.6 2.2l4.5 2.3l3 1.5l4.5 2.4l3 1.6l4.3 2.5l2.9 1.7l4.2 2.6l2.8 1.8l2.7 1.9" stroke="#a0f000" stroke-width="4.2" opacity=".5"/>
<path d="M180.9 879.9l3.6 0.9l5.2 1.3l3.5 1l5.2 1.4l3.4 1l5.1 1.5l5.1 1.5l3.9 1.3l4.4 1.4l5 1.7l4.9 1.7l4.9 1.8l4.8 1.8l4.8 1.8l4.8 1.9l4.8 1.9l4.7 2l4.7 2.1l4.7 2.1l3.1 1.4l4.6 2.2l4.5 2.3l3 1.5l4.5 2.4l3 1.6l4.3 2.5l2.9 1.7l4.2 2.6l2.8 1.8l2.7 1.9" stroke="#57d11f" stroke-width="1.60"/>
<path d="M256 956.6l-5.4-0.9l-5.1-0.8l-7.5-1.5l-4.8-1l-4.7-1l-6.8-1.7l-4.4-1.1l-4.3-1.2l-6.3-1.8l-4.1-1.2l-6-1.9l-5.7-1.8l-4-1.4l-5.6-1.9l-5.4-2l-3.5-1.4l-5.1-2l-5.1-2.1l-4.8-2.1l-4.7-2.1l-4.6-2.1l-4.4-2.1l-4.3-2.2l-2.8-1.4l-4-2.2l-3.9-2.3l-2.5-1.5l-3.5-2.2l-3.1-2l-2.5-1.9" stroke="#f2c000" stroke-width="0.90"/>
<path d="M173.1 882.8l3.7 0.8l5.2 1.2l4 1l4.6 1.2l4.2 1.2l5.2 1.4l3.5 1.1l5.1 1.5l5 1.7l3.6 1.1l4.8 1.7l4.9 1.7l4.8 1.8l4.9 1.9l4.7 1.9l4.8 2l4.7 2l3.1 1.4l4.5 2.1l4.6 2.2l4 2l3.4 1.8l4.4 2.4l2.8 1.6l4.2 2.6l2.8 1.7l2.6 1.8l3.8 2.7l2.6 2.1l2.4 2l2.2 2.1" stroke="#f2c000" stroke-width="0.90"/>
<path d="M163.8 886.2l4.1 0.7l4 0.8l4.7 0.9l4.9 1.2l3.8 0.8l5.4 1.5l3.6 0.9l5.3 1.6l4.3 1.3l4.3 1.3l5.1 1.7l4.9 1.8l4.9 1.8l4.9 1.8l4.7 2l4.7 2l4.6 2l4.6 2.2l2.9 1.4l4.4 2.3l4.3 2.4l2.8 1.6l3.5 2.2l3.1 2.1l2.5 1.9l2.4 1.9l2.7 2.4l2.1 2.2l1.6 2l1.2 2.2l0.8 2.7l-0.2 1.8l-1.1 2.1l-3.7 2.5l-4.2 1.3l-5 0.7l-6.4 0.2l-4.2-0.1l-6-0.5l-5.6-0.6l-5.3-0.7l-5-0.9l-4.9-0.9l-4.7-1l-5.8-1.3l-5.3-1.3l-4.3-1.1l-6.1-1.8l-4-1.2l-5.9-1.8l-5.1-1.7l-4.2-1.5l-5.3-1.9l-5.1-2l-5-2.1l-4.8-2l-4.7-2.1l-4.4-2.2l-4.3-2.1l-4.1-2.2l-2.7-1.5l-3.8-2.2l-3.6-2.3l-2.2-1.6l-2.9-2.1l-2.3-1.9l-1.8-1.6" stroke="#f2c000" stroke-width="0.90"/>
<path d="M204.7 903.6l5 1.8l4.9 1.8l4.8 2l4.6 2l3 1.4l4.3 2.3l4.2 2.3l2.6 1.7l2.9 2l3 2.5l2 2l1.4 2.1l0.6 1.6l-0.6 2.5l-2.4 1.8l-4.1 1.1l-6 0.3l-3.7-0.1l-5.3-0.5l-5-0.8l-4.8-0.8l-6.6-1.5l-4.3-1l-4.3-1.2l-5.5-1.7l-5.6-1.8l-3.5-1.3l-5.1-1.9l-4.9-2l-4.6-2.1l-4.4-2.1l-2.8-1.5l-3.9-2.2l-3.1-2l-2.7-2l-2.1-1.6l-2-2l-1.5-2l-0.7-1.6l0-2.3l1.3-1.7l3.8-1.6l4.7-0.6l3.7-0.1l5.4 0.3l4.7 0.6l4.4 0.6l4.1 0.8l4 0.9l5.8 1.4l3.7 1l5.4 1.5l4.9 1.6" stroke="#f2c000" stroke-width="0.90"/>
</g>
<path d="M207.8 979.3l-1.5 2.2M207.8 979.3l1.5 2.2M172.1 962.4l-1.5 2.2M243.5 962.4l1.5 2.2M138.7 946.6l-1.5 2.2M276.9 946.6l1.5 2.2M107.4 931.8l-1.5 2.2M308.2 931.8l1.5 2.2M78.0 917.9l-1.5 2.2M337.6 917.9l1.5 2.2" stroke="#000" stroke-width="1" fill="none"/>
<path d="M78.0 917.9L69.5 739.4M337.6 917.9L346.0 739.4" fill="none" stroke="#000" stroke-width="1.6"/>
<path d="M69.8 739.4h-1.6M71.5 774.5h-1.6M73.1 808.8h-1.6M74.7 842.3h-1.6M76.3 875.0h-1.6" stroke="#c00000" stroke-width="1.4" fill="none"/>
<path d="M136.6 866.4V878.7" stroke="#000" stroke-width="1.5"/>
<circle cx="136.6" cy="880.2" r="1.9" fill="#fff" stroke="#000" stroke-width="1.5"/>
<path d="M268.8 820.4V837.7" stroke="#000" stroke-width="1.5"/>
<circle cx="268.8" cy="839.2" r="1.9" fill="#fff" stroke="#000" stroke-width="1.5"/>
<g stroke-width=".5" stroke-linejoin="round">
<path d="M242.3 808.1l6.3 16.4l-7-1.2l-6.4-16.4z" fill="#00593a" stroke="#00593a"/>
<path d="M235.7 793.5l6.6 14.6l-7.1-1.2l-6.6-14.5z" fill="#00591d" stroke="#00591d"/>
<path d="M249.5 809.6l6.3 16.5l-7.2-1.6l-6.3-16.4z" fill="#005939" stroke="#005939"/>
<path d="M157.7 746.1l7.5 2.2l-6.7 0.5l-7.5-2.2z" fill="#8e3f00" stroke="#8e3f00"/>
<path d="M243 795l6.5 14.6l-7.2-1.5l-6.6-14.6z" fill="#00591c" stroke="#00591c"/>
<path d="M256.7 811.5l6.3 16.5l-7.2-1.9l-6.3-16.5z" fill="#005938" stroke="#005938"/>
<path d="M150.1 746.2l7.6-0.1l-6.7 0.5l-7.6 0.1z" fill="#8d2800" stroke="#8d2800"/>
<path d="M164.5 745.9l7.5 2.2l-6.8 0.2l-7.5-2.2z" fill="#842b00" stroke="#842b00"/>
<path d="M250.3 796.8l6.4 14.7l-7.2-1.9l-6.5-14.6z" fill="#00591b" stroke="#00591b"/>
<path d="M264.1 813.6l6.2 16.6l-7.3-2.2l-6.3-16.5z" fill="#005938" stroke="#005938"/>
<path d="M142.5 748.7l7.6-2.5l-6.7 0.5l-7.6 2.4z" fill="#962500" stroke="#962500"/>
<path d="M157 746.1l7.5-0.2l-6.8 0.2l-7.6 0.1z" fill="#831400" stroke="#831400"/>
<path d="M257.7 798.9l6.4 14.7l-7.4-2.1l-6.4-14.7z" fill="#00591b" stroke="#00591b"/>
<path d="M271.6 816.2l6.1 16.5l-7.4-2.5l-6.2-16.6z" fill="#005938" stroke="#005938"/>
<path d="M171.5 746l7.5 2.2l-7-0.1l-7.5-2.2z" fill="#7b1900" stroke="#7b1900"/>
<path d="M186 748.6l7.4 4.3l-7-0.4l-7.4-4.3z" fill="#7d3400" stroke="#7d3400"/>
<path d="M243.6 784l6.7 12.8l-7.3-1.8l-6.7-12.8z" fill="#02540c" stroke="#02540c"/>
<path d="M134.8 753.5l7.7-4.8l-6.7 0.4l-7.7 4.8z" fill="#a83c00" stroke="#a83c00"/>
<path d="M149.3 748.6l7.7-2.5l-6.9 0.1l-7.6 2.5z" fill="#8e1500" stroke="#8e1500"/>
<path d="M163.9 746.2l7.6-0.2l-7-0.1l-7.5 0.2z" fill="#821200" stroke="#821200"/>
<path d="M178.5 746.5l7.5 2.1l-7-0.4l-7.5-2.2z" fill="#771200" stroke="#771200"/>
<path d="M193.2 749.3l7.3 4.4l-7.1-0.8l-7.4-4.3z" fill="#782900" stroke="#782900"/>
<path d="M251.1 786.1l6.6 12.8l-7.4-2.1l-6.7-12.8z" fill="#02550c" stroke="#02550c"/>
<path d="M265.2 801.4l6.4 14.8l-7.5-2.6l-6.4-14.7z" fill="#00591b" stroke="#00591b"/>
<path d="M279.1 819l6.1 16.6l-7.5-2.9l-6.1-16.5z" fill="#005939" stroke="#005939"/>
<path d="M127.1 760.7l7.7-7.2l-6.7 0.4l-7.7 7.1z" fill="#c76f00" stroke="#c76f00"/>
<path d="M141.6 753.5l7.7-4.9l-6.8 0.1l-7.7 4.8z" fill="#9c2300" stroke="#9c2300"/>
<path d="M156.2 748.8l7.7-2.6l-6.9-0.1l-7.7 2.5z" fill="#8c1300" stroke="#8c1300"/>
<path d="M170.9 746.8l7.6-0.3l-7-0.5l-7.6 0.2z" fill="#811000" stroke="#811000"/>
<path d="M185.7 747.3l7.5 2l-7.2-0.7l-7.5-2.1z" fill="#761000" stroke="#761000"/>
<path d="M200.4 750.5l7.4 4.3l-7.3-1.1l-7.3-4.4z" fill="#742100" stroke="#742100"/>
<path d="M258.6 788.6l6.6 12.8l-7.5-2.5l-6.6-12.8z" fill="#02550c" stroke="#02550c"/>
<path d="M272.8 804.3l6.3 14.7l-7.5-2.8l-6.4-14.8z" fill="#00591c" stroke="#00591c"/>
<path d="M286.7 822.3l6.1 16.6l-7.6-3.3l-6.1-16.6z" fill="#00593a" stroke="#00593a"/>
<path d="M119.4 770.4l7.7-9.7l-6.7 0.3l-7.6 9.5z" fill="#e0cf00" stroke="#e0cf00"/>
<path d="M133.9 760.8l7.7-7.3l-6.8 0l-7.7 7.2z" fill="#ba5600" stroke="#ba5600"/>
<path d="M148.5 753.8l7.7-5l-6.9-0.2l-7.7 4.9z" fill="#961700" stroke="#961700"/>
<path d="M163.3 749.4l7.6-2.6l-7-0.6l-7.7 2.6z" fill="#8b1100" stroke="#8b1100"/>
<path d="M178.1 747.6l7.6-0.3l-7.2-0.8l-7.6 0.3z" fill="#800f00" stroke="#800f00"/>
<path d="M192.9 748.5l7.5 2l-7.2-1.2l-7.5-2z" fill="#750f00" stroke="#750f00"/>
<path d="M207.8 751.9l7.3 4.3l-7.3-1.4l-7.4-4.3z" fill="#711c00" stroke="#711c00"/>
<path d="M251.9 777.8l6.7 10.8l-7.5-2.5l-6.8-10.8z" fill="#035000" stroke="#035000"/>
<path d="M266.3 791.5l6.5 12.8l-7.6-2.9l-6.6-12.8z" fill="#02550c" stroke="#02550c"/>
<path d="M280.5 807.5l6.2 14.8l-7.6-3.3l-6.3-14.7z" fill="#00591d" stroke="#00591d"/>
<path d="M294.5 825.9l5.9 16.6l-7.6-3.6l-6.1-16.6z" fill="#00593c" stroke="#00593c"/>
<path d="M111.7 782.5l7.7-12.1l-6.6 0.1l-7.7 12z" fill="#62bc00" stroke="#62bc00"/>
<path d="M126.1 770.6l7.8-9.8l-6.8-0.1l-7.7 9.7z" fill="#d9b100" stroke="#d9b100"/>
<path d="M170.4 750.3l7.7-2.7l-7.2-0.8l-7.6 2.6z" fill="#890f00" stroke="#890f00"/>
<path d="M185.4 748.8l7.5-0.3l-7.2-1.2l-7.6 0.3z" fill="#7f0e00" stroke="#7f0e00"/>
<path d="M288.3 811.1l6.2 14.8l-7.8-3.6l-6.2-14.8z" fill="#00591f" stroke="#00591f"/>
<path d="M302.3 829.8l5.9 16.7l-7.8-4l-5.9-16.6z" fill="#00593e" stroke="#00593e"/>
<path d="M140.8 761.3l7.7-7.5l-6.9-0.3l-7.7 7.3z" fill="#b04200" stroke="#b04200"/>
<path d="M155.5 754.5l7.8-5.1l-7.1-0.6l-7.7 5z" fill="#941400" stroke="#941400"/>
<path d="M200.3 750l7.5 1.9l-7.4-1.4l-7.5-2z" fill="#750f00" stroke="#750f00"/>
<path d="M215.3 753.7l7.3 4.3l-7.5-1.8l-7.3-4.3z" fill="#701a00" stroke="#701a00"/>
<path d="M259.6 780.7l6.7 10.8l-7.7-2.9l-6.7-10.8z" fill="#035001" stroke="#035001"/>
<path d="M274 794.7l6.5 12.8l-7.7-3.2l-6.5-12.8z" fill="#01550d" stroke="#01550d"/>
<path d="M104 797l7.7-14.5l-6.6 0l-7.6 14.3z" fill="#059e06" stroke="#059e06"/>
<path d="M118.4 782.8l7.7-12.2l-6.7-0.2l-7.7 12.1z" fill="#85c700" stroke="#85c700"/>
<path d="M133 771.2l7.8-9.9l-6.9-0.5l-7.8 9.8z" fill="#d49800" stroke="#d49800"/>
<path d="M147.8 762l7.7-7.5l-7-0.7l-7.7 7.5z" fill="#a83100" stroke="#a83100"/>
<path d="M162.7 755.5l7.7-5.2l-7.1-0.9l-7.8 5.1z" fill="#931300" stroke="#931300"/>
<path d="M177.7 751.6l7.7-2.8l-7.3-1.2l-7.7 2.7z" fill="#890e00" stroke="#890e00"/>
<path d="M192.7 750.4l7.6-0.4l-7.4-1.5l-7.5 0.3z" fill="#7e0d00" stroke="#7e0d00"/>
<path d="M207.8 751.8l7.5 1.9l-7.5-1.8l-7.5-1.9z" fill="#750e00" stroke="#750e00"/>
<path d="M222.8 755.9l7.3 4.2l-7.5-2.1l-7.3-4.3z" fill="#701a00" stroke="#701a00"/>
<path d="M237.8 762.7l7.1 6.4l-7.6-2.5l-7.2-6.5z" fill="#7f5200" stroke="#7f5200"/>
<path d="M267.3 783.9l6.7 10.8l-7.7-3.2l-6.7-10.8z" fill="#035002" stroke="#035002"/>
<path d="M281.9 798.3l6.4 12.8l-7.8-3.6l-6.5-12.8z" fill="#01550e" stroke="#01550e"/>
<path d="M296.2 815.1l6.1 14.7l-7.8-3.9l-6.2-14.8z" fill="#005921" stroke="#005921"/>
<path d="M310.2 834.2l5.8 16.6l-7.8-4.3l-5.9-16.7z" fill="#005840" stroke="#005840"/>
<path d="M96.4 813.9l7.6-16.9l-6.5-0.2l-7.6 16.8z" fill="#029c1a" stroke="#029c1a"/>
<path d="M110.7 797.5l7.7-14.7l-6.7-0.3l-7.7 14.5z" fill="#069d03" stroke="#069d03"/>
<path d="M125.2 783.5l7.8-12.3l-6.9-0.6l-7.7 12.2z" fill="#a3d000" stroke="#a3d000"/>
<path d="M140 772l7.8-10l-7-0.7l-7.8 9.9z" fill="#cf8400" stroke="#cf8400"/>
<path d="M154.9 763.1l7.8-7.6l-7.2-1l-7.7 7.5z" fill="#a12400" stroke="#a12400"/>
<path d="M169.9 756.9l7.8-5.3l-7.3-1.3l-7.7 5.2z" fill="#921200" stroke="#921200"/>
<path d="M185 753.3l7.7-2.9l-7.3-1.6l-7.7 2.8z" fill="#880e00" stroke="#880e00"/>
<path d="M200.2 752.3l7.6-0.5l-7.5-1.8l-7.6 0.4z" fill="#7e0d00" stroke="#7e0d00"/>
<path d="M215.4 754.1l7.4 1.8l-7.5-2.2l-7.5-1.9z" fill="#740f00" stroke="#740f00"/>
<path d="M230.5 758.5l7.3 4.2l-7.7-2.6l-7.3-4.2z" fill="#721d00" stroke="#721d00"/>
<path d="M245.5 765.6l7.1 6.4l-7.7-2.9l-7.1-6.4z" fill="#805800" stroke="#805800"/>
<path d="M260.5 775.3l6.8 8.6l-7.7-3.2l-7-8.7z" fill="#507000" stroke="#507000"/>
<path d="M275.2 787.5l6.7 10.8l-7.9-3.6l-6.7-10.8z" fill="#034f03" stroke="#034f03"/>
<path d="M289.8 802.2l6.4 12.9l-7.9-4l-6.4-12.8z" fill="#01550f" stroke="#01550f"/>
<path d="M304.1 819.4l6.1 14.8l-7.9-4.4l-6.1-14.7z" fill="#005824" stroke="#005824"/>
<path d="M318.2 838.9l5.7 16.6l-7.9-4.7l-5.8-16.6z" fill="#005743" stroke="#005743"/>
<path d="M88.9 833.2l7.5-19.3l-6.5-0.3l-7.5 19.1z" fill="#009a34" stroke="#009a34"/>
<path d="M103 814.6l7.7-17.1l-6.7-0.5l-7.6 16.9z" fill="#039c17" stroke="#039c17"/>
<path d="M147.1 773.3l7.8-10.2l-7.1-1.1l-7.8 10z" fill="#cc7500" stroke="#cc7500"/>
<path d="M207.8 754.6l7.6-0.5l-7.6-2.3l-7.6 0.5z" fill="#7e0d00" stroke="#7e0d00"/>
<path d="M268.4 778.9l6.8 8.6l-7.9-3.6l-6.8-8.6z" fill="#446c00" stroke="#446c00"/>
<path d="M312.2 824.1l6 14.8l-8-4.7l-6.1-14.8z" fill="#005827" stroke="#005827"/>
<path d="M326.3 844l5.6 16.6l-8-5.1l-5.7-16.6z" fill="#005646" stroke="#005646"/>
<path d="M117.5 798.4l7.7-14.9l-6.8-0.7l-7.7 14.7z" fill="#069d01" stroke="#069d01"/>
<path d="M132.2 784.6l7.8-12.6l-7-0.8l-7.8 12.3z" fill="#bad700" stroke="#bad700"/>
<path d="M162.1 764.6l7.8-7.7l-7.2-1.4l-7.8 7.6z" fill="#9d1b00" stroke="#9d1b00"/>
<path d="M177.3 758.6l7.7-5.3l-7.3-1.7l-7.8 5.3z" fill="#921100" stroke="#921100"/>
<path d="M192.5 755.3l7.7-3l-7.5-1.9l-7.7 2.9z" fill="#880d00" stroke="#880d00"/>
<path d="M223.1 756.7l7.4 1.8l-7.7-2.6l-7.4-1.8z" fill="#750f00" stroke="#750f00"/>
<path d="M238.3 761.5l7.2 4.1l-7.7-2.9l-7.3-4.2z" fill="#742300" stroke="#742300"/>
<path d="M253.4 768.9l7.1 6.4l-7.9-3.3l-7.1-6.4z" fill="#826100" stroke="#826100"/>
<path d="M283.2 791.5l6.6 10.7l-7.9-3.9l-6.7-10.8z" fill="#034f04" stroke="#034f04"/>
<path d="M297.8 806.6l6.3 12.8l-7.9-4.3l-6.4-12.9z" fill="#015511" stroke="#015511"/>
<path d="M81.4 854.9l7.5-21.7l-6.5-0.5l-7.4 21.5z" fill="#00925f" stroke="#00925f"/>
<path d="M95.4 834.1l7.6-19.5l-6.6-0.7l-7.5 19.3z" fill="#009a30" stroke="#009a30"/>
<path d="M109.8 815.6l7.7-17.2l-6.8-0.9l-7.7 17.1z" fill="#039c15" stroke="#039c15"/>
<path d="M139.2 785.9l7.9-12.6l-7.1-1.3l-7.8 12.6z" fill="#cbdd00" stroke="#cbdd00"/>
<path d="M154.3 774.9l7.8-10.3l-7.2-1.5l-7.8 10.2z" fill="#c76d00" stroke="#c76d00"/>
<path d="M200.1 757.7l7.7-3.1l-7.6-2.3l-7.7 3z" fill="#880e00" stroke="#880e00"/>
<path d="M215.5 757.3l7.6-0.6l-7.7-2.6l-7.6 0.5z" fill="#7e0d00" stroke="#7e0d00"/>
<path d="M261.4 772.5l7 6.4l-7.9-3.6l-7.1-6.4z" fill="#856c00" stroke="#856c00"/>
<path d="M276.4 782.9l6.8 8.6l-8-4l-6.8-8.6z" fill="#346600" stroke="#346600"/>
<path d="M305.9 811.4l6.3 12.7l-8.1-4.7l-6.3-12.8z" fill="#015512" stroke="#015512"/>
<path d="M320.3 829.2l6 14.8l-8.1-5.1l-6-14.8z" fill="#00582a" stroke="#00582a"/>
<path d="M334.4 849.5l5.6 16.6l-8.1-5.5l-5.6-16.6z" fill="#00554a" stroke="#00554a"/>
<path d="M124.4 799.5l7.8-14.9l-7-1.1l-7.7 14.9z" fill="#0ea000" stroke="#0ea000"/>
<path d="M169.4 766.5l7.9-7.9l-7.4-1.7l-7.8 7.7z" fill="#9b1800" stroke="#9b1800"/>
<path d="M184.7 760.7l7.8-5.4l-7.5-2l-7.7 5.3z" fill="#911100" stroke="#911100"/>
<path d="M230.8 759.7l7.5 1.8l-7.8-3l-7.4-1.8z" fill="#751000" stroke="#751000"/>
<path d="M246.2 764.8l7.2 4.1l-7.9-3.3l-7.2-4.1z" fill="#792c00" stroke="#792c00"/>
<path d="M291.3 795.9l6.5 10.7l-8-4.4l-6.6-10.7z" fill="#024f05" stroke="#024f05"/>
<path d="M87.9 856l7.5-21.9l-6.5-0.9l-7.5 21.7z" fill="#00925b" stroke="#00925b"/>
<path d="M102.1 835.3l7.7-19.7l-6.8-1l-7.6 19.5z" fill="#009b2c" stroke="#009b2c"/>
<path d="M116.6 817l7.8-17.5l-6.9-1.1l-7.7 17.2z" fill="#039c13" stroke="#039c13"/>
<path d="M131.4 801.1l7.8-15.2l-7-1.3l-7.8 14.9z" fill="#1aa400" stroke="#1aa400"/>
<path d="M146.4 787.7l7.9-12.8l-7.2-1.6l-7.9 12.6z" fill="#d7e000" stroke="#d7e000"/>
<path d="M161.6 776.9l7.8-10.4l-7.3-1.9l-7.8 10.3z" fill="#c56800" stroke="#c56800"/>
<path d="M192.3 763.2l7.8-5.5l-7.6-2.4l-7.8 5.4z" fill="#911100" stroke="#911100"/>
<path d="M207.8 760.5l7.7-3.2l-7.7-2.7l-7.7 3.1z" fill="#880e00" stroke="#880e00"/>
<path d="M223.3 760.4l7.5-0.7l-7.7-3l-7.6 0.6z" fill="#7f0e00" stroke="#7f0e00"/>
<path d="M254.1 768.5l7.3 4l-8-3.6l-7.2-4.1z" fill="#7e3700" stroke="#7e3700"/>
<path d="M269.4 776.6l7 6.3l-8-4l-7-6.4z" fill="#887b00" stroke="#887b00"/>
<path d="M284.5 787.4l6.8 8.5l-8.1-4.4l-6.8-8.6z" fill="#266200" stroke="#266200"/>
<path d="M299.5 800.7l6.4 10.7l-8.1-4.8l-6.5-10.7z" fill="#024f07" stroke="#024f07"/>
<path d="M314.1 816.5l6.2 12.7l-8.1-5.1l-6.3-12.7z" fill="#005514" stroke="#005514"/>
<path d="M328.6 834.8l5.8 14.7l-8.1-5.5l-6-14.8z" fill="#00572e" stroke="#00572e"/>
<path d="M176.9 768.7l7.8-8l-7.4-2.1l-7.9 7.9z" fill="#9b1800" stroke="#9b1800"/>
<path d="M238.7 763.1l7.5 1.7l-7.9-3.3l-7.5-1.8z" fill="#761100" stroke="#761100"/>
<path d="M94.6 857.4l7.5-22.1l-6.7-1.2l-7.5 21.9z" fill="#009357" stroke="#009357"/>
<path d="M108.9 836.9l7.7-19.9l-6.8-1.4l-7.7 19.7z" fill="#009b2a" stroke="#009b2a"/>
<path d="M123.6 818.7l7.8-17.6l-7-1.6l-7.8 17.5z" fill="#049c12" stroke="#049c12"/>
<path d="M138.5 803l7.9-15.3l-7.2-1.8l-7.8 15.2z" fill="#22a600" stroke="#22a600"/>
<path d="M153.7 789.8l7.9-12.9l-7.3-2l-7.9 12.8z" fill="#dce200" stroke="#dce200"/>
<path d="M169 779.3l7.9-10.6l-7.5-2.2l-7.8 10.4z" fill="#c56800" stroke="#c56800"/>
<path d="M184.4 771.3l7.9-8.1l-7.6-2.5l-7.8 8z" fill="#9b1800" stroke="#9b1800"/>
<path d="M200 766.1l7.8-5.6l-7.7-2.8l-7.8 5.5z" fill="#921200" stroke="#921200"/>
<path d="M215.6 763.6l7.7-3.2l-7.8-3.1l-7.7 3.2z" fill="#890f00" stroke="#890f00"/>
<path d="M231.2 763.9l7.5-0.8l-7.9-3.4l-7.5 0.7z" fill="#801000" stroke="#801000"/>
<path d="M246.7 766.9l7.4 1.6l-7.9-3.7l-7.5-1.7z" fill="#771300" stroke="#771300"/>
<path d="M262.2 772.7l7.2 3.9l-8-4.1l-7.3-4z" fill="#854500" stroke="#854500"/>
<path d="M277.6 781.1l6.9 6.3l-8.1-4.5l-7-6.3z" fill="#8a8b00" stroke="#8a8b00"/>
<path d="M292.8 792.2l6.7 8.5l-8.2-4.8l-6.8-8.5z" fill="#155d00" stroke="#155d00"/>
<path d="M307.7 805.9l6.4 10.6l-8.2-5.1l-6.4-10.7z" fill="#024f09" stroke="#024f09"/>
<path d="M322.4 822.1l6.2 12.7l-8.3-5.6l-6.2-12.7z" fill="#005517" stroke="#005517"/>
<path d="M115.9 838.8l7.7-20.1l-7-1.7l-7.7 19.9z" fill="#009b28" stroke="#009b28"/>
<path d="M176.5 782l7.9-10.7l-7.5-2.6l-7.9 10.6z" fill="#c66c00" stroke="#c66c00"/>
<path d="M239.2 767.8l7.5-0.9l-8-3.8l-7.5 0.8z" fill="#811100" stroke="#811100"/>
<path d="M301.1 797.4l6.6 8.5l-8.2-5.2l-6.7-8.5z" fill="#035700" stroke="#035700"/>
<path d="M101.3 859.2l7.6-22.3l-6.8-1.6l-7.5 22.1z" fill="#009354" stroke="#009354"/>
<path d="M130.7 820.8l7.8-17.8l-7.1-1.9l-7.8 17.6z" fill="#049c11" stroke="#049c11"/>
<path d="M145.8 805.3l7.9-15.5l-7.3-2.1l-7.9 15.3z" fill="#25a700" stroke="#25a700"/>
<path d="M161.1 792.4l7.9-13.1l-7.4-2.4l-7.9 12.9z" fill="#dbe100" stroke="#dbe100"/>
<path d="M192.1 774.3l7.9-8.2l-7.7-2.9l-7.9 8.1z" fill="#9e2000" stroke="#9e2000"/>
<path d="M207.8 769.4l7.8-5.8l-7.8-3.1l-7.8 5.6z" fill="#921300" stroke="#921300"/>
<path d="M223.5 767.2l7.7-3.3l-7.9-3.5l-7.7 3.2z" fill="#8a1100" stroke="#8a1100"/>
<path d="M254.9 771.1l7.3 1.6l-8.1-4.2l-7.4-1.6z" fill="#7e2200" stroke="#7e2200"/>
<path d="M270.4 777.2l7.2 3.9l-8.2-4.5l-7.2-3.9z" fill="#8c5700" stroke="#8c5700"/>
<path d="M285.8 786l7 6.2l-8.3-4.8l-6.9-6.3z" fill="#708300" stroke="#708300"/>
<path d="M316.1 811.5l6.3 10.6l-8.3-5.6l-6.4-10.6z" fill="#024f0b" stroke="#024f0b"/>
<path d="M108.2 861.3l7.7-22.5l-7-1.9l-7.6 22.3z" fill="#009352" stroke="#009352"/>
<path d="M122.9 841.1l7.8-20.3l-7.1-2.1l-7.7 20.1z" fill="#009a28" stroke="#009a28"/>
<path d="M168.6 795.3l7.9-13.3l-7.5-2.7l-7.9 13.1z" fill="#d5df00" stroke="#d5df00"/>
<path d="M184.2 785.2l7.9-10.9l-7.7-3l-7.9 10.7z" fill="#ca7300" stroke="#ca7300"/>
<path d="M231.5 771.2l7.7-3.4l-8-3.9l-7.7 3.3z" fill="#8b1300" stroke="#8b1300"/>
<path d="M247.3 772.1l7.6-1l-8.2-4.2l-7.5 0.9z" fill="#821400" stroke="#821400"/>
<path d="M294.2 791.3l6.9 6.1l-8.3-5.2l-7-6.2z" fill="#537900" stroke="#537900"/>
<path d="M309.5 803.1l6.6 8.4l-8.4-5.6l-6.6-8.5z" fill="#035702" stroke="#035702"/>
<path d="M137.9 823.3l7.9-18l-7.3-2.3l-7.8 17.8z" fill="#049b10" stroke="#049b10"/>
<path d="M153.1 808l8-15.6l-7.4-2.6l-7.9 15.5z" fill="#24a600" stroke="#24a600"/>
<path d="M199.9 777.7l7.9-8.3l-7.8-3.3l-7.9 8.2z" fill="#a32b00" stroke="#a32b00"/>
<path d="M215.7 773.1l7.8-5.9l-7.9-3.6l-7.8 5.8z" fill="#931500" stroke="#931500"/>
<path d="M263.1 775.7l7.3 1.5l-8.2-4.5l-7.3-1.6z" fill="#883500" stroke="#883500"/>
<path d="M278.7 782.2l7.1 3.8l-8.2-4.9l-7.2-3.9z" fill="#916e00" stroke="#916e00"/>
<path d="M115.2 863.8l7.7-22.7l-7-2.3l-7.7 22.5z" fill="#009351" stroke="#009351"/>
<path d="M130 843.8l7.9-20.5l-7.2-2.5l-7.8 20.3z" fill="#009a27" stroke="#009a27"/>
<path d="M160.6 811.1l8-15.8l-7.5-2.9l-8 15.6z" fill="#1fa400" stroke="#1fa400"/>
<path d="M176.2 798.6l8-13.4l-7.7-3.2l-7.9 13.3z" fill="#c8da00" stroke="#c8da00"/>
<path d="M191.9 788.7l8-11l-7.8-3.4l-7.9 10.9z" fill="#cc8100" stroke="#cc8100"/>
<path d="M223.7 777.2l7.8-6l-8-4l-7.8 5.9z" fill="#941700" stroke="#941700"/>
<path d="M239.6 775.6l7.7-3.5l-8.1-4.3l-7.7 3.4z" fill="#8c1500" stroke="#8c1500"/>
<path d="M255.5 776.8l7.6-1.1l-8.2-4.6l-7.6 1z" fill="#892300" stroke="#892300"/>
<path d="M287.1 787.5l7.1 3.8l-8.4-5.3l-7.1-3.8z" fill="#968900" stroke="#968900"/>
<path d="M302.6 797l6.9 6.1l-8.4-5.7l-6.9-6.1z" fill="#346f00" stroke="#346f00"/>
<path d="M145.2 826.2l7.9-18.2l-7.3-2.7l-7.9 18z" fill="#049b11" stroke="#049b11"/>
<path d="M207.8 781.6l7.9-8.5l-7.9-3.7l-7.9 8.3z" fill="#aa3a00" stroke="#aa3a00"/>
<path d="M271.4 780.8l7.3 1.4l-8.3-5l-7.3-1.5z" fill="#924b00" stroke="#924b00"/>
<path d="M152.6 829.4l8-18.3l-7.5-3.1l-7.9 18.2z" fill="#049b11" stroke="#049b11"/>
<path d="M263.9 781.9l7.5-1.1l-8.3-5.1l-7.6 1.1z" fill="#953b00" stroke="#953b00"/>
<path d="M122.3 866.7l7.7-22.9l-7.1-2.7l-7.7 22.7z" fill="#009351" stroke="#009351"/>
<path d="M137.3 846.9l7.9-20.7l-7.3-2.9l-7.9 20.5z" fill="#009a28" stroke="#009a28"/>
<path d="M168.2 814.5l8-15.9l-7.6-3.3l-8 15.8z" fill="#16a100" stroke="#16a100"/>
<path d="M183.9 802.3l8-13.6l-7.7-3.5l-8 13.4z" fill="#b5d400" stroke="#b5d400"/>
<path d="M199.8 792.7l8-11.1l-7.9-3.9l-8 11z" fill="#d09300" stroke="#d09300"/>
<path d="M215.8 785.8l7.9-8.6l-8-4.1l-7.9 8.5z" fill="#b34c00" stroke="#b34c00"/>
<path d="M231.8 781.7l7.8-6.1l-8.1-4.4l-7.8 6z" fill="#9d2a00" stroke="#9d2a00"/>
<path d="M247.9 780.4l7.6-3.6l-8.2-4.7l-7.7 3.5z" fill="#942600" stroke="#942600"/>
<path d="M279.8 786.3l7.3 1.2l-8.4-5.3l-7.3-1.4z" fill="#9c6600" stroke="#9c6600"/>
<path d="M295.6 793.3l7 3.7l-8.4-5.7l-7.1-3.8z" fill="#8a9500" stroke="#8a9500"/>
<path d="M144.7 850.3l7.9-20.9l-7.4-3.2l-7.9 20.7z" fill="#009a28" stroke="#009a28"/>
<path d="M160.2 833.1l8-18.6l-7.6-3.4l-8 18.3z" fill="#039b12" stroke="#039b12"/>
<path d="M207.8 797l8-11.2l-8-4.2l-8 11.1z" fill="#d5ab00" stroke="#d5ab00"/>
<path d="M256.2 785.7l7.7-3.8l-8.4-5.1l-7.6 3.6z" fill="#a14100" stroke="#a14100"/>
<path d="M272.3 787.5l7.5-1.2l-8.4-5.5l-7.5 1.1z" fill="#a35700" stroke="#a35700"/>
<path d="M129.5 870l7.8-23.1l-7.3-3.1l-7.7 22.9z" fill="#009351" stroke="#009351"/>
<path d="M175.9 818.4l8-16.1l-7.7-3.7l-8 15.9z" fill="#089c00" stroke="#089c00"/>
<path d="M191.8 806.4l8-13.7l-7.9-4l-8 13.6z" fill="#9dcc00" stroke="#9dcc00"/>
<path d="M223.9 790.4l7.9-8.7l-8.1-4.5l-7.9 8.6z" fill="#be6300" stroke="#be6300"/>
<path d="M240 786.6l7.9-6.2l-8.3-4.8l-7.8 6.1z" fill="#aa4300" stroke="#aa4300"/>
<path d="M288.3 792.2l7.3 1.1l-8.5-5.8l-7.3-1.2z" fill="#a38700" stroke="#a38700"/>
<path d="M136.8 873.7l7.9-23.4l-7.4-3.4l-7.8 23.1z" fill="#009252" stroke="#009252"/>
<path d="M152.2 854.2l8-21.1l-7.6-3.7l-7.9 20.9z" fill="#009929" stroke="#009929"/>
<path d="M167.8 837.2l8.1-18.8l-7.7-3.9l-8 18.6z" fill="#039a14" stroke="#039a14"/>
<path d="M199.7 810.9l8.1-13.9l-8-4.3l-8 13.7z" fill="#7ec200" stroke="#7ec200"/>
<path d="M215.9 801.8l8-11.4l-8.1-4.6l-8 11.2z" fill="#dac700" stroke="#dac700"/>
<path d="M248.4 792l7.8-6.3l-8.3-5.3l-7.9 6.2z" fill="#b76000" stroke="#b76000"/>
<path d="M264.6 791.3l7.7-3.8l-8.4-5.6l-7.7 3.8z" fill="#b05f00" stroke="#b05f00"/>
<path d="M280.8 793.5l7.5-1.3l-8.5-5.9l-7.5 1.2z" fill="#ad7a00" stroke="#ad7a00"/>
<path d="M183.7 822.7l8.1-16.3l-7.9-4.1l-8 16.1z" fill="#069b02" stroke="#069b02"/>
<path d="M232.1 795.5l7.9-8.9l-8.2-4.9l-7.9 8.7z" fill="#c88000" stroke="#c88000"/>
<path d="M144.2 877.7l8-23.5l-7.5-3.9l-7.9 23.4z" fill="#009254" stroke="#009254"/>
<path d="M191.6 827.4l8.1-16.5l-7.9-4.5l-8.1 16.3z" fill="#059b04" stroke="#059b04"/>
<path d="M207.8 815.9l8.1-14.1l-8.1-4.8l-8.1 13.9z" fill="#5bb600" stroke="#5bb600"/>
<path d="M224.1 807l8-11.5l-8.2-5.1l-8 11.4z" fill="#d6dc00" stroke="#d6dc00"/>
<path d="M273.2 797.5l7.6-4l-8.5-6l-7.7 3.8z" fill="#ba8600" stroke="#ba8600"/>
<path d="M159.8 858.4l8-21.2l-7.6-4.1l-8 21.1z" fill="#00992b" stroke="#00992b"/>
<path d="M175.6 841.6l8.1-18.9l-7.8-4.3l-8.1 18.8z" fill="#039a16" stroke="#039a16"/>
<path d="M240.4 801l8-9l-8.4-5.4l-7.9 8.9z" fill="#cfa400" stroke="#cfa400"/>
<path d="M256.8 797.8l7.8-6.5l-8.4-5.6l-7.8 6.3z" fill="#c38400" stroke="#c38400"/>
<path d="M183.5 846.5l8.1-19.1l-7.9-4.7l-8.1 18.9z" fill="#039a18" stroke="#039a18"/>
<path d="M232.4 812.7l8-11.7l-8.3-5.5l-8 11.5z" fill="#a7cd00" stroke="#a7cd00"/>
<path d="M151.8 882.2l8-23.8l-7.6-4.2l-8 23.5z" fill="#009157" stroke="#009157"/>
<path d="M199.6 832.5l8.2-16.6l-8.1-5l-8.1 16.5z" fill="#059a07" stroke="#059a07"/>
<path d="M216 821.2l8.1-14.2l-8.2-5.2l-8.1 14.1z" fill="#3dac00" stroke="#3dac00"/>
<path d="M265.4 804.1l7.8-6.6l-8.6-6.2l-7.8 6.5z" fill="#cbaf00" stroke="#cbaf00"/>
<path d="M167.5 863.1l8.1-21.5l-7.8-4.4l-8 21.2z" fill="#00982f" stroke="#00982f"/>
<path d="M248.9 807l7.9-9.2l-8.4-5.8l-8 9z" fill="#d7cc00" stroke="#d7cc00"/>
<path d="M175.3 868.2l8.2-21.7l-7.9-4.9l-8.1 21.5z" fill="#009733" stroke="#009733"/>
<path d="M191.5 851.8l8.1-19.3l-8-5.1l-8.1 19.1z" fill="#02991b" stroke="#02991b"/>
<path d="M224.2 827.1l8.2-14.4l-8.3-5.7l-8.1 14.2z" fill="#1ba100" stroke="#1ba100"/>
<path d="M240.8 818.8l8.1-11.8l-8.5-6l-8 11.7z" fill="#73bc00" stroke="#73bc00"/>
<path d="M159.5 887.1l8-24l-7.7-4.7l-8 23.8z" fill="#00905a" stroke="#00905a"/>
<path d="M207.8 838.1l8.2-16.9l-8.2-5.3l-8.2 16.6z" fill="#059a0b" stroke="#059a0b"/>
<path d="M257.4 813.4l8-9.3l-8.6-6.3l-7.9 9.2z" fill="#b4ce00" stroke="#b4ce00"/>
<path d="M167.2 892.4l8.1-24.2l-7.8-5.1l-8 24z" fill="#008f5f" stroke="#008f5f"/>
<path d="M249.3 825.4l8.1-12l-8.5-6.4l-8.1 11.8z" fill="#42ac00" stroke="#42ac00"/>
<path d="M183.3 873.7l8.2-21.9l-8-5.3l-8.2 21.7z" fill="#009638" stroke="#009638"/>
<path d="M199.6 857.6l8.2-19.5l-8.2-5.6l-8.1 19.3z" fill="#02991f" stroke="#02991f"/>
<path d="M216 844.1l8.2-17l-8.2-5.9l-8.2 16.9z" fill="#049a0f" stroke="#049a0f"/>
<path d="M232.6 833.3l8.2-14.5l-8.4-6.1l-8.2 14.4z" fill="#069902" stroke="#069902"/>
<path d="M175.1 898.1l8.2-24.4l-8-5.5l-8.1 24.2z" fill="#008e64" stroke="#008e64"/>
<path d="M207.8 863.8l8.2-19.7l-8.2-6l-8.2 19.5z" fill="#019923" stroke="#019923"/>
<path d="M241.1 840.1l8.2-14.7l-8.5-6.6l-8.2 14.5z" fill="#059907" stroke="#059907"/>
<path d="M191.3 879.7l8.3-22.1l-8.1-5.8l-8.2 21.9z" fill="#00953e" stroke="#00953e"/>
<path d="M224.4 850.5l8.2-17.2l-8.4-6.2l-8.2 17z" fill="#039913" stroke="#039913"/>
<path d="M183.1 904.3l8.2-24.6l-8-6l-8.2 24.4z" fill="#008c69" stroke="#008c69"/>
<path d="M199.5 886.1l8.3-22.3l-8.2-6.2l-8.3 22.1z" fill="#009444" stroke="#009444"/>
<path d="M216.1 870.4l8.3-19.9l-8.4-6.4l-8.2 19.7z" fill="#009827" stroke="#009827"/>
<path d="M232.9 857.4l8.2-17.3l-8.5-6.8l-8.2 17.2z" fill="#039918" stroke="#039918"/>
<path d="M191.2 910.9l8.3-24.8l-8.2-6.4l-8.2 24.6z" fill="#008a6e" stroke="#008a6e"/>
<path d="M224.5 877.5l8.4-20.1l-8.5-6.9l-8.3 19.9z" fill="#00972d" stroke="#00972d"/>
<path d="M207.8 892.9l8.3-22.5l-8.3-6.6l-8.3 22.3z" fill="#00924c" stroke="#00924c"/>
<path d="M199.5 918l8.3-25.1l-8.3-6.8l-8.3 24.8z" fill="#008774" stroke="#008774"/>
<path d="M216.2 900.2l8.3-22.7l-8.4-7.1l-8.3 22.5z" fill="#009154" stroke="#009154"/>
<path d="M207.8 925.5l8.4-25.3l-8.4-7.3l-8.3 25.1z" fill="#00847b" stroke="#00847b"/>
</g>
<path d="M207.8 925.5l6.3-19.2l6.3-17.8l6.2-16.3l6.3-14.8l6.2-13.3l6.1-11.7l6.2-10.3l6-8.7l6-7.3l5.9-5.7l5.8-4.2l5.7-2.7l5.6-1.3l5.5 0.2l5.4 1.6l5.3 3l5.2 4.4l5 5.6l4.9 6.9l4.7 8.2l4.7 9.3l4.4 10.5l4.3 11.5l4.2 12.7M205.3 923.2l6.3-19.2l6.2-17.7l6.3-16.2l6.2-14.8l6.2-13.2l6.2-11.8l6.1-10.2l6-8.7l6-7.2l5.9-5.7l5.8-4.2l5.7-2.6l5.7-1.3l5.5 0.2l5.4 1.7l4.9 2.7M301.2 796l4 3.6l5.1 5.7l4.9 6.9l4.7 8.2l4.7 9.3l4.5 10.5l4.3 11.6l4.2 12.6M202.8 920.9l6.2-19.1l6.3-17.6l6.2-16.2l6.3-14.7l6.2-13.3l6.1-11.7l6.1-10.2l6.1-8.6l5.9-7.2l5.9-5.6l5.9-4.2l5.7-2.7l5.6-1.2l5.5 0.3l5.4 1.6l4.7 2.6M299.7 795.2l3 2.7l5.1 5.7l4.9 6.9l4.8 8.2l4.6 9.3l4.5 10.5l4.4 11.6l4.2 12.6M200.3 918.7l6.2-19.1l6.3-17.6l6.2-16.1l6.2-14.7l6.2-13.2l6.2-11.6l6.1-10.2l6-8.6l6-7.1l5.9-5.7l5.8-4.1l5.7-2.6l5.7-1.2l5.5 0.2l5.4 1.7l4.4 2.4M298.3 794.5l1.9 1.7l5.1 5.7l4.9 7l4.8 8.1l4.6 9.4l4.5 10.5l4.4 11.6l4.3 12.6M197.8 916.5l6.2-19l6.3-17.5l6.2-16.1l6.2-14.7l6.2-13.1l6.1-11.6l6.1-10.2l6.1-8.6l5.9-7.1l5.9-5.5l5.9-4.1l5.7-2.7l5.6-1.1l5.6 0.3l5.4 1.6l4.1 2.3M296.9 793.9l0.8 0.7l5.1 5.7l4.9 7l4.8 8.1l4.7 9.4l4.5 10.5l4.4 11.6l4.2 12.6M195.3 914.4l6.3-19l6.2-17.5l6.2-16l6.2-14.6l6.2-13.1l6.1-11.6l6.1-10.1l6-8.6l6-7l5.9-5.6l5.8-4l5.8-2.6l5.6-1.2l5.5 0.3l5.5 1.7l3.8 2.1M295.5 793.3l4.8 5.4l4.9 7l4.8 8.2l4.7 9.4l4.6 10.5l4.4 11.6l4.2 12.6M192.9 912.3l6.2-18.9l6.2-17.5l6.2-16l6.2-14.5l6.2-13.1l6.1-11.6l6.1-10l6-8.5l6-7.1l5.9-5.5l5.8-4l5.7-2.6l5.7-1.1l5.5 0.3l5.5 1.7l3.5 1.9M294.1 792.9l3.7 4.3l4.9 7l4.9 8.2l4.7 9.3l4.5 10.6l4.5 11.6l4.2 12.6M190.4 910.2l6.2-18.8l6.2-17.4l6.2-16l6.2-14.5l6.2-13l6.1-11.5l6.1-10.1l6-8.5l6-7l5.9-5.4l5.8-4.1l5.7-2.5l5.7-1.1l5.5 0.3l5.5 1.8l3.2 1.7M292.7 792.6l2.6 3.1l5 7l4.8 8.2l4.7 9.4l4.6 10.5l4.4 11.6l4.3 12.6M188 908.2l6.2-18.8l6.2-17.4l6.1-15.9l6.2-14.5l6.2-12.9l6.1-11.5l6.1-10l6-8.4l6-7l5.9-5.5l5.8-4l5.7-2.5l5.7-1l5.5 0.3l5.5 1.8l2.9 1.5M291.3 792.3l1.5 1.9l5 7l4.9 8.2l4.7 9.4l4.6 10.5l4.5 11.6l4.3 12.7M185.5 906.2l6.2-18.7l6.2-17.3l6.2-15.9l6.1-14.4l6.2-13l6.1-11.4l6.1-10l6-8.4l6-6.9l5.9-5.5l5.8-3.9l5.7-2.5l5.7-1.1l5.5 0.4l5.5 1.8l2.7 1.4M290 792.2l0.4 0.5l5 7.1l4.8 8.2l4.8 9.4l4.6 10.5l4.5 11.6l4.3 12.7M183.1 904.3l6.2-18.7l6.2-17.3l6.1-15.8l6.2-14.4l6.1-12.9l6.1-11.4l6.1-9.9l6-8.4l6-6.9l5.9-5.4l5.8-3.9l5.7-2.5l5.7-1l5.6 0.4l5.4 1.7l2.4 1.3M288.6 792.2l4.3 6.2l4.9 8.2l4.8 9.4l4.6 10.5l4.5 11.7l4.3 12.6M180.7 902.4l6.2-18.6l6.1-17.3l6.2-15.8l6.1-14.3l6.2-12.9l6.1-11.3l6-9.9l6-8.4l6-6.8l5.9-5.4l5.8-3.9l5.8-2.5l5.6-1l5.6 0.4l5.5 1.8l2 1.1M287.2 792.2l3.3 4.8l4.9 8.3l4.8 9.4l4.6 10.5l4.5 11.6l4.4 12.7M178.3 900.6l6.2-18.7l6.1-17.1l6.1-15.8l6.2-14.3l6.1-12.8l6.1-11.3l6.1-9.9l6-8.3l5.9-6.8l5.9-5.4l5.8-3.9l5.8-2.4l5.7-1l5.5 0.5l5.5 1.8l1.8 0.9M285.8 792.3l2.3 3.4l4.9 8.2l4.8 9.5l4.6 10.5l4.5 11.6l4.4 12.6M175.9 898.7l6.1-18.5l6.2-17.2l6.1-15.7l6.2-14.2l6.1-12.8l6.1-11.3l6-9.8l6-8.3l6-6.8l5.9-5.3l5.8-3.9l5.7-2.4l5.7-0.9l5.6 0.4l5.5 1.9l1.4 0.7M284.4 792.5l1.3 1.9l4.9 8.3l4.8 9.4l4.6 10.5l4.6 11.6l4.4 12.7M173.5 897l6.2-18.6l6.1-17.1l6.1-15.6l6.1-14.2l6.1-12.8l6.1-11.2l6.1-9.8l6-8.2l5.9-6.8l5.9-5.3l5.8-3.8l5.8-2.4l5.7-1l5.5 0.5l5.5 1.9l1.2 0.5M283.1 792.8l0.2 0.4l4.9 8.2l4.8 9.4l4.7 10.6l4.5 11.6l4.4 12.6M171.2 895.2l6.1-18.4l6.1-17.1l6.1-15.6l6.1-14.2l6.1-12.7l6.1-11.2l6-9.7l6-8.2l6-6.8l5.9-5.3l5.8-3.8l5.7-2.3l5.7-0.9l5.6 0.4l5.5 1.9l0.8 0.4M281.7 793.2l4.1 7l4.8 9.4l4.7 10.6l4.6 11.6l4.4 12.6M168.8 893.5l6.1-18.4l6.1-17l6.1-15.6l6.1-14.1l6.1-12.7l6.1-11.1l6-9.7l6-8.2l5.9-6.7l5.9-5.3l5.9-3.8l5.7-2.3l5.7-0.9l5.6 0.5l5.5 1.9l0.5 0.3M280.3 793.7l3.1 5.3l4.9 9.5l4.7 10.5l4.5 11.6l4.5 12.7M166.5 891.9l6-18.4l6.1-17l6.1-15.5l6.1-14.1l6.1-12.6l6.1-11.1l6-9.7l6-8.2l5.9-6.6l5.9-5.3l5.8-3.7l5.8-2.3l5.7-0.9l5.6 0.5l5.5 1.9l0.2 0.1M279 794.2l2.1 3.7l4.8 9.4l4.7 10.6l4.6 11.6l4.5 12.6M164.1 890.2l6.1-18.3l6.1-16.9l6-15.5l6.1-14l6.1-12.6l6.1-11.1l6-9.6l6-8.2l5.9-6.6l5.9-5.2l5.8-3.7l5.8-2.3l5.7-0.9l5.6 0.6l5.4 1.8M277.6 794.8l1.1 2l4.9 9.4l4.7 10.6l4.6 11.6l4.5 12.6M161.8 888.7l6-18.3l6.1-16.9l6.1-15.4l6.1-14l6-12.6l6.1-11l6-9.6l6-8.1l5.9-6.6l5.9-5.2l5.8-3.7l5.8-2.3l5.7-0.8l5.6 0.5l5.1 1.8M276.3 795.6l0.1 0.1l4.8 9.5l4.8 10.5l4.6 11.6l4.5 12.6M159.5 887.1l6-18.2l6.1-16.8l6-15.4l6.1-14l6-12.5l6.1-11l6-9.6l6-8l5.9-6.6l5.9-5.2l5.8-3.7l5.8-2.2l5.7-0.8l5.6 0.5l4.7 1.6M274.9 796.3l4 7.8l4.7 10.6l4.7 11.6l4.5 12.6M157.1 885.6l6.1-18.2l6-16.8l6.1-15.3l6-13.9l6.1-12.5l6-11l6-9.5l6-8l5.9-6.6l5.9-5.1l5.8-3.7l5.8-2.2l5.7-0.8l5.6 0.6l4.5 1.5M273.6 797.2l3 5.9l4.7 10.5l4.7 11.7l4.5 12.6M154.8 884.1l6.1-18.1l6-16.7l6-15.3l6.1-13.9l6-12.4l6.1-11l6-9.5l5.9-8l6-6.5l5.8-5.1l5.9-3.6l5.7-2.2l5.7-0.8l5.6 0.6l4.2 1.3M272.3 798.1l2 4l4.7 10.6l4.7 11.6l4.5 12.6M152.6 882.7l6-18.1l6-16.7l6-15.2l6.1-13.9l6-12.3l6-11l6-9.4l6-8l5.9-6.5l5.9-5.1l5.8-3.6l5.8-2.2l5.7-0.7l5.6 0.6l3.8 1.2M270.9 799.1l1.1 2.1l4.7 10.5l4.7 11.6l4.6 12.6M150.3 881.3l6-18l6-16.7l6-15.2l6-13.8l6.1-12.3l6-10.9l6-9.4l5.9-8l6-6.5l5.8-5l5.9-3.6l5.7-2.1l5.7-0.8l5.6 0.7l3.5 1M269.6 800.2l0.1 0.1l4.8 10.5l4.6 11.6l4.6 12.6M148 879.9l6-18l6-16.5l6-15.2l6-13.8l6-12.3l6-10.8l6-9.4l6-7.9l5.9-6.5l5.9-5l5.8-3.5l5.8-2.2l5.7-0.7l5.6 0.6l3.1 1M268.3 801.3l3.9 8.7l4.7 11.5l4.5 12.6M145.7 878.6l6-17.9l6-16.6l6-15.1l6-13.7l6-12.3l6-10.8l6-9.3l6-7.9l5.9-6.4l5.9-5l5.8-3.6l5.7-2.1l5.7-0.7l5.6 0.7l2.9 0.8M267 802.5l2.9 6.6l4.7 11.6l4.6 12.6M143.5 877.3l5.9-17.9l6-16.5l6-15.1l6-13.6l6-12.2l6-10.8l6-9.3l5.9-7.9l6-6.4l5.8-4.9l5.8-3.6l5.8-2.1l5.7-0.7l5.6 0.7l2.5 0.8M265.7 803.8l2 4.5l4.7 11.6l4.6 12.6M141.2 876.1l6-17.9l6-16.4l5.9-15.1l6-13.6l6-12.2l6-10.7l6-9.3l5.9-7.8l5.9-6.4l5.9-4.9l5.8-3.5l5.8-2.1l5.7-0.7l5.6 0.7l2.2 0.6M264.3 805.1l1.1 2.4l4.7 11.6l4.6 12.6M139 874.9l5.9-17.8l6-16.4l6-15l6-13.6l6-12.2l5.9-10.7l6-9.2l5.9-7.8l5.9-6.4l5.9-4.9l5.8-3.4l5.8-2.1l5.7-0.7l5.6 0.7l1.8 0.6M263 806.5l0.2 0.3l4.7 11.5l4.6 12.6M136.8 873.7l5.9-17.8l6-16.3l5.9-15l6-13.5l6-12.1l6-10.7l5.9-9.2l5.9-7.8l5.9-6.3l5.9-4.9l5.8-3.4l5.8-2.1l5.7-0.6l5.6 0.7l1.5 0.4M261.7 808l4 9.6l4.6 12.6M134.6 872.5l5.9-17.7l5.9-16.3l6-14.9l5.9-13.5l6-12.1l6-10.6l5.9-9.2l6-7.7l5.9-6.3l5.8-4.8l5.8-3.5l5.8-2l5.7-0.6l5.6 0.7l1.2 0.3M260.5 809.5l3 7.4l4.6 12.6M132.4 871.4l5.9-17.6l5.9-16.3l5.9-14.9l6-13.4l6-12l5.9-10.6l6-9.2l5.9-7.7l5.9-6.2l5.8-4.9l5.9-3.4l5.7-2l5.7-0.6l5.7 0.7l0.7 0.2M259.2 811.1l2.1 5.2l4.6 12.5M130.2 870.4l5.9-17.6l5.9-16.3l5.9-14.8l6-13.4l5.9-12l6-10.5l5.9-9.2l5.9-7.6l5.9-6.3l5.9-4.8l5.8-3.4l5.8-2l5.7-0.6l5.6 0.8l0.4 0.1M257.9 812.7l1.2 2.9l4.6 12.6M128 869.3l5.9-17.5l5.9-16.2l5.9-14.8l6-13.4l5.9-11.9l5.9-10.5l6-9.1l5.9-7.7l5.9-6.2l5.8-4.8l5.8-3.3l5.8-2l5.7-0.6l5.6 0.8l0.1 0M256.6 814.4l0.3 0.6l4.6 12.6M125.9 868.3l5.8-17.5l5.9-16.1l5.9-14.7l5.9-13.4l6-11.9l5.9-10.5l5.9-9l5.9-7.6l5.9-6.2l5.9-4.8l5.8-3.3l5.7-2l5.7-0.6l5.4 0.8M255.4 816.2l4 10.8M123.7 867.4l5.8-17.5l5.9-16.1l5.9-14.7l5.9-13.3l6-11.8l5.9-10.5l5.9-9l5.9-7.6l5.9-6.2l5.8-4.7l5.9-3.3l5.7-2l5.7-0.5l5 0.6M254.1 818l3.1 8.4M121.5 866.4l5.9-17.4l5.8-16l5.9-14.7l5.9-13.2l6-11.9l5.9-10.4l5.9-9l5.9-7.5l5.9-6.1l5.8-4.8l5.8-3.3l5.8-1.9l5.7-0.5l4.6 0.5M252.8 819.8l2.3 6.1M119.4 865.5l5.8-17.3l5.9-16l5.9-14.6l5.9-13.2l5.9-11.8l5.9-10.4l5.9-9l5.9-7.5l5.9-6.1l5.8-4.7l5.8-3.3l5.8-1.9l5.7-0.5l4.3 0.5M251.6 821.8l1.3 3.6M117.3 864.7l5.8-17.3l5.8-16l5.9-14.6l5.9-13.1l5.9-11.8l5.9-10.3l5.9-9l5.9-7.5l5.9-6l5.8-4.7l5.8-3.3l5.8-1.8l5.7-0.6l3.9 0.5M250.3 823.7l0.5 1.3M115.2 863.8l5.8-17.2l5.8-15.9l5.8-14.5l5.9-13.2l5.9-11.7l5.9-10.3l5.9-8.9l5.9-7.5l5.9-6l5.8-4.7l5.8-3.2l5.8-1.9l5.7-0.5l3.5 0.4M113.1 863.1l5.7-17.3l5.9-15.8l5.8-14.5l5.9-13.1l5.9-11.7l5.9-10.3l5.8-8.8l5.9-7.5l5.9-6l5.8-4.6l5.8-3.2l5.8-1.9l5.7-0.5l3.2 0.4M111 862.3l5.7-17.2l5.8-15.8l5.9-14.4l5.8-13.1l5.9-11.6l5.9-10.3l5.9-8.8l5.9-7.4l5.8-6l5.8-4.6l5.8-3.2l5.8-1.8l5.7-0.5l2.8 0.2M108.9 861.6l5.7-17.1l5.8-15.8l5.9-14.4l5.8-13l5.9-11.6l5.9-10.2l5.8-8.8l5.9-7.4l5.8-6l5.9-4.6l5.8-3.2l5.7-1.8l5.7-0.4l2.5 0.2M106.8 860.9l5.7-17.1l5.8-15.7l5.8-14.4l5.9-12.9l5.9-11.6l5.8-10.2l5.9-8.7l5.9-7.4l5.8-6l5.8-4.5l5.8-3.2l5.8-1.8l5.7-0.4l2.1 0.1M104.7 860.2l5.8-17l5.7-15.7l5.8-14.3l5.9-12.9l5.8-11.6l5.9-10.1l5.9-8.7l5.8-7.4l5.9-5.9l5.8-4.5l5.8-3.2l5.7-1.8l5.7-0.4l1.7 0.1M102.7 859.6l5.7-17l5.8-15.6l5.8-14.3l5.8-12.9l5.8-11.5l5.9-10.1l5.8-8.7l5.9-7.3l5.8-5.9l5.8-4.5l5.8-3.1l5.8-1.8l5.7-0.4l1.3 0.1M100.6 859l5.7-16.9l5.8-15.6l5.8-14.2l5.8-12.9l5.8-11.5l5.9-10l5.8-8.7l5.9-7.3l5.8-5.8l5.8-4.5l5.8-3.2l5.7-1.7l5.7-0.4l1 0M98.6 858.4l5.7-16.8l5.7-15.6l5.8-14.2l5.8-12.8l5.8-11.4l5.9-10l5.8-8.7l5.9-7.2l5.8-5.9l5.8-4.4l5.8-3.1l5.7-1.8l5.7-0.4l0.6 0M96.6 857.9l5.7-16.8l5.7-15.5l5.8-14.2l5.7-12.7l5.9-11.4l5.8-10l5.8-8.6l5.9-7.3l5.8-5.8l5.8-4.4l5.8-3.1l5.7-1.7l5.7-0.4l0.2 0M94.6 857.4l5.6-16.8l5.7-15.4l5.8-14.1l5.8-12.7l5.8-11.4l5.8-10l5.8-8.6l5.9-7.1l5.8-5.9l5.8-4.4l5.8-3l5.7-1.8l5.5-0.3M92.6 856.9l5.6-16.7l5.7-15.4l5.8-14l5.7-12.7l5.8-11.4l5.9-9.9l5.8-8.5l5.8-7.2l5.8-5.8l5.8-4.4l5.8-3l5.7-1.7l5.1-0.4M90.6 856.5l5.6-16.7l5.7-15.3l5.7-14l5.8-12.7l5.8-11.3l5.8-9.9l5.8-8.5l5.8-7.1l5.8-5.8l5.8-4.4l5.8-3l5.7-1.7l4.8-0.4M88.6 856.1l5.6-16.6l5.7-15.3l5.7-14l5.8-12.6l5.8-11.3l5.8-9.8l5.8-8.5l5.8-7.1l5.8-5.8l5.8-4.3l5.7-3.1l5.7-1.6l4.4-0.4M86.6 855.7l5.6-16.6l5.7-15.2l5.7-13.9l5.8-12.6l5.7-11.2l5.8-9.9l5.8-8.4l5.8-7.1l5.8-5.7l5.8-4.4l5.8-3l5.7-1.6l4-0.4M84.6 855.4l5.7-16.5l5.6-15.3l5.7-13.8l5.7-12.6l5.8-11.2l5.8-9.8l5.8-8.4l5.8-7.1l5.8-5.6l5.8-4.4l5.7-2.9l5.7-1.7l3.6-0.3M82.7 855.1l5.6-16.5l5.6-15.2l5.7-13.8l5.8-12.5l5.7-11.2l5.8-9.7l5.8-8.4l5.8-7.1l5.7-5.6l5.8-4.3l5.8-3l5.7-1.6l3.2-0.4M80.7 854.8l5.6-16.4l5.7-15.2l5.6-13.8l5.8-12.4l5.7-11.1l5.8-9.8l5.8-8.3l5.7-7l5.8-5.7l5.8-4.3l5.7-2.9l5.8-1.6l2.7-0.3M78.8 854.6l5.6-16.4l5.6-15.1l5.7-13.8l5.7-12.4l5.7-11.1l5.8-9.7l5.8-8.3l5.7-7l5.8-5.6l5.8-4.3l5.7-2.9l5.7-1.6l2.4-0.3M76.9 854.3l5.6-16.3l5.6-15l5.6-13.8l5.7-12.3l5.8-11.1l5.7-9.6l5.8-8.4l5.7-6.9l5.8-5.6l5.8-4.3l5.7-2.9l5.7-1.6l2-0.2M75 854.2l5.5-16.3l5.6-15l5.7-13.7l5.7-12.4l5.7-10.9l5.7-9.7l5.8-8.3l5.7-6.9l5.8-5.6l5.8-4.2l5.7-2.9l5.7-1.6l1.6-0.2M207.8 925.5l-6.3-5.7l-6.2-5.4l-6.1-5.2l-6.1-4.9l-6-4.7l-5.9-4.4l-5.9-4.2l-5.8-3.9l-5.8-3.7l-5.7-3.5l-5.6-3.2l-5.6-3l-5.5-2.8l-5.4-2.6l-5.4-2.3l-5.3-2.2l-5.3-1.9l-5.2-1.7l-5.1-1.5l-5-1.3l-5-1.1l-5-0.9l-4.8-0.7l-4.8-0.5M210.3 917.6l-6.3-5.6l-6.2-5.4l-6.1-5.1l-6.1-4.8l-6-4.7l-6-4.3l-5.9-4.2l-5.8-3.9l-5.8-3.6l-5.7-3.4l-5.7-3.2l-5.5-3l-5.6-2.7l-5.4-2.5l-5.4-2.3l-5.3-2.1l-5.3-1.9l-5.2-1.7l-5.1-1.4l-5.1-1.3l-5-1l-4.9-0.9l-4.9-0.6l-4.8-0.5M212.8 910l-6.3-5.6l-6.2-5.3l-6.1-5.1l-6.1-4.8l-6.1-4.5l-6-4.4l-5.9-4l-5.8-3.9l-5.8-3.6l-5.7-3.4l-5.7-3.1l-5.6-2.9l-5.5-2.7l-5.5-2.5l-5.4-2.2l-5.3-2.1l-5.3-1.8l-5.2-1.6l-5.1-1.4l-5.1-1.2l-5-1l-5-0.8l-4.9-0.7l-4.8-0.4M215.3 902.6l-6.3-5.5l-6.2-5.3l-6.2-5l-6.1-4.8l-6-4.5l-6-4.3l-5.9-4l-5.9-3.8l-5.8-3.6l-5.7-3.3l-5.7-3.1l-5.6-2.8l-5.5-2.7l-5.5-2.4l-5.4-2.2l-5.4-2l-5.3-1.8l-5.2-1.5l-5.1-1.4l-5.1-1.2l-5.1-0.9l-4.9-0.8l-4.9-0.6l-4.9-0.3M217.8 895.5l-6.3-5.5l-6.2-5.2l-6.2-5l-6.1-4.7l-6.1-4.5l-6-4.2l-5.9-4l-5.9-3.8l-5.8-3.5l-5.7-3.3l-5.7-3l-5.6-2.8l-5.6-2.6l-5.5-2.4l-5.4-2.2l-5.3-1.9l-5.3-1.8l-5.3-1.5l-5.1-1.3l-5.1-1.1l-5.1-0.9l-5-0.7l-4.9-0.6l-4.8-0.3M220.4 888.5l-6.4-5.4l-6.2-5.2l-6.2-4.9l-6.1-4.7l-6.1-4.4l-6-4.2l-6-3.9l-5.8-3.7l-5.9-3.5l-5.7-3.2l-5.7-3l-5.6-2.8l-5.6-2.6l-5.5-2.3l-5.4-2.1l-5.4-1.9l-5.3-1.7l-5.3-1.5l-5.1-1.3l-5.2-1l-5-0.9l-5-0.7l-4.9-0.4l-4.9-0.3M222.9 881.8l-6.4-5.4l-6.2-5.1l-6.2-4.9l-6.2-4.6l-6.1-4.4l-6-4.1l-5.9-3.9l-5.9-3.7l-5.8-3.4l-5.8-3.2l-5.7-2.9l-5.7-2.8l-5.5-2.5l-5.5-2.3l-5.5-2l-5.4-1.9l-5.3-1.6l-5.2-1.5l-5.2-1.2l-5.2-1l-5-0.8l-5-0.7l-4.9-0.4l-4.9-0.3M225.4 875.4l-6.4-5.4l-6.2-5.1l-6.3-4.8l-6.1-4.6l-6.1-4.3l-6-4.1l-6-3.9l-5.9-3.6l-5.8-3.4l-5.8-3.1l-5.7-2.9l-5.7-2.7l-5.6-2.5l-5.5-2.2l-5.4-2l-5.4-1.8l-5.4-1.6l-5.2-1.4l-5.2-1.2l-5.2-1l-5-0.8l-5-0.6l-5-0.4l-4.9-0.2M227.9 869.2l-6.4-5.3l-6.3-5.1l-6.2-4.8l-6.1-4.5l-6.1-4.3l-6.1-4.1l-6-3.8l-5.9-3.5l-5.8-3.4l-5.8-3.1l-5.7-2.9l-5.7-2.6l-5.6-2.4l-5.5-2.2l-5.5-2l-5.4-1.8l-5.3-1.5l-5.3-1.4l-5.2-1.1l-5.1-1l-5.1-0.7l-5-0.6l-5-0.3l-4.9-0.2M230.4 863.2l-6.4-5.3l-6.3-5l-6.2-4.7l-6.2-4.5l-6.1-4.3l-6-4l-6-3.8l-5.9-3.5l-5.9-3.3l-5.8-3l-5.7-2.9l-5.7-2.6l-5.6-2.4l-5.5-2.1l-5.5-2l-5.4-1.7l-5.4-1.5l-5.3-1.3l-5.2-1.1l-5.1-0.9l-5.1-0.7l-5-0.5l-5-0.4l-4.9-0.1M232.9 857.4l-6.4-5.2l-6.3-4.9l-6.2-4.7l-6.2-4.5l-6.1-4.2l-6.1-4l-6-3.7l-5.9-3.5l-5.9-3.2l-5.8-3.1l-5.7-2.8l-5.7-2.5l-5.6-2.4l-5.6-2.1l-5.4-1.9l-5.5-1.7l-5.3-1.5l-5.3-1.2l-5.2-1.1l-5.2-0.8l-5.1-0.7l-5.1-0.5l-4.9-0.3l-4.9-0.1M235.4 851.9l-6.4-5.1l-6.3-4.9l-6.3-4.7l-6.2-4.4l-6.1-4.2l-6-3.9l-6-3.7l-6-3.5l-5.9-3.2l-5.8-3l-5.7-2.7l-5.7-2.5l-5.6-2.3l-5.6-2.1l-5.5-1.9l-5.4-1.6l-5.4-1.5l-5.3-1.2l-5.2-1l-5.2-0.9l-5.1-0.6l-5-0.4l-5-0.3l-4.9 0M237.8 846.7l-6.3-5.1l-6.4-4.9l-6.2-4.7l-6.2-4.3l-6.1-4.2l-6.1-3.9l-6-3.6l-6-3.4l-5.8-3.2l-5.9-2.9l-5.7-2.7l-5.7-2.5l-5.6-2.3l-5.6-2l-5.5-1.9l-5.5-1.6l-5.3-1.4l-5.3-1.2l-5.3-1l-5.2-0.7l-5.1-0.6l-5-0.4l-5-0.2l-5-0.1M240.3 841.7l-6.4-5.1l-6.3-4.9l-6.3-4.6l-6.2-4.3l-6.1-4.1l-6.1-3.8l-6-3.6l-5.9-3.4l-5.9-3.1l-5.9-3l-5.7-2.6l-5.7-2.5l-5.7-2.2l-5.5-2l-5.5-1.8l-5.5-1.6l-5.4-1.3l-5.3-1.2l-5.2-1l-5.2-0.7l-5.2-0.6l-5-0.3l-5-0.2l-5 0M242.8 836.9l-6.4-5.1l-6.3-4.8l-6.3-4.5l-6.2-4.3l-6.2-4.1l-6-3.8l-6.1-3.5l-5.9-3.4l-5.9-3.1l-5.9-2.8l-5.7-2.7l-5.7-2.4l-5.7-2.2l-5.6-2l-5.5-1.7l-5.4-1.6l-5.4-1.3l-5.4-1.1l-5.2-0.9l-5.2-0.8l-5.1-0.5l-5.1-0.3l-5-0.1l-5 0M245.2 832.4l-6.4-5.1l-6.3-4.7l-6.3-4.5l-6.2-4.3l-6.1-4l-6.1-3.8l-6-3.5l-6-3.3l-5.9-3.1l-5.9-2.8l-5.7-2.6l-5.7-2.4l-5.7-2.1l-5.6-2l-5.5-1.7l-5.5-1.5l-5.4-1.3l-5.3-1.1l-5.3-0.9l-5.2-0.7l-5.1-0.5l-5.1-0.3l-5-0.1l-5 0.1M247.7 828.1l-6.4-5l-6.3-4.7l-6.3-4.5l-6.2-4.2l-6.2-4l-6.1-3.8l-6-3.5l-6-3.2l-5.9-3l-5.9-2.8l-5.7-2.6l-5.8-2.3l-5.6-2.2l-5.6-1.9l-5.5-1.7l-5.5-1.4l-5.4-1.3l-5.4-1.1l-5.2-0.8l-5.3-0.7l-5.1-0.4l-5.1-0.3l-5-0.1l-5 0.1M250.1 824l-6.4-4.9l-6.3-4.7l-6.3-4.4l-6.2-4.2l-6.2-4l-6.1-3.7l-6-3.4l-6-3.3l-5.9-3l-5.9-2.7l-5.8-2.6l-5.7-2.3l-5.6-2.1l-5.6-1.8l-5.6-1.7l-5.5-1.4l-5.4-1.3l-5.3-1l-5.3-0.8l-5.2-0.6l-5.2-0.5l-5.1-0.2l-5-0.1l-5 0.2M252.6 820.2l-6.4-4.9l-6.4-4.6l-6.3-4.4l-6.2-4.2l-6.2-3.9l-6.1-3.7l-6-3.4l-6-3.2l-5.9-3l-5.9-2.7l-5.8-2.5l-5.7-2.3l-5.7-2l-5.6-1.9l-5.5-1.6l-5.5-1.4l-5.4-1.2l-5.4-1l-5.3-0.8l-5.2-0.6l-5.2-0.4l-5.1-0.2l-5 0l-5 0.1M255 816.7l-6.4-4.9l-6.4-4.6l-6.3-4.4l-6.2-4.1l-6.2-3.9l-6.1-3.6l-6-3.4l-6-3.2l-5.9-2.9l-5.9-2.7l-5.8-2.5l-5.7-2.2l-5.7-2.1l-5.6-1.8l-5.6-1.6l-5.4-1.3l-5.5-1.2l-5.3-1l-5.3-0.8l-5.3-0.5l-5.1-0.4l-5.1-0.2l-5.1 0l-5 0.2M257.4 813.4l-6.4-4.9l-6.4-4.6l-6.3-4.3l-6.2-4.1l-6.2-3.8l-6.1-3.6l-6-3.4l-6-3.1l-5.9-2.9l-5.9-2.7l-5.8-2.4l-5.8-2.3l-5.6-2l-5.7-1.7l-5.5-1.6l-5.5-1.4l-5.4-1.1l-5.4-1l-5.3-0.7l-5.2-0.5l-5.2-0.4l-5.1-0.2l-5.1 0.1l-5 0.2M259.8 810.3l-6.4-4.8l-6.4-4.6l-6.3-4.3l-6.2-4l-6.2-3.8l-6.1-3.6l-6-3.4l-6-3.1l-6-2.8l-5.8-2.7l-5.8-2.4l-5.8-2.2l-5.7-1.9l-5.6-1.8l-5.6-1.5l-5.4-1.4l-5.5-1.1l-5.3-0.9l-5.4-0.7l-5.2-0.5l-5.2-0.4l-5.1-0.1l-5.1 0.1l-4.9 0.2M262.2 807.5l-6.4-4.8l-6.4-4.5l-6.3-4.3l-6.2-4l-6.2-3.8l-6.1-3.6l-6.1-3.3l-6-3l-5.9-2.9l-5.9-2.6l-5.8-2.4l-5.7-2.1l-5.7-2l-5.6-1.7l-5.6-1.5l-5.5-1.3l-5.4-1.1l-5.4-0.9l-5.3-0.7l-5.3-0.5l-5.2-0.3l-5.1-0.1l-5 0.1l-5 0.2M264.6 804.9l-6.4-4.8l-6.4-4.5l-6.3-4.2l-6.2-4l-6.2-3.7l-6.1-3.6l-6.1-3.2l-6-3.1l-5.9-2.8l-5.9-2.6l-5.8-2.3l-5.8-2.2l-5.7-1.9l-5.6-1.7l-5.6-1.5l-5.5-1.3l-5.4-1l-5.4-0.9l-5.3-0.7l-5.3-0.4l-5.1-0.3l-5.2-0.1l-5 0.1l-5 0.3M266.9 802.5l-6.4-4.7l-6.3-4.4l-6.3-4.3l-6.3-3.9l-6.2-3.7l-6.1-3.5l-6-3.3l-6-3l-6-2.8l-5.9-2.5l-5.8-2.4l-5.7-2.1l-5.7-1.9l-5.7-1.7l-5.5-1.4l-5.5-1.3l-5.5-1l-5.4-0.9l-5.3-0.6l-5.2-0.5l-5.2-0.2l-5.2-0.1l-5 0.1l-5 0.3M269.3 800.4l-6.4-4.7l-6.4-4.4l-6.3-4.2l-6.2-3.9l-6.2-3.7l-6.1-3.5l-6.1-3.2l-6-3l-5.9-2.7l-5.9-2.6l-5.8-2.3l-5.8-2.1l-5.7-1.8l-5.6-1.7l-5.6-1.4l-5.5-1.3l-5.4-1l-5.4-0.8l-5.4-0.6l-5.2-0.5l-5.2-0.2l-5.1-0.1l-5.1 0.2l-5 0.3M271.6 798.6l-6.4-4.7l-6.4-4.4l-6.3-4.1l-6.2-4l-6.2-3.6l-6.1-3.5l-6.1-3.2l-6-2.9l-5.9-2.8l-5.9-2.5l-5.8-2.3l-5.8-2l-5.7-1.9l-5.6-1.6l-5.6-1.4l-5.5-1.2l-5.4-1l-5.4-0.8l-5.3-0.7l-5.3-0.4l-5.2-0.2l-5.1 0l-5.1 0.1l-5 0.4M273.9 796.9l-6.4-4.6l-6.3-4.4l-6.3-4.1l-6.3-3.9l-6.1-3.6l-6.2-3.4l-6-3.2l-6-2.9l-6-2.7l-5.9-2.5l-5.8-2.3l-5.7-2l-5.7-1.9l-5.7-1.6l-5.5-1.4l-5.6-1.2l-5.4-1l-5.4-0.8l-5.3-0.5l-5.3-0.4l-5.2-0.2l-5.1-0.1l-5.1 0.2l-5 0.4M276.2 795.6l-6.4-4.6l-6.3-4.4l-6.3-4.1l-6.3-3.8l-6.1-3.7l-6.2-3.4l-6-3.1l-6-2.9l-6-2.7l-5.8-2.5l-5.9-2.2l-5.7-2l-5.7-1.8l-5.7-1.6l-5.5-1.4l-5.5-1.2l-5.5-1l-5.4-0.7l-5.3-0.6l-5.3-0.4l-5.2-0.2l-5.1 0l-5.1 0.2l-5.1 0.4M278.5 794.4l-6.4-4.6l-6.3-4.3l-6.3-4.1l-6.2-3.8l-6.2-3.6l-6.1-3.4l-6.1-3.1l-6-2.9l-5.9-2.6l-5.9-2.5l-5.9-2.2l-5.7-2l-5.7-1.8l-5.6-1.6l-5.6-1.3l-5.5-1.2l-5.5-1l-5.4-0.7l-5.3-0.6l-5.3-0.3l-5.2-0.2l-5.2 0l-5 0.2l-5.1 0.4M280.8 793.5l-6.4-4.5l-6.3-4.3l-6.3-4.1l-6.3-3.8l-6.1-3.6l-6.2-3.3l-6-3.1l-6-2.9l-6-2.6l-5.8-2.5l-5.9-2.2l-5.7-2l-5.7-1.7l-5.7-1.6l-5.5-1.3l-5.5-1.2l-5.5-0.9l-5.4-0.8l-5.3-0.5l-5.3-0.4l-5.2-0.1l-5.2 0l-5.1 0.2l-5 0.4M283.1 792.8l-6.4-4.5l-6.4-4.3l-6.3-4l-6.2-3.8l-6.2-3.5l-6.1-3.4l-6-3l-6-2.9l-6-2.6l-5.8-2.4l-5.9-2.2l-5.7-2l-5.7-1.7l-5.7-1.6l-5.5-1.3l-5.6-1.1l-5.4-1l-5.4-0.7l-5.3-0.5l-5.3-0.4l-5.2-0.1l-5.2 0l-5.1 0.3l-1.5 0.1M285.3 792.4l-6.4-4.5l-6.3-4.3l-6.3-4l-6.2-3.7l-6.2-3.6l-6.1-3.3l-6.1-3l-6-2.9l-5.9-2.6l-5.9-2.4l-5.8-2.1l-5.8-2l-5.6-1.7l-5.7-1.6l-5.6-1.3l-5.5-1.1l-5.4-0.9l-5.4-0.7l-5.4-0.5l-5.2-0.4l-5.2-0.1M287.5 792.2l-6.3-4.5l-6.4-4.2l-6.3-4l-6.2-3.8l-6.2-3.5l-6.1-3.3l-6-3l-6-2.8l-5.9-2.6l-5.9-2.4l-5.8-2.1l-5.8-2l-5.7-1.7l-5.6-1.5l-5.6-1.3l-5.5-1.1l-5.5-0.9l-5.4-0.7l-3.3-0.4M289.8 792.2l-6.4-4.5l-6.4-4.2l-6.2-3.9l-6.3-3.8l-6.1-3.5l-6.1-3.2l-6.1-3l-6-2.8l-5.9-2.6l-5.9-2.4l-5.8-2.1l-5.7-1.9l-5.7-1.8l-5.7-1.5l-5.5-1.2l-5.6-1.1l-1-0.2M291.9 792.4l-6.3-4.4l-6.4-4.2l-6.2-3.9l-6.2-3.7l-6.2-3.5l-6.1-3.3l-6-3l-6-2.8l-6-2.5l-5.8-2.4l-5.8-2.1l-5.8-1.9l-5.7-1.7l-3.9-1M294.1 792.9l-6.4-4.4l-6.3-4.2l-6.2-3.9l-6.2-3.7l-6.2-3.4l-6.1-3.3l-6-3l-6-2.7l-5.9-2.6l-5.9-2.3l-5.8-2.1l-0.7-0.3M296.3 793.6l-6.4-4.4l-6.3-4.1l-6.3-3.9l-6.2-3.7l-6.1-3.5l-6.1-3.2l-6-3l-6-2.7l-2.7-1.2M298.4 794.5l-6.4-4.3l-6.3-4.2l-6.2-3.9l-6.2-3.6l-6.1-3.5l-4.4-2.2M300.5 795.7l-6.3-4.4l-6.3-4.1l-5.4-3.4M302.6 797l-0.1-0.1M304.7 798.6l-4.8-3.3M306.8 800.4l-6.4-4.3l-3.1-2.1M308.8 802.4l-6.3-4.3l-6.3-4.1l-1.6-0.9M310.8 804.6l-6.3-4.3l-6.3-4l-6.2-3.8l0 0M312.8 807l-6.3-4.3l-6.2-4l-6.2-3.8l-4.7-2.7M314.8 809.6l-6.3-4.2l-6.2-4l-6.2-3.8l-6.1-3.6l-3.3-1.8M316.7 812.4l-6.2-4.2l-6.3-4l-6.1-3.8l-6.1-3.5l-6.1-3.4l-1.8-0.9M318.6 815.5l-6.2-4.3l-6.2-4l-6.2-3.7l-6.1-3.6l-6-3.3l-6-3.1l-0.5-0.2M320.6 818.7l-6.3-4.3l-6.2-3.9l-6.1-3.8l-6.1-3.5l-6.1-3.3l-5.9-3.1l-5.1-2.5M322.4 822.1l-6.2-4.2l-6.2-4l-6.1-3.8l-6.1-3.5l-6-3.3l-6-3.1l-5.9-2.9l-3.8-1.7M324.3 825.7l-6.2-4.2l-6.2-4l-6.1-3.7l-6.1-3.6l-6-3.3l-5.9-3.1l-6-2.8l-5.8-2.7l-2.5-1.1M326.1 829.4l-6.2-4.1l-6.1-4l-6.1-3.7l-6.1-3.6l-6-3.3l-5.9-3l-5.9-2.9l-5.9-2.7l-5.8-2.4l-1.3-0.5M328 833.4l-6.2-4.2l-6.2-3.9l-6.1-3.8l-6-3.5l-6-3.3l-5.9-3l-5.9-2.9l-5.8-2.7l-5.8-2.4l-5.8-2.3l-0.1 0M329.8 837.6l-6.2-4.2l-6.1-4l-6.1-3.7l-6-3.5l-6-3.3l-5.9-3.1l-5.9-2.8l-5.8-2.7l-5.8-2.4l-5.7-2.3l-4.8-1.7M331.5 841.9l-6.1-4.2l-6.1-3.9l-6.1-3.8l-6-3.5l-6-3.2l-5.9-3.1l-5.8-2.9l-5.9-2.6l-5.7-2.5l-5.7-2.2l-5.7-2.1l-3.6-1.2M333.3 846.4l-6.2-4.2l-6.1-3.9l-6-3.7l-6-3.5l-5.9-3.3l-5.9-3.1l-5.9-2.9l-5.8-2.6l-5.7-2.5l-5.7-2.2l-5.7-2.1l-5.6-1.8l-2.6-0.8M335 851l-6.1-4.1l-6.1-3.9l-6-3.8l-6-3.5l-5.9-3.2l-5.9-3.1l-5.9-2.9l-5.7-2.6l-5.8-2.5l-5.7-2.3l-5.6-2l-5.6-1.9l-5.5-1.6l-1.6-0.5M336.7 855.9l-6.1-4.2l-6.1-3.9l-6-3.7l-5.9-3.5l-6-3.3l-5.8-3.1l-5.8-2.8l-5.8-2.7l-5.7-2.5l-5.7-2.2l-5.6-2.1l-5.6-1.9l-5.5-1.6l-5.5-1.5l-0.6-0.2M338.4 860.9l-6.1-4.2l-6.1-3.9l-5.9-3.7l-6-3.5l-5.9-3.3l-5.8-3l-5.9-2.9l-5.7-2.7l-5.7-2.5l-5.7-2.2l-5.6-2.1l-5.5-1.9l-5.5-1.7l-5.5-1.4l-5.2-1.3M340 866.1l-6-4.2l-6.1-3.9l-5.9-3.7l-6-3.5l-5.9-3.3l-5.8-3.1l-5.8-2.8l-5.7-2.7l-5.7-2.5l-5.7-2.3l-5.5-2l-5.6-1.9l-5.5-1.7l-5.4-1.5l-5.4-1.3l-4.3-1" fill="none" stroke="#000" stroke-width="1.20" stroke-linejoin="round"/>
<path d="M162.7 794.4V876.4" stroke="#000" stroke-width="1.3" opacity="0.55"/>
<ellipse cx="206.6" cy="743.9" rx="3.3" ry="2.2" fill="#5c1c16" stroke="#2a0806" stroke-width=".5"/>
<ellipse cx="206.6" cy="748.4" rx="3.3" ry="2.6" fill="#5c1c16" stroke="#2a0806" stroke-width=".5"/>
<ellipse cx="206.6" cy="751.4" rx="3.3" ry="2.4" fill="#5c1c16" stroke="#2a0806" stroke-width=".5"/>
<circle cx="278.4" cy="805.5" r="1.5" fill="#f4c4c4" stroke="#a05050" stroke-width=".6"/>
<text x="58.2" y="747.6" text-anchor="end" class="tk">210</text><text x="59.4" y="781.7" text-anchor="end" class="tk">170</text><text x="61.5" y="815.2" text-anchor="end" class="tk">130</text><text x="63.1" y="849.5" text-anchor="end" class="tk">90</text><text x="65.4" y="882.6" text-anchor="end" class="tk">50</text><text x="66.8" y="925.3" text-anchor="end" class="tk">37.00</text><text x="105.2" y="946.0" text-anchor="end" class="tk">34.50</text><text x="136.7" y="960.8" text-anchor="end" class="tk">32.00</text><text x="168.9" y="976.5" text-anchor="end" class="tk">29.50</text><text x="202.3" y="992.1" text-anchor="end" class="tk">27.00</text><text x="213.6" y="992.2" class="tk">0.00</text><text x="245.3" y="976.5" class="tk">0.75</text><text x="278.3" y="960.8" class="tk">1.50</text><text x="310.2" y="946.0" class="tk">2.25</text><text x="343.3" y="930.0" class="tk">3.00</text><text x="92.0" y="985.5" text-anchor="middle" class="ti">D: Tempearture</text><text x="323.1" y="985.7" text-anchor="middle" class="ti">B: Methionine</text><text transform="translate(30.2 832.5) rotate(-90)" text-anchor="middle" class="tz">Amorphadiene (mg/l)</text><text x="201.5" y="1018.9" text-anchor="middle" class="cap">(e)</text></g>
<g id="pf"><path d="M627.3 863.6L627.3 703.0M489.0 733.1L627.3 703.0M627.3 703.0L765.5 733.1" fill="none" stroke="#000" stroke-width="1.5"/>
<path d="M497.5 911.6L627.3 973.0L757.1 911.6L627.3 863.6z" fill="#ffff00" stroke="#000" stroke-width="1.3" stroke-linejoin="round"/>
<g fill="none" stroke-linecap="round" clip-path="url(#flf)">
<clipPath id="flf"><path d="M497.5 911.6L627.3 973.0L757.1 911.6L627.3 863.6z"/></clipPath>
<path d="M723.5 899.2l0.6 2.5l0.1 1.4l0.1 2.3l-0.2 2.1l-0.3 1.6l-0.6 2l-0.8 2.2l-1.1 2.1l-1.3 2l-1.4 2l-1.7 1.9l-2.5 2.6l-2.3 2.1l-2.2 1.8l-3.7 2.6l-3 1.9l-3.8 2.2l-4.6 2.3l-4.9 2.3l-5.2 2.1l-3.7 1.4l-5.8 1.9l-4.6 1.4l-6 1.6l-4.5 1.1l-4.7 1.1l-5.8 1.1l-5.6 0.9l-5.2 0.8l-4.9 0.6l-5 0.6l-6 0.5l-6.2 0.4l-4.1 0.1l-5.9 0.2l-5.2 0l-5.7-0.1l-4.3-0.2" stroke="#b4f000" stroke-width="4.1" opacity=".5"/>
<path d="M723.5 899.2l0.6 2.5l0.1 1.4l0.1 2.3l-0.2 2.1l-0.3 1.6l-0.6 2l-0.8 2.2l-1.1 2.1l-1.3 2l-1.4 2l-1.7 1.9l-2.5 2.6l-2.3 2.1l-2.2 1.8l-3.7 2.6l-3 1.9l-3.8 2.2l-4.6 2.3l-4.9 2.3l-5.2 2.1l-3.7 1.4l-5.8 1.9l-4.6 1.4l-6 1.6l-4.5 1.1l-4.7 1.1l-5.8 1.1l-5.6 0.9l-5.2 0.8l-4.9 0.6l-5 0.6l-6 0.5l-6.2 0.4l-4.1 0.1l-5.9 0.2l-5.2 0l-5.7-0.1l-4.3-0.2" stroke="#3cc828" stroke-width="1.50"/>
<path d="M504.9 915.1l0-1.5l0.2-2.4l0.4-1.9" stroke="#b4f000" stroke-width="4.1" opacity=".5"/>
<path d="M504.9 915.1l0-1.5l0.2-2.4l0.4-1.9" stroke="#3cc828" stroke-width="1.50"/>
<path d="M626.8 863.8l1 0" stroke="#b4f000" stroke-width="4.1" opacity=".5"/>
<path d="M626.8 863.8l1 0" stroke="#3cc828" stroke-width="1.50"/>
</g>
<path d="M627.3 973.0l-1.5 2.2M627.3 973.0l1.5 2.2M591.6 956.1l-1.5 2.2M663.0 956.1l1.5 2.2M558.2 940.3l-1.5 2.2M696.4 940.3l1.5 2.2M526.9 925.5l-1.5 2.2M727.7 925.5l1.5 2.2M497.5 911.6l-1.5 2.2M757.1 911.6l1.5 2.2" stroke="#000" stroke-width="1" fill="none"/>
<path d="M497.5 911.6L489.0 733.1M757.1 911.6L765.5 733.1" fill="none" stroke="#000" stroke-width="1.6"/>
<path d="M489.3 733.1h-1.6M491.0 768.2h-1.6M492.6 802.5h-1.6M494.2 836.0h-1.6M495.8 868.7h-1.6" stroke="#c00000" stroke-width="1.4" fill="none"/>
<path d="M555.5 828.1V841.9" stroke="#000" stroke-width="1.5"/>
<circle cx="555.5" cy="843.4" r="1.9" fill="#fff" stroke="#000" stroke-width="1.5"/>
<path d="M697.6 846.1V883.3" stroke="#000" stroke-width="1.5"/>
<circle cx="697.6" cy="884.8" r="1.9" fill="#fff" stroke="#000" stroke-width="1.5"/>
<g stroke-width=".5" stroke-linejoin="round">
<path d="M620.2 765l7.1 1.2l-7 1.2l-7.1-1.1z" fill="#7b1200" stroke="#7b1200"/>
<path d="M634.4 765.9l7 2l-7.1 0.2l-7-1.9z" fill="#771100" stroke="#771100"/>
<path d="M648.5 768.5l6.9 2.7l-7.2-0.6l-6.8-2.7z" fill="#731200" stroke="#731200"/>
<path d="M662.6 772.8l6.8 3.5l-7.3-1.7l-6.7-3.4z" fill="#721a00" stroke="#721a00"/>
<path d="M676.7 778.8l6.6 4.2l-7.4-2.6l-6.5-4.1z" fill="#752900" stroke="#752900"/>
<path d="M570.3 774.7l7.5-2l-6.6 3.9l-7.4 2z" fill="#8e2000" stroke="#8e2000"/>
<path d="M584.5 769.6l7.4-1.2l-6.8 3.1l-7.3 1.2z" fill="#861400" stroke="#861400"/>
<path d="M598.7 766.2l7.3-0.3l-6.8 2.1l-7.3 0.4z" fill="#821200" stroke="#821200"/>
<path d="M613 764.6l7.2 0.4l-7 1.3l-7.2-0.4z" fill="#7e1100" stroke="#7e1100"/>
<path d="M627.3 764.7l7.1 1.2l-7.1 0.3l-7.1-1.2z" fill="#7a1100" stroke="#7a1100"/>
<path d="M641.6 766.6l6.9 1.9l-7.1-0.6l-7-2z" fill="#761100" stroke="#761100"/>
<path d="M655.8 770.1l6.8 2.7l-7.2-1.6l-6.9-2.7z" fill="#721100" stroke="#721100"/>
<path d="M670 775.4l6.7 3.4l-7.3-2.5l-6.8-3.5z" fill="#721a00" stroke="#721a00"/>
<path d="M684.1 782.4l6.5 4.1l-7.3-3.5l-6.6-4.2z" fill="#752b00" stroke="#752b00"/>
<path d="M562.8 777.5l7.5-2.8l-6.5 3.9l-7.6 2.8z" fill="#922200" stroke="#922200"/>
<path d="M577 771.6l7.5-2l-6.7 3.1l-7.5 2z" fill="#891500" stroke="#891500"/>
<path d="M620.1 764.3l7.2 0.4l-7.1 0.3l-7.2-0.4z" fill="#7d1000" stroke="#7d1000"/>
<path d="M634.5 765.3l7.1 1.3l-7.2-0.7l-7.1-1.2z" fill="#791000" stroke="#791000"/>
<path d="M677.4 778.9l6.7 3.5l-7.4-3.6l-6.7-3.4z" fill="#721c00" stroke="#721c00"/>
<path d="M691.6 786.8l6.5 4.2l-7.5-4.5l-6.5-4.1z" fill="#772f00" stroke="#772f00"/>
<path d="M591.3 767.4l7.4-1.2l-6.8 2.2l-7.4 1.2z" fill="#851200" stroke="#851200"/>
<path d="M605.7 765l7.3-0.4l-7 1.3l-7.3 0.3z" fill="#811100" stroke="#811100"/>
<path d="M648.9 768.1l6.9 2l-7.3-1.6l-6.9-1.9z" fill="#751000" stroke="#751000"/>
<path d="M663.2 772.7l6.8 2.7l-7.4-2.6l-6.8-2.7z" fill="#711100" stroke="#711100"/>
<path d="M555.2 781.1l7.6-3.6l-6.6 3.9l-7.5 3.6z" fill="#962600" stroke="#962600"/>
<path d="M569.5 774.4l7.5-2.8l-6.7 3.1l-7.5 2.8z" fill="#8c1500" stroke="#8c1500"/>
<path d="M583.8 769.4l7.5-2l-6.8 2.2l-7.5 2z" fill="#881300" stroke="#881300"/>
<path d="M598.3 766.1l7.4-1.1l-7 1.2l-7.4 1.2z" fill="#841100" stroke="#841100"/>
<path d="M612.8 764.6l7.3-0.3l-7.1 0.3l-7.3 0.4z" fill="#801000" stroke="#801000"/>
<path d="M627.3 764.9l7.2 0.4l-7.2-0.6l-7.2-0.4z" fill="#7c0f00" stroke="#7c0f00"/>
<path d="M641.8 766.9l7.1 1.2l-7.3-1.5l-7.1-1.3z" fill="#781000" stroke="#781000"/>
<path d="M656.2 770.7l7 2l-7.4-2.6l-6.9-2z" fill="#741000" stroke="#741000"/>
<path d="M670.6 776.2l6.8 2.7l-7.4-3.5l-6.8-2.7z" fill="#701100" stroke="#701100"/>
<path d="M684.9 783.4l6.7 3.4l-7.5-4.4l-6.7-3.5z" fill="#732100" stroke="#732100"/>
<path d="M699.1 792.3l6.5 4.1l-7.5-5.4l-6.5-4.2z" fill="#793600" stroke="#793600"/>
<path d="M547.5 785.5l7.7-4.4l-6.5 3.9l-7.7 4.5z" fill="#9d2e00" stroke="#9d2e00"/>
<path d="M561.8 778l7.7-3.6l-6.7 3.1l-7.6 3.6z" fill="#8f1600" stroke="#8f1600"/>
<path d="M576.3 772.2l7.5-2.8l-6.8 2.2l-7.5 2.8z" fill="#8c1300" stroke="#8c1300"/>
<path d="M590.8 768.1l7.5-2l-7 1.3l-7.5 2z" fill="#881100" stroke="#881100"/>
<path d="M605.4 765.8l7.4-1.2l-7.1 0.4l-7.4 1.1z" fill="#841000" stroke="#841000"/>
<path d="M620 765.2l7.3-0.3l-7.2-0.6l-7.3 0.3z" fill="#800f00" stroke="#800f00"/>
<path d="M634.6 766.5l7.2 0.4l-7.3-1.6l-7.2-0.4z" fill="#7b0f00" stroke="#7b0f00"/>
<path d="M649.2 769.5l7 1.2l-7.3-2.6l-7.1-1.2z" fill="#770f00" stroke="#770f00"/>
<path d="M663.7 774.2l6.9 2l-7.4-3.5l-7-2z" fill="#731000" stroke="#731000"/>
<path d="M678.2 780.7l6.7 2.7l-7.5-4.5l-6.8-2.7z" fill="#701400" stroke="#701400"/>
<path d="M692.5 788.9l6.6 3.4l-7.5-5.5l-6.7-3.4z" fill="#752800" stroke="#752800"/>
<path d="M706.7 798.8l6.5 4.1l-7.6-6.5l-6.5-4.1z" fill="#7c3f00" stroke="#7c3f00"/>
<path d="M539.7 790.8l7.8-5.3l-6.5 4l-7.7 5.2z" fill="#a43900" stroke="#a43900"/>
<path d="M554.1 782.4l7.7-4.4l-6.6 3.1l-7.7 4.4z" fill="#941a00" stroke="#941a00"/>
<path d="M568.6 775.8l7.7-3.6l-6.8 2.2l-7.7 3.6z" fill="#8f1400" stroke="#8f1400"/>
<path d="M583.2 770.9l7.6-2.8l-7 1.3l-7.5 2.8z" fill="#8b1200" stroke="#8b1200"/>
<path d="M597.9 767.7l7.5-1.9l-7.1 0.3l-7.5 2z" fill="#871000" stroke="#871000"/>
<path d="M612.6 766.4l7.4-1.2l-7.2-0.6l-7.4 1.2z" fill="#830f00" stroke="#830f00"/>
<path d="M627.3 766.8l7.3-0.3l-7.3-1.6l-7.3 0.3z" fill="#7f0f00" stroke="#7f0f00"/>
<path d="M642 769l7.2 0.5l-7.4-2.6l-7.2-0.4z" fill="#7a0f00" stroke="#7a0f00"/>
<path d="M656.7 773l7 1.2l-7.5-3.5l-7-1.2z" fill="#761000" stroke="#761000"/>
<path d="M671.3 778.7l6.9 2l-7.6-4.5l-6.9-2z" fill="#721100" stroke="#721100"/>
<path d="M685.8 786.2l6.7 2.7l-7.6-5.5l-6.7-2.7z" fill="#731c00" stroke="#731c00"/>
<path d="M700.1 795.4l6.6 3.4l-7.6-6.5l-6.6-3.4z" fill="#793200" stroke="#793200"/>
<path d="M714.4 806.3l6.4 4l-7.6-7.4l-6.5-4.1z" fill="#804a00" stroke="#804a00"/>
<path d="M531.9 796.9l7.8-6.1l-6.4 3.9l-7.8 6.1z" fill="#ac4600" stroke="#ac4600"/>
<path d="M546.3 787.7l7.8-5.3l-6.6 3.1l-7.8 5.3z" fill="#9b2400" stroke="#9b2400"/>
<path d="M590.3 770.5l7.6-2.8l-7.1 0.4l-7.6 2.8z" fill="#8a1100" stroke="#8a1100"/>
<path d="M605.1 768.4l7.5-2l-7.2-0.6l-7.5 1.9z" fill="#860f00" stroke="#860f00"/>
<path d="M649.5 772.6l7.2 0.4l-7.5-3.5l-7.2-0.5z" fill="#790f00" stroke="#790f00"/>
<path d="M664.2 777.6l7.1 1.1l-7.6-4.5l-7-1.2z" fill="#751000" stroke="#751000"/>
<path d="M707.8 802.9l6.6 3.4l-7.7-7.5l-6.6-3.4z" fill="#7d3d00" stroke="#7d3d00"/>
<path d="M722.1 814.8l6.4 4l-7.7-8.5l-6.4-4z" fill="#825a00" stroke="#825a00"/>
<path d="M560.9 780.2l7.7-4.4l-6.8 2.2l-7.7 4.4z" fill="#921500" stroke="#921500"/>
<path d="M575.5 774.5l7.7-3.6l-6.9 1.3l-7.7 3.6z" fill="#8e1300" stroke="#8e1300"/>
<path d="M619.9 768l7.4-1.2l-7.3-1.6l-7.4 1.2z" fill="#820f00" stroke="#820f00"/>
<path d="M634.7 769.4l7.3-0.4l-7.4-2.5l-7.3 0.3z" fill="#7e0f00" stroke="#7e0f00"/>
<path d="M678.9 784.3l6.9 1.9l-7.6-5.5l-6.9-2z" fill="#711200" stroke="#711200"/>
<path d="M693.4 792.8l6.7 2.6l-7.6-6.5l-6.7-2.7z" fill="#762600" stroke="#762600"/>
<path d="M524 803.9l7.9-7l-6.4 3.9l-7.9 7z" fill="#b65700" stroke="#b65700"/>
<path d="M538.4 793.9l7.9-6.2l-6.6 3.1l-7.8 6.1z" fill="#a33200" stroke="#a33200"/>
<path d="M553 785.6l7.9-5.4l-6.8 2.2l-7.8 5.3z" fill="#951700" stroke="#951700"/>
<path d="M567.8 779l7.7-4.5l-6.9 1.3l-7.7 4.4z" fill="#921400" stroke="#921400"/>
<path d="M582.6 774.2l7.7-3.7l-7.1 0.4l-7.7 3.6z" fill="#8e1100" stroke="#8e1100"/>
<path d="M597.4 771.2l7.7-2.8l-7.2-0.7l-7.6 2.8z" fill="#8a1000" stroke="#8a1000"/>
<path d="M612.4 770l7.5-2l-7.3-1.6l-7.5 2z" fill="#860f00" stroke="#860f00"/>
<path d="M627.3 770.6l7.4-1.2l-7.4-2.6l-7.4 1.2z" fill="#810f00" stroke="#810f00"/>
<path d="M642.2 773l7.3-0.4l-7.5-3.6l-7.3 0.4z" fill="#7d0f00" stroke="#7d0f00"/>
<path d="M657.1 777.2l7.1 0.4l-7.5-4.6l-7.2-0.4z" fill="#781000" stroke="#781000"/>
<path d="M671.9 783.1l7 1.2l-7.6-5.6l-7.1-1.1z" fill="#741100" stroke="#741100"/>
<path d="M686.6 790.9l6.8 1.9l-7.6-6.6l-6.9-1.9z" fill="#741b00" stroke="#741b00"/>
<path d="M701.2 800.3l6.6 2.6l-7.7-7.5l-6.7-2.6z" fill="#7b3200" stroke="#7b3200"/>
<path d="M715.6 811.5l6.5 3.3l-7.7-8.5l-6.6-3.4z" fill="#834b00" stroke="#834b00"/>
<path d="M729.8 824.3l6.4 3.9l-7.7-9.4l-6.4-4z" fill="#856c00" stroke="#856c00"/>
<path d="M516.1 811.8l7.9-7.9l-6.4 3.9l-7.9 7.8z" fill="#c26b00" stroke="#c26b00"/>
<path d="M530.5 800.9l7.9-7l-6.5 3l-7.9 7z" fill="#ad4200" stroke="#ad4200"/>
<path d="M545.2 791.8l7.8-6.2l-6.7 2.1l-7.9 6.2z" fill="#9c2000" stroke="#9c2000"/>
<path d="M559.9 784.3l7.9-5.3l-6.9 1.2l-7.9 5.4z" fill="#951500" stroke="#951500"/>
<path d="M574.8 778.7l7.8-4.5l-7.1 0.3l-7.7 4.5z" fill="#911300" stroke="#911300"/>
<path d="M589.7 774.8l7.7-3.6l-7.1-0.7l-7.7 3.7z" fill="#8d1100" stroke="#8d1100"/>
<path d="M604.7 772.8l7.7-2.8l-7.3-1.6l-7.7 2.8z" fill="#890f00" stroke="#890f00"/>
<path d="M619.8 772.6l7.5-2l-7.4-2.6l-7.5 2z" fill="#850f00" stroke="#850f00"/>
<path d="M634.8 774.2l7.4-1.2l-7.5-3.6l-7.4 1.2z" fill="#800f00" stroke="#800f00"/>
<path d="M649.8 777.6l7.3-0.4l-7.6-4.6l-7.3 0.4z" fill="#7c0f00" stroke="#7c0f00"/>
<path d="M664.7 782.8l7.2 0.3l-7.7-5.5l-7.1-0.4z" fill="#771000" stroke="#771000"/>
<path d="M679.6 789.7l7 1.2l-7.7-6.6l-7-1.2z" fill="#731200" stroke="#731200"/>
<path d="M694.3 798.5l6.9 1.8l-7.8-7.5l-6.8-1.9z" fill="#792700" stroke="#792700"/>
<path d="M708.9 808.9l6.7 2.6l-7.8-8.6l-6.6-2.6z" fill="#804000" stroke="#804000"/>
<path d="M723.4 821l6.4 3.3l-7.7-9.5l-6.5-3.3z" fill="#855d00" stroke="#855d00"/>
<path d="M737.6 834.8l6.3 3.9l-7.7-10.5l-6.4-3.9z" fill="#888000" stroke="#888000"/>
<path d="M508.1 820.5l8-8.7l-6.4 3.8l-7.9 8.7z" fill="#ca8500" stroke="#ca8500"/>
<path d="M522.6 808.8l7.9-7.9l-6.5 3l-7.9 7.9z" fill="#b85600" stroke="#b85600"/>
<path d="M566.9 784.1l7.9-5.4l-7 0.3l-7.9 5.3z" fill="#941400" stroke="#941400"/>
<path d="M627.3 776.2l7.5-2l-7.5-3.6l-7.5 2z" fill="#840f00" stroke="#840f00"/>
<path d="M687.4 797.4l6.9 1.1l-7.7-7.6l-7-1.2z" fill="#781e00" stroke="#781e00"/>
<path d="M731.2 831.6l6.4 3.2l-7.8-10.5l-6.4-3.3z" fill="#887200" stroke="#887200"/>
<path d="M745.4 846.3l6.2 3.8l-7.7-11.4l-6.3-3.9z" fill="#788300" stroke="#788300"/>
<path d="M537.2 798.8l8-7l-6.8 2.1l-7.9 7z" fill="#a63100" stroke="#a63100"/>
<path d="M552 790.6l7.9-6.3l-6.9 1.3l-7.8 6.2z" fill="#981700" stroke="#981700"/>
<path d="M581.9 779.4l7.8-4.6l-7.1-0.6l-7.8 4.5z" fill="#901200" stroke="#901200"/>
<path d="M597 776.5l7.7-3.7l-7.3-1.6l-7.7 3.6z" fill="#8c1000" stroke="#8c1000"/>
<path d="M612.1 775.4l7.7-2.8l-7.4-2.6l-7.7 2.8z" fill="#880f00" stroke="#880f00"/>
<path d="M642.4 778.8l7.4-1.2l-7.6-4.6l-7.4 1.2z" fill="#7f0f00" stroke="#7f0f00"/>
<path d="M657.5 783.2l7.2-0.4l-7.6-5.6l-7.3 0.4z" fill="#7b1000" stroke="#7b1000"/>
<path d="M672.5 789.4l7.1 0.3l-7.7-6.6l-7.2-0.3z" fill="#761200" stroke="#761200"/>
<path d="M702.1 807.1l6.8 1.8l-7.7-8.6l-6.9-1.8z" fill="#7e3600" stroke="#7e3600"/>
<path d="M716.7 818.5l6.7 2.5l-7.8-9.5l-6.7-2.6z" fill="#865000" stroke="#865000"/>
<path d="M500.1 830.2l8-9.7l-6.3 3.8l-8 9.6z" fill="#d2a400" stroke="#d2a400"/>
<path d="M514.5 817.6l8.1-8.8l-6.5 3l-8 8.7z" fill="#c56d00" stroke="#c56d00"/>
<path d="M529.2 806.8l8-8l-6.7 2.1l-7.9 7.9z" fill="#b14500" stroke="#b14500"/>
<path d="M559 790.3l7.9-6.2l-7 0.2l-7.9 6.3z" fill="#971600" stroke="#971600"/>
<path d="M574.1 784.8l7.8-5.4l-7.1-0.7l-7.9 5.4z" fill="#941300" stroke="#941300"/>
<path d="M619.7 779.1l7.6-2.9l-7.5-3.6l-7.7 2.8z" fill="#871000" stroke="#871000"/>
<path d="M634.9 780.9l7.5-2.1l-7.6-4.6l-7.5 2z" fill="#821000" stroke="#821000"/>
<path d="M680.3 797.1l7.1 0.3l-7.8-7.7l-7.1-0.3z" fill="#771700" stroke="#771700"/>
<path d="M695.2 806.1l6.9 1l-7.8-8.6l-6.9-1.1z" fill="#7d2d00" stroke="#7d2d00"/>
<path d="M724.6 829.2l6.6 2.4l-7.8-10.6l-6.7-2.5z" fill="#896600" stroke="#896600"/>
<path d="M739 843.3l6.4 3l-7.8-11.5l-6.4-3.2z" fill="#8c8900" stroke="#8c8900"/>
<path d="M753.2 858.9l6.2 3.7l-7.8-12.5l-6.2-3.8z" fill="#567700" stroke="#567700"/>
<path d="M544 797.7l8-7.1l-6.8 1.2l-8 7z" fill="#9f2300" stroke="#9f2300"/>
<path d="M589.2 781.1l7.8-4.6l-7.3-1.7l-7.8 4.6z" fill="#901100" stroke="#901100"/>
<path d="M604.4 779.2l7.7-3.8l-7.4-2.6l-7.7 3.7z" fill="#8b1000" stroke="#8b1000"/>
<path d="M650.1 784.5l7.4-1.3l-7.7-5.6l-7.4 1.2z" fill="#7e1000" stroke="#7e1000"/>
<path d="M665.2 789.9l7.3-0.5l-7.8-6.6l-7.2 0.4z" fill="#7a1100" stroke="#7a1100"/>
<path d="M710 816.8l6.7 1.7l-7.8-9.6l-6.8-1.8z" fill="#854600" stroke="#854600"/>
<path d="M506.5 827.3l8-9.7l-6.4 2.9l-8 9.7z" fill="#ce8b00" stroke="#ce8b00"/>
<path d="M521.1 815.6l8.1-8.8l-6.6 2l-8.1 8.8z" fill="#bd5c00" stroke="#bd5c00"/>
<path d="M536 805.7l8-8l-6.8 1.1l-8 8z" fill="#aa3600" stroke="#aa3600"/>
<path d="M551 797.5l8-7.2l-7 0.3l-8 7.1z" fill="#9a1800" stroke="#9a1800"/>
<path d="M566.1 791.1l8-6.3l-7.2-0.7l-7.9 6.2z" fill="#971500" stroke="#971500"/>
<path d="M581.3 786.5l7.9-5.4l-7.3-1.7l-7.8 5.4z" fill="#931300" stroke="#931300"/>
<path d="M611.9 782.9l7.8-3.8l-7.6-3.7l-7.7 3.8z" fill="#8a1000" stroke="#8a1000"/>
<path d="M627.3 783.8l7.6-2.9l-7.6-4.7l-7.6 2.9z" fill="#861000" stroke="#861000"/>
<path d="M642.6 786.6l7.5-2.1l-7.7-5.7l-7.5 2.1z" fill="#811000" stroke="#811000"/>
<path d="M673.1 797.6l7.2-0.5l-7.8-7.7l-7.3 0.5z" fill="#791300" stroke="#791300"/>
<path d="M688.2 805.9l7 0.2l-7.8-8.7l-7.1-0.3z" fill="#7d2600" stroke="#7d2600"/>
<path d="M703.1 815.8l6.9 1l-7.9-9.7l-6.9-1z" fill="#843f00" stroke="#843f00"/>
<path d="M717.9 827.5l6.7 1.7l-7.9-10.7l-6.7-1.7z" fill="#8a5b00" stroke="#8a5b00"/>
<path d="M732.5 840.9l6.5 2.4l-7.8-11.7l-6.6-2.4z" fill="#8d7e00" stroke="#8d7e00"/>
<path d="M746.9 855.9l6.3 3l-7.8-12.6l-6.4-3z" fill="#6e8100" stroke="#6e8100"/>
<path d="M596.6 783.8l7.8-4.6l-7.4-2.7l-7.8 4.6z" fill="#8f1100" stroke="#8f1100"/>
<path d="M657.9 791.2l7.3-1.3l-7.7-6.7l-7.4 1.3z" fill="#7d1100" stroke="#7d1100"/>
<path d="M513 825.4l8.1-9.8l-6.6 2l-8 9.7z" fill="#ca7600" stroke="#ca7600"/>
<path d="M527.9 814.6l8.1-8.9l-6.8 1.1l-8.1 8.8z" fill="#b64d00" stroke="#b64d00"/>
<path d="M542.9 805.6l8.1-8.1l-7 0.2l-8 8z" fill="#a52b00" stroke="#a52b00"/>
<path d="M558.1 798.3l8-7.2l-7.1-0.8l-8 7.2z" fill="#9a1700" stroke="#9a1700"/>
<path d="M573.3 792.9l8-6.4l-7.2-1.7l-8 6.3z" fill="#961500" stroke="#961500"/>
<path d="M588.7 789.3l7.9-5.5l-7.4-2.7l-7.9 5.4z" fill="#921300" stroke="#921300"/>
<path d="M604.1 787.5l7.8-4.6l-7.5-3.7l-7.8 4.6z" fill="#8e1100" stroke="#8e1100"/>
<path d="M619.6 787.6l7.7-3.8l-7.6-4.7l-7.8 3.8z" fill="#891100" stroke="#891100"/>
<path d="M635 789.6l7.6-3l-7.7-5.7l-7.6 2.9z" fill="#851100" stroke="#851100"/>
<path d="M650.4 793.4l7.5-2.2l-7.8-6.7l-7.5 2.1z" fill="#801200" stroke="#801200"/>
<path d="M665.7 799l7.4-1.4l-7.9-7.7l-7.3 1.3z" fill="#7c1300" stroke="#7c1300"/>
<path d="M681 806.5l7.2-0.6l-7.9-8.8l-7.2 0.5z" fill="#7e2100" stroke="#7e2100"/>
<path d="M696.1 815.7l7 0.1l-7.9-9.7l-7-0.2z" fill="#843800" stroke="#843800"/>
<path d="M711 826.7l6.9 0.8l-7.9-10.7l-6.9-1z" fill="#8c5200" stroke="#8c5200"/>
<path d="M725.8 839.3l6.7 1.6l-7.9-11.7l-6.7-1.7z" fill="#8e7400" stroke="#8e7400"/>
<path d="M740.4 853.7l6.5 2.2l-7.9-12.6l-6.5-2.4z" fill="#848b00" stroke="#848b00"/>
<path d="M534.8 814.5l8.1-8.9l-6.9 0.1l-8.1 8.9z" fill="#b14200" stroke="#b14200"/>
<path d="M596.2 793.1l7.9-5.6l-7.5-3.7l-7.9 5.5z" fill="#911300" stroke="#911300"/>
<path d="M658.3 801.2l7.4-2.2l-7.8-7.8l-7.5 2.2z" fill="#7f1300" stroke="#7f1300"/>
<path d="M719 838.5l6.8 0.8l-7.9-11.8l-6.9-0.8z" fill="#8f6b00" stroke="#8f6b00"/>
<path d="M519.7 824.4l8.2-9.8l-6.8 1l-8.1 9.8z" fill="#c46700" stroke="#c46700"/>
<path d="M550 806.4l8.1-8.1l-7.1-0.8l-8.1 8.1z" fill="#a12400" stroke="#a12400"/>
<path d="M565.3 800.1l8-7.2l-7.2-1.8l-8 7.2z" fill="#991700" stroke="#991700"/>
<path d="M580.7 795.7l8-6.4l-7.4-2.8l-8 6.4z" fill="#951400" stroke="#951400"/>
<path d="M611.7 792.3l7.9-4.7l-7.7-4.7l-7.8 4.6z" fill="#8c1200" stroke="#8c1200"/>
<path d="M627.3 793.4l7.7-3.8l-7.7-5.8l-7.7 3.8z" fill="#881200" stroke="#881200"/>
<path d="M642.8 796.4l7.6-3l-7.8-6.8l-7.6 3z" fill="#831200" stroke="#831200"/>
<path d="M673.6 807.9l7.4-1.4l-7.9-8.9l-7.4 1.4z" fill="#801e00" stroke="#801e00"/>
<path d="M688.9 816.4l7.2-0.7l-7.9-9.8l-7.2 0.6z" fill="#853400" stroke="#853400"/>
<path d="M704.1 826.6l6.9 0.1l-7.9-10.9l-7-0.1z" fill="#8c4c00" stroke="#8c4c00"/>
<path d="M733.8 852.2l6.6 1.5l-7.9-12.8l-6.7-1.6z" fill="#928e00" stroke="#928e00"/>
<path d="M526.6 824.4l8.2-9.9l-6.9 0.1l-8.2 9.8z" fill="#bf5c00" stroke="#bf5c00"/>
<path d="M541.8 815.5l8.2-9.1l-7.1-0.8l-8.1 8.9z" fill="#ae3b00" stroke="#ae3b00"/>
<path d="M588.2 799.5l8-6.4l-7.5-3.8l-8 6.4z" fill="#941500" stroke="#941500"/>
<path d="M603.8 797.9l7.9-5.6l-7.6-4.8l-7.9 5.6z" fill="#901300" stroke="#901300"/>
<path d="M650.7 804.3l7.6-3.1l-7.9-7.8l-7.6 3z" fill="#821400" stroke="#821400"/>
<path d="M666.2 810.2l7.4-2.3l-7.9-8.9l-7.4 2.2z" fill="#821d00" stroke="#821d00"/>
<path d="M712.1 838.6l6.9-0.1l-8-11.8l-6.9-0.1z" fill="#916500" stroke="#916500"/>
<path d="M727 851.5l6.8 0.7l-8-12.9l-6.8-0.8z" fill="#938700" stroke="#938700"/>
<path d="M557.2 808.3l8.1-8.2l-7.2-1.8l-8.1 8.1z" fill="#9f2000" stroke="#9f2000"/>
<path d="M572.7 803l8-7.3l-7.4-2.8l-8 7.2z" fill="#981700" stroke="#981700"/>
<path d="M619.5 798.2l7.8-4.8l-7.7-5.8l-7.9 4.7z" fill="#8b1300" stroke="#8b1300"/>
<path d="M635.1 800.3l7.7-3.9l-7.8-6.8l-7.7 3.8z" fill="#871300" stroke="#871300"/>
<path d="M681.6 817.9l7.3-1.5l-7.9-9.9l-7.4 1.4z" fill="#873100" stroke="#873100"/>
<path d="M696.9 827.3l7.2-0.7l-8-10.9l-7.2 0.7z" fill="#8d4800" stroke="#8d4800"/>
<path d="M533.6 825.4l8.2-9.9l-7-1l-8.2 9.9z" fill="#bb5400" stroke="#bb5400"/>
<path d="M549 817.4l8.2-9.1l-7.2-1.9l-8.2 9.1z" fill="#ab3600" stroke="#ab3600"/>
<path d="M580.1 806.9l8.1-7.4l-7.5-3.8l-8 7.3z" fill="#971700" stroke="#971700"/>
<path d="M595.8 804.5l8-6.6l-7.6-4.8l-8 6.4z" fill="#931500" stroke="#931500"/>
<path d="M611.6 803.9l7.9-5.7l-7.8-5.9l-7.9 5.6z" fill="#8e1400" stroke="#8e1400"/>
<path d="M643 808.3l7.7-4l-7.9-7.9l-7.7 3.9z" fill="#861500" stroke="#861500"/>
<path d="M658.6 813.4l7.6-3.2l-7.9-9l-7.6 3.1z" fill="#861f00" stroke="#861f00"/>
<path d="M674.2 820.2l7.4-2.3l-8-10l-7.4 2.3z" fill="#8a3100" stroke="#8a3100"/>
<path d="M705 839.4l7.1-0.8l-8-12l-7.2 0.7z" fill="#946100" stroke="#946100"/>
<path d="M720.1 851.6l6.9-0.1l-8-13l-6.9 0.1z" fill="#968100" stroke="#968100"/>
<path d="M564.5 811.3l8.2-8.3l-7.4-2.9l-8.1 8.2z" fill="#9e1f00" stroke="#9e1f00"/>
<path d="M627.3 805.2l7.8-4.9l-7.8-6.9l-7.8 4.8z" fill="#8a1400" stroke="#8a1400"/>
<path d="M689.7 828.9l7.2-1.6l-8-10.9l-7.3 1.5z" fill="#8f4600" stroke="#8f4600"/>
<path d="M572 815.2l8.1-8.3l-7.4-3.9l-8.2 8.3z" fill="#9e2200" stroke="#9e2200"/>
<path d="M682.3 831.4l7.4-2.5l-8.1-11l-7.4 2.3z" fill="#924600" stroke="#924600"/>
<path d="M540.8 827.5l8.2-10.1l-7.2-1.9l-8.2 9.9z" fill="#b95000" stroke="#b95000"/>
<path d="M556.3 820.4l8.2-9.1l-7.3-3l-8.2 9.1z" fill="#aa3600" stroke="#aa3600"/>
<path d="M587.7 811.9l8.1-7.4l-7.6-5l-8.1 7.4z" fill="#961700" stroke="#961700"/>
<path d="M603.5 810.5l8.1-6.6l-7.8-6l-8 6.6z" fill="#921600" stroke="#921600"/>
<path d="M619.4 810.9l7.9-5.7l-7.8-7l-7.9 5.7z" fill="#8d1600" stroke="#8d1600"/>
<path d="M635.2 813.2l7.8-4.9l-7.9-8l-7.8 4.9z" fill="#8a1700" stroke="#8a1700"/>
<path d="M651 817.4l7.6-4l-7.9-9.1l-7.7 4z" fill="#8a2300" stroke="#8a2300"/>
<path d="M666.7 823.5l7.5-3.3l-8-10l-7.6 3.2z" fill="#8d3300" stroke="#8d3300"/>
<path d="M697.7 841.1l7.3-1.7l-8.1-12.1l-7.2 1.6z" fill="#975e00" stroke="#975e00"/>
<path d="M713.1 852.5l7-0.9l-8-13l-7.1 0.8z" fill="#987e00" stroke="#987e00"/>
<path d="M563.8 824.5l8.2-9.3l-7.5-3.9l-8.2 9.1z" fill="#aa3900" stroke="#aa3900"/>
<path d="M579.6 820.3l8.1-8.4l-7.6-5l-8.1 8.3z" fill="#a02900" stroke="#a02900"/>
<path d="M627.3 819l7.9-5.8l-7.9-8l-7.9 5.7z" fill="#912100" stroke="#912100"/>
<path d="M674.8 834.7l7.5-3.3l-8.1-11.2l-7.5 3.3z" fill="#964900" stroke="#964900"/>
<path d="M690.4 843.6l7.3-2.5l-8-12.2l-7.4 2.5z" fill="#9a5f00" stroke="#9a5f00"/>
<path d="M548 830.5l8.3-10.1l-7.3-3l-8.2 10.1z" fill="#b85000" stroke="#b85000"/>
<path d="M595.4 818l8.1-7.5l-7.7-6l-8.1 7.4z" fill="#982000" stroke="#982000"/>
<path d="M611.4 817.6l8-6.7l-7.8-7l-8.1 6.6z" fill="#931d00" stroke="#931d00"/>
<path d="M643.2 822.4l7.8-5l-8-9.1l-7.8 4.9z" fill="#902a00" stroke="#902a00"/>
<path d="M659 827.6l7.7-4.1l-8.1-10.1l-7.6 4z" fill="#923700" stroke="#923700"/>
<path d="M705.9 854.3l7.2-1.8l-8.1-13.1l-7.3 1.7z" fill="#9b7c00" stroke="#9b7c00"/>
<path d="M555.5 834.7l8.3-10.2l-7.5-4.1l-8.3 10.1z" fill="#b85200" stroke="#b85200"/>
<path d="M571.3 829.6l8.3-9.3l-7.6-5.1l-8.2 9.3z" fill="#ac3f00" stroke="#ac3f00"/>
<path d="M587.3 826.4l8.1-8.4l-7.7-6.1l-8.1 8.4z" fill="#a33300" stroke="#a33300"/>
<path d="M619.3 825.8l8-6.8l-7.9-8.1l-8 6.7z" fill="#992d00" stroke="#992d00"/>
<path d="M635.3 828.3l7.9-5.9l-8-9.2l-7.9 5.8z" fill="#973300" stroke="#973300"/>
<path d="M667.1 838.9l7.7-4.2l-8.1-11.2l-7.7 4.1z" fill="#9b4d00" stroke="#9b4d00"/>
<path d="M682.9 847l7.5-3.4l-8.1-12.2l-7.5 3.3z" fill="#9e6200" stroke="#9e6200"/>
<path d="M698.5 857l7.4-2.7l-8.2-13.2l-7.3 2.5z" fill="#9e7d00" stroke="#9e7d00"/>
<path d="M603.3 825.2l8.1-7.6l-7.9-7.1l-8.1 7.5z" fill="#9d2d00" stroke="#9d2d00"/>
<path d="M651.2 832.7l7.8-5.1l-8-10.2l-7.8 5z" fill="#983e00" stroke="#983e00"/>
<path d="M563 839.9l8.3-10.3l-7.5-5.1l-8.3 10.2z" fill="#ba5800" stroke="#ba5800"/>
<path d="M611.2 833.4l8.1-7.6l-7.9-8.2l-8.1 7.6z" fill="#a23c00" stroke="#a23c00"/>
<path d="M627.3 835.1l8-6.8l-8-9.3l-8 6.8z" fill="#9f3f00" stroke="#9f3f00"/>
<path d="M643.4 838.6l7.8-5.9l-8-10.3l-7.9 5.9z" fill="#9f4800" stroke="#9f4800"/>
<path d="M691.1 860.5l7.4-3.5l-8.1-13.4l-7.5 3.4z" fill="#a28100" stroke="#a28100"/>
<path d="M579 835.9l8.3-9.5l-7.7-6.1l-8.3 9.3z" fill="#af4900" stroke="#af4900"/>
<path d="M595.1 833.7l8.2-8.5l-7.9-7.2l-8.1 8.4z" fill="#a73f00" stroke="#a73f00"/>
<path d="M659.4 844.1l7.7-5.2l-8.1-11.3l-7.8 5.1z" fill="#a15500" stroke="#a15500"/>
<path d="M675.3 851.4l7.6-4.4l-8.1-12.3l-7.7 4.2z" fill="#a26800" stroke="#a26800"/>
<path d="M603 842.1l8.2-8.7l-7.9-8.2l-8.2 8.5z" fill="#ad4f00" stroke="#ad4f00"/>
<path d="M651.5 850.1l7.9-6l-8.2-11.4l-7.8 5.9z" fill="#a85f00" stroke="#a85f00"/>
<path d="M570.7 846.2l8.3-10.3l-7.7-6.3l-8.3 10.3z" fill="#bc6200" stroke="#bc6200"/>
<path d="M619.2 842.9l8.1-7.8l-8-9.3l-8.1 7.6z" fill="#a94f00" stroke="#a94f00"/>
<path d="M635.4 845.5l8-6.9l-8.1-10.3l-8 6.8z" fill="#a75400" stroke="#a75400"/>
<path d="M683.5 864.9l7.6-4.4l-8.2-13.5l-7.6 4.4z" fill="#a68700" stroke="#a68700"/>
<path d="M586.8 843.2l8.3-9.5l-7.8-7.3l-8.3 9.5z" fill="#b35500" stroke="#b35500"/>
<path d="M667.6 856.6l7.7-5.2l-8.2-12.5l-7.7 5.2z" fill="#a77000" stroke="#a77000"/>
<path d="M594.7 851.7l8.3-9.6l-7.9-8.4l-8.3 9.5z" fill="#b96400" stroke="#b96400"/>
<path d="M611 851.6l8.2-8.7l-8-9.5l-8.2 8.7z" fill="#b36100" stroke="#b36100"/>
<path d="M643.5 857.1l8-7l-8.1-11.5l-8 6.9z" fill="#ae6d00" stroke="#ae6d00"/>
<path d="M659.7 862.8l7.9-6.2l-8.2-12.5l-7.9 6z" fill="#ac7c00" stroke="#ac7c00"/>
<path d="M578.5 853.6l8.3-10.4l-7.8-7.3l-8.3 10.3z" fill="#c16e00" stroke="#c16e00"/>
<path d="M627.3 853.4l8.1-7.9l-8.1-10.4l-8.1 7.8z" fill="#b16400" stroke="#b16400"/>
<path d="M675.8 870.2l7.7-5.3l-8.2-13.5l-7.7 5.2z" fill="#ab9000" stroke="#ab9000"/>
<path d="M586.4 862.2l8.3-10.5l-7.9-8.5l-8.3 10.4z" fill="#c28000" stroke="#c28000"/>
<path d="M668 876.5l7.8-6.3l-8.2-13.6l-7.9 6.2z" fill="#b09d00" stroke="#b09d00"/>
<path d="M602.7 861.2l8.3-9.6l-8-9.5l-8.3 9.6z" fill="#bd7900" stroke="#bd7900"/>
<path d="M619.1 862.2l8.2-8.8l-8.1-10.5l-8.2 8.7z" fill="#b87900" stroke="#b87900"/>
<path d="M635.5 865.1l8-8l-8.1-11.6l-8.1 7.9z" fill="#b47f00" stroke="#b47f00"/>
<path d="M651.8 869.8l7.9-7l-8.2-12.7l-8 7z" fill="#b28b00" stroke="#b28b00"/>
<path d="M594.4 871.9l8.3-10.7l-8-9.5l-8.3 10.5z" fill="#c49600" stroke="#c49600"/>
<path d="M627.3 874l8.2-8.9l-8.2-11.7l-8.2 8.8z" fill="#bb9500" stroke="#bb9500"/>
<path d="M660 883.7l8-7.2l-8.3-13.7l-7.9 7z" fill="#b6ac00" stroke="#b6ac00"/>
<path d="M610.8 872l8.3-9.8l-8.1-10.6l-8.3 9.6z" fill="#bf9200" stroke="#bf9200"/>
<path d="M643.7 877.9l8.1-8.1l-8.3-12.7l-8 8z" fill="#b89d00" stroke="#b89d00"/>
<path d="M602.5 882.7l8.3-10.7l-8.1-10.8l-8.3 10.7z" fill="#c7af00" stroke="#c7af00"/>
<path d="M619 883.8l8.3-9.8l-8.2-11.8l-8.3 9.8z" fill="#c2ae00" stroke="#c2ae00"/>
<path d="M635.5 886.9l8.2-9l-8.2-12.8l-8.2 8.9z" fill="#bfb300" stroke="#bfb300"/>
<path d="M652 891.8l8-8.1l-8.2-13.9l-8.1 8.1z" fill="#b9bb00" stroke="#b9bb00"/>
<path d="M610.7 894.7l8.3-10.9l-8.2-11.8l-8.3 10.7z" fill="#caca00" stroke="#caca00"/>
<path d="M643.9 901l8.1-9.2l-8.3-13.9l-8.2 9z" fill="#a4b600" stroke="#a4b600"/>
<path d="M627.3 896.9l8.2-10l-8.2-12.9l-8.3 9.8z" fill="#bbc200" stroke="#bbc200"/>
<path d="M618.9 907.8l8.4-10.9l-8.3-13.1l-8.3 10.9z" fill="#9db900" stroke="#9db900"/>
<path d="M635.6 911l8.3-10l-8.4-14.1l-8.2 10z" fill="#8aaf00" stroke="#8aaf00"/>
<path d="M627.3 922.1l8.3-11.1l-8.3-14.1l-8.4 10.9z" fill="#6ca700" stroke="#6ca700"/>
</g>
<path d="M627.3 922.1l6.2-8.4l6.2-7.8l6.2-7.3l6.1-6.8l6-6.2l6-5.6l5.9-5.1l5.9-4.7l5.8-4l5.7-3.6l5.7-3.1l5.5-2.5l5.5-2.1l5.5-1.6l5.3-1.1l5.3-0.6l5.2-0.2l5.1 0.3l5.1 0.8l4.9 1.2l4.9 1.6l4.8 2l4.7 2.5l4.6 2.8M624.8 917.7l6.2-8.4l6.2-7.8l6.2-7.2l6.1-6.8l6.1-6.1l5.9-5.7l6-5.1l5.8-4.6l5.8-4l5.7-3.6l5.7-3l5.6-2.6l5.5-2l5.4-1.5l5.4-1.1l5.3-0.6l5.2-0.2l5.1 0.4l5.1 0.7l4.9 1.2l4.9 1.7l4.8 2l4.7 2.5l4.7 2.9M622.3 913.4l6.2-8.4l6.2-7.7l6.2-7.3l6.1-6.7l6.1-6.1l6-5.6l5.9-5.1l5.9-4.6l5.8-4l5.7-3.5l5.6-3.1l5.6-2.5l5.6-2l5.4-1.5l5.4-1.1l5.3-0.6l5.2-0.1l5.1 0.4l5.1 0.8l5 1.2l4.9 1.6l4.8 2.1l4.7 2.5l4.6 2.9M619.8 909.2l6.2-8.3l6.3-7.8l6.1-7.2l6.1-6.7l6.1-6.1l6-5.6l5.9-5.1l5.9-4.5l5.8-4l5.7-3.5l5.7-3l5.6-2.5l5.5-2l5.5-1.5l5.4-1l5.3-0.6l5.2-0.1l5.1 0.4l5.1 0.8l5 1.2l4.9 1.7l4.8 2.1l4.8 2.5l4.6 2.9M617.3 905.1l6.2-8.3l6.3-7.7l6.1-7.2l6.1-6.7l6.1-6.1l6-5.5l5.9-5.1l5.9-4.5l5.8-4l5.8-3.5l5.7-2.9l5.6-2.5l5.5-2l5.5-1.5l5.3-1l5.4-0.5l5.2-0.1l5.1 0.4l5.1 0.8l5 1.3l4.9 1.7l4.9 2.1l4.7 2.5l4.7 3M614.8 901.1l6.3-8.3l6.2-7.7l6.2-7.1l6.1-6.7l6-6l6-5.6l6-5l5.9-4.5l5.8-4l5.7-3.4l5.7-3l5.6-2.4l5.6-2l5.4-1.5l5.4-1l5.4-0.5l5.2 0l5.2 0.4l5 0.8l5 1.3l5 1.7l4.8 2.2l4.8 2.5l4.7 3M612.3 897.2l6.3-8.2l6.2-7.7l6.2-7.2l6.1-6.6l6.1-6l6-5.5l5.9-5l5.9-4.5l5.8-4l5.8-3.4l5.7-2.9l5.6-2.5l5.5-1.9l5.5-1.4l5.4-1l5.4-0.5l5.2 0l5.2 0.4l5.1 0.8l5 1.4l4.9 1.7l4.9 2.1l4.7 2.6l4.7 3M609.9 893.4l6.2-8.2l6.2-7.6l6.2-7.2l6.1-6.5l6.1-6.1l6-5.5l6-5l5.9-4.4l5.8-3.9l5.7-3.5l5.7-2.9l5.7-2.4l5.5-1.9l5.5-1.4l5.4-1l5.4-0.5l5.2 0l5.2 0.5l5.1 0.9l5 1.3l5 1.7l4.8 2.2l4.8 2.6l4.7 3M607.4 889.8l6.3-8.2l6.2-7.7l6.2-7.1l6.1-6.5l6-6.1l6.1-5.4l5.9-5l5.9-4.4l5.8-3.9l5.8-3.4l5.7-2.9l5.6-2.4l5.6-1.9l5.5-1.4l5.4-0.9l5.4-0.5l5.2 0l5.2 0.5l5.1 0.9l5.1 1.3l4.9 1.8l4.9 2.2l4.8 2.6l4.7 3M604.9 886.2l6.3-8.2l6.2-7.6l6.2-7.1l6.1-6.5l6.1-6l6-5.5l6-4.9l5.9-4.4l5.8-3.9l5.8-3.4l5.7-2.9l5.6-2.3l5.6-1.9l5.5-1.4l5.4-0.9l5.4-0.5l5.2 0.1l5.2 0.4l5.2 1l5 1.3l5 1.8l4.8 2.2l4.8 2.6l4.8 3M602.5 882.7l6.3-8.1l6.2-7.6l6.2-7.1l6.1-6.5l6.1-6l6-5.4l5.9-4.9l5.9-4.4l5.9-3.9l5.8-3.4l5.7-2.8l5.6-2.4l5.6-1.8l5.5-1.4l5.4-0.9l5.4-0.4l5.3 0l5.2 0.5l5.1 0.9l5 1.4l5 1.8l4.9 2.2l4.8 2.7l4.8 3M600 879.3l6.3-8.1l6.2-7.6l6.2-7l6.1-6.5l6.1-5.9l6-5.5l6-4.9l5.9-4.3l5.9-3.9l5.7-3.3l5.8-2.9l5.6-2.3l5.6-1.8l5.5-1.4l5.4-0.9l5.4-0.4l5.3 0.1l5.2 0.5l5.1 0.9l5.1 1.4l5 1.8l4.9 2.3l4.8 2.6l4.7 3.1M597.6 876.1l6.3-8.1l6.2-7.6l6.2-7l6.1-6.5l6.1-5.9l6-5.4l6-4.9l5.9-4.3l5.8-3.9l5.8-3.3l5.7-2.8l5.7-2.3l5.6-1.8l5.5-1.4l5.4-0.9l5.4-0.3l5.3 0l5.2 0.6l5.2 0.9l5.1 1.4l4.9 1.9l4.9 2.2l4.9 2.7l4.7 3M595.2 872.9l6.3-8.1l6.2-7.5l6.2-7l6.1-6.4l6.1-6l6-5.3l6-4.9l5.9-4.3l5.8-3.8l5.8-3.4l5.7-2.8l5.7-2.3l5.6-1.8l5.5-1.3l5.5-0.8l5.3-0.4l5.3 0.1l5.3 0.5l5.1 1l5.1 1.4l5 1.9l4.9 2.2l4.9 2.7l4.7 3.1M592.8 869.9l6.2-8.1l6.3-7.5l6.2-7l6.1-6.4l6.1-5.9l6-5.4l6-4.8l5.9-4.3l5.8-3.8l5.8-3.3l5.8-2.8l5.6-2.3l5.6-1.8l5.5-1.3l5.5-0.8l5.4-0.4l5.3 0.1l5.2 0.6l5.2 1l5.1 1.4l5 1.9l4.9 2.2l4.8 2.7l4.8 3.1M590.4 866.9l6.2-8l6.3-7.5l6.1-7l6.2-6.4l6.1-5.9l6-5.3l6-4.8l5.9-4.3l5.8-3.8l5.8-3.3l5.8-2.8l5.6-2.2l5.6-1.8l5.6-1.3l5.4-0.8l5.4-0.4l5.3 0.2l5.3 0.5l5.1 1l5.1 1.5l5 1.8l5 2.3l4.8 2.7l4.8 3.1M588 864l6.2-8l6.3-7.4l6.1-7l6.2-6.4l6.1-5.8l6-5.3l6-4.9l5.9-4.2l5.8-3.8l5.8-3.3l5.8-2.7l5.7-2.3l5.6-1.7l5.5-1.3l5.5-0.8l5.4-0.3l5.3 0.1l5.2 0.6l5.2 1l5.1 1.4l5 1.9l5 2.3l4.8 2.7l4.8 3.1M585.6 861.3l6.3-8l6.2-7.5l6.2-6.9l6.1-6.3l6.1-5.9l6-5.3l6-4.8l5.9-4.2l5.9-3.8l5.8-3.2l5.7-2.8l5.7-2.2l5.6-1.7l5.5-1.3l5.5-0.8l5.4-0.3l5.3 0.1l5.3 0.6l5.2 1l5.1 1.5l5 1.9l5 2.3l4.8 2.7l4.8 3.1M583.2 858.6l6.3-7.9l6.2-7.5l6.2-6.9l6.1-6.3l6.1-5.8l6-5.3l6-4.8l5.9-4.2l5.9-3.8l5.8-3.2l5.7-2.7l5.7-2.2l5.6-1.8l5.6-1.2l5.4-0.8l5.5-0.3l5.3 0.1l5.3 0.6l5.1 1.1l5.2 1.5l5 1.9l5 2.3l4.8 2.7l4.8 3.1M580.8 856.1l6.3-8l6.2-7.4l6.2-6.8l6.1-6.4l6.1-5.8l6-5.3l6-4.7l5.9-4.2l5.9-3.8l5.8-3.2l5.8-2.7l5.7-2.2l5.6-1.7l5.5-1.2l5.5-0.8l5.4-0.3l5.4 0.2l5.2 0.6l5.2 1l5.1 1.5l5.1 1.9l4.9 2.4l4.9 2.7l4.9 3.1M578.5 853.6l6.2-7.9l6.3-7.4l6.1-6.8l6.2-6.3l6-5.8l6.1-5.3l6-4.7l5.9-4.2l5.9-3.7l5.8-3.2l5.7-2.7l5.7-2.2l5.6-1.7l5.6-1.3l5.5-0.7l5.4-0.3l5.3 0.2l5.3 0.6l5.2 1.1l5.1 1.5l5.1 1.9l5 2.3l4.9 2.8l4.8 3.1M576.1 851.3l6.3-7.9l6.2-7.4l6.2-6.8l6.1-6.3l6.1-5.8l6-5.2l6-4.7l5.9-4.2l5.9-3.7l5.8-3.2l5.8-2.7l5.7-2.2l5.6-1.7l5.5-1.2l5.5-0.7l5.4-0.3l5.4 0.2l5.3 0.6l5.2 1.1l5.1 1.5l5.1 1.9l5 2.4l4.9 2.7l4.8 3.2M573.8 849.1l6.2-7.9l6.3-7.4l6.1-6.8l6.2-6.3l6-5.7l6.1-5.3l6-4.7l5.9-4.1l5.9-3.7l5.8-3.2l5.7-2.6l5.7-2.2l5.6-1.7l5.6-1.2l5.5-0.7l5.4-0.3l5.4 0.2l5.3 0.6l5.2 1.1l5.1 1.5l5.1 1.9l5 2.4l4.9 2.8l4.8 3.1M571.5 846.9l6.2-7.9l6.2-7.3l6.2-6.8l6.1-6.3l6.1-5.7l6-5.2l6-4.7l5.9-4.2l5.9-3.6l5.8-3.2l5.8-2.6l5.7-2.2l5.6-1.7l5.6-1.1l5.5-0.8l5.4-0.2l5.4 0.2l5.3 0.6l5.2 1.1l5.1 1.5l5.1 2l5 2.3l4.9 2.8l4.9 3.1M569.1 844.9l6.3-7.9l6.2-7.3l6.2-6.8l6.1-6.2l6.1-5.7l6-5.2l6-4.7l5.9-4.2l5.9-3.6l5.8-3.1l5.8-2.7l5.7-2.1l5.6-1.7l5.6-1.2l5.5-0.7l5.4-0.2l5.4 0.2l5.3 0.6l5.2 1.1l5.1 1.5l5.1 2l5 2.3l4.9 2.8l4.9 3.2M566.8 842.9l6.3-7.8l6.2-7.3l6.2-6.8l6.1-6.2l6.1-5.7l6-5.2l6-4.6l5.9-4.2l5.9-3.6l5.8-3.1l5.7-2.7l5.7-2.1l5.7-1.7l5.5-1.1l5.6-0.7l5.4-0.3l5.4 0.2l5.3 0.7l5.2 1.1l5.2 1.5l5 2l5 2.4l5 2.7l4.8 3.2M564.5 841.1l6.3-7.8l6.2-7.3l6.1-6.8l6.2-6.2l6-5.7l6.1-5.1l6-4.7l5.9-4.1l5.9-3.6l5.8-3.1l5.7-2.6l5.7-2.2l5.7-1.6l5.5-1.2l5.6-0.7l5.4-0.2l5.4 0.2l5.3 0.7l5.2 1.1l5.2 1.5l5.1 2l5 2.4l4.9 2.7l4.5 2.9M562.3 839.3l6.2-7.8l6.2-7.2l6.2-6.7l6.1-6.2l6-5.7l6.1-5.2l6-4.6l5.9-4.1l5.9-3.6l5.8-3.1l5.7-2.6l5.7-2.1l5.7-1.7l5.6-1.1l5.5-0.7l5.4-0.2l5.4 0.2l5.3 0.7l5.2 1.1l5.2 1.5l5.1 2l5 2.3l5 2.8l2.4 1.6M560 837.7l6.2-7.8l6.2-7.2l6.2-6.7l6.1-6.2l6.1-5.7l6-5.1l6-4.6l5.9-4.1l5.9-3.6l5.8-3.1l5.7-2.6l5.7-2.1l5.7-1.6l5.6-1.2l5.5-0.7l5.4-0.2l5.4 0.2l5.3 0.7l5.3 1.1l5.1 1.6l5.1 1.9l5.1 2.4l4.9 2.8l0.4 0.3M557.7 836.1l6.2-7.7l6.2-7.2l6.2-6.7l6.1-6.2l6.1-5.6l6-5.2l6-4.6l5.9-4l5.9-3.6l5.8-3.1l5.8-2.6l5.7-2.1l5.6-1.6l5.6-1.2l5.5-0.6l5.5-0.2l5.3 0.2l5.4 0.7l5.2 1.1l5.2 1.5l5.1 2l5 2.4l3.3 1.8M555.5 834.7l6.2-7.8l6.2-7.2l6.1-6.6l6.1-6.2l6.1-5.6l6-5.1l6-4.6l5.9-4.1l5.9-3.6l5.8-3l5.8-2.6l5.7-2.1l5.6-1.6l5.6-1.1l5.5-0.7l5.5-0.2l5.4 0.2l5.3 0.7l5.2 1.1l5.2 1.6l5.1 2l5.1 2.3l1.2 0.7M553.2 833.3l6.2-7.7l6.2-7.2l6.2-6.6l6.1-6.2l6-5.6l6.1-5.1l5.9-4.5l6-4.1l5.8-3.6l5.9-3l5.7-2.6l5.7-2.1l5.7-1.6l5.6-1.1l5.5-0.7l5.4-0.2l5.4 0.3l5.3 0.7l5.3 1.1l5.2 1.5l5.1 2l4.1 1.9M551 832.1l6.2-7.7l6.2-7.2l6.1-6.6l6.1-6.2l6.1-5.6l6-5l6-4.6l5.9-4.1l5.9-3.5l5.8-3.1l5.8-2.5l5.7-2.1l5.6-1.6l5.6-1.1l5.5-0.7l5.5-0.2l5.4 0.3l5.3 0.7l5.3 1.1l5.2 1.6l5.1 1.9l1.9 0.9M548.8 830.9l6.2-7.7l6.2-7.1l6.1-6.6l6.1-6.1l6.1-5.6l6-5.1l5.9-4.6l6-4l5.8-3.5l5.8-3.1l5.8-2.5l5.7-2.1l5.7-1.6l5.6-1.1l5.5-0.7l5.4-0.2l5.4 0.3l5.4 0.7l5.2 1.1l5.2 1.6l4.8 1.8M546.6 829.8l6.2-7.6l6.1-7.2l6.2-6.6l6.1-6l6-5.6l6-5.1l6-4.5l5.9-4l5.9-3.6l5.8-3l5.8-2.6l5.7-2l5.6-1.6l5.6-1.1l5.5-0.7l5.5-0.2l5.4 0.3l5.3 0.7l5.3 1.1l5.2 1.6l2.5 0.9M544.4 828.9l6.2-7.7l6.1-7.1l6.2-6.6l6.1-6.1l6-5.5l6-5l6-4.6l5.9-4l5.9-3.5l5.8-3.1l5.7-2.5l5.7-2.1l5.7-1.5l5.6-1.1l5.5-0.7l5.5-0.2l5.4 0.3l5.3 0.7l5.3 1.1l5.2 1.6l0.2 0.1M542.2 828l6.2-7.6l6.1-7.1l6.2-6.6l6.1-6.1l6-5.5l6-5l6-4.6l5.9-4l5.9-3.5l5.8-3l5.7-2.5l5.7-2.1l5.7-1.6l5.6-1.1l5.5-0.6l5.5-0.2l5.4 0.3l5.3 0.7l5.3 1.1l3.1 0.9M540 827.2l6.2-7.6l6.2-7.1l6.1-6.5l6.1-6.1l6-5.5l6-5l6-4.5l5.9-4l5.8-3.6l5.9-3l5.7-2.5l5.7-2l5.7-1.6l5.6-1.1l5.5-0.6l5.5-0.2l5.4 0.2l5.3 0.7l5.3 1.2l0.7 0.2M537.9 826.5l6.2-7.6l6.1-7l6.1-6.6l6.1-6l6-5.5l6-5l6-4.5l5.9-4l5.9-3.5l5.8-3l5.7-2.5l5.7-2.1l5.7-1.6l5.6-1.1l5.5-0.6l5.5-0.2l5.4 0.3l5.3 0.7l3.6 0.7M535.7 825.9l6.2-7.5l6.1-7.1l6.2-6.5l6-6l6.1-5.5l6-5l5.9-4.5l5.9-4l5.9-3.5l5.8-3l5.7-2.5l5.7-2.1l5.7-1.5l5.6-1.1l5.5-0.6l5.5-0.2l5.4 0.2l5.3 0.7l1.2 0.2M533.6 825.4l6.2-7.5l6.1-7.1l6.1-6.5l6.1-6l6-5.5l6-5l5.9-4.4l5.9-4l5.9-3.5l5.8-3l5.8-2.5l5.7-2l5.6-1.6l5.6-1.1l5.5-0.6l5.5-0.2l5.4 0.3l4 0.4M531.5 825l6.1-7.5l6.2-7l6.1-6.5l6-6l6.1-5.5l5.9-5l6-4.5l5.9-3.9l5.8-3.5l5.8-3l5.8-2.5l5.7-2l5.6-1.6l5.6-1.1l5.5-0.6l5.5-0.2l5.4 0.3l1.5 0.1M529.4 824.7l6.1-7.5l6.2-7l6-6.5l6.1-6l6-5.5l6-4.9l5.9-4.5l5.9-3.9l5.9-3.5l5.8-3l5.7-2.5l5.7-2l5.7-1.6l5.6-1.1l5.5-0.6l5.5-0.2l4.3 0.2M527.3 824.5l6.1-7.5l6.1-7l6.1-6.5l6.1-6l6-5.4l6-5l5.9-4.4l5.9-4l5.8-3.4l5.8-3l5.8-2.5l5.7-2l5.6-1.6l5.6-1.1l5.5-0.6l5.5-0.2l1.7 0M525.2 824.4l6.1-7.5l6.2-7l6-6.5l6.1-5.9l6-5.5l5.9-4.9l6-4.5l5.9-3.9l5.8-3.5l5.8-2.9l5.7-2.5l5.7-2.1l5.7-1.5l5.6-1.1l5.5-0.6l4.5-0.2M523.1 824.3l6.2-7.5l6.1-6.9l6-6.5l6.1-5.9l6-5.5l5.9-4.9l6-4.4l5.9-4l5.8-3.4l5.8-3l5.7-2.5l5.7-2l5.6-1.5l5.6-1.1l5.6-0.7l1.8-0.1M521.1 824.4l6.1-7.5l6.1-7l6.1-6.4l6-5.9l6-5.5l6-4.9l5.9-4.4l5.8-3.9l5.9-3.5l5.8-3l5.7-2.4l5.7-2.1l5.6-1.5l5.6-1.1l4.6-0.6M519.1 824.5l6.1-7.5l6.1-6.9l6-6.4l6-5.9l6-5.5l6-4.9l5.9-4.4l5.9-3.9l5.8-3.5l5.8-2.9l5.7-2.5l5.7-2l5.6-1.6l5.6-1.1l1.8-0.2M517 824.7l6.1-7.4l6.1-7l6.1-6.4l6-5.9l6-5.4l5.9-4.9l5.9-4.4l5.9-3.9l5.8-3.5l5.8-2.9l5.7-2.5l5.7-2l5.6-1.6l4.6-0.9M515 825l6.1-7.4l6.1-6.9l6-6.4l6-5.9l6-5.4l5.9-4.9l5.9-4.4l5.9-3.9l5.8-3.5l5.8-2.9l5.7-2.5l5.7-2l5.6-1.6l1.8-0.3M513 825.4l6.1-7.4l6.1-6.9l6-6.4l6-5.9l6-5.4l5.9-4.8l5.9-4.4l5.9-4l5.8-3.4l5.7-2.9l5.8-2.5l5.6-2l4.5-1.3M511 825.9l6.1-7.4l6.1-6.9l6-6.4l6-5.8l5.9-5.4l6-4.9l5.9-4.4l5.8-3.9l5.8-3.4l5.8-3l5.7-2.5l5.7-2l1.5-0.4M509.1 826.4l6-7.3l6.1-6.9l6-6.4l6-5.8l5.9-5.4l6-4.9l5.8-4.4l5.9-3.9l5.8-3.4l5.7-2.9l5.8-2.5l4.1-1.5M507.1 827.1l6.1-7.4l6-6.8l6-6.4l6-5.8l5.9-5.4l6-4.9l5.8-4.3l5.9-3.9l5.8-3.5l5.7-2.9l5.7-2.5l1.2-0.4M505.2 827.8l6-7.3l6-6.9l6-6.3l6-5.9l6-5.3l5.9-4.9l5.8-4.3l5.9-3.9l5.8-3.5l5.7-2.9l3.7-1.7M503.2 828.6l6.1-7.3l6-6.8l6-6.4l5.9-5.8l6-5.3l5.9-4.9l5.8-4.4l5.9-3.9l5.8-3.4l5.7-2.9l0.6-0.3M501.3 829.5l6.1-7.3l6-6.8l5.9-6.3l6-5.9l5.9-5.3l5.9-4.8l5.9-4.4l5.8-3.9l5.8-3.4l3.1-1.7M499.4 830.5l6-7.3l6-6.8l6-6.3l6-5.8l5.9-5.4l5.9-4.8l5.8-4.4l5.8-3.8l5.7-3.4M497.5 831.5l6.1-7.2l5.9-6.8l6-6.3l5.9-5.8l5.9-5.4l5.9-4.8l5.9-4.3l5.8-3.9l2.4-1.5M495.7 832.7l6-7.3l5.9-6.8l6-6.3l5.9-5.8l5.9-5.3l5.9-4.8l5.8-4.3l5-3.4M493.8 833.9l6-7.3l6-6.7l5.9-6.3l5.9-5.8l5.9-5.3l5.9-4.8l5.8-4.4l1.6-1.1M627.3 922.1l-6.3-10.8l-6.2-10.2l-6.2-9.5l-6.1-8.9l-6.1-8.2l-6-7.6l-6-6.9l-5.9-6.4l-5.9-5.6l-5.8-5.1l-5.7-4.4l-5.6-3.8l-5.6-3.2l-5.5-2.6l-5.4-2l-5.4-1.5l-5.3-0.8l-5.2-0.3l-5.1 0.3l-5 0.8l-4.9 1.3l-4.9 1.9l-4.7 2.4l-4.7 2.9M629.8 918.7l-6.3-10.8l-6.2-10.2l-6.2-9.5l-6.1-8.8l-6.1-8.2l-6-7.6l-6-6.9l-5.9-6.3l-5.9-5.6l-5.8-5.1l-5.7-4.4l-5.6-3.8l-5.6-3.2l-5.5-2.5l-5.5-2l-5.3-1.4l-5.3-0.9l-5.2-0.2l-5.1 0.2l-5 0.9l-5 1.3l-4.8 1.9l-4.8 2.4l-4.7 2.9M632.3 915.3l-6.3-10.7l-6.2-10.2l-6.2-9.4l-6.1-8.9l-6.1-8.1l-6-7.6l-6-6.9l-5.9-6.2l-5.9-5.7l-5.8-5l-5.7-4.4l-5.7-3.7l-5.5-3.2l-5.6-2.6l-5.4-2l-5.4-1.3l-5.2-0.9l-5.3-0.2l-5.1 0.3l-5 0.8l-5 1.4l-4.8 1.9l-4.8 2.4l-4.7 2.9M634.8 912.1l-6.3-10.8l-6.2-10l-6.2-9.5l-6.1-8.8l-6.1-8.2l-6-7.5l-6-6.9l-5.9-6.2l-5.9-5.6l-5.8-5l-5.7-4.4l-5.7-3.7l-5.6-3.2l-5.5-2.5l-5.4-2l-5.4-1.4l-5.3-0.8l-5.2-0.2l-5.1 0.3l-5.1 0.9l-4.9 1.4l-4.9 1.9l-4.8 2.4l-4.7 2.9M637.3 908.9l-6.3-10.7l-6.2-10.1l-6.2-9.4l-6.1-8.8l-6.1-8.1l-6-7.5l-6-6.9l-5.9-6.2l-5.9-5.6l-5.8-4.9l-5.7-4.4l-5.7-3.7l-5.6-3.2l-5.5-2.5l-5.5-1.9l-5.3-1.4l-5.3-0.8l-5.3-0.2l-5.1 0.3l-5.1 0.9l-4.9 1.4l-4.9 1.9l-4.8 2.5l-4.7 2.9M639.7 905.9l-6.2-10.7l-6.2-10.1l-6.2-9.4l-6.1-8.7l-6.1-8.2l-6-7.4l-6-6.9l-5.9-6.2l-5.9-5.6l-5.8-4.9l-5.8-4.3l-5.6-3.8l-5.6-3.1l-5.6-2.5l-5.4-1.9l-5.4-1.4l-5.3-0.7l-5.2-0.2l-5.2 0.3l-5 0.9l-5 1.4l-4.9 2l-4.8 2.4l-4.7 3M642.2 902.9l-6.2-10.7l-6.2-10l-6.2-9.4l-6.1-8.7l-6.1-8.1l-6.1-7.5l-5.9-6.8l-6-6.2l-5.8-5.5l-5.8-5l-5.8-4.3l-5.7-3.7l-5.6-3.1l-5.5-2.5l-5.5-1.9l-5.4-1.3l-5.3-0.8l-5.2-0.2l-5.1 0.4l-5.1 0.9l-5 1.4l-4.9 2l-4.8 2.4l-4.7 3M644.7 900l-6.3-10.6l-6.2-10l-6.1-9.4l-6.2-8.7l-6.1-8.1l-6-7.4l-6-6.8l-5.9-6.2l-5.9-5.5l-5.8-5l-5.7-4.3l-5.7-3.6l-5.6-3.1l-5.6-2.5l-5.4-1.9l-5.4-1.3l-5.3-0.8l-5.3-0.1l-5.1 0.3l-5.1 1l-5 1.4l-4.9 2l-4.8 2.4l-4.8 3M647.1 897.2l-6.2-10.6l-6.2-10l-6.2-9.3l-6.1-8.7l-6.1-8.1l-6-7.4l-6-6.8l-5.9-6.1l-5.9-5.6l-5.8-4.9l-5.8-4.2l-5.6-3.7l-5.7-3.1l-5.5-2.4l-5.5-1.9l-5.4-1.3l-5.3-0.7l-5.2-0.2l-5.2 0.4l-5.1 0.9l-5 1.5l-4.9 1.9l-4.9 2.5l-4.7 3M649.6 894.5l-6.3-10.6l-6.2-10l-6.1-9.3l-6.2-8.7l-6-8l-6.1-7.4l-6-6.8l-5.9-6.1l-5.9-5.5l-5.8-4.9l-5.7-4.2l-5.7-3.7l-5.6-3l-5.6-2.5l-5.4-1.9l-5.5-1.2l-5.3-0.8l-5.2-0.1l-5.2 0.4l-5.1 0.9l-5 1.5l-4.9 2l-4.9 2.5l-4.7 3M652 891.8l-6.2-10.5l-6.2-10l-6.2-9.3l-6.1-8.6l-6.1-8l-6-7.4l-6-6.7l-5.9-6.1l-5.9-5.5l-5.8-4.9l-5.8-4.2l-5.7-3.7l-5.6-3l-5.5-2.5l-5.5-1.8l-5.4-1.3l-5.4-0.7l-5.2-0.1l-5.2 0.4l-5.1 0.9l-5 1.5l-5 2l-4.8 2.5l-4.8 3M654.4 889.3l-6.2-10.5l-6.2-10l-6.2-9.2l-6.1-8.7l-6.1-8l-6-7.3l-6-6.7l-5.9-6.1l-5.9-5.5l-5.8-4.8l-5.7-4.3l-5.7-3.6l-5.7-3l-5.5-2.4l-5.5-1.9l-5.4-1.2l-5.4-0.7l-5.2-0.2l-5.2 0.5l-5.1 0.9l-5 1.5l-5 2l-4.8 2.5l-4.8 3M656.8 886.8l-6.2-10.5l-6.2-9.9l-6.1-9.2l-6.2-8.6l-6-8l-6.1-7.3l-5.9-6.7l-6-6.1l-5.8-5.5l-5.9-4.8l-5.7-4.2l-5.7-3.6l-5.6-3l-5.6-2.4l-5.5-1.9l-5.4-1.2l-5.3-0.7l-5.3-0.1l-5.2 0.4l-5.1 1l-5.1 1.5l-4.9 2l-4.9 2.5l-4.8 3M659.2 884.5l-6.2-10.5l-6.2-9.9l-6.1-9.2l-6.1-8.6l-6.1-8l-6-7.3l-6-6.7l-5.9-6l-5.9-5.5l-5.8-4.8l-5.8-4.2l-5.7-3.6l-5.6-3l-5.6-2.4l-5.5-1.8l-5.4-1.2l-5.3-0.7l-5.3-0.1l-5.2 0.4l-5.1 1l-5.1 1.5l-4.9 2.1l-4.9 2.5l-4.8 3M661.6 882.2l-6.2-10.5l-6.2-9.8l-6.1-9.2l-6.1-8.6l-6.1-7.9l-6-7.3l-6-6.7l-5.9-6l-5.9-5.5l-5.8-4.8l-5.8-4.1l-5.7-3.6l-5.6-3l-5.6-2.4l-5.5-1.8l-5.4-1.2l-5.4-0.7l-5.2-0.1l-5.2 0.5l-5.2 0.9l-5 1.6l-5 2l-4.9 2.5l-4.8 3.1M664 880l-6.2-10.5l-6.2-9.8l-6.1-9.2l-6.1-8.5l-6.1-7.9l-6-7.3l-6-6.7l-5.9-6l-5.9-5.4l-5.8-4.8l-5.8-4.1l-5.7-3.6l-5.6-3l-5.6-2.3l-5.5-1.8l-5.4-1.3l-5.4-0.6l-5.3-0.1l-5.2 0.5l-5.1 1l-5 1.5l-5 2l-4.9 2.5l-4.8 3.1M666.4 877.9l-6.2-10.5l-6.2-9.8l-6.1-9.1l-6.1-8.6l-6.1-7.8l-6-7.3l-6-6.6l-5.9-6l-5.9-5.4l-5.8-4.8l-5.8-4.2l-5.7-3.5l-5.6-3l-5.6-2.3l-5.5-1.8l-5.4-1.2l-5.4-0.6l-5.3-0.1l-5.2 0.4l-5.1 1l-5.1 1.6l-5 2l-4.9 2.5l-4.8 3.1M668.8 875.8l-6.2-10.4l-6.2-9.7l-6.1-9.2l-6.1-8.5l-6.1-7.9l-6-7.2l-6-6.6l-5.9-6l-5.9-5.4l-5.8-4.7l-5.8-4.2l-5.7-3.5l-5.6-3l-5.6-2.3l-5.5-1.8l-5.5-1.2l-5.3-0.6l-5.3-0.1l-5.2 0.5l-5.2 1l-5 1.5l-5 2.1l-4.9 2.5l-4.9 3.1M671.1 873.9l-6.2-10.4l-6.1-9.8l-6.2-9.1l-6.1-8.5l-6-7.8l-6.1-7.2l-5.9-6.6l-6-6l-5.8-5.4l-5.8-4.7l-5.8-4.1l-5.7-3.6l-5.7-2.9l-5.5-2.3l-5.5-1.8l-5.5-1.2l-5.4-0.6l-5.3-0.1l-5.2 0.5l-5.1 1l-5.1 1.6l-5 2l-4.9 2.6l-4.8 3M673.5 872l-6.2-10.3l-6.2-9.8l-6.1-9.1l-6.1-8.4l-6.1-7.9l-6-7.2l-6-6.6l-5.9-5.9l-5.9-5.4l-5.8-4.7l-5.7-4.1l-5.7-3.5l-5.7-2.9l-5.6-2.4l-5.5-1.7l-5.4-1.2l-5.4-0.6l-5.3-0.1l-5.2 0.5l-5.2 1l-5.1 1.6l-5 2l-4.9 2.6l-3.7 2.3M675.8 870.2l-6.2-10.3l-6.1-9.7l-6.2-9.1l-6.1-8.4l-6-7.8l-6-7.2l-6-6.6l-5.9-5.9l-5.9-5.4l-5.8-4.7l-5.8-4.1l-5.7-3.5l-5.6-2.9l-5.6-2.3l-5.5-1.7l-5.5-1.2l-5.3-0.6l-5.3-0.1l-5.3 0.5l-5.1 1l-5.1 1.6l-5 2l-5 2.6l-2.4 1.5M678.1 868.5l-6.2-10.3l-6.1-9.7l-6.1-9l-6.1-8.4l-6.1-7.8l-6-7.2l-5.9-6.6l-6-5.9l-5.8-5.3l-5.8-4.7l-5.8-4.1l-5.7-3.5l-5.7-2.9l-5.5-2.3l-5.6-1.7l-5.4-1.2l-5.4-0.6l-5.3 0l-5.2 0.5l-5.2 1l-5.1 1.6l-5 2l-4.9 2.6l-1.1 0.6M680.4 866.9l-6.1-10.3l-6.2-9.6l-6.1-9.1l-6.1-8.4l-6-7.7l-6-7.2l-6-6.5l-5.9-5.9l-5.9-5.3l-5.8-4.7l-5.8-4.1l-5.7-3.5l-5.6-2.9l-5.6-2.3l-5.5-1.7l-5.5-1.1l-5.4-0.6l-5.3-0.1l-5.2 0.5l-5.2 1.1l-5.1 1.5l-5 2.1l-4.6 2.4M682.7 865.4l-6.1-10.3l-6.2-9.6l-6.1-9l-6.1-8.4l-6-7.8l-6-7.1l-6-6.5l-5.9-5.9l-5.8-5.3l-5.9-4.7l-5.7-4l-5.7-3.5l-5.7-2.9l-5.6-2.3l-5.5-1.7l-5.4-1.1l-5.4-0.6l-5.4-0.1l-5.2 0.5l-5.2 1.1l-5.1 1.5l-5 2.1l-3.2 1.6M685 864l-6.1-10.3l-6.2-9.6l-6.1-9l-6-8.4l-6.1-7.7l-6-7.1l-5.9-6.5l-6-5.9l-5.8-5.3l-5.8-4.6l-5.8-4.1l-5.7-3.5l-5.7-2.8l-5.5-2.3l-5.6-1.7l-5.4-1.2l-5.4-0.5l-5.3-0.1l-5.3 0.5l-5.2 1.1l-5.1 1.5l-5 2.1l-1.8 0.9M687.3 862.6l-6.1-10.2l-6.2-9.6l-6.1-9l-6-8.4l-6.1-7.7l-6-7.1l-5.9-6.5l-5.9-5.8l-5.9-5.3l-5.8-4.6l-5.8-4.1l-5.7-3.4l-5.6-2.9l-5.6-2.3l-5.5-1.7l-5.5-1.1l-5.4-0.6l-5.3 0l-5.3 0.5l-5.2 1.1l-5.1 1.5l-5 2.1l-0.4 0.2M689.6 861.3l-6.2-10.2l-6.1-9.6l-6.1-8.9l-6-8.4l-6.1-7.7l-6-7.1l-5.9-6.4l-5.9-5.9l-5.9-5.2l-5.8-4.6l-5.8-4.1l-5.7-3.4l-5.6-2.9l-5.6-2.2l-5.5-1.7l-5.5-1.2l-5.4-0.5l-5.3 0l-5.3 0.5l-5.2 1l-5.1 1.6l-4 1.6M691.8 860.1l-6.1-10.2l-6.1-9.5l-6.1-9l-6.1-8.3l-6-7.7l-6-7l-5.9-6.5l-5.9-5.8l-5.9-5.3l-5.8-4.6l-5.8-4l-5.7-3.4l-5.6-2.9l-5.6-2.2l-5.5-1.7l-5.5-1.1l-5.4-0.6l-5.3 0l-5.3 0.5l-5.2 1l-5.1 1.6l-2.5 1M694.1 859l-6.2-10.2l-6.1-9.5l-6-8.9l-6.1-8.3l-6-7.7l-6-7l-5.9-6.5l-5.9-5.8l-5.9-5.2l-5.8-4.6l-5.8-4l-5.7-3.5l-5.6-2.8l-5.6-2.2l-5.5-1.7l-5.5-1.1l-5.4-0.6l-5.3 0l-5.3 0.5l-5.2 1l-5.1 1.6l-1 0.4M696.3 857.9l-6.1-10.1l-6.1-9.5l-6.1-8.9l-6-8.3l-6.1-7.6l-5.9-7.1l-6-6.4l-5.9-5.8l-5.8-5.2l-5.8-4.6l-5.8-4l-5.7-3.4l-5.6-2.8l-5.6-2.3l-5.6-1.7l-5.4-1.1l-5.4-0.5l-5.4-0.1l-5.2 0.6l-5.2 1l-4.6 1.4M698.5 857l-6.1-10.1l-6.1-9.5l-6-8.9l-6.1-8.3l-6-7.6l-6-7l-5.9-6.4l-5.9-5.8l-5.9-5.2l-5.8-4.6l-5.7-4l-5.7-3.4l-5.7-2.8l-5.6-2.3l-5.5-1.6l-5.4-1.1l-5.5-0.6l-5.3 0l-5.3 0.5l-5.2 1.1l-3.1 0.8M700.7 856.1l-6.1-10.1l-6-9.5l-6.1-8.8l-6-8.3l-6.1-7.6l-5.9-7l-6-6.4l-5.8-5.8l-5.9-5.1l-5.8-4.6l-5.7-4l-5.7-3.4l-5.7-2.8l-5.6-2.2l-5.5-1.7l-5.5-1.1l-5.4-0.6l-5.3 0l-5.3 0.5l-5.2 1.1l-1.5 0.4M702.9 855.3l-6.1-10.1l-6-9.4l-6.1-8.9l-6-8.2l-6-7.6l-6-7l-5.9-6.4l-5.9-5.7l-5.8-5.2l-5.8-4.6l-5.8-3.9l-5.7-3.4l-5.6-2.8l-5.6-2.3l-5.6-1.6l-5.4-1.1l-5.4-0.6l-5.4 0l-5.3 0.5l-5.1 1.1M705.1 854.5l-6.1-10l-6-9.4l-6.1-8.8l-6-8.2l-6-7.6l-6-7l-5.9-6.4l-5.9-5.7l-5.8-5.2l-5.8-4.5l-5.8-4l-5.6-3.4l-5.7-2.8l-5.6-2.2l-5.5-1.6l-5.5-1.1l-5.4-0.6l-5.3 0l-5.3 0.5l-3.6 0.7M707.3 853.9l-6.1-10l-6-9.4l-6.1-8.8l-6-8.2l-6-7.6l-5.9-6.9l-6-6.4l-5.8-5.7l-5.9-5.2l-5.8-4.5l-5.7-4l-5.7-3.3l-5.7-2.8l-5.5-2.3l-5.6-1.6l-5.4-1.1l-5.5-0.5l-5.3-0.1l-5.3 0.6l-1.9 0.3M709.5 853.3l-6.1-10l-6.1-9.4l-6-8.7l-6-8.2l-6-7.5l-5.9-7l-6-6.3l-5.8-5.8l-5.9-5.1l-5.8-4.5l-5.7-4l-5.7-3.3l-5.6-2.8l-5.6-2.2l-5.5-1.7l-5.5-1.1l-5.4-0.5l-5.4 0l-5.3 0.5l-0.3 0M711.6 852.8l-6-9.9l-6.1-9.4l-6-8.8l-6-8.1l-6-7.5l-5.9-7l-6-6.3l-5.8-5.7l-5.9-5.1l-5.7-4.6l-5.8-3.9l-5.7-3.4l-5.6-2.7l-5.6-2.3l-5.5-1.6l-5.5-1.1l-5.4-0.5l-5.4 0l-3.9 0.3M713.8 852.4l-6.1-9.9l-6-9.4l-6.1-8.7l-6-8.2l-5.9-7.5l-6-6.9l-5.9-6.3l-5.8-5.7l-5.9-5.1l-5.7-4.5l-5.8-4l-5.7-3.3l-5.6-2.8l-5.6-2.2l-5.5-1.6l-5.5-1.1l-5.4-0.6l-5.3 0l-2.3 0.2M715.9 852.1l-6.1-10l-6-9.3l-6-8.7l-6-8.1l-6-7.5l-5.9-6.9l-5.9-6.3l-5.9-5.7l-5.8-5.1l-5.8-4.5l-5.7-3.9l-5.7-3.4l-5.6-2.8l-5.6-2.2l-5.5-1.6l-5.5-1.1l-5.4-0.5l-5.3 0l-0.6 0M718 851.8l-6-9.9l-6.1-9.3l-6-8.7l-6-8.1l-5.9-7.5l-5.9-6.9l-5.9-6.3l-5.9-5.6l-5.8-5.1l-5.8-4.5l-5.7-3.9l-5.7-3.4l-5.6-2.8l-5.6-2.2l-5.5-1.6l-5.5-1.1l-5.4-0.5l-4.2-0.1M720.1 851.6l-6-9.9l-6-9.3l-6-8.6l-6-8.1l-6-7.5l-5.9-6.9l-5.9-6.2l-5.8-5.7l-5.8-5.1l-5.8-4.5l-5.7-3.9l-5.7-3.3l-5.6-2.8l-5.6-2.2l-5.5-1.6l-5.5-1.1l-5.4-0.5l-2.5-0.1M722.2 851.5l-6-9.9l-6-9.2l-6-8.7l-6-8.1l-5.9-7.4l-6-6.9l-5.8-6.2l-5.9-5.7l-5.8-5.1l-5.7-4.4l-5.8-3.9l-5.6-3.4l-5.7-2.7l-5.6-2.2l-5.5-1.7l-5.4-1l-5.5-0.6l-0.7 0M724.3 851.4l-6-9.8l-6-9.2l-6-8.7l-6-8l-5.9-7.5l-5.9-6.8l-5.9-6.2l-5.8-5.7l-5.8-5.1l-5.8-4.4l-5.7-3.9l-5.7-3.4l-5.6-2.7l-5.6-2.2l-5.5-1.6l-5.5-1.1l-4.3-0.5M726.3 851.5l-6-9.9l-6-9.2l-5.9-8.6l-6-8l-5.9-7.4l-5.9-6.9l-5.9-6.2l-5.8-5.6l-5.8-5.1l-5.8-4.5l-5.7-3.8l-5.7-3.4l-5.6-2.7l-5.5-2.2l-5.6-1.6l-5.4-1.1l-2.6-0.4M728.4 851.6l-6-9.8l-6-9.2l-6-8.6l-5.9-8l-5.9-7.4l-5.9-6.9l-5.9-6.2l-5.8-5.6l-5.8-5.1l-5.7-4.4l-5.8-3.9l-5.6-3.3l-5.6-2.8l-5.6-2.1l-5.5-1.7l-5.5-1.1l-0.7-0.1M730.4 851.7l-6-9.7l-5.9-9.2l-6-8.6l-5.9-8l-5.9-7.4l-5.9-6.8l-5.9-6.2l-5.8-5.6l-5.8-5l-5.7-4.5l-5.7-3.9l-5.7-3.3l-5.6-2.7l-5.6-2.2l-5.5-1.6l-4.3-1M732.4 852l-5.9-9.8l-6-9.1l-5.9-8.6l-6-8l-5.9-7.3l-5.9-6.8l-5.8-6.2l-5.8-5.6l-5.8-5.1l-5.7-4.4l-5.7-3.9l-5.7-3.3l-5.6-2.7l-5.6-2.2l-5.5-1.6l-2.4-0.6M734.5 852.3l-6-9.7l-6-9.2l-5.9-8.5l-5.9-8l-5.9-7.3l-5.9-6.8l-5.8-6.2l-5.8-5.6l-5.8-5l-5.7-4.4l-5.7-3.9l-5.7-3.3l-5.6-2.8l-5.6-2.1l-5.5-1.7l-0.5-0.1M736.5 852.7l-6-9.7l-5.9-9.1l-6-8.6l-5.9-7.9l-5.9-7.4l-5.8-6.7l-5.9-6.2l-5.8-5.6l-5.7-5l-5.8-4.4l-5.7-3.9l-5.6-3.3l-5.6-2.7l-5.6-2.2l-4.1-1.3M738.4 853.1l-5.9-9.6l-5.9-9.1l-6-8.6l-5.9-7.9l-5.8-7.3l-5.9-6.8l-5.8-6.1l-5.8-5.6l-5.8-5l-5.7-4.4l-5.7-3.9l-5.6-3.3l-5.6-2.7l-5.6-2.2l-2.2-0.7M740.4 853.7l-5.9-9.7l-6-9.1l-5.9-8.5l-5.9-7.9l-5.8-7.3l-5.9-6.7l-5.8-6.2l-5.8-5.5l-5.7-5l-5.7-4.5l-5.7-3.8l-5.7-3.3l-5.6-2.7l-5.5-2.2l-0.3-0.1M742.4 854.3l-6-9.7l-5.9-9l-5.9-8.5l-5.9-7.9l-5.8-7.3l-5.9-6.7l-5.8-6.2l-5.7-5.5l-5.8-5l-5.7-4.4l-5.7-3.9l-5.6-3.3l-5.6-2.7l-3.8-1.6M744.3 854.9l-5.9-9.6l-5.9-9l-5.9-8.5l-5.9-7.9l-5.8-7.3l-5.9-6.7l-5.8-6.1l-5.7-5.5l-5.8-5l-5.7-4.4l-5.6-3.9l-5.7-3.3l-5.6-2.7l-1.8-0.8M746.2 855.7l-5.9-9.6l-5.9-9.1l-5.8-8.4l-5.9-7.9l-5.8-7.2l-5.9-6.7l-5.8-6.1l-5.7-5.6l-5.8-5l-5.7-4.4l-5.6-3.8l-5.6-3.3l-5.4-2.6M748.2 856.5l-5.9-9.6l-5.9-9l-5.9-8.5l-5.8-7.8l-5.9-7.3l-5.8-6.6l-5.8-6.1l-5.7-5.6l-5.8-4.9l-5.7-4.4l-5.6-3.9l-5.6-3.3l-3.3-1.6M750.1 857.3l-5.9-9.5l-5.9-9l-5.8-8.4l-5.9-7.9l-5.8-7.2l-5.8-6.7l-5.8-6.1l-5.7-5.5l-5.8-4.9l-5.7-4.4l-5.6-3.9l-5.6-3.3l-1.3-0.6M752 858.2l-5.9-9.5l-5.9-9l-5.8-8.3l-5.9-7.8l-5.8-7.3l-5.8-6.6l-5.7-6.1l-5.8-5.5l-5.7-5l-5.7-4.4l-5.6-3.8l-4.8-2.8M753.8 859.2l-5.8-9.5l-5.9-8.9l-5.8-8.4l-5.8-7.8l-5.8-7.2l-5.8-6.6l-5.8-6.1l-5.7-5.5l-5.7-5l-5.7-4.4l-5.6-3.8l-2.7-1.6M755.7 860.3l-5.8-9.5l-5.9-8.9l-5.8-8.4l-5.8-7.7l-5.8-7.3l-5.8-6.6l-5.8-6.1l-5.7-5.5l-5.7-4.9l-5.6-4.4l-5.7-3.8l-0.5-0.3M757.6 861.4l-5.9-9.5l-5.8-8.9l-5.8-8.3l-5.8-7.8l-5.8-7.1l-5.8-6.7l-5.7-6l-5.7-5.5l-5.7-4.9l-5.7-4.4l-4-2.8M759.4 862.6l-5.8-9.4l-5.8-8.9l-5.9-8.3l-5.7-7.8l-5.8-7.2l-5.8-6.6l-5.7-6l-5.7-5.5l-5.7-4.9l-5.7-4.4l-1.8-1.3" fill="none" stroke="#000" stroke-width="1.20" stroke-linejoin="round"/>
<ellipse cx="626.3" cy="735.0" rx="3.3" ry="3.0" fill="#5c1c16" stroke="#2a0806" stroke-width=".5"/>
<ellipse cx="626.3" cy="747.4" rx="3.3" ry="2.4" fill="#5c1c16" stroke="#2a0806" stroke-width=".5"/>
<ellipse cx="626.3" cy="754.9" rx="3.3" ry="2.4" fill="#5c1c16" stroke="#2a0806" stroke-width=".5"/>
<ellipse cx="626.3" cy="759.9" rx="3.3" ry="2.4" fill="#5c1c16" stroke="#2a0806" stroke-width=".5"/>
<ellipse cx="626.3" cy="764.9" rx="3.3" ry="2.4" fill="#5c1c16" stroke="#2a0806" stroke-width=".5"/>
<text x="477.7" y="741.3" text-anchor="end" class="tk">206</text><text x="478.9" y="775.4" text-anchor="end" class="tk">193.5</text><text x="481.0" y="808.9" text-anchor="end" class="tk">181</text><text x="482.6" y="843.2" text-anchor="end" class="tk">168.5</text><text x="484.9" y="876.3" text-anchor="end" class="tk">156</text><text x="486.3" y="919.0" text-anchor="end" class="tk">37.00</text><text x="524.7" y="939.7" text-anchor="end" class="tk">34.50</text><text x="556.2" y="954.5" text-anchor="end" class="tk">32.00</text><text x="588.4" y="970.2" text-anchor="end" class="tk">29.50</text><text x="621.8" y="985.8" text-anchor="end" class="tk">27.00</text><text x="633.1" y="985.9" class="tk">4.50</text><text x="664.8" y="970.2" class="tk">5.00</text><text x="697.8" y="954.5" class="tk">5.50</text><text x="729.7" y="939.7" class="tk">6.00</text><text x="762.8" y="923.7" class="tk">6.50</text><text x="512.2" y="986.2" text-anchor="middle" class="ti">D: Tempearture</text><text x="743.1" y="979.5" text-anchor="middle" class="ti">C: pH</text><text transform="translate(446.0 825.4) rotate(-90)" text-anchor="middle" class="tz">Amorphadiene (mg/l)</text><text x="635.0" y="1016.6" text-anchor="middle" class="cap">(f)</text></g>
</svg>
</body></html>
